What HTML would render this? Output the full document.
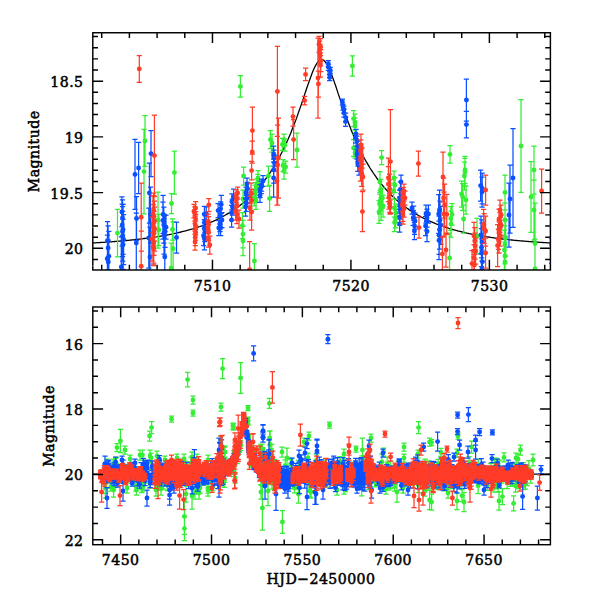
<!DOCTYPE html><html><head><meta charset="utf-8"><title>Light curve</title><style>html,body{margin:0;padding:0;background:#fff}svg{display:block}text{fill:#000}</style></head><body>
<svg width="600" height="600" viewBox="0 0 600 600">
<rect width="600" height="600" fill="#fff"/>
<defs><clipPath id="ct"><rect x="92.8" y="32.75" width="457.59999999999997" height="237.25"/></clipPath><clipPath id="cb"><rect x="92.8" y="307.0" width="457.59999999999997" height="237.70000000000005"/></clipPath></defs>
<path clip-path="url(#ct)" d="M87.6 243.3 L88.8 243.2 L89.9 243.1 L91.1 243.1 L92.3 243.0 L93.5 242.9 L94.7 242.9 L95.8 242.8 L97.0 242.7 L98.2 242.7 L99.4 242.6 L100.6 242.5 L101.8 242.4 L102.9 242.4 L104.1 242.3 L105.3 242.2 L106.5 242.1 L107.7 242.0 L108.8 242.0 L110.0 241.9 L111.2 241.8 L112.4 241.7 L113.6 241.6 L114.8 241.5 L115.9 241.4 L117.1 241.3 L118.3 241.2 L119.5 241.1 L120.7 241.0 L121.8 240.9 L123.0 240.8 L124.2 240.7 L125.4 240.6 L126.6 240.5 L127.8 240.4 L128.9 240.3 L130.1 240.1 L131.3 240.0 L132.5 239.9 L133.7 239.8 L134.8 239.6 L136.0 239.5 L137.2 239.4 L138.4 239.2 L139.6 239.1 L140.8 239.0 L141.9 238.8 L143.1 238.7 L144.3 238.5 L145.5 238.4 L146.7 238.2 L147.8 238.1 L149.0 237.9 L150.2 237.7 L151.4 237.6 L152.6 237.4 L153.8 237.2 L154.9 237.0 L156.1 236.8 L157.3 236.7 L158.5 236.5 L159.7 236.3 L160.8 236.1 L162.0 235.9 L163.2 235.7 L164.4 235.5 L165.6 235.2 L166.8 235.0 L167.9 234.8 L169.1 234.6 L170.3 234.3 L171.5 234.1 L172.7 233.8 L173.8 233.6 L175.0 233.3 L176.2 233.1 L177.4 232.8 L178.6 232.5 L179.8 232.3 L180.9 232.0 L182.1 231.7 L183.3 231.4 L184.5 231.1 L185.7 230.8 L186.9 230.5 L188.0 230.1 L189.2 229.8 L190.4 229.5 L191.6 229.1 L192.8 228.8 L193.9 228.4 L195.1 228.0 L196.3 227.7 L197.5 227.3 L198.7 226.9 L199.9 226.5 L201.0 226.1 L202.2 225.6 L203.4 225.2 L204.6 224.8 L205.8 224.3 L206.9 223.9 L208.1 223.4 L209.3 222.9 L210.5 222.4 L211.7 221.9 L212.9 221.4 L214.0 220.9 L215.2 220.3 L216.4 219.8 L217.6 219.2 L218.8 218.6 L219.9 218.0 L221.1 217.4 L222.3 216.8 L223.5 216.1 L224.7 215.5 L225.9 214.8 L227.0 214.1 L228.2 213.4 L229.4 212.7 L230.6 212.0 L231.8 211.2 L232.9 210.4 L234.1 209.6 L235.3 208.8 L236.5 208.0 L237.7 207.1 L238.9 206.3 L240.0 205.4 L241.2 204.4 L242.4 203.5 L243.6 202.5 L244.8 201.5 L245.9 200.5 L247.1 199.5 L248.3 198.4 L249.5 197.3 L250.7 196.2 L251.9 195.0 L253.0 193.8 L254.2 192.6 L255.4 191.4 L256.6 190.1 L257.8 188.8 L258.9 187.4 L260.1 186.0 L261.3 184.6 L262.5 183.1 L263.7 181.6 L264.9 180.1 L266.0 178.5 L267.2 176.9 L268.4 175.2 L269.6 173.5 L270.8 171.7 L271.9 169.9 L273.1 168.0 L274.3 166.1 L275.5 164.1 L276.7 162.1 L277.9 160.0 L279.0 157.8 L280.2 155.6 L281.4 153.3 L282.6 151.0 L283.8 148.6 L284.9 146.1 L286.1 143.6 L287.3 141.0 L288.5 138.3 L289.7 135.5 L290.9 132.7 L292.0 129.8 L293.2 126.8 L294.4 123.7 L295.6 120.6 L296.8 117.4 L297.9 114.1 L299.1 110.8 L300.3 107.4 L301.5 103.9 L302.7 100.4 L303.9 96.9 L305.0 93.4 L306.2 89.8 L307.4 86.3 L308.6 82.9 L309.8 79.5 L311.0 76.2 L312.1 73.2 L313.3 70.3 L314.5 67.6 L315.7 65.3 L316.9 63.3 L318.0 61.7 L319.2 60.5 L320.4 59.8 L321.6 59.6 L322.8 59.8 L324.0 60.5 L325.1 61.7 L326.3 63.3 L327.5 65.3 L328.7 67.7 L329.9 70.3 L331.0 73.2 L332.2 76.3 L333.4 79.5 L334.6 82.9 L335.8 86.3 L337.0 89.9 L338.1 93.4 L339.3 96.9 L340.5 100.4 L341.7 103.9 L342.9 107.4 L344.0 110.8 L345.2 114.1 L346.4 117.4 L347.6 120.6 L348.8 123.7 L350.0 126.8 L351.1 129.8 L352.3 132.7 L353.5 135.5 L354.7 138.3 L355.9 141.0 L357.0 143.6 L358.2 146.1 L359.4 148.6 L360.6 151.0 L361.8 153.4 L363.0 155.6 L364.1 157.8 L365.3 160.0 L366.5 162.1 L367.7 164.1 L368.9 166.1 L370.0 168.0 L371.2 169.9 L372.4 171.7 L373.6 173.5 L374.8 175.2 L376.0 176.9 L377.1 178.5 L378.3 180.1 L379.5 181.6 L380.7 183.2 L381.9 184.6 L383.0 186.0 L384.2 187.4 L385.4 188.8 L386.6 190.1 L387.8 191.4 L389.0 192.6 L390.1 193.8 L391.3 195.0 L392.5 196.2 L393.7 197.3 L394.9 198.4 L396.0 199.5 L397.2 200.5 L398.4 201.5 L399.6 202.5 L400.8 203.5 L402.0 204.4 L403.1 205.4 L404.3 206.3 L405.5 207.1 L406.7 208.0 L407.9 208.8 L409.0 209.6 L410.2 210.4 L411.4 211.2 L412.6 212.0 L413.8 212.7 L415.0 213.4 L416.1 214.1 L417.3 214.8 L418.5 215.5 L419.7 216.1 L420.9 216.8 L422.0 217.4 L423.2 218.0 L424.4 218.6 L425.6 219.2 L426.8 219.8 L428.0 220.3 L429.1 220.9 L430.3 221.4 L431.5 221.9 L432.7 222.4 L433.9 222.9 L435.1 223.4 L436.2 223.9 L437.4 224.3 L438.6 224.8 L439.8 225.2 L441.0 225.6 L442.1 226.1 L443.3 226.5 L444.5 226.9 L445.7 227.3 L446.9 227.7 L448.1 228.0 L449.2 228.4 L450.4 228.8 L451.6 229.1 L452.8 229.5 L454.0 229.8 L455.1 230.1 L456.3 230.5 L457.5 230.8 L458.7 231.1 L459.9 231.4 L461.1 231.7 L462.2 232.0 L463.4 232.3 L464.6 232.5 L465.8 232.8 L467.0 233.1 L468.1 233.3 L469.3 233.6 L470.5 233.8 L471.7 234.1 L472.9 234.3 L474.1 234.6 L475.2 234.8 L476.4 235.0 L477.6 235.2 L478.8 235.5 L480.0 235.7 L481.1 235.9 L482.3 236.1 L483.5 236.3 L484.7 236.5 L485.9 236.7 L487.1 236.8 L488.2 237.0 L489.4 237.2 L490.6 237.4 L491.8 237.6 L493.0 237.7 L494.1 237.9 L495.3 238.1 L496.5 238.2 L497.7 238.4 L498.9 238.5 L500.1 238.7 L501.2 238.8 L502.4 239.0 L503.6 239.1 L504.8 239.2 L506.0 239.4 L507.1 239.5 L508.3 239.6 L509.5 239.8 L510.7 239.9 L511.9 240.0 L513.1 240.1 L514.2 240.3 L515.4 240.4 L516.6 240.5 L517.8 240.6 L519.0 240.7 L520.1 240.8 L521.3 240.9 L522.5 241.0 L523.7 241.1 L524.9 241.2 L526.1 241.3 L527.2 241.4 L528.4 241.5 L529.6 241.6 L530.8 241.7 L532.0 241.8 L533.1 241.9 L534.3 242.0 L535.5 242.0 L536.7 242.1 L537.9 242.2 L539.1 242.3 L540.2 242.4 L541.4 242.4 L542.6 242.5 L543.8 242.6 L545.0 242.7 L546.1 242.7 L547.3 242.8 L548.5 242.9 L549.7 242.9 L550.9 243.0 L552.1 243.1 L553.2 243.1 L554.4 243.2 L555.6 243.3 L556.8 243.3 L558.0 243.4 L559.1 243.4" fill="none" stroke="#000" stroke-width="1.3"/>
<path clip-path="url(#cb)" d="M91.6 474.1 L92.3 474.1 L92.9 474.1 L93.6 474.1 L94.2 474.1 L94.9 474.1 L95.5 474.1 L96.2 474.1 L96.9 474.1 L97.5 474.1 L98.2 474.1 L98.8 474.1 L99.5 474.1 L100.1 474.1 L100.8 474.1 L101.5 474.1 L102.1 474.1 L102.8 474.1 L103.4 474.1 L104.1 474.1 L104.8 474.1 L105.4 474.1 L106.1 474.1 L106.7 474.1 L107.4 474.1 L108.0 474.1 L108.7 474.1 L109.4 474.1 L110.0 474.1 L110.7 474.1 L111.3 474.1 L112.0 474.1 L112.6 474.1 L113.3 474.1 L114.0 474.1 L114.6 474.1 L115.3 474.1 L115.9 474.1 L116.6 474.1 L117.2 474.1 L117.9 474.1 L118.6 474.1 L119.2 474.1 L119.9 474.1 L120.5 474.1 L121.2 474.1 L121.9 474.1 L122.5 474.1 L123.2 474.1 L123.8 474.1 L124.5 474.1 L125.1 474.1 L125.8 474.1 L126.5 474.1 L127.1 474.1 L127.8 474.1 L128.4 474.1 L129.1 474.1 L129.7 474.1 L130.4 474.1 L131.1 474.1 L131.7 474.1 L132.4 474.1 L133.0 474.1 L133.7 474.1 L134.3 474.1 L135.0 474.1 L135.7 474.1 L136.3 474.1 L137.0 474.1 L137.6 474.1 L138.3 474.1 L138.9 474.1 L139.6 474.1 L140.3 474.1 L140.9 474.1 L141.6 474.1 L142.2 474.1 L142.9 474.1 L143.6 474.1 L144.2 474.1 L144.9 474.1 L145.5 474.1 L146.2 474.1 L146.8 474.1 L147.5 474.1 L148.2 474.1 L148.8 474.1 L149.5 474.1 L150.1 474.1 L150.8 474.1 L151.4 474.1 L152.1 474.0 L152.8 474.0 L153.4 474.0 L154.1 474.0 L154.7 474.0 L155.4 474.0 L156.0 474.0 L156.7 474.0 L157.4 474.0 L158.0 474.0 L158.7 474.0 L159.3 474.0 L160.0 474.0 L160.7 474.0 L161.3 474.0 L162.0 474.0 L162.6 474.0 L163.3 474.0 L163.9 474.0 L164.6 474.0 L165.3 474.0 L165.9 474.0 L166.6 474.0 L167.2 474.0 L167.9 474.0 L168.5 474.0 L169.2 474.0 L169.9 474.0 L170.5 474.0 L171.2 474.0 L171.8 474.0 L172.5 474.0 L173.1 474.0 L173.8 474.0 L174.5 474.0 L175.1 474.0 L175.8 474.0 L176.4 474.0 L177.1 474.0 L177.8 474.0 L178.4 474.0 L179.1 474.0 L179.7 474.0 L180.4 474.0 L181.0 474.0 L181.7 474.0 L182.4 474.0 L183.0 474.0 L183.7 473.9 L184.3 473.9 L185.0 473.9 L185.6 473.9 L186.3 473.9 L187.0 473.9 L187.6 473.9 L188.3 473.9 L188.9 473.9 L189.6 473.9 L190.2 473.9 L190.9 473.9 L191.6 473.9 L192.2 473.9 L192.9 473.8 L193.5 473.8 L194.2 473.8 L194.8 473.8 L195.5 473.8 L196.2 473.8 L196.8 473.8 L197.5 473.8 L198.1 473.7 L198.8 473.7 L199.5 473.7 L200.1 473.7 L200.8 473.7 L201.4 473.6 L202.1 473.6 L202.7 473.6 L203.4 473.6 L204.1 473.5 L204.7 473.5 L205.4 473.5 L206.0 473.4 L206.7 473.4 L207.3 473.4 L208.0 473.3 L208.7 473.3 L209.3 473.2 L210.0 473.2 L210.6 473.1 L211.3 473.1 L211.9 473.0 L212.6 472.9 L213.3 472.9 L213.9 472.8 L214.6 472.7 L215.2 472.6 L215.9 472.5 L216.6 472.4 L217.2 472.3 L217.9 472.2 L218.5 472.0 L219.2 471.9 L219.8 471.7 L220.5 471.6 L221.2 471.4 L221.8 471.2 L222.5 470.9 L223.1 470.7 L223.8 470.4 L224.4 470.1 L225.1 469.8 L225.8 469.5 L226.4 469.1 L227.1 468.6 L227.7 468.2 L228.4 467.7 L229.0 467.1 L229.7 466.5 L230.4 465.8 L231.0 465.1 L231.7 464.2 L232.3 463.3 L233.0 462.3 L233.7 461.2 L234.3 459.9 L235.0 458.5 L235.6 456.9 L236.3 455.2 L236.9 453.2 L237.6 451.0 L238.3 448.5 L238.9 445.7 L239.6 442.6 L240.2 439.0 L240.9 435.1 L241.5 430.8 L242.2 426.5 L242.9 422.4 L243.5 419.7 L244.2 419.1 L244.8 421.0 L245.5 424.6 L246.1 428.9 L246.8 433.2 L247.5 437.3 L248.1 441.0 L248.8 444.3 L249.4 447.3 L250.1 449.9 L250.8 452.2 L251.4 454.3 L252.1 456.2 L252.7 457.8 L253.4 459.3 L254.0 460.6 L254.7 461.8 L255.4 462.9 L256.0 463.8 L256.7 464.7 L257.3 465.5 L258.0 466.2 L258.6 466.8 L259.3 467.4 L260.0 468.0 L260.6 468.4 L261.3 468.9 L261.9 469.3 L262.6 469.7 L263.2 470.0 L263.9 470.3 L264.6 470.6 L265.2 470.8 L265.9 471.1 L266.5 471.3 L267.2 471.5 L267.8 471.6 L268.5 471.8 L269.2 472.0 L269.8 472.1 L270.5 472.2 L271.1 472.4 L271.8 472.5 L272.5 472.6 L273.1 472.7 L273.8 472.8 L274.4 472.8 L275.1 472.9 L275.7 473.0 L276.4 473.1 L277.1 473.1 L277.7 473.2 L278.4 473.2 L279.0 473.3 L279.7 473.3 L280.3 473.4 L281.0 473.4 L281.7 473.4 L282.3 473.5 L283.0 473.5 L283.6 473.5 L284.3 473.6 L284.9 473.6 L285.6 473.6 L286.3 473.6 L286.9 473.7 L287.6 473.7 L288.2 473.7 L288.9 473.7 L289.6 473.7 L290.2 473.7 L290.9 473.8 L291.5 473.8 L292.2 473.8 L292.8 473.8 L293.5 473.8 L294.2 473.8 L294.8 473.8 L295.5 473.9 L296.1 473.9 L296.8 473.9 L297.4 473.9 L298.1 473.9 L298.8 473.9 L299.4 473.9 L300.1 473.9 L300.7 473.9 L301.4 473.9 L302.0 473.9 L302.7 473.9 L303.4 473.9 L304.0 473.9 L304.7 474.0 L305.3 474.0 L306.0 474.0 L306.7 474.0 L307.3 474.0 L308.0 474.0 L308.6 474.0 L309.3 474.0 L309.9 474.0 L310.6 474.0 L311.3 474.0 L311.9 474.0 L312.6 474.0 L313.2 474.0 L313.9 474.0 L314.5 474.0 L315.2 474.0 L315.9 474.0 L316.5 474.0 L317.2 474.0 L317.8 474.0 L318.5 474.0 L319.1 474.0 L319.8 474.0 L320.5 474.0 L321.1 474.0 L321.8 474.0 L322.4 474.0 L323.1 474.0 L323.8 474.0 L324.4 474.0 L325.1 474.0 L325.7 474.0 L326.4 474.0 L327.0 474.0 L327.7 474.0 L328.4 474.0 L329.0 474.0 L329.7 474.0 L330.3 474.0 L331.0 474.0 L331.6 474.0 L332.3 474.0 L333.0 474.0 L333.6 474.0 L334.3 474.0 L334.9 474.0 L335.6 474.0 L336.2 474.1 L336.9 474.1 L337.6 474.1 L338.2 474.1 L338.9 474.1 L339.5 474.1 L340.2 474.1 L340.8 474.1 L341.5 474.1 L342.2 474.1 L342.8 474.1 L343.5 474.1 L344.1 474.1 L344.8 474.1 L345.5 474.1 L346.1 474.1 L346.8 474.1 L347.4 474.1 L348.1 474.1 L348.7 474.1 L349.4 474.1 L350.1 474.1 L350.7 474.1 L351.4 474.1 L352.0 474.1 L352.7 474.1 L353.3 474.1 L354.0 474.1 L354.7 474.1 L355.3 474.1 L356.0 474.1 L356.6 474.1 L357.3 474.1 L357.9 474.1 L358.6 474.1 L359.3 474.1 L359.9 474.1 L360.6 474.1 L361.2 474.1 L361.9 474.1 L362.6 474.1 L363.2 474.1 L363.9 474.1 L364.5 474.1 L365.2 474.1 L365.8 474.1 L366.5 474.1 L367.2 474.1 L367.8 474.1 L368.5 474.1 L369.1 474.1 L369.8 474.1 L370.4 474.1 L371.1 474.1 L371.8 474.1 L372.4 474.1 L373.1 474.1 L373.7 474.1 L374.4 474.1 L375.0 474.1 L375.7 474.1 L376.4 474.1 L377.0 474.1 L377.7 474.1 L378.3 474.1 L379.0 474.1 L379.7 474.1 L380.3 474.1 L381.0 474.1 L381.6 474.1 L382.3 474.1 L382.9 474.1 L383.6 474.1 L384.3 474.1 L384.9 474.1 L385.6 474.1 L386.2 474.1 L386.9 474.1 L387.5 474.1 L388.2 474.1 L388.9 474.1 L389.5 474.1 L390.2 474.1 L390.8 474.1 L391.5 474.1 L392.1 474.1 L392.8 474.1 L393.5 474.1 L394.1 474.1 L394.8 474.1 L395.4 474.1 L396.1 474.1 L396.8 474.1 L397.4 474.1 L398.1 474.1 L398.7 474.1 L399.4 474.1 L400.0 474.1 L400.7 474.1 L401.4 474.1 L402.0 474.1 L402.7 474.1 L403.3 474.1 L404.0 474.1 L404.6 474.1 L405.3 474.1 L406.0 474.1 L406.6 474.1 L407.3 474.1 L407.9 474.1 L408.6 474.1 L409.2 474.1 L409.9 474.1 L410.6 474.1 L411.2 474.1 L411.9 474.1 L412.5 474.1 L413.2 474.1 L413.8 474.1 L414.5 474.1 L415.2 474.1 L415.8 474.1 L416.5 474.1 L417.1 474.1 L417.8 474.1 L418.5 474.1 L419.1 474.1 L419.8 474.1 L420.4 474.1 L421.1 474.1 L421.7 474.1 L422.4 474.1 L423.1 474.1 L423.7 474.1 L424.4 474.1 L425.0 474.1 L425.7 474.1 L426.3 474.1 L427.0 474.1 L427.7 474.1 L428.3 474.1 L429.0 474.1 L429.6 474.1 L430.3 474.1 L430.9 474.1 L431.6 474.1 L432.3 474.1 L432.9 474.1 L433.6 474.1 L434.2 474.1 L434.9 474.1 L435.6 474.1 L436.2 474.1 L436.9 474.1 L437.5 474.1 L438.2 474.1 L438.8 474.1 L439.5 474.1 L440.2 474.1 L440.8 474.1 L441.5 474.1 L442.1 474.1 L442.8 474.1 L443.4 474.1 L444.1 474.1 L444.8 474.1 L445.4 474.1 L446.1 474.1 L446.7 474.1 L447.4 474.1 L448.0 474.1 L448.7 474.1 L449.4 474.1 L450.0 474.1 L450.7 474.1 L451.3 474.1 L452.0 474.1 L452.7 474.1 L453.3 474.1 L454.0 474.1 L454.6 474.1 L455.3 474.1 L455.9 474.1 L456.6 474.1 L457.3 474.1 L457.9 474.1 L458.6 474.1 L459.2 474.1 L459.9 474.1 L460.5 474.1 L461.2 474.1 L461.9 474.1 L462.5 474.1 L463.2 474.1 L463.8 474.1 L464.5 474.1 L465.1 474.1 L465.8 474.1 L466.5 474.1 L467.1 474.1 L467.8 474.1 L468.4 474.1 L469.1 474.1 L469.7 474.1 L470.4 474.1 L471.1 474.1 L471.7 474.1 L472.4 474.1 L473.0 474.1 L473.7 474.1 L474.4 474.1 L475.0 474.1 L475.7 474.1 L476.3 474.1 L477.0 474.1 L477.6 474.1 L478.3 474.1 L479.0 474.1 L479.6 474.1 L480.3 474.1 L480.9 474.1 L481.6 474.1 L482.2 474.1 L482.9 474.1 L483.6 474.1 L484.2 474.1 L484.9 474.1 L485.5 474.1 L486.2 474.1 L486.8 474.1 L487.5 474.1 L488.2 474.1 L488.8 474.1 L489.5 474.1 L490.1 474.1 L490.8 474.1 L491.5 474.1 L492.1 474.1 L492.8 474.1 L493.4 474.1 L494.1 474.1 L494.7 474.1 L495.4 474.1 L496.1 474.1 L496.7 474.1 L497.4 474.1 L498.0 474.1 L498.7 474.1 L499.3 474.1 L500.0 474.1 L500.7 474.1 L501.3 474.1 L502.0 474.1 L502.6 474.1 L503.3 474.1 L503.9 474.1 L504.6 474.1 L505.3 474.1 L505.9 474.1 L506.6 474.1 L507.2 474.1 L507.9 474.1 L508.6 474.1 L509.2 474.1 L509.9 474.1 L510.5 474.1 L511.2 474.1 L511.8 474.1 L512.5 474.1 L513.2 474.1 L513.8 474.1 L514.5 474.1 L515.1 474.1 L515.8 474.1 L516.4 474.1 L517.1 474.1 L517.8 474.1 L518.4 474.1 L519.1 474.1 L519.7 474.1 L520.4 474.1 L521.0 474.1 L521.7 474.1 L522.4 474.1 L523.0 474.1 L523.7 474.1 L524.3 474.1 L525.0 474.1 L525.7 474.1 L526.3 474.1 L527.0 474.1 L527.6 474.1 L528.3 474.1 L528.9 474.1 L529.6 474.1 L530.3 474.1 L530.9 474.1 L531.6 474.1 L532.2 474.1 L532.9 474.1 L533.5 474.1 L534.2 474.1 L534.9 474.1 L535.5 474.1 L536.2 474.1 L536.8 474.1 L537.5 474.1 L538.1 474.1 L538.8 474.1 L539.5 474.1 L540.1 474.1 L540.8 474.1 L541.4 474.1 L542.1 474.1 L542.7 474.1 L543.4 474.1 L544.1 474.1 L544.7 474.1 L545.4 474.1 L546.0 474.1 L546.7 474.1 L547.4 474.1 L548.0 474.1 L548.7 474.1 L549.3 474.1 L550.0 474.1 L550.6 474.1 L551.3 474.1" fill="none" stroke="#000" stroke-width="1.3"/>
<g clip-path="url(#cb)" stroke-width="1.25" stroke-linecap="butt"><g stroke="#33ee33" fill="#33ee33"><path fill="none" d="M103.6 471.5V484.2M101.0 471.5h5.2M101.0 484.2h5.2M105.7 474.0V493.2M103.1 474.0h5.2M103.1 493.2h5.2M105.5 471.5V493.5M102.9 471.5h5.2M102.9 493.5h5.2M105.4 478.2V498.2M102.8 478.2h5.2M102.8 498.2h5.2M110.8 482.5V491.2M108.2 482.5h5.2M108.2 491.2h5.2M111.0 472.6V488.3M108.4 472.6h5.2M108.4 488.3h5.2M113.0 459.2V470.9M110.4 459.2h5.2M110.4 470.9h5.2M112.8 466.8V476.1M110.2 466.8h5.2M110.2 476.1h5.2M114.5 478.1V487.5M111.9 478.1h5.2M111.9 487.5h5.2M114.4 470.3V483.0M111.8 470.3h5.2M111.8 483.0h5.2M114.4 471.0V483.6M111.8 471.0h5.2M111.8 483.6h5.2M116.3 457.3V470.0M113.7 457.3h5.2M113.7 470.0h5.2M125.6 464.9V471.8M123.0 464.9h5.2M123.0 471.8h5.2M125.4 470.5V481.5M122.8 470.5h5.2M122.8 481.5h5.2M129.2 470.4V479.8M126.6 470.4h5.2M126.6 479.8h5.2M134.6 473.6V482.3M132.0 473.6h5.2M132.0 482.3h5.2M134.4 473.5V481.4M131.8 473.5h5.2M131.8 481.4h5.2M134.8 466.9V476.6M132.2 466.9h5.2M132.2 476.6h5.2M138.1 466.5V477.0M135.5 466.5h5.2M135.5 477.0h5.2M141.8 482.2V492.7M139.2 482.2h5.2M139.2 492.7h5.2M141.8 472.9V489.4M139.2 472.9h5.2M139.2 489.4h5.2M141.7 476.0V492.7M139.1 476.0h5.2M139.1 492.7h5.2M143.6 475.4V484.9M141.0 475.4h5.2M141.0 484.9h5.2M143.7 471.3V477.9M141.1 471.3h5.2M141.1 477.9h5.2M145.6 468.9V483.1M143.0 468.9h5.2M143.0 483.1h5.2M149.2 469.1V488.0M146.6 469.1h5.2M146.6 488.0h5.2M154.7 465.1V471.8M152.1 465.1h5.2M152.1 471.8h5.2M156.4 477.2V487.2M153.8 477.2h5.2M153.8 487.2h5.2M156.4 468.3V478.3M153.8 468.3h5.2M153.8 478.3h5.2M159.9 464.8V481.0M157.3 464.8h5.2M157.3 481.0h5.2M160.1 472.1V488.9M157.5 472.1h5.2M157.5 488.9h5.2M160.0 471.6V486.7M157.4 471.6h5.2M157.4 486.7h5.2M163.5 477.9V489.1M160.9 477.9h5.2M160.9 489.1h5.2M163.5 470.4V478.4M160.9 470.4h5.2M160.9 478.4h5.2M163.7 472.2V481.8M161.1 472.2h5.2M161.1 481.8h5.2M165.6 477.6V486.1M163.0 477.6h5.2M163.0 486.1h5.2M165.3 474.5V482.6M162.7 474.5h5.2M162.7 482.6h5.2M167.2 462.2V470.1M164.6 462.2h5.2M164.6 470.1h5.2M167.1 475.2V483.2M164.5 475.2h5.2M164.5 483.2h5.2M167.3 479.2V490.7M164.7 479.2h5.2M164.7 490.7h5.2M170.8 462.9V481.0M168.2 462.9h5.2M168.2 481.0h5.2M170.9 463.9V477.1M168.3 463.9h5.2M168.3 477.1h5.2M171.0 471.3V485.6M168.4 471.3h5.2M168.4 485.6h5.2M172.7 459.7V472.3M170.1 459.7h5.2M170.1 472.3h5.2M174.7 466.5V474.4M172.1 466.5h5.2M172.1 474.4h5.2M174.7 460.1V471.4M172.1 460.1h5.2M172.1 471.4h5.2M176.4 476.1V486.9M173.8 476.1h5.2M173.8 486.9h5.2M176.5 474.5V486.9M173.9 474.5h5.2M173.9 486.9h5.2M176.4 470.9V484.7M173.8 470.9h5.2M173.8 484.7h5.2M178.2 466.6V482.8M175.6 466.6h5.2M175.6 482.8h5.2M180.0 461.3V470.8M177.4 461.3h5.2M177.4 470.8h5.2M181.8 463.1V479.1M179.2 463.1h5.2M179.2 479.1h5.2M183.6 465.6V476.7M181.0 465.6h5.2M181.0 476.7h5.2M183.7 458.5V472.6M181.1 458.5h5.2M181.1 472.6h5.2M185.3 461.2V469.4M182.7 461.2h5.2M182.7 469.4h5.2M185.4 477.0V484.7M182.8 477.0h5.2M182.8 484.7h5.2M185.5 462.6V477.4M182.9 462.6h5.2M182.9 477.4h5.2M190.8 461.8V479.4M188.2 461.8h5.2M188.2 479.4h5.2M190.9 457.2V469.9M188.3 457.2h5.2M188.3 469.9h5.2M191.1 471.3V483.8M188.5 471.3h5.2M188.5 483.8h5.2M192.7 473.9V487.5M190.1 473.9h5.2M190.1 487.5h5.2M194.4 460.2V470.9M191.8 460.2h5.2M191.8 470.9h5.2M194.4 458.3V467.2M191.8 458.3h5.2M191.8 467.2h5.2M196.3 476.6V490.9M193.7 476.6h5.2M193.7 490.9h5.2M203.6 470.2V480.4M201.0 470.2h5.2M201.0 480.4h5.2M203.7 478.5V485.3M201.1 478.5h5.2M201.1 485.3h5.2M203.5 464.7V478.8M200.9 464.7h5.2M200.9 478.8h5.2M207.2 460.5V473.6M204.6 460.5h5.2M204.6 473.6h5.2M207.4 472.3V482.8M204.8 472.3h5.2M204.8 482.8h5.2M210.9 477.2V482.7M208.3 477.2h5.2M208.3 482.7h5.2M212.8 468.0V478.7M210.2 468.0h5.2M210.2 478.7h5.2M212.8 460.8V476.9M210.2 460.8h5.2M210.2 476.9h5.2M212.6 483.5V490.7M210.0 483.5h5.2M210.0 490.7h5.2M274.6 459.6V469.1M272.0 459.6h5.2M272.0 469.1h5.2M274.6 477.9V490.1M272.0 477.9h5.2M272.0 490.1h5.2M274.7 469.4V482.6M272.1 469.4h5.2M272.1 482.6h5.2M276.2 477.5V488.5M273.6 477.5h5.2M273.6 488.5h5.2M276.4 461.2V469.9M273.8 461.2h5.2M273.8 469.9h5.2M276.4 469.7V480.6M273.8 469.7h5.2M273.8 480.6h5.2M281.9 476.6V486.2M279.3 476.6h5.2M279.3 486.2h5.2M282.0 479.7V486.6M279.4 479.7h5.2M279.4 486.6h5.2M285.2 459.8V471.4M282.6 459.8h5.2M282.6 471.4h5.2M285.3 469.8V476.1M282.7 469.8h5.2M282.7 476.1h5.2M289.0 473.2V482.1M286.4 473.2h5.2M286.4 482.1h5.2M290.8 469.3V481.4M288.2 469.3h5.2M288.2 481.4h5.2M291.0 458.2V469.2M288.4 458.2h5.2M288.4 469.2h5.2M290.8 459.5V468.6M288.2 459.5h5.2M288.2 468.6h5.2M292.6 468.1V480.5M290.0 468.1h5.2M290.0 480.5h5.2M292.5 480.8V488.5M289.9 480.8h5.2M289.9 488.5h5.2M292.7 467.7V477.9M290.1 467.7h5.2M290.1 477.9h5.2M294.5 482.5V492.9M291.9 482.5h5.2M291.9 492.9h5.2M294.5 473.5V481.3M291.9 473.5h5.2M291.9 481.3h5.2M296.5 479.0V489.0M293.9 479.0h5.2M293.9 489.0h5.2M298.1 469.7V479.0M295.5 469.7h5.2M295.5 479.0h5.2M298.3 460.3V477.3M295.7 460.3h5.2M295.7 477.3h5.2M300.0 465.9V476.9M297.4 465.9h5.2M297.4 476.9h5.2M299.8 463.1V475.2M297.2 463.1h5.2M297.2 475.2h5.2M301.6 464.9V475.4M299.0 464.9h5.2M299.0 475.4h5.2M301.8 472.3V482.0M299.2 472.3h5.2M299.2 482.0h5.2M303.6 469.5V481.4M301.0 469.5h5.2M301.0 481.4h5.2M307.1 471.0V480.9M304.5 471.0h5.2M304.5 480.9h5.2M309.2 473.2V482.1M306.6 473.2h5.2M306.6 482.1h5.2M309.0 474.4V491.3M306.4 474.4h5.2M306.4 491.3h5.2M309.2 467.7V483.5M306.6 467.7h5.2M306.6 483.5h5.2M310.9 475.0V483.6M308.3 475.0h5.2M308.3 483.6h5.2M316.2 454.2V466.7M313.6 454.2h5.2M313.6 466.7h5.2M316.3 468.1V480.6M313.7 468.1h5.2M313.7 480.6h5.2M318.3 472.9V485.1M315.7 472.9h5.2M315.7 485.1h5.2M320.0 470.1V481.4M317.4 470.1h5.2M317.4 481.4h5.2M319.8 470.7V484.0M317.2 470.7h5.2M317.2 484.0h5.2M321.6 466.5V476.4M319.0 466.5h5.2M319.0 476.4h5.2M321.8 473.8V481.6M319.2 473.8h5.2M319.2 481.6h5.2M321.9 466.3V474.1M319.3 466.3h5.2M319.3 474.1h5.2M323.7 468.7V476.1M321.1 468.7h5.2M321.1 476.1h5.2M323.6 463.7V477.3M321.0 463.7h5.2M321.0 477.3h5.2M325.3 460.2V468.3M322.7 460.2h5.2M322.7 468.3h5.2M325.3 466.0V479.8M322.7 466.0h5.2M322.7 479.8h5.2M325.3 468.7V480.6M322.7 468.7h5.2M322.7 480.6h5.2M327.2 475.7V484.1M324.6 475.7h5.2M324.6 484.1h5.2M327.2 474.1V481.1M324.6 474.1h5.2M324.6 481.1h5.2M327.0 476.3V487.1M324.4 476.3h5.2M324.4 487.1h5.2M328.8 471.3V480.4M326.2 471.3h5.2M326.2 480.4h5.2M328.9 464.4V473.5M326.3 464.4h5.2M326.3 473.5h5.2M330.7 464.2V473.7M328.1 464.2h5.2M328.1 473.7h5.2M332.7 469.6V481.5M330.1 469.6h5.2M330.1 481.5h5.2M332.5 463.2V478.2M329.9 463.2h5.2M329.9 478.2h5.2M334.5 473.2V481.7M331.9 473.2h5.2M331.9 481.7h5.2M334.6 467.4V478.3M332.0 467.4h5.2M332.0 478.3h5.2M336.1 474.3V483.1M333.5 474.3h5.2M333.5 483.1h5.2M336.2 472.1V483.7M333.6 472.1h5.2M333.6 483.7h5.2M336.2 473.8V483.3M333.6 473.8h5.2M333.6 483.3h5.2M340.0 474.5V483.6M337.4 474.5h5.2M337.4 483.6h5.2M339.9 456.6V466.7M337.3 456.6h5.2M337.3 466.7h5.2M339.8 466.7V478.3M337.2 466.7h5.2M337.2 478.3h5.2M341.8 476.9V483.4M339.2 476.9h5.2M339.2 483.4h5.2M343.4 468.1V482.3M340.8 468.1h5.2M340.8 482.3h5.2M343.4 460.5V475.3M340.8 460.5h5.2M340.8 475.3h5.2M345.3 472.3V479.9M342.7 472.3h5.2M342.7 479.9h5.2M345.4 479.1V491.6M342.8 479.1h5.2M342.8 491.6h5.2M345.2 472.4V480.9M342.6 472.4h5.2M342.6 480.9h5.2M347.0 469.3V483.7M344.4 469.3h5.2M344.4 483.7h5.2M351.0 474.6V480.8M348.4 474.6h5.2M348.4 480.8h5.2M352.5 462.0V476.1M349.9 462.0h5.2M349.9 476.1h5.2M354.3 471.2V478.3M351.7 471.2h5.2M351.7 478.3h5.2M356.1 464.4V473.7M353.5 464.4h5.2M353.5 473.7h5.2M356.1 471.4V481.2M353.5 471.4h5.2M353.5 481.2h5.2M356.2 465.5V481.2M353.6 465.5h5.2M353.6 481.2h5.2M358.1 473.2V489.6M355.5 473.2h5.2M355.5 489.6h5.2M358.1 467.1V480.9M355.5 467.1h5.2M355.5 480.9h5.2M361.9 455.9V471.5M359.3 455.9h5.2M359.3 471.5h5.2M361.7 476.2V495.9M359.1 476.2h5.2M359.1 495.9h5.2M363.5 459.0V473.4M360.9 459.0h5.2M360.9 473.4h5.2M363.6 467.4V478.1M361.0 467.4h5.2M361.0 478.1h5.2M367.3 471.5V479.9M364.7 471.5h5.2M364.7 479.9h5.2M367.3 469.7V478.3M364.7 469.7h5.2M364.7 478.3h5.2M368.9 479.2V489.7M366.3 479.2h5.2M366.3 489.7h5.2M372.5 473.3V481.5M369.9 473.3h5.2M369.9 481.5h5.2M374.6 472.5V486.9M372.0 472.5h5.2M372.0 486.9h5.2M374.2 469.9V483.2M371.6 469.9h5.2M371.6 483.2h5.2M376.1 471.1V480.8M373.5 471.1h5.2M373.5 480.8h5.2M378.0 466.6V480.4M375.4 466.6h5.2M375.4 480.4h5.2M378.1 476.6V485.6M375.5 476.6h5.2M375.5 485.6h5.2M378.0 474.6V483.9M375.4 474.6h5.2M375.4 483.9h5.2M381.8 454.1V469.7M379.2 454.1h5.2M379.2 469.7h5.2M381.7 467.1V478.4M379.1 467.1h5.2M379.1 478.4h5.2M383.4 473.5V490.0M380.8 473.5h5.2M380.8 490.0h5.2M387.2 457.2V472.1M384.6 457.2h5.2M384.6 472.1h5.2M387.1 462.2V476.2M384.5 462.2h5.2M384.5 476.2h5.2M388.9 475.5V486.9M386.3 475.5h5.2M386.3 486.9h5.2M388.9 478.7V490.2M386.3 478.7h5.2M386.3 490.2h5.2M390.7 478.7V488.6M388.1 478.7h5.2M388.1 488.6h5.2M390.6 461.3V476.0M388.0 461.3h5.2M388.0 476.0h5.2M392.5 473.6V484.2M389.9 473.6h5.2M389.9 484.2h5.2M392.5 465.5V476.7M389.9 465.5h5.2M389.9 476.7h5.2M392.6 467.2V477.0M390.0 467.2h5.2M390.0 477.0h5.2M394.4 478.1V487.5M391.8 478.1h5.2M391.8 487.5h5.2M394.6 478.4V491.1M392.0 478.4h5.2M392.0 491.1h5.2M398.1 472.0V481.0M395.5 472.0h5.2M395.5 481.0h5.2M398.2 468.8V481.4M395.6 468.8h5.2M395.6 481.4h5.2M398.2 461.1V473.8M395.6 461.1h5.2M395.6 473.8h5.2M403.4 479.6V493.0M400.8 479.6h5.2M400.8 493.0h5.2M403.4 468.6V485.3M400.8 468.6h5.2M400.8 485.3h5.2M405.4 468.0V480.4M402.8 468.0h5.2M402.8 480.4h5.2M407.2 477.3V483.1M404.6 477.3h5.2M404.6 483.1h5.2M409.1 474.0V487.6M406.5 474.0h5.2M406.5 487.6h5.2M408.9 467.5V483.4M406.3 467.5h5.2M406.3 483.4h5.2M410.6 463.0V472.6M408.0 463.0h5.2M408.0 472.6h5.2M412.5 469.5V478.6M409.9 469.5h5.2M409.9 478.6h5.2M412.6 466.0V478.1M410.0 466.0h5.2M410.0 478.1h5.2M412.6 469.5V485.2M410.0 469.5h5.2M410.0 485.2h5.2M414.6 474.0V482.1M412.0 474.0h5.2M412.0 482.1h5.2M414.2 472.7V481.4M411.6 472.7h5.2M411.6 481.4h5.2M416.4 469.2V480.2M413.8 469.2h5.2M413.8 480.2h5.2M416.3 468.4V475.4M413.7 468.4h5.2M413.7 475.4h5.2M416.4 462.5V471.2M413.8 462.5h5.2M413.8 471.2h5.2M418.0 472.0V480.7M415.4 472.0h5.2M415.4 480.7h5.2M418.1 476.7V492.7M415.5 476.7h5.2M415.5 492.7h5.2M418.2 461.4V469.4M415.6 461.4h5.2M415.6 469.4h5.2M419.8 470.0V478.2M417.2 470.0h5.2M417.2 478.2h5.2M419.7 475.8V484.6M417.1 475.8h5.2M417.1 484.6h5.2M419.9 466.6V481.0M417.3 466.6h5.2M417.3 481.0h5.2M423.6 474.2V481.6M421.0 474.2h5.2M421.0 481.6h5.2M423.6 470.6V476.8M421.0 470.6h5.2M421.0 476.8h5.2M425.1 459.2V468.4M422.5 459.2h5.2M422.5 468.4h5.2M425.5 469.8V486.8M422.9 469.8h5.2M422.9 486.8h5.2M425.3 471.2V490.7M422.7 471.2h5.2M422.7 490.7h5.2M427.0 473.3V486.5M424.4 473.3h5.2M424.4 486.5h5.2M427.2 467.1V475.9M424.6 467.1h5.2M424.6 475.9h5.2M427.0 465.7V478.3M424.4 465.7h5.2M424.4 478.3h5.2M428.8 460.8V472.6M426.2 460.8h5.2M426.2 472.6h5.2M429.1 479.1V486.4M426.5 479.1h5.2M426.5 486.4h5.2M429.0 474.1V488.8M426.4 474.1h5.2M426.4 488.8h5.2M432.5 476.6V486.2M429.9 476.6h5.2M429.9 486.2h5.2M432.5 463.6V475.0M429.9 463.6h5.2M429.9 475.0h5.2M432.6 473.1V483.9M430.0 473.1h5.2M430.0 483.9h5.2M436.0 464.7V472.8M433.4 464.7h5.2M433.4 472.8h5.2M436.2 478.0V487.7M433.6 478.0h5.2M433.6 487.7h5.2M437.9 467.9V477.3M435.3 467.9h5.2M435.3 477.3h5.2M438.2 459.4V468.1M435.6 459.4h5.2M435.6 468.1h5.2M437.9 481.0V489.6M435.3 481.0h5.2M435.3 489.6h5.2M439.7 464.5V478.0M437.1 464.5h5.2M437.1 478.0h5.2M441.6 467.3V479.4M439.0 467.3h5.2M439.0 479.4h5.2M441.5 474.5V480.7M438.9 474.5h5.2M438.9 480.7h5.2M441.5 478.5V488.1M438.9 478.5h5.2M438.9 488.1h5.2M443.6 476.1V490.9M441.0 476.1h5.2M441.0 490.9h5.2M445.2 459.7V475.1M442.6 459.7h5.2M442.6 475.1h5.2M446.9 465.8V475.7M444.3 465.8h5.2M444.3 475.7h5.2M447.0 482.5V489.5M444.4 482.5h5.2M444.4 489.5h5.2M447.1 469.5V480.8M444.5 469.5h5.2M444.5 480.8h5.2M450.6 465.7V474.3M448.0 465.7h5.2M448.0 474.3h5.2M450.6 467.8V477.2M448.0 467.8h5.2M448.0 477.2h5.2M450.9 473.4V485.1M448.3 473.4h5.2M448.3 485.1h5.2M452.4 469.9V482.3M449.8 469.9h5.2M449.8 482.3h5.2M452.4 478.1V488.5M449.8 478.1h5.2M449.8 488.5h5.2M452.5 466.8V474.7M449.9 466.8h5.2M449.9 474.7h5.2M456.3 469.1V476.4M453.7 469.1h5.2M453.7 476.4h5.2M458.1 472.0V481.7M455.5 472.0h5.2M455.5 481.7h5.2M458.0 467.2V477.3M455.4 467.2h5.2M455.4 477.3h5.2M457.8 475.7V481.5M455.2 475.7h5.2M455.2 481.5h5.2M459.8 472.0V488.2M457.2 472.0h5.2M457.2 488.2h5.2M463.4 463.8V472.2M460.8 463.8h5.2M460.8 472.2h5.2M463.6 472.7V484.3M461.0 472.7h5.2M461.0 484.3h5.2M465.2 477.2V483.7M462.6 477.2h5.2M462.6 483.7h5.2M465.3 470.5V478.9M462.7 470.5h5.2M462.7 478.9h5.2M467.3 471.0V481.3M464.7 471.0h5.2M464.7 481.3h5.2M467.0 467.6V481.5M464.4 467.6h5.2M464.4 481.5h5.2M468.8 470.5V482.9M466.2 470.5h5.2M466.2 482.9h5.2M469.0 461.0V474.7M466.4 461.0h5.2M466.4 474.7h5.2M469.1 456.7V471.8M466.5 456.7h5.2M466.5 471.8h5.2M478.2 459.4V472.1M475.6 459.4h5.2M475.6 472.1h5.2M478.1 478.1V493.5M475.5 478.1h5.2M475.5 493.5h5.2M487.2 480.7V490.3M484.6 480.7h5.2M484.6 490.3h5.2M487.1 476.4V485.5M484.5 476.4h5.2M484.5 485.5h5.2M487.3 473.5V483.6M484.7 473.5h5.2M484.7 483.6h5.2M490.8 463.3V483.3M488.2 463.3h5.2M488.2 483.3h5.2M494.3 459.6V475.1M491.7 459.6h5.2M491.7 475.1h5.2M494.4 466.8V482.0M491.8 466.8h5.2M491.8 482.0h5.2M496.2 458.2V472.6M493.6 458.2h5.2M493.6 472.6h5.2M496.3 478.5V488.9M493.7 478.5h5.2M493.7 488.9h5.2M496.1 465.7V479.6M493.5 465.7h5.2M493.5 479.6h5.2M498.1 480.7V491.6M495.5 480.7h5.2M495.5 491.6h5.2M499.8 460.1V475.3M497.2 460.1h5.2M497.2 475.3h5.2M501.7 467.0V483.0M499.1 467.0h5.2M499.1 483.0h5.2M503.4 469.6V477.1M500.8 469.6h5.2M500.8 477.1h5.2M507.2 476.2V488.7M504.6 476.2h5.2M504.6 488.7h5.2M508.8 472.7V479.7M506.2 472.7h5.2M506.2 479.7h5.2M510.6 474.3V486.3M508.0 474.3h5.2M508.0 486.3h5.2M510.8 470.5V478.0M508.2 470.5h5.2M508.2 478.0h5.2M512.4 470.3V485.9M509.8 470.3h5.2M509.8 485.9h5.2M512.6 476.2V483.2M510.0 476.2h5.2M510.0 483.2h5.2M512.5 464.0V473.3M509.9 464.0h5.2M509.9 473.3h5.2M517.9 476.3V488.6M515.3 476.3h5.2M515.3 488.6h5.2M519.8 469.8V478.8M517.2 469.8h5.2M517.2 478.8h5.2M523.4 462.7V473.8M520.8 462.7h5.2M520.8 473.8h5.2M523.5 482.0V489.5M520.9 482.0h5.2M520.9 489.5h5.2M523.5 465.6V479.8M520.9 465.6h5.2M520.9 479.8h5.2M525.4 477.8V489.0M522.8 477.8h5.2M522.8 489.0h5.2M527.2 471.2V485.5M524.6 471.2h5.2M524.6 485.5h5.2M527.1 465.7V474.8M524.5 465.7h5.2M524.5 474.8h5.2M526.9 465.3V474.7M524.3 465.3h5.2M524.3 474.7h5.2M528.9 460.6V477.3M526.3 460.6h5.2M526.3 477.3h5.2M530.7 469.9V483.1M528.1 469.9h5.2M528.1 483.1h5.2M220.9 435.5V450.3M218.3 435.5h5.2M218.3 450.3h5.2M220.7 439.5V464.2M218.1 439.5h5.2M218.1 464.2h5.2M217.3 462.9V476.8M214.7 462.9h5.2M214.7 476.8h5.2M222.6 457.8V474.3M220.0 457.8h5.2M220.0 474.3h5.2M222.7 464.4V473.6M220.1 464.4h5.2M220.1 473.6h5.2M224.3 458.3V464.1M221.7 458.3h5.2M221.7 464.1h5.2M224.5 465.7V471.9M221.9 465.7h5.2M221.9 471.9h5.2M224.5 466.6V482.4M221.9 466.6h5.2M221.9 482.4h5.2M224.3 472.8V487.4M221.7 472.8h5.2M221.7 487.4h5.2M224.7 445.8V458.5M222.1 445.8h5.2M222.1 458.5h5.2M233.8 450.5V455.8M231.2 450.5h5.2M231.2 455.8h5.2M233.7 457.3V462.5M231.1 457.3h5.2M231.1 462.5h5.2M233.6 463.9V471.5M231.0 463.9h5.2M231.0 471.5h5.2M233.7 467.9V476.5M231.1 467.9h5.2M231.1 476.5h5.2M233.4 423.8V430.0M230.8 423.8h5.2M230.8 430.0h5.2M235.2 473.0V483.2M232.6 473.0h5.2M232.6 483.2h5.2M235.7 451.6V455.9M233.1 451.6h5.2M233.1 455.9h5.2M235.5 454.0V458.7M232.9 454.0h5.2M232.9 458.7h5.2M235.3 455.8V460.5M232.7 455.8h5.2M232.7 460.5h5.2M235.4 458.0V462.9M232.8 458.0h5.2M232.8 462.9h5.2M237.0 450.2V456.1M234.4 450.2h5.2M234.4 456.1h5.2M237.2 455.9V463.5M234.6 455.9h5.2M234.6 463.5h5.2M237.3 439.9V445.1M234.7 439.9h5.2M234.7 445.1h5.2M237.5 440.9V446.1M234.9 440.9h5.2M234.9 446.1h5.2M238.9 448.4V451.9M236.3 448.4h5.2M236.3 451.9h5.2M239.3 448.8V452.3M236.7 448.8h5.2M236.7 452.3h5.2M239.1 449.3V454.0M236.5 449.3h5.2M236.5 454.0h5.2M239.1 440.9V444.1M236.5 440.9h5.2M236.5 444.1h5.2M238.9 442.1V445.7M236.3 442.1h5.2M236.3 445.7h5.2M239.2 442.3V445.8M236.6 442.3h5.2M236.6 445.8h5.2M240.8 440.6V450.5M238.2 440.6h5.2M238.2 450.5h5.2M248.0 417.9V423.9M245.4 417.9h5.2M245.4 423.9h5.2M248.2 434.0V438.7M245.6 434.0h5.2M245.6 438.7h5.2M248.4 436.2V440.9M245.8 436.2h5.2M245.8 440.9h5.2M248.2 442.5V447.4M245.6 442.5h5.2M245.6 447.4h5.2M248.4 445.0V447.9M245.8 445.0h5.2M245.8 447.9h5.2M251.9 445.7V449.8M249.3 445.7h5.2M249.3 449.8h5.2M251.6 451.9V458.0M249.0 451.9h5.2M249.0 458.0h5.2M252.0 456.7V462.5M249.4 456.7h5.2M249.4 462.5h5.2M251.6 458.4V464.3M249.0 458.4h5.2M249.0 464.3h5.2M252.0 458.7V465.2M249.4 458.7h5.2M249.4 465.2h5.2M251.5 460.4V467.0M248.9 460.4h5.2M248.9 467.0h5.2M253.5 451.7V455.8M250.9 451.7h5.2M250.9 455.8h5.2M253.4 455.2V459.9M250.8 455.2h5.2M250.8 459.9h5.2M253.5 459.9V465.2M250.9 459.9h5.2M250.9 465.2h5.2M253.7 461.4V466.6M251.1 461.4h5.2M251.1 466.6h5.2M253.6 464.1V469.4M251.0 464.1h5.2M251.0 469.4h5.2M260.8 444.2V449.4M258.2 444.2h5.2M258.2 449.4h5.2M261.1 461.2V467.6M258.5 461.2h5.2M258.5 467.6h5.2M260.9 463.4V471.0M258.3 463.4h5.2M258.3 471.0h5.2M260.8 469.9V484.5M258.2 469.9h5.2M258.2 484.5h5.2M262.8 447.4V455.4M260.2 447.4h5.2M260.2 455.4h5.2M262.7 449.1V457.3M260.1 449.1h5.2M260.1 457.3h5.2M262.3 454.6V462.2M259.7 454.6h5.2M259.7 462.2h5.2M262.9 456.1V464.3M260.3 456.1h5.2M260.3 464.3h5.2M262.6 461.7V469.9M260.0 461.7h5.2M260.0 469.9h5.2M264.4 465.6V475.9M261.8 465.6h5.2M261.8 475.9h5.2M268.0 452.9V463.1M265.4 452.9h5.2M265.4 463.1h5.2M268.0 461.1V471.0M265.4 461.1h5.2M265.4 471.0h5.2M268.1 466.0V476.6M265.5 466.0h5.2M265.5 476.6h5.2M267.9 469.0V480.7M265.3 469.0h5.2M265.3 480.7h5.2M268.0 472.5V484.2M265.4 472.5h5.2M265.4 484.2h5.2M270.1 430.8V458.0M267.5 430.8h5.2M267.5 458.0h5.2M271.8 444.4V458.4M269.2 444.4h5.2M269.2 458.4h5.2M271.4 448.9V469.7M268.8 448.9h5.2M268.8 469.7h5.2M271.8 454.3V471.9M269.2 454.3h5.2M269.2 471.9h5.2M272.0 461.1V484.9M269.4 461.1h5.2M269.4 484.9h5.2M272.0 471.6V489.2M269.4 471.6h5.2M269.4 489.2h5.2M233.7 466.1V474.2M231.1 466.1h5.2M231.1 474.2h5.2M235.6 452.6V457.2M233.0 452.6h5.2M233.0 457.2h5.2M235.3 455.1V459.8M232.7 455.1h5.2M232.7 459.8h5.2M235.2 457.1V461.9M232.6 457.1h5.2M232.6 461.9h5.2M248.4 435.1V439.7M245.8 435.1h5.2M245.8 439.7h5.2M251.7 454.1V460.1M249.1 454.1h5.2M249.1 460.1h5.2M251.7 457.5V463.4M249.1 457.5h5.2M249.1 463.4h5.2M251.8 459.6V466.1M249.2 459.6h5.2M249.2 466.1h5.2M253.6 453.6V458.0M251.0 453.6h5.2M251.0 458.0h5.2M253.7 463.0V468.3M251.1 463.0h5.2M251.1 468.3h5.2M260.9 462.1V469.1M258.3 462.1h5.2M258.3 469.1h5.2M262.8 448.0V456.1M260.2 448.0h5.2M260.2 456.1h5.2M262.5 455.4V463.3M259.9 455.4h5.2M259.9 463.3h5.2M268.0 467.8V478.9M265.4 467.8h5.2M265.4 478.9h5.2M268.0 470.7V482.5M265.4 470.7h5.2M265.4 482.5h5.2M187.6 372.3V386.9M185.0 372.3h5.2M185.0 386.9h5.2M193.0 396.0V404.0M190.4 396.0h5.2M190.4 404.0h5.2M193.0 410.0V416.0M190.4 410.0h5.2M190.4 416.0h5.2M171.6 416.0V422.0M169.0 416.0h5.2M169.0 422.0h5.2M151.6 421.6V433.6M149.0 421.6h5.2M149.0 433.6h5.2M149.6 431.0V441.0M147.0 431.0h5.2M147.0 441.0h5.2M120.4 429.4V452.6M117.8 429.4h5.2M117.8 452.6h5.2M117.0 443.6V451.6M114.4 443.6h5.2M114.4 451.6h5.2M125.0 446.0V454.0M122.4 446.0h5.2M122.4 454.0h5.2M140.0 450.0V460.0M137.4 450.0h5.2M137.4 460.0h5.2M142.4 450.0V460.0M139.8 450.0h5.2M139.8 460.0h5.2M150.0 450.0V462.0M147.4 450.0h5.2M147.4 462.0h5.2M151.0 453.0V463.0M148.4 453.0h5.2M148.4 463.0h5.2M157.0 451.0V461.0M154.4 451.0h5.2M154.4 461.0h5.2M184.0 454.0V464.0M181.4 454.0h5.2M181.4 464.0h5.2M192.0 452.0V462.0M189.4 452.0h5.2M189.4 462.0h5.2M197.0 454.0V464.0M194.4 454.0h5.2M194.4 464.0h5.2M107.0 459.0V469.0M104.4 459.0h5.2M104.4 469.0h5.2M116.0 458.0V468.0M113.4 458.0h5.2M113.4 468.0h5.2M208.0 455.0V465.0M205.4 455.0h5.2M205.4 465.0h5.2M130.0 455.0V463.0M127.4 455.0h5.2M127.4 463.0h5.2M165.0 456.0V464.0M162.4 456.0h5.2M162.4 464.0h5.2M177.0 454.0V462.0M174.4 454.0h5.2M174.4 462.0h5.2M113.6 483.0V497.0M111.0 483.0h5.2M111.0 497.0h5.2M136.4 485.0V495.0M133.8 485.0h5.2M133.8 495.0h5.2M156.0 484.0V496.0M153.4 484.0h5.2M153.4 496.0h5.2M161.0 483.0V495.0M158.4 483.0h5.2M158.4 495.0h5.2M184.4 498.4V534.4M181.8 498.4h5.2M181.8 534.4h5.2M184.4 516.6V540.6M181.8 516.6h5.2M181.8 540.6h5.2M186.0 486.0V502.0M183.4 486.0h5.2M183.4 502.0h5.2M192.0 483.0V509.0M189.4 483.0h5.2M189.4 509.0h5.2M195.0 487.0V499.0M192.4 487.0h5.2M192.4 499.0h5.2M199.0 487.0V499.0M196.4 487.0h5.2M196.4 499.0h5.2M208.0 484.0V496.0M205.4 484.0h5.2M205.4 496.0h5.2M158.0 480.0V490.0M155.4 480.0h5.2M155.4 490.0h5.2M136.0 481.0V491.0M133.4 481.0h5.2M133.4 491.0h5.2M208.0 483.0V493.0M205.4 483.0h5.2M205.4 493.0h5.2M200.0 483.0V493.0M197.4 483.0h5.2M197.4 493.0h5.2M127.0 483.0V493.0M124.4 483.0h5.2M124.4 493.0h5.2M143.0 483.0V491.0M140.4 483.0h5.2M140.4 491.0h5.2M222.6 358.6V378.6M220.0 358.6h5.2M220.0 378.6h5.2M240.6 362.6V393.4M238.0 362.6h5.2M238.0 393.4h5.2M269.4 398.4V408.4M266.8 398.4h5.2M266.8 408.4h5.2M221.0 403.0V411.0M218.4 403.0h5.2M218.4 411.0h5.2M248.0 405.5V410.5M245.4 405.5h5.2M245.4 410.5h5.2M233.0 423.0V429.0M230.4 423.0h5.2M230.4 429.0h5.2M248.0 417.0V425.0M245.4 417.0h5.2M245.4 425.0h5.2M225.0 447.0V457.0M222.4 447.0h5.2M222.4 457.0h5.2M269.6 431.0V445.0M267.0 431.0h5.2M267.0 445.0h5.2M262.0 444.0V454.0M259.4 444.0h5.2M259.4 454.0h5.2M282.0 447.0V457.0M279.4 447.0h5.2M279.4 457.0h5.2M287.0 448.0V468.0M284.4 448.0h5.2M284.4 468.0h5.2M309.0 432.0V440.0M306.4 432.0h5.2M306.4 440.0h5.2M304.0 438.0V446.0M301.4 438.0h5.2M301.4 446.0h5.2M308.0 453.0V463.0M305.4 453.0h5.2M305.4 463.0h5.2M262.4 486.0V530.0M259.8 486.0h5.2M259.8 530.0h5.2M268.0 476.4V505.6M265.4 476.4h5.2M265.4 505.6h5.2M261.0 485.0V499.0M258.4 485.0h5.2M258.4 499.0h5.2M282.4 510.6V533.4M279.8 510.6h5.2M279.8 533.4h5.2M298.4 485.0V503.0M295.8 485.0h5.2M295.8 503.0h5.2M311.0 486.0V498.0M308.4 486.0h5.2M308.4 498.0h5.2M310.0 485.0V497.0M307.4 485.0h5.2M307.4 497.0h5.2M329.6 422.0V428.0M327.0 422.0h5.2M327.0 428.0h5.2M418.6 421.6V433.6M416.0 421.6h5.2M416.0 433.6h5.2M356.0 446.0V452.0M353.4 446.0h5.2M353.4 452.0h5.2M371.0 434.0V442.0M368.4 434.0h5.2M368.4 442.0h5.2M362.4 438.0V462.0M359.8 438.0h5.2M359.8 462.0h5.2M344.0 449.0V459.0M341.4 449.0h5.2M341.4 459.0h5.2M383.6 448.0V456.0M381.0 448.0h5.2M381.0 456.0h5.2M404.0 443.0V451.0M401.4 443.0h5.2M401.4 451.0h5.2M404.0 454.0V462.0M401.4 454.0h5.2M401.4 462.0h5.2M418.0 450.0V458.0M415.4 450.0h5.2M415.4 458.0h5.2M429.6 438.0V446.0M427.0 438.0h5.2M427.0 446.0h5.2M337.0 485.0V495.0M334.4 485.0h5.2M334.4 495.0h5.2M344.0 484.0V494.0M341.4 484.0h5.2M341.4 494.0h5.2M386.0 484.0V494.0M383.4 484.0h5.2M383.4 494.0h5.2M397.0 482.0V502.0M394.4 482.0h5.2M394.4 502.0h5.2M403.0 483.0V493.0M400.4 483.0h5.2M400.4 493.0h5.2M429.6 490.4V509.6M427.0 490.4h5.2M427.0 509.6h5.2M425.0 486.0V496.0M422.4 486.0h5.2M422.4 496.0h5.2M458.0 433.0V439.0M455.4 433.0h5.2M455.4 439.0h5.2M431.6 439.6V445.6M429.0 439.6h5.2M429.0 445.6h5.2M471.6 441.0V453.0M469.0 441.0h5.2M469.0 453.0h5.2M441.0 448.4V456.4M438.4 448.4h5.2M438.4 456.4h5.2M457.0 449.0V457.0M454.4 449.0h5.2M454.4 457.0h5.2M504.0 452.9V461.9M501.4 452.9h5.2M501.4 461.9h5.2M520.4 445.0V455.0M517.8 445.0h5.2M517.8 455.0h5.2M516.0 453.0V463.0M513.4 453.0h5.2M513.4 463.0h5.2M518.0 454.0V464.0M515.4 454.0h5.2M515.4 464.0h5.2M533.0 454.2V465.8M530.4 454.2h5.2M530.4 465.8h5.2M499.0 492.0V510.0M496.4 492.0h5.2M496.4 510.0h5.2M502.4 488.6V504.6M499.8 488.6h5.2M499.8 504.6h5.2M513.6 495.9V510.9M511.0 495.9h5.2M511.0 510.9h5.2M515.6 480.0V492.0M513.0 480.0h5.2M513.0 492.0h5.2M431.6 494.0V510.0M429.0 494.0h5.2M429.0 510.0h5.2M457.0 492.4V509.6M454.4 492.4h5.2M454.4 509.6h5.2M462.0 489.6V501.6M459.4 489.6h5.2M459.4 501.6h5.2M464.0 492.4V511.6M461.4 492.4h5.2M461.4 511.6h5.2M494.0 482.0V492.0M491.4 482.0h5.2M491.4 492.0h5.2M448.0 488.0V498.0M445.4 488.0h5.2M445.4 498.0h5.2"/><g stroke="none"><circle cx="103.6" cy="477.9" r="2.45"/><circle cx="105.7" cy="483.6" r="2.45"/><circle cx="105.5" cy="482.5" r="2.45"/><circle cx="105.4" cy="488.2" r="2.45"/><circle cx="110.8" cy="486.9" r="2.45"/><circle cx="111.0" cy="480.4" r="2.45"/><circle cx="113.0" cy="465.1" r="2.45"/><circle cx="112.8" cy="471.5" r="2.45"/><circle cx="114.5" cy="482.8" r="2.45"/><circle cx="114.4" cy="476.6" r="2.45"/><circle cx="114.4" cy="477.3" r="2.45"/><circle cx="116.3" cy="463.6" r="2.45"/><circle cx="125.6" cy="468.3" r="2.45"/><circle cx="125.4" cy="476.0" r="2.45"/><circle cx="129.2" cy="475.1" r="2.45"/><circle cx="134.6" cy="478.0" r="2.45"/><circle cx="134.4" cy="477.4" r="2.45"/><circle cx="134.8" cy="471.8" r="2.45"/><circle cx="138.1" cy="471.7" r="2.45"/><circle cx="141.8" cy="487.5" r="2.45"/><circle cx="141.8" cy="481.1" r="2.45"/><circle cx="141.7" cy="484.3" r="2.45"/><circle cx="143.6" cy="480.1" r="2.45"/><circle cx="143.7" cy="474.6" r="2.45"/><circle cx="145.6" cy="476.0" r="2.45"/><circle cx="149.2" cy="478.6" r="2.45"/><circle cx="154.7" cy="468.5" r="2.45"/><circle cx="156.4" cy="482.2" r="2.45"/><circle cx="156.4" cy="473.3" r="2.45"/><circle cx="159.9" cy="472.9" r="2.45"/><circle cx="160.1" cy="480.5" r="2.45"/><circle cx="160.0" cy="479.1" r="2.45"/><circle cx="163.5" cy="483.5" r="2.45"/><circle cx="163.5" cy="474.4" r="2.45"/><circle cx="163.7" cy="477.0" r="2.45"/><circle cx="165.6" cy="481.9" r="2.45"/><circle cx="165.3" cy="478.6" r="2.45"/><circle cx="167.2" cy="466.1" r="2.45"/><circle cx="167.1" cy="479.2" r="2.45"/><circle cx="167.3" cy="485.0" r="2.45"/><circle cx="170.8" cy="471.9" r="2.45"/><circle cx="170.9" cy="470.5" r="2.45"/><circle cx="171.0" cy="478.4" r="2.45"/><circle cx="172.7" cy="466.0" r="2.45"/><circle cx="174.7" cy="470.5" r="2.45"/><circle cx="174.7" cy="465.8" r="2.45"/><circle cx="176.4" cy="481.5" r="2.45"/><circle cx="176.5" cy="480.7" r="2.45"/><circle cx="176.4" cy="477.8" r="2.45"/><circle cx="178.2" cy="474.7" r="2.45"/><circle cx="180.0" cy="466.1" r="2.45"/><circle cx="181.8" cy="471.1" r="2.45"/><circle cx="183.6" cy="471.2" r="2.45"/><circle cx="183.7" cy="465.6" r="2.45"/><circle cx="185.3" cy="465.3" r="2.45"/><circle cx="185.4" cy="480.9" r="2.45"/><circle cx="185.5" cy="470.0" r="2.45"/><circle cx="190.8" cy="470.6" r="2.45"/><circle cx="190.9" cy="463.5" r="2.45"/><circle cx="191.1" cy="477.5" r="2.45"/><circle cx="192.7" cy="480.7" r="2.45"/><circle cx="194.4" cy="465.6" r="2.45"/><circle cx="194.4" cy="462.7" r="2.45"/><circle cx="196.3" cy="483.7" r="2.45"/><circle cx="203.6" cy="475.3" r="2.45"/><circle cx="203.7" cy="481.9" r="2.45"/><circle cx="203.5" cy="471.8" r="2.45"/><circle cx="207.2" cy="467.0" r="2.45"/><circle cx="207.4" cy="477.5" r="2.45"/><circle cx="210.9" cy="480.0" r="2.45"/><circle cx="212.8" cy="473.4" r="2.45"/><circle cx="212.8" cy="468.8" r="2.45"/><circle cx="212.6" cy="487.1" r="2.45"/><circle cx="274.6" cy="464.3" r="2.45"/><circle cx="274.6" cy="484.0" r="2.45"/><circle cx="274.7" cy="476.0" r="2.45"/><circle cx="276.2" cy="483.0" r="2.45"/><circle cx="276.4" cy="465.5" r="2.45"/><circle cx="276.4" cy="475.1" r="2.45"/><circle cx="281.9" cy="481.4" r="2.45"/><circle cx="282.0" cy="483.2" r="2.45"/><circle cx="285.2" cy="465.6" r="2.45"/><circle cx="285.3" cy="473.0" r="2.45"/><circle cx="289.0" cy="477.6" r="2.45"/><circle cx="290.8" cy="475.3" r="2.45"/><circle cx="291.0" cy="463.7" r="2.45"/><circle cx="290.8" cy="464.1" r="2.45"/><circle cx="292.6" cy="474.3" r="2.45"/><circle cx="292.5" cy="484.7" r="2.45"/><circle cx="292.7" cy="472.8" r="2.45"/><circle cx="294.5" cy="487.7" r="2.45"/><circle cx="294.5" cy="477.4" r="2.45"/><circle cx="296.5" cy="484.0" r="2.45"/><circle cx="298.1" cy="474.3" r="2.45"/><circle cx="298.3" cy="468.8" r="2.45"/><circle cx="300.0" cy="471.4" r="2.45"/><circle cx="299.8" cy="469.1" r="2.45"/><circle cx="301.6" cy="470.2" r="2.45"/><circle cx="301.8" cy="477.2" r="2.45"/><circle cx="303.6" cy="475.4" r="2.45"/><circle cx="307.1" cy="475.9" r="2.45"/><circle cx="309.2" cy="477.6" r="2.45"/><circle cx="309.0" cy="482.8" r="2.45"/><circle cx="309.2" cy="475.6" r="2.45"/><circle cx="310.9" cy="479.3" r="2.45"/><circle cx="316.2" cy="460.4" r="2.45"/><circle cx="316.3" cy="474.4" r="2.45"/><circle cx="318.3" cy="479.0" r="2.45"/><circle cx="320.0" cy="475.8" r="2.45"/><circle cx="319.8" cy="477.4" r="2.45"/><circle cx="321.6" cy="471.5" r="2.45"/><circle cx="321.8" cy="477.7" r="2.45"/><circle cx="321.9" cy="470.2" r="2.45"/><circle cx="323.7" cy="472.4" r="2.45"/><circle cx="323.6" cy="470.5" r="2.45"/><circle cx="325.3" cy="464.3" r="2.45"/><circle cx="325.3" cy="472.9" r="2.45"/><circle cx="325.3" cy="474.7" r="2.45"/><circle cx="327.2" cy="479.9" r="2.45"/><circle cx="327.2" cy="477.6" r="2.45"/><circle cx="327.0" cy="481.7" r="2.45"/><circle cx="328.8" cy="475.8" r="2.45"/><circle cx="328.9" cy="469.0" r="2.45"/><circle cx="330.7" cy="468.9" r="2.45"/><circle cx="332.7" cy="475.6" r="2.45"/><circle cx="332.5" cy="470.7" r="2.45"/><circle cx="334.5" cy="477.4" r="2.45"/><circle cx="334.6" cy="472.9" r="2.45"/><circle cx="336.1" cy="478.7" r="2.45"/><circle cx="336.2" cy="477.9" r="2.45"/><circle cx="336.2" cy="478.5" r="2.45"/><circle cx="340.0" cy="479.1" r="2.45"/><circle cx="339.9" cy="461.7" r="2.45"/><circle cx="339.8" cy="472.5" r="2.45"/><circle cx="341.8" cy="480.1" r="2.45"/><circle cx="343.4" cy="475.2" r="2.45"/><circle cx="343.4" cy="467.9" r="2.45"/><circle cx="345.3" cy="476.1" r="2.45"/><circle cx="345.4" cy="485.3" r="2.45"/><circle cx="345.2" cy="476.7" r="2.45"/><circle cx="347.0" cy="476.5" r="2.45"/><circle cx="351.0" cy="477.7" r="2.45"/><circle cx="352.5" cy="469.1" r="2.45"/><circle cx="354.3" cy="474.7" r="2.45"/><circle cx="356.1" cy="469.0" r="2.45"/><circle cx="356.1" cy="476.3" r="2.45"/><circle cx="356.2" cy="473.4" r="2.45"/><circle cx="358.1" cy="481.4" r="2.45"/><circle cx="358.1" cy="474.0" r="2.45"/><circle cx="361.9" cy="463.7" r="2.45"/><circle cx="361.7" cy="486.0" r="2.45"/><circle cx="363.5" cy="466.2" r="2.45"/><circle cx="363.6" cy="472.7" r="2.45"/><circle cx="367.3" cy="475.7" r="2.45"/><circle cx="367.3" cy="474.0" r="2.45"/><circle cx="368.9" cy="484.5" r="2.45"/><circle cx="372.5" cy="477.4" r="2.45"/><circle cx="374.6" cy="479.7" r="2.45"/><circle cx="374.2" cy="476.5" r="2.45"/><circle cx="376.1" cy="476.0" r="2.45"/><circle cx="378.0" cy="473.5" r="2.45"/><circle cx="378.1" cy="481.1" r="2.45"/><circle cx="378.0" cy="479.2" r="2.45"/><circle cx="381.8" cy="461.9" r="2.45"/><circle cx="381.7" cy="472.7" r="2.45"/><circle cx="383.4" cy="481.8" r="2.45"/><circle cx="387.2" cy="464.6" r="2.45"/><circle cx="387.1" cy="469.2" r="2.45"/><circle cx="388.9" cy="481.2" r="2.45"/><circle cx="388.9" cy="484.4" r="2.45"/><circle cx="390.7" cy="483.6" r="2.45"/><circle cx="390.6" cy="468.6" r="2.45"/><circle cx="392.5" cy="478.9" r="2.45"/><circle cx="392.5" cy="471.1" r="2.45"/><circle cx="392.6" cy="472.1" r="2.45"/><circle cx="394.4" cy="482.8" r="2.45"/><circle cx="394.6" cy="484.8" r="2.45"/><circle cx="398.1" cy="476.5" r="2.45"/><circle cx="398.2" cy="475.1" r="2.45"/><circle cx="398.2" cy="467.5" r="2.45"/><circle cx="403.4" cy="486.3" r="2.45"/><circle cx="403.4" cy="476.9" r="2.45"/><circle cx="405.4" cy="474.2" r="2.45"/><circle cx="407.2" cy="480.2" r="2.45"/><circle cx="409.1" cy="480.8" r="2.45"/><circle cx="408.9" cy="475.5" r="2.45"/><circle cx="410.6" cy="467.8" r="2.45"/><circle cx="412.5" cy="474.0" r="2.45"/><circle cx="412.6" cy="472.0" r="2.45"/><circle cx="412.6" cy="477.4" r="2.45"/><circle cx="414.6" cy="478.1" r="2.45"/><circle cx="414.2" cy="477.0" r="2.45"/><circle cx="416.4" cy="474.7" r="2.45"/><circle cx="416.3" cy="471.9" r="2.45"/><circle cx="416.4" cy="466.8" r="2.45"/><circle cx="418.0" cy="476.3" r="2.45"/><circle cx="418.1" cy="484.7" r="2.45"/><circle cx="418.2" cy="465.4" r="2.45"/><circle cx="419.8" cy="474.1" r="2.45"/><circle cx="419.7" cy="480.2" r="2.45"/><circle cx="419.9" cy="473.8" r="2.45"/><circle cx="423.6" cy="477.9" r="2.45"/><circle cx="423.6" cy="473.7" r="2.45"/><circle cx="425.1" cy="463.8" r="2.45"/><circle cx="425.5" cy="478.3" r="2.45"/><circle cx="425.3" cy="480.9" r="2.45"/><circle cx="427.0" cy="479.9" r="2.45"/><circle cx="427.2" cy="471.5" r="2.45"/><circle cx="427.0" cy="472.0" r="2.45"/><circle cx="428.8" cy="466.7" r="2.45"/><circle cx="429.1" cy="482.8" r="2.45"/><circle cx="429.0" cy="481.4" r="2.45"/><circle cx="432.5" cy="481.4" r="2.45"/><circle cx="432.5" cy="469.3" r="2.45"/><circle cx="432.6" cy="478.5" r="2.45"/><circle cx="436.0" cy="468.8" r="2.45"/><circle cx="436.2" cy="482.9" r="2.45"/><circle cx="437.9" cy="472.6" r="2.45"/><circle cx="438.2" cy="463.7" r="2.45"/><circle cx="437.9" cy="485.3" r="2.45"/><circle cx="439.7" cy="471.2" r="2.45"/><circle cx="441.6" cy="473.4" r="2.45"/><circle cx="441.5" cy="477.6" r="2.45"/><circle cx="441.5" cy="483.3" r="2.45"/><circle cx="443.6" cy="483.5" r="2.45"/><circle cx="445.2" cy="467.4" r="2.45"/><circle cx="446.9" cy="470.7" r="2.45"/><circle cx="447.0" cy="486.0" r="2.45"/><circle cx="447.1" cy="475.2" r="2.45"/><circle cx="450.6" cy="470.0" r="2.45"/><circle cx="450.6" cy="472.5" r="2.45"/><circle cx="450.9" cy="479.3" r="2.45"/><circle cx="452.4" cy="476.1" r="2.45"/><circle cx="452.4" cy="483.3" r="2.45"/><circle cx="452.5" cy="470.7" r="2.45"/><circle cx="456.3" cy="472.8" r="2.45"/><circle cx="458.1" cy="476.9" r="2.45"/><circle cx="458.0" cy="472.2" r="2.45"/><circle cx="457.8" cy="478.6" r="2.45"/><circle cx="459.8" cy="480.1" r="2.45"/><circle cx="463.4" cy="468.0" r="2.45"/><circle cx="463.6" cy="478.5" r="2.45"/><circle cx="465.2" cy="480.5" r="2.45"/><circle cx="465.3" cy="474.7" r="2.45"/><circle cx="467.3" cy="476.1" r="2.45"/><circle cx="467.0" cy="474.6" r="2.45"/><circle cx="468.8" cy="476.7" r="2.45"/><circle cx="469.0" cy="467.9" r="2.45"/><circle cx="469.1" cy="464.3" r="2.45"/><circle cx="478.2" cy="465.8" r="2.45"/><circle cx="478.1" cy="485.8" r="2.45"/><circle cx="487.2" cy="485.5" r="2.45"/><circle cx="487.1" cy="481.0" r="2.45"/><circle cx="487.3" cy="478.6" r="2.45"/><circle cx="490.8" cy="473.3" r="2.45"/><circle cx="494.3" cy="467.3" r="2.45"/><circle cx="494.4" cy="474.4" r="2.45"/><circle cx="496.2" cy="465.4" r="2.45"/><circle cx="496.3" cy="483.7" r="2.45"/><circle cx="496.1" cy="472.6" r="2.45"/><circle cx="498.1" cy="486.2" r="2.45"/><circle cx="499.8" cy="467.7" r="2.45"/><circle cx="501.7" cy="475.0" r="2.45"/><circle cx="503.4" cy="473.3" r="2.45"/><circle cx="507.2" cy="482.4" r="2.45"/><circle cx="508.8" cy="476.2" r="2.45"/><circle cx="510.6" cy="480.3" r="2.45"/><circle cx="510.8" cy="474.2" r="2.45"/><circle cx="512.4" cy="478.1" r="2.45"/><circle cx="512.6" cy="479.7" r="2.45"/><circle cx="512.5" cy="468.7" r="2.45"/><circle cx="517.9" cy="482.4" r="2.45"/><circle cx="519.8" cy="474.3" r="2.45"/><circle cx="523.4" cy="468.2" r="2.45"/><circle cx="523.5" cy="485.8" r="2.45"/><circle cx="523.5" cy="472.7" r="2.45"/><circle cx="525.4" cy="483.4" r="2.45"/><circle cx="527.2" cy="478.4" r="2.45"/><circle cx="527.1" cy="470.2" r="2.45"/><circle cx="526.9" cy="470.0" r="2.45"/><circle cx="528.9" cy="468.9" r="2.45"/><circle cx="530.7" cy="476.5" r="2.45"/><circle cx="220.9" cy="442.9" r="2.45"/><circle cx="220.7" cy="451.9" r="2.45"/><circle cx="217.3" cy="469.9" r="2.45"/><circle cx="222.6" cy="466.0" r="2.45"/><circle cx="222.7" cy="469.0" r="2.45"/><circle cx="224.3" cy="461.2" r="2.45"/><circle cx="224.5" cy="468.8" r="2.45"/><circle cx="224.5" cy="474.5" r="2.45"/><circle cx="224.3" cy="480.1" r="2.45"/><circle cx="224.7" cy="452.2" r="2.45"/><circle cx="233.8" cy="453.2" r="2.45"/><circle cx="233.7" cy="459.9" r="2.45"/><circle cx="233.6" cy="467.7" r="2.45"/><circle cx="233.7" cy="472.2" r="2.45"/><circle cx="233.4" cy="426.9" r="2.45"/><circle cx="235.2" cy="478.1" r="2.45"/><circle cx="235.7" cy="453.7" r="2.45"/><circle cx="235.5" cy="456.4" r="2.45"/><circle cx="235.3" cy="458.1" r="2.45"/><circle cx="235.4" cy="460.5" r="2.45"/><circle cx="237.0" cy="453.2" r="2.45"/><circle cx="237.2" cy="459.7" r="2.45"/><circle cx="237.3" cy="442.5" r="2.45"/><circle cx="237.5" cy="443.5" r="2.45"/><circle cx="238.9" cy="450.1" r="2.45"/><circle cx="239.3" cy="450.5" r="2.45"/><circle cx="239.1" cy="451.7" r="2.45"/><circle cx="239.1" cy="442.5" r="2.45"/><circle cx="238.9" cy="443.9" r="2.45"/><circle cx="239.2" cy="444.1" r="2.45"/><circle cx="240.8" cy="445.5" r="2.45"/><circle cx="248.0" cy="420.9" r="2.45"/><circle cx="248.2" cy="436.3" r="2.45"/><circle cx="248.4" cy="438.5" r="2.45"/><circle cx="248.2" cy="445.0" r="2.45"/><circle cx="248.4" cy="446.4" r="2.45"/><circle cx="251.9" cy="447.8" r="2.45"/><circle cx="251.6" cy="454.9" r="2.45"/><circle cx="252.0" cy="459.6" r="2.45"/><circle cx="251.6" cy="461.4" r="2.45"/><circle cx="252.0" cy="461.9" r="2.45"/><circle cx="251.5" cy="463.7" r="2.45"/><circle cx="253.5" cy="453.7" r="2.45"/><circle cx="253.4" cy="457.6" r="2.45"/><circle cx="253.5" cy="462.5" r="2.45"/><circle cx="253.7" cy="464.0" r="2.45"/><circle cx="253.6" cy="466.8" r="2.45"/><circle cx="260.8" cy="446.8" r="2.45"/><circle cx="261.1" cy="464.4" r="2.45"/><circle cx="260.9" cy="467.2" r="2.45"/><circle cx="260.8" cy="477.2" r="2.45"/><circle cx="262.8" cy="451.4" r="2.45"/><circle cx="262.7" cy="453.2" r="2.45"/><circle cx="262.3" cy="458.4" r="2.45"/><circle cx="262.9" cy="460.2" r="2.45"/><circle cx="262.6" cy="465.8" r="2.45"/><circle cx="264.4" cy="470.7" r="2.45"/><circle cx="268.0" cy="458.0" r="2.45"/><circle cx="268.0" cy="466.0" r="2.45"/><circle cx="268.1" cy="471.3" r="2.45"/><circle cx="267.9" cy="474.8" r="2.45"/><circle cx="268.0" cy="478.4" r="2.45"/><circle cx="270.1" cy="444.4" r="2.45"/><circle cx="271.8" cy="451.4" r="2.45"/><circle cx="271.4" cy="459.3" r="2.45"/><circle cx="271.8" cy="463.1" r="2.45"/><circle cx="272.0" cy="473.0" r="2.45"/><circle cx="272.0" cy="480.4" r="2.45"/><circle cx="233.7" cy="470.2" r="2.45"/><circle cx="235.6" cy="454.9" r="2.45"/><circle cx="235.3" cy="457.5" r="2.45"/><circle cx="235.2" cy="459.5" r="2.45"/><circle cx="248.4" cy="437.4" r="2.45"/><circle cx="251.7" cy="457.1" r="2.45"/><circle cx="251.7" cy="460.4" r="2.45"/><circle cx="251.8" cy="462.9" r="2.45"/><circle cx="253.6" cy="455.8" r="2.45"/><circle cx="253.7" cy="465.7" r="2.45"/><circle cx="260.9" cy="465.6" r="2.45"/><circle cx="262.8" cy="452.0" r="2.45"/><circle cx="262.5" cy="459.3" r="2.45"/><circle cx="268.0" cy="473.3" r="2.45"/><circle cx="268.0" cy="476.6" r="2.45"/><circle cx="187.6" cy="379.6" r="2.45"/><circle cx="193.0" cy="400.0" r="2.45"/><circle cx="193.0" cy="413.0" r="2.45"/><circle cx="171.6" cy="419.0" r="2.45"/><circle cx="151.6" cy="427.6" r="2.45"/><circle cx="149.6" cy="436.0" r="2.45"/><circle cx="120.4" cy="441.0" r="2.45"/><circle cx="117.0" cy="447.6" r="2.45"/><circle cx="125.0" cy="450.0" r="2.45"/><circle cx="140.0" cy="455.0" r="2.45"/><circle cx="142.4" cy="455.0" r="2.45"/><circle cx="150.0" cy="456.0" r="2.45"/><circle cx="151.0" cy="458.0" r="2.45"/><circle cx="157.0" cy="456.0" r="2.45"/><circle cx="184.0" cy="459.0" r="2.45"/><circle cx="192.0" cy="457.0" r="2.45"/><circle cx="197.0" cy="459.0" r="2.45"/><circle cx="107.0" cy="464.0" r="2.45"/><circle cx="116.0" cy="463.0" r="2.45"/><circle cx="208.0" cy="460.0" r="2.45"/><circle cx="130.0" cy="459.0" r="2.45"/><circle cx="165.0" cy="460.0" r="2.45"/><circle cx="177.0" cy="458.0" r="2.45"/><circle cx="113.6" cy="490.0" r="2.45"/><circle cx="136.4" cy="490.0" r="2.45"/><circle cx="156.0" cy="490.0" r="2.45"/><circle cx="161.0" cy="489.0" r="2.45"/><circle cx="184.4" cy="516.4" r="2.45"/><circle cx="184.4" cy="528.6" r="2.45"/><circle cx="186.0" cy="494.0" r="2.45"/><circle cx="192.0" cy="496.0" r="2.45"/><circle cx="195.0" cy="493.0" r="2.45"/><circle cx="199.0" cy="493.0" r="2.45"/><circle cx="208.0" cy="490.0" r="2.45"/><circle cx="158.0" cy="485.0" r="2.45"/><circle cx="136.0" cy="486.0" r="2.45"/><circle cx="208.0" cy="488.0" r="2.45"/><circle cx="200.0" cy="488.0" r="2.45"/><circle cx="127.0" cy="488.0" r="2.45"/><circle cx="143.0" cy="487.0" r="2.45"/><circle cx="222.6" cy="368.6" r="2.45"/><circle cx="240.6" cy="378.0" r="2.45"/><circle cx="269.4" cy="403.4" r="2.45"/><circle cx="221.0" cy="407.0" r="2.45"/><circle cx="248.0" cy="408.0" r="2.45"/><circle cx="233.0" cy="426.0" r="2.45"/><circle cx="248.0" cy="421.0" r="2.45"/><circle cx="225.0" cy="452.0" r="2.45"/><circle cx="269.6" cy="438.0" r="2.45"/><circle cx="262.0" cy="449.0" r="2.45"/><circle cx="282.0" cy="452.0" r="2.45"/><circle cx="287.0" cy="458.0" r="2.45"/><circle cx="309.0" cy="436.0" r="2.45"/><circle cx="304.0" cy="442.0" r="2.45"/><circle cx="308.0" cy="458.0" r="2.45"/><circle cx="262.4" cy="508.0" r="2.45"/><circle cx="268.0" cy="491.0" r="2.45"/><circle cx="261.0" cy="492.0" r="2.45"/><circle cx="282.4" cy="522.0" r="2.45"/><circle cx="298.4" cy="494.0" r="2.45"/><circle cx="311.0" cy="492.0" r="2.45"/><circle cx="310.0" cy="491.0" r="2.45"/><circle cx="329.6" cy="425.0" r="2.45"/><circle cx="418.6" cy="427.6" r="2.45"/><circle cx="356.0" cy="449.0" r="2.45"/><circle cx="371.0" cy="438.0" r="2.45"/><circle cx="362.4" cy="450.0" r="2.45"/><circle cx="344.0" cy="454.0" r="2.45"/><circle cx="383.6" cy="452.0" r="2.45"/><circle cx="404.0" cy="447.0" r="2.45"/><circle cx="404.0" cy="458.0" r="2.45"/><circle cx="418.0" cy="454.0" r="2.45"/><circle cx="429.6" cy="442.0" r="2.45"/><circle cx="337.0" cy="490.0" r="2.45"/><circle cx="344.0" cy="489.0" r="2.45"/><circle cx="386.0" cy="489.0" r="2.45"/><circle cx="397.0" cy="492.0" r="2.45"/><circle cx="403.0" cy="488.0" r="2.45"/><circle cx="429.6" cy="500.0" r="2.45"/><circle cx="425.0" cy="491.0" r="2.45"/><circle cx="458.0" cy="436.0" r="2.45"/><circle cx="431.6" cy="442.6" r="2.45"/><circle cx="471.6" cy="447.0" r="2.45"/><circle cx="441.0" cy="452.4" r="2.45"/><circle cx="457.0" cy="453.0" r="2.45"/><circle cx="504.0" cy="457.4" r="2.45"/><circle cx="520.4" cy="450.0" r="2.45"/><circle cx="516.0" cy="458.0" r="2.45"/><circle cx="518.0" cy="459.0" r="2.45"/><circle cx="533.0" cy="460.0" r="2.45"/><circle cx="499.0" cy="501.0" r="2.45"/><circle cx="502.4" cy="496.6" r="2.45"/><circle cx="513.6" cy="503.4" r="2.45"/><circle cx="515.6" cy="486.0" r="2.45"/><circle cx="431.6" cy="502.0" r="2.45"/><circle cx="457.0" cy="501.0" r="2.45"/><circle cx="462.0" cy="495.6" r="2.45"/><circle cx="464.0" cy="502.0" r="2.45"/><circle cx="494.0" cy="487.0" r="2.45"/><circle cx="448.0" cy="493.0" r="2.45"/></g></g><g stroke="#0a50ff" fill="#0a50ff"><path fill="none" d="M104.8 470.0V476.9M102.2 470.0h5.2M102.2 476.9h5.2M105.0 464.2V474.1M102.4 464.2h5.2M102.4 474.1h5.2M105.2 468.0V477.4M102.6 468.0h5.2M102.6 477.4h5.2M105.0 467.7V472.8M102.4 467.7h5.2M102.4 472.8h5.2M104.8 466.9V477.1M102.2 466.9h5.2M102.2 477.1h5.2M106.6 469.0V475.7M104.0 469.0h5.2M104.0 475.7h5.2M106.8 465.0V472.4M104.2 465.0h5.2M104.2 472.4h5.2M106.8 468.0V474.8M104.2 468.0h5.2M104.2 474.8h5.2M106.9 477.1V482.8M104.3 477.1h5.2M104.3 482.8h5.2M106.9 470.2V478.1M104.3 470.2h5.2M104.3 478.1h5.2M108.6 467.9V472.8M106.0 467.9h5.2M106.0 472.8h5.2M108.8 461.2V470.4M106.2 461.2h5.2M106.2 470.4h5.2M108.6 463.4V469.5M106.0 463.4h5.2M106.0 469.5h5.2M108.7 468.4V477.0M106.1 468.4h5.2M106.1 477.0h5.2M110.4 472.2V480.1M107.8 472.2h5.2M107.8 480.1h5.2M110.6 466.1V472.3M108.0 466.1h5.2M108.0 472.3h5.2M110.4 466.1V475.2M107.8 466.1h5.2M107.8 475.2h5.2M110.3 475.6V480.8M107.7 475.6h5.2M107.7 480.8h5.2M110.3 467.3V476.4M107.7 467.3h5.2M107.7 476.4h5.2M112.2 476.8V483.8M109.6 476.8h5.2M109.6 483.8h5.2M112.2 466.8V473.4M109.6 466.8h5.2M109.6 473.4h5.2M112.4 468.8V478.0M109.8 468.8h5.2M109.8 478.0h5.2M112.1 471.3V480.7M109.5 471.3h5.2M109.5 480.7h5.2M112.4 468.2V473.0M109.8 468.2h5.2M109.8 473.0h5.2M114.1 471.7V481.8M111.5 471.7h5.2M111.5 481.8h5.2M114.2 472.7V482.1M111.6 472.7h5.2M111.6 482.1h5.2M114.2 474.3V485.5M111.6 474.3h5.2M111.6 485.5h5.2M114.2 465.0V475.9M111.6 465.0h5.2M111.6 475.9h5.2M114.1 462.5V470.6M111.5 462.5h5.2M111.5 470.6h5.2M116.1 476.1V483.0M113.5 476.1h5.2M113.5 483.0h5.2M115.7 469.7V480.0M113.1 469.7h5.2M113.1 480.0h5.2M115.8 474.2V482.8M113.2 474.2h5.2M113.2 482.8h5.2M115.9 465.2V472.7M113.3 465.2h5.2M113.3 472.7h5.2M117.8 466.4V475.0M115.2 466.4h5.2M115.2 475.0h5.2M117.8 476.6V487.0M115.2 476.6h5.2M115.2 487.0h5.2M117.5 479.3V487.0M114.9 479.3h5.2M114.9 487.0h5.2M117.8 466.8V477.6M115.2 466.8h5.2M115.2 477.6h5.2M119.5 469.6V475.7M116.9 469.6h5.2M116.9 475.7h5.2M119.4 466.2V475.8M116.8 466.2h5.2M116.8 475.8h5.2M119.5 464.7V475.9M116.9 464.7h5.2M116.9 475.9h5.2M121.3 472.0V478.5M118.7 472.0h5.2M118.7 478.5h5.2M121.3 471.3V477.4M118.7 471.3h5.2M118.7 477.4h5.2M121.5 471.8V476.6M118.9 471.8h5.2M118.9 476.6h5.2M121.4 471.6V481.0M118.8 471.6h5.2M118.8 481.0h5.2M123.0 474.9V482.7M120.4 474.9h5.2M120.4 482.7h5.2M123.1 460.2V469.3M120.5 460.2h5.2M120.5 469.3h5.2M123.1 473.3V483.4M120.5 473.3h5.2M120.5 483.4h5.2M124.8 468.6V475.2M122.2 468.6h5.2M122.2 475.2h5.2M125.0 470.6V480.0M122.4 470.6h5.2M122.4 480.0h5.2M125.0 469.6V478.1M122.4 469.6h5.2M122.4 478.1h5.2M127.0 470.5V480.8M124.4 470.5h5.2M124.4 480.8h5.2M126.7 465.2V472.4M124.1 465.2h5.2M124.1 472.4h5.2M126.7 468.2V476.9M124.1 468.2h5.2M124.1 476.9h5.2M126.9 467.5V477.6M124.3 467.5h5.2M124.3 477.6h5.2M128.7 467.1V471.7M126.1 467.1h5.2M126.1 471.7h5.2M128.7 470.2V478.5M126.1 470.2h5.2M126.1 478.5h5.2M128.6 475.6V480.7M126.0 475.6h5.2M126.0 480.7h5.2M128.5 467.8V473.3M125.9 467.8h5.2M125.9 473.3h5.2M130.4 463.0V474.4M127.8 463.0h5.2M127.8 474.4h5.2M130.3 470.1V477.1M127.7 470.1h5.2M127.7 477.1h5.2M130.3 467.0V473.5M127.7 467.0h5.2M127.7 473.5h5.2M130.3 465.4V477.0M127.7 465.4h5.2M127.7 477.0h5.2M132.1 471.2V480.6M129.5 471.2h5.2M129.5 480.6h5.2M132.2 480.3V486.2M129.6 480.3h5.2M129.6 486.2h5.2M132.4 462.4V469.7M129.8 462.4h5.2M129.8 469.7h5.2M132.2 477.8V486.2M129.6 477.8h5.2M129.6 486.2h5.2M134.0 467.8V474.5M131.4 467.8h5.2M131.4 474.5h5.2M134.1 473.9V479.3M131.5 473.9h5.2M131.5 479.3h5.2M133.9 466.7V474.9M131.3 466.7h5.2M131.3 474.9h5.2M134.0 463.5V469.6M131.4 463.5h5.2M131.4 469.6h5.2M136.0 471.8V479.5M133.4 471.8h5.2M133.4 479.5h5.2M136.0 470.7V476.2M133.4 470.7h5.2M133.4 476.2h5.2M135.8 469.7V474.4M133.2 469.7h5.2M133.2 474.4h5.2M137.7 469.0V477.1M135.1 469.0h5.2M135.1 477.1h5.2M137.9 476.3V485.8M135.3 476.3h5.2M135.3 485.8h5.2M137.9 474.8V479.5M135.3 474.8h5.2M135.3 479.5h5.2M137.8 474.0V481.7M135.2 474.0h5.2M135.2 481.7h5.2M139.6 475.4V484.3M137.0 475.4h5.2M137.0 484.3h5.2M139.5 480.8V488.1M136.9 480.8h5.2M136.9 488.1h5.2M139.5 474.5V481.2M136.9 474.5h5.2M136.9 481.2h5.2M139.7 473.6V481.7M137.1 473.6h5.2M137.1 481.7h5.2M141.2 469.3V478.2M138.6 469.3h5.2M138.6 478.2h5.2M141.2 469.8V476.9M138.6 469.8h5.2M138.6 476.9h5.2M141.2 473.0V480.8M138.6 473.0h5.2M138.6 480.8h5.2M141.1 462.6V473.8M138.5 462.6h5.2M138.5 473.8h5.2M143.3 465.7V477.9M140.7 465.7h5.2M140.7 477.9h5.2M143.3 458.4V469.9M140.7 458.4h5.2M140.7 469.9h5.2M143.2 465.2V479.1M140.6 465.2h5.2M140.6 479.1h5.2M144.8 460.9V473.0M142.2 460.9h5.2M142.2 473.0h5.2M145.1 476.1V485.5M142.5 476.1h5.2M142.5 485.5h5.2M145.1 468.4V475.1M142.5 468.4h5.2M142.5 475.1h5.2M144.8 469.3V476.0M142.2 469.3h5.2M142.2 476.0h5.2M144.8 467.9V476.0M142.2 467.9h5.2M142.2 476.0h5.2M146.6 462.6V473.9M144.0 462.6h5.2M144.0 473.9h5.2M146.8 461.2V469.6M144.2 461.2h5.2M144.2 469.6h5.2M146.7 461.2V471.5M144.1 461.2h5.2M144.1 471.5h5.2M146.9 468.1V478.7M144.3 468.1h5.2M144.3 478.7h5.2M150.2 473.8V481.0M147.6 473.8h5.2M147.6 481.0h5.2M150.5 473.5V484.6M147.9 473.5h5.2M147.9 484.6h5.2M150.4 475.1V482.3M147.8 475.1h5.2M147.8 482.3h5.2M150.3 477.9V487.5M147.7 477.9h5.2M147.7 487.5h5.2M152.0 460.8V473.4M149.4 460.8h5.2M149.4 473.4h5.2M152.2 470.3V479.5M149.6 470.3h5.2M149.6 479.5h5.2M152.4 461.0V470.5M149.8 461.0h5.2M149.8 470.5h5.2M156.0 470.7V482.3M153.4 470.7h5.2M153.4 482.3h5.2M156.0 471.3V479.5M153.4 471.3h5.2M153.4 479.5h5.2M155.9 472.1V478.5M153.3 472.1h5.2M153.3 478.5h5.2M157.6 461.8V471.4M155.0 461.8h5.2M155.0 471.4h5.2M157.6 471.7V477.6M155.0 471.7h5.2M155.0 477.6h5.2M157.5 470.9V477.7M154.9 470.9h5.2M154.9 477.7h5.2M157.8 475.0V481.8M155.2 475.0h5.2M155.2 481.8h5.2M157.6 473.3V479.5M155.0 473.3h5.2M155.0 479.5h5.2M159.5 470.7V478.6M156.9 470.7h5.2M156.9 478.6h5.2M159.6 465.2V474.2M157.0 465.2h5.2M157.0 474.2h5.2M159.4 455.5V463.1M156.8 455.5h5.2M156.8 463.1h5.2M159.4 461.1V468.6M156.8 461.1h5.2M156.8 468.6h5.2M159.5 460.6V467.3M156.9 460.6h5.2M156.9 467.3h5.2M161.5 465.9V477.2M158.9 465.9h5.2M158.9 477.2h5.2M161.5 472.6V482.0M158.9 472.6h5.2M158.9 482.0h5.2M161.5 475.4V485.9M158.9 475.4h5.2M158.9 485.9h5.2M161.5 465.9V475.7M158.9 465.9h5.2M158.9 475.7h5.2M163.2 467.0V477.5M160.6 467.0h5.2M160.6 477.5h5.2M163.2 463.1V469.6M160.6 463.1h5.2M160.6 469.6h5.2M163.2 464.6V471.1M160.6 464.6h5.2M160.6 471.1h5.2M163.3 469.1V479.9M160.7 469.1h5.2M160.7 479.9h5.2M165.0 475.1V481.5M162.4 475.1h5.2M162.4 481.5h5.2M164.7 476.2V483.1M162.1 476.2h5.2M162.1 483.1h5.2M165.1 467.1V479.7M162.5 467.1h5.2M162.5 479.7h5.2M165.0 474.0V485.8M162.4 474.0h5.2M162.4 485.8h5.2M166.6 468.0V480.0M164.0 468.0h5.2M164.0 480.0h5.2M166.8 465.5V474.4M164.2 465.5h5.2M164.2 474.4h5.2M166.9 468.1V478.6M164.3 468.1h5.2M164.3 478.6h5.2M166.7 476.7V483.9M164.1 476.7h5.2M164.1 483.9h5.2M168.7 476.1V486.5M166.1 476.1h5.2M166.1 486.5h5.2M168.5 472.7V481.7M165.9 472.7h5.2M165.9 481.7h5.2M168.7 468.0V477.3M166.1 468.0h5.2M166.1 477.3h5.2M168.6 461.1V475.2M166.0 461.1h5.2M166.0 475.2h5.2M170.6 472.8V483.3M168.0 472.8h5.2M168.0 483.3h5.2M170.4 462.0V472.8M167.8 462.0h5.2M167.8 472.8h5.2M170.4 463.1V474.5M167.8 463.1h5.2M167.8 474.5h5.2M172.2 472.2V480.1M169.6 472.2h5.2M169.6 480.1h5.2M172.0 481.9V490.1M169.4 481.9h5.2M169.4 490.1h5.2M172.3 480.9V490.1M169.7 480.9h5.2M169.7 490.1h5.2M173.8 472.2V481.5M171.2 472.2h5.2M171.2 481.5h5.2M173.9 472.7V480.6M171.3 472.7h5.2M171.3 480.6h5.2M174.1 472.1V481.3M171.5 472.1h5.2M171.5 481.3h5.2M174.2 474.5V480.6M171.6 474.5h5.2M171.6 480.6h5.2M175.7 466.6V471.8M173.1 466.6h5.2M173.1 471.8h5.2M175.9 471.7V477.0M173.3 471.7h5.2M173.3 477.0h5.2M175.9 473.0V481.7M173.3 473.0h5.2M173.3 481.7h5.2M177.5 470.7V481.7M174.9 470.7h5.2M174.9 481.7h5.2M177.6 470.1V480.8M175.0 470.1h5.2M175.0 480.8h5.2M177.6 470.9V480.8M175.0 470.9h5.2M175.0 480.8h5.2M179.5 469.2V478.8M176.9 469.2h5.2M176.9 478.8h5.2M179.6 480.0V486.4M177.0 480.0h5.2M177.0 486.4h5.2M179.4 464.9V473.3M176.8 464.9h5.2M176.8 473.3h5.2M179.6 471.2V481.0M177.0 471.2h5.2M177.0 481.0h5.2M181.2 464.3V477.1M178.6 464.3h5.2M178.6 477.1h5.2M181.5 461.7V468.1M178.9 461.7h5.2M178.9 468.1h5.2M181.4 462.0V474.6M178.8 462.0h5.2M178.8 474.6h5.2M183.2 470.1V475.7M180.6 470.1h5.2M180.6 475.7h5.2M183.2 471.1V480.0M180.6 471.1h5.2M180.6 480.0h5.2M182.9 475.4V485.4M180.3 475.4h5.2M180.3 485.4h5.2M183.1 473.5V485.2M180.5 473.5h5.2M180.5 485.2h5.2M184.8 475.5V481.3M182.2 475.5h5.2M182.2 481.3h5.2M184.8 469.9V476.0M182.2 469.9h5.2M182.2 476.0h5.2M184.9 470.3V479.0M182.3 470.3h5.2M182.3 479.0h5.2M184.8 475.8V483.9M182.2 475.8h5.2M182.2 483.9h5.2M186.8 471.3V479.9M184.2 471.3h5.2M184.2 479.9h5.2M186.9 462.4V471.1M184.3 462.4h5.2M184.3 471.1h5.2M186.7 467.3V474.4M184.1 467.3h5.2M184.1 474.4h5.2M186.7 465.9V474.1M184.1 465.9h5.2M184.1 474.1h5.2M188.5 474.7V483.0M185.9 474.7h5.2M185.9 483.0h5.2M188.4 470.9V477.7M185.8 470.9h5.2M185.8 477.7h5.2M188.7 473.3V480.7M186.1 473.3h5.2M186.1 480.7h5.2M188.6 479.5V488.6M186.0 479.5h5.2M186.0 488.6h5.2M192.4 466.9V477.5M189.8 466.9h5.2M189.8 477.5h5.2M192.2 478.3V486.8M189.6 478.3h5.2M189.6 486.8h5.2M192.1 482.6V493.9M189.5 482.6h5.2M189.5 493.9h5.2M193.9 461.5V471.6M191.3 461.5h5.2M191.3 471.6h5.2M194.0 463.6V470.3M191.4 463.6h5.2M191.4 470.3h5.2M193.9 457.7V467.6M191.3 457.7h5.2M191.3 467.6h5.2M194.0 465.9V471.2M191.4 465.9h5.2M191.4 471.2h5.2M195.7 473.7V484.1M193.1 473.7h5.2M193.1 484.1h5.2M195.9 467.5V477.7M193.3 467.5h5.2M193.3 477.7h5.2M195.9 480.4V486.4M193.3 480.4h5.2M193.3 486.4h5.2M195.7 478.4V486.8M193.1 478.4h5.2M193.1 486.8h5.2M197.8 477.6V486.1M195.2 477.6h5.2M195.2 486.1h5.2M197.7 476.0V491.1M195.1 476.0h5.2M195.1 491.1h5.2M197.8 480.9V491.1M195.2 480.9h5.2M195.2 491.1h5.2M197.6 482.5V491.1M195.0 482.5h5.2M195.0 491.1h5.2M201.2 467.9V474.3M198.6 467.9h5.2M198.6 474.3h5.2M201.4 475.3V480.6M198.8 475.3h5.2M198.8 480.6h5.2M201.5 475.3V480.0M198.9 475.3h5.2M198.9 480.0h5.2M203.1 472.6V482.5M200.5 472.6h5.2M200.5 482.5h5.2M203.0 479.1V484.8M200.4 479.1h5.2M200.4 484.8h5.2M203.0 473.4V478.6M200.4 473.4h5.2M200.4 478.6h5.2M204.7 464.8V477.2M202.1 464.8h5.2M202.1 477.2h5.2M205.1 470.7V483.4M202.5 470.7h5.2M202.5 483.4h5.2M205.1 465.7V475.0M202.5 465.7h5.2M202.5 475.0h5.2M206.6 468.0V481.1M204.0 468.0h5.2M204.0 481.1h5.2M206.9 473.1V479.5M204.3 473.1h5.2M204.3 479.5h5.2M206.6 473.8V484.1M204.0 473.8h5.2M204.0 484.1h5.2M208.6 470.6V475.6M206.0 470.6h5.2M206.0 475.6h5.2M208.6 467.9V477.0M206.0 467.9h5.2M206.0 477.0h5.2M208.5 471.9V483.0M205.9 471.9h5.2M205.9 483.0h5.2M208.4 474.8V483.0M205.8 474.8h5.2M205.8 483.0h5.2M208.5 473.7V479.1M205.9 473.7h5.2M205.9 479.1h5.2M210.3 470.8V477.5M207.7 470.8h5.2M207.7 477.5h5.2M210.4 471.7V479.0M207.8 471.7h5.2M207.8 479.0h5.2M210.3 469.0V477.4M207.7 469.0h5.2M207.7 477.4h5.2M212.2 458.5V466.9M209.6 458.5h5.2M209.6 466.9h5.2M212.0 465.6V476.0M209.4 465.6h5.2M209.4 476.0h5.2M212.3 472.7V486.3M209.7 472.7h5.2M209.7 486.3h5.2M214.1 474.2V485.0M211.5 474.2h5.2M211.5 485.0h5.2M214.2 472.7V480.1M211.6 472.7h5.2M211.6 480.1h5.2M213.8 474.9V481.1M211.2 474.9h5.2M211.2 481.1h5.2M275.9 474.0V484.6M273.3 474.0h5.2M273.3 484.6h5.2M276.0 469.1V478.9M273.4 469.1h5.2M273.4 478.9h5.2M275.8 474.3V483.7M273.2 474.3h5.2M273.2 483.7h5.2M277.4 468.2V478.2M274.8 468.2h5.2M274.8 478.2h5.2M277.6 477.7V484.0M275.0 477.7h5.2M275.0 484.0h5.2M277.5 470.9V475.4M274.9 470.9h5.2M274.9 475.4h5.2M277.5 466.9V476.2M274.9 466.9h5.2M274.9 476.2h5.2M277.6 471.4V477.6M275.0 471.4h5.2M275.0 477.6h5.2M279.5 481.8V487.4M276.9 481.8h5.2M276.9 487.4h5.2M279.6 479.6V488.0M277.0 479.6h5.2M277.0 488.0h5.2M279.4 477.4V488.4M276.8 477.4h5.2M276.8 488.4h5.2M279.4 476.2V482.9M276.8 476.2h5.2M276.8 482.9h5.2M281.2 469.8V476.3M278.6 469.8h5.2M278.6 476.3h5.2M281.4 474.2V481.9M278.8 474.2h5.2M278.8 481.9h5.2M281.3 475.6V484.9M278.7 475.6h5.2M278.7 484.9h5.2M281.1 477.5V486.3M278.5 477.5h5.2M278.5 486.3h5.2M283.0 480.5V485.9M280.4 480.5h5.2M280.4 485.9h5.2M283.2 478.4V485.6M280.6 478.4h5.2M280.6 485.6h5.2M283.0 480.2V487.0M280.4 480.2h5.2M280.4 487.0h5.2M285.1 481.5V487.8M282.5 481.5h5.2M282.5 487.8h5.2M284.9 476.1V485.8M282.3 476.1h5.2M282.3 485.8h5.2M284.7 476.6V482.4M282.1 476.6h5.2M282.1 482.4h5.2M284.9 484.4V493.0M282.3 484.4h5.2M282.3 493.0h5.2M284.9 482.6V488.5M282.3 482.6h5.2M282.3 488.5h5.2M286.5 475.1V482.5M283.9 475.1h5.2M283.9 482.5h5.2M286.9 478.0V483.1M284.3 478.0h5.2M284.3 483.1h5.2M286.9 472.7V479.2M284.3 472.7h5.2M284.3 479.2h5.2M288.5 479.0V484.8M285.9 479.0h5.2M285.9 484.8h5.2M288.5 479.1V491.0M285.9 479.1h5.2M285.9 491.0h5.2M288.6 471.3V480.5M286.0 471.3h5.2M286.0 480.5h5.2M288.6 476.7V486.1M286.0 476.7h5.2M286.0 486.1h5.2M290.3 472.3V475.5M287.7 472.3h5.2M287.7 475.5h5.2M290.4 472.4V475.2M287.8 472.4h5.2M287.8 475.2h5.2M290.1 472.0V477.1M287.5 472.0h5.2M287.5 477.1h5.2M290.3 472.1V477.2M287.7 472.1h5.2M287.7 477.2h5.2M290.4 474.5V477.8M287.8 474.5h5.2M287.8 477.8h5.2M292.2 473.8V476.8M289.6 473.8h5.2M289.6 476.8h5.2M292.1 470.8V475.1M289.5 470.8h5.2M289.5 475.1h5.2M292.1 469.8V471.9M289.5 469.8h5.2M289.5 471.9h5.2M292.2 472.7V475.3M289.6 472.7h5.2M289.6 475.3h5.2M295.6 472.2V484.6M293.0 472.2h5.2M293.0 484.6h5.2M295.9 463.3V474.5M293.3 463.3h5.2M293.3 474.5h5.2M295.7 465.5V476.2M293.1 465.5h5.2M293.1 476.2h5.2M297.7 468.5V474.2M295.1 468.5h5.2M295.1 474.2h5.2M297.5 472.7V480.5M294.9 472.7h5.2M294.9 480.5h5.2M297.4 471.4V476.9M294.8 471.4h5.2M294.8 476.9h5.2M297.6 475.9V485.0M295.0 475.9h5.2M295.0 485.0h5.2M299.6 471.2V482.3M297.0 471.2h5.2M297.0 482.3h5.2M299.4 475.9V488.2M296.8 475.9h5.2M296.8 488.2h5.2M299.5 469.7V480.9M296.9 469.7h5.2M296.9 480.9h5.2M299.5 482.1V493.5M296.9 482.1h5.2M296.9 493.5h5.2M301.1 471.8V479.4M298.5 471.8h5.2M298.5 479.4h5.2M301.1 454.9V466.5M298.5 454.9h5.2M298.5 466.5h5.2M301.1 465.2V476.3M298.5 465.2h5.2M298.5 476.3h5.2M301.3 454.9V463.9M298.7 454.9h5.2M298.7 463.9h5.2M301.1 467.5V474.3M298.5 467.5h5.2M298.5 474.3h5.2M303.2 466.3V480.2M300.6 466.3h5.2M300.6 480.2h5.2M303.1 467.9V477.1M300.5 467.9h5.2M300.5 477.1h5.2M302.9 467.6V475.4M300.3 467.6h5.2M300.3 475.4h5.2M303.1 468.2V483.0M300.5 468.2h5.2M300.5 483.0h5.2M304.7 475.5V488.1M302.1 475.5h5.2M302.1 488.1h5.2M304.8 469.3V476.1M302.2 469.3h5.2M302.2 476.1h5.2M304.7 467.4V480.4M302.1 467.4h5.2M302.1 480.4h5.2M306.5 470.0V477.7M303.9 470.0h5.2M303.9 477.7h5.2M306.7 460.6V474.8M304.1 460.6h5.2M304.1 474.8h5.2M306.7 466.8V475.2M304.1 466.8h5.2M304.1 475.2h5.2M308.6 473.5V481.6M306.0 473.5h5.2M306.0 481.6h5.2M308.6 461.7V474.8M306.0 461.7h5.2M306.0 474.8h5.2M308.5 459.7V472.3M305.9 459.7h5.2M305.9 472.3h5.2M312.1 468.0V481.5M309.5 468.0h5.2M309.5 481.5h5.2M312.0 476.4V486.9M309.4 476.4h5.2M309.4 486.9h5.2M312.3 474.0V485.7M309.7 474.0h5.2M309.7 485.7h5.2M313.8 463.4V477.2M311.2 463.4h5.2M311.2 477.2h5.2M314.1 466.8V479.1M311.5 466.8h5.2M311.5 479.1h5.2M314.1 477.9V487.7M311.5 477.9h5.2M311.5 487.7h5.2M313.8 471.4V479.4M311.2 471.4h5.2M311.2 479.4h5.2M315.7 460.8V468.5M313.1 460.8h5.2M313.1 468.5h5.2M315.7 462.6V474.1M313.1 462.6h5.2M313.1 474.1h5.2M315.8 469.7V478.5M313.2 469.7h5.2M313.2 478.5h5.2M315.7 477.9V487.8M313.1 477.9h5.2M313.1 487.8h5.2M317.7 466.2V479.6M315.1 466.2h5.2M315.1 479.6h5.2M317.6 465.3V473.6M315.0 465.3h5.2M315.0 473.6h5.2M317.7 468.2V479.6M315.1 468.2h5.2M315.1 479.6h5.2M317.7 466.4V477.4M315.1 466.4h5.2M315.1 477.4h5.2M319.3 457.1V468.7M316.7 457.1h5.2M316.7 468.7h5.2M319.3 474.5V485.5M316.7 474.5h5.2M316.7 485.5h5.2M319.3 469.4V480.8M316.7 469.4h5.2M316.7 480.8h5.2M321.1 459.5V469.6M318.5 459.5h5.2M318.5 469.6h5.2M321.3 476.4V486.6M318.7 476.4h5.2M318.7 486.6h5.2M321.1 461.4V470.1M318.5 461.4h5.2M318.5 470.1h5.2M321.2 464.2V474.0M318.6 464.2h5.2M318.6 474.0h5.2M323.0 466.3V476.1M320.4 466.3h5.2M320.4 476.1h5.2M323.0 467.3V476.7M320.4 467.3h5.2M320.4 476.7h5.2M323.1 465.2V475.5M320.5 465.2h5.2M320.5 475.5h5.2M324.8 467.6V474.9M322.2 467.6h5.2M322.2 474.9h5.2M324.7 470.0V481.1M322.1 470.0h5.2M322.1 481.1h5.2M324.8 477.1V486.0M322.2 477.1h5.2M322.2 486.0h5.2M325.0 467.2V475.1M322.4 467.2h5.2M322.4 475.1h5.2M324.8 478.4V485.6M322.2 478.4h5.2M322.2 485.6h5.2M328.7 466.4V477.2M326.1 466.4h5.2M326.1 477.2h5.2M328.3 464.4V471.0M325.7 464.4h5.2M325.7 471.0h5.2M328.6 459.0V470.3M326.0 459.0h5.2M326.0 470.3h5.2M328.6 465.4V477.3M326.0 465.4h5.2M326.0 477.3h5.2M328.4 475.2V484.7M325.8 475.2h5.2M325.8 484.7h5.2M330.2 470.5V477.2M327.6 470.5h5.2M327.6 477.2h5.2M330.3 471.2V478.5M327.7 471.2h5.2M327.7 478.5h5.2M330.1 476.3V488.4M327.5 476.3h5.2M327.5 488.4h5.2M332.0 461.6V471.3M329.4 461.6h5.2M329.4 471.3h5.2M332.0 459.5V467.4M329.4 459.5h5.2M329.4 467.4h5.2M332.2 465.8V478.3M329.6 465.8h5.2M329.6 478.3h5.2M334.0 465.1V472.3M331.4 465.1h5.2M331.4 472.3h5.2M333.7 456.1V471.4M331.1 456.1h5.2M331.1 471.4h5.2M333.7 473.9V487.6M331.1 473.9h5.2M331.1 487.6h5.2M334.0 458.1V470.8M331.4 458.1h5.2M331.4 470.8h5.2M333.9 465.6V480.9M331.3 465.6h5.2M331.3 480.9h5.2M335.6 466.3V479.3M333.0 466.3h5.2M333.0 479.3h5.2M335.8 464.8V479.5M333.2 464.8h5.2M333.2 479.5h5.2M335.5 483.9V491.6M332.9 483.9h5.2M332.9 491.6h5.2M337.6 464.9V478.7M335.0 464.9h5.2M335.0 478.7h5.2M337.7 465.4V476.8M335.1 465.4h5.2M335.1 476.8h5.2M337.7 461.4V470.4M335.1 461.4h5.2M335.1 470.4h5.2M337.5 457.5V467.4M334.9 457.5h5.2M334.9 467.4h5.2M337.4 464.6V474.9M334.8 464.6h5.2M334.8 474.9h5.2M339.6 470.6V479.3M337.0 470.6h5.2M337.0 479.3h5.2M339.4 468.9V478.8M336.8 468.9h5.2M336.8 478.8h5.2M339.5 473.6V485.3M336.9 473.6h5.2M336.9 485.3h5.2M339.3 471.4V484.7M336.7 471.4h5.2M336.7 484.7h5.2M343.0 468.6V477.2M340.4 468.6h5.2M340.4 477.2h5.2M343.2 472.0V480.2M340.6 472.0h5.2M340.6 480.2h5.2M342.9 463.2V473.2M340.3 463.2h5.2M340.3 473.2h5.2M342.9 466.2V475.9M340.3 466.2h5.2M340.3 475.9h5.2M344.9 460.4V475.0M342.3 460.4h5.2M342.3 475.0h5.2M344.6 470.9V480.9M342.0 470.9h5.2M342.0 480.9h5.2M344.8 460.4V474.8M342.2 460.4h5.2M342.2 474.8h5.2M344.8 472.9V486.5M342.2 472.9h5.2M342.2 486.5h5.2M344.8 477.0V490.3M342.2 477.0h5.2M342.2 490.3h5.2M346.7 471.9V477.9M344.1 471.9h5.2M344.1 477.9h5.2M346.6 481.6V489.2M344.0 481.6h5.2M344.0 489.2h5.2M346.7 469.1V480.1M344.1 469.1h5.2M344.1 480.1h5.2M348.6 466.9V474.0M346.0 466.9h5.2M346.0 474.0h5.2M348.5 458.7V467.5M345.9 458.7h5.2M345.9 467.5h5.2M348.3 471.5V486.5M345.7 471.5h5.2M345.7 486.5h5.2M348.3 469.7V480.7M345.7 469.7h5.2M345.7 480.7h5.2M348.6 462.7V475.7M346.0 462.7h5.2M346.0 475.7h5.2M350.3 463.1V470.5M347.7 463.1h5.2M347.7 470.5h5.2M350.3 476.9V484.2M347.7 476.9h5.2M347.7 484.2h5.2M350.4 469.3V482.7M347.8 469.3h5.2M347.8 482.7h5.2M350.3 463.1V476.5M347.7 463.1h5.2M347.7 476.5h5.2M352.0 470.6V481.6M349.4 470.6h5.2M349.4 481.6h5.2M352.3 467.7V476.4M349.7 467.7h5.2M349.7 476.4h5.2M351.9 474.4V482.9M349.3 474.4h5.2M349.3 482.9h5.2M352.1 473.2V479.5M349.5 473.2h5.2M349.5 479.5h5.2M354.1 476.9V487.1M351.5 476.9h5.2M351.5 487.1h5.2M353.9 467.9V477.7M351.3 467.9h5.2M351.3 477.7h5.2M354.1 480.9V487.1M351.5 480.9h5.2M351.5 487.1h5.2M355.8 465.1V473.7M353.2 465.1h5.2M353.2 473.7h5.2M355.7 470.6V481.9M353.1 470.6h5.2M353.1 481.9h5.2M355.9 465.3V476.9M353.3 465.3h5.2M353.3 476.9h5.2M355.7 472.7V483.4M353.1 472.7h5.2M353.1 483.4h5.2M357.6 473.4V489.6M355.0 473.4h5.2M355.0 489.6h5.2M357.7 473.6V486.8M355.1 473.6h5.2M355.1 486.8h5.2M357.5 469.3V482.9M354.9 469.3h5.2M354.9 482.9h5.2M359.3 476.7V483.1M356.7 476.7h5.2M356.7 483.1h5.2M359.4 463.2V472.4M356.8 463.2h5.2M356.8 472.4h5.2M359.5 477.3V483.6M356.9 477.3h5.2M356.9 483.6h5.2M359.2 476.7V488.0M356.6 476.7h5.2M356.6 488.0h5.2M361.2 470.0V479.7M358.6 470.0h5.2M358.6 479.7h5.2M361.2 467.4V475.3M358.6 467.4h5.2M358.6 475.3h5.2M361.0 464.7V471.3M358.4 464.7h5.2M358.4 471.3h5.2M361.3 467.3V472.2M358.7 467.3h5.2M358.7 472.2h5.2M361.1 467.5V475.1M358.5 467.5h5.2M358.5 475.1h5.2M363.1 470.1V476.3M360.5 470.1h5.2M360.5 476.3h5.2M362.8 473.1V480.8M360.2 473.1h5.2M360.2 480.8h5.2M362.8 472.2V484.1M360.2 472.2h5.2M360.2 484.1h5.2M363.1 470.3V481.4M360.5 470.3h5.2M360.5 481.4h5.2M364.7 474.3V491.0M362.1 474.3h5.2M362.1 491.0h5.2M364.8 461.7V475.6M362.2 461.7h5.2M362.2 475.6h5.2M364.8 462.7V475.8M362.2 462.7h5.2M362.2 475.8h5.2M364.8 463.5V474.4M362.2 463.5h5.2M362.2 474.4h5.2M366.7 472.3V482.9M364.1 472.3h5.2M364.1 482.9h5.2M366.5 472.4V484.6M363.9 472.4h5.2M363.9 484.6h5.2M366.7 463.1V474.1M364.1 463.1h5.2M364.1 474.1h5.2M368.4 469.6V477.7M365.8 469.6h5.2M365.8 477.7h5.2M368.3 466.1V474.1M365.7 466.1h5.2M365.7 474.1h5.2M368.4 470.4V482.4M365.8 470.4h5.2M365.8 482.4h5.2M368.4 465.9V479.0M365.8 465.9h5.2M365.8 479.0h5.2M368.5 475.7V487.4M365.9 475.7h5.2M365.9 487.4h5.2M370.4 456.2V468.7M367.8 456.2h5.2M367.8 468.7h5.2M370.1 456.5V467.7M367.5 456.5h5.2M367.5 467.7h5.2M370.2 478.1V488.0M367.6 478.1h5.2M367.6 488.0h5.2M375.8 470.1V473.4M373.2 470.1h5.2M373.2 473.4h5.2M375.7 472.5V477.1M373.1 472.5h5.2M373.1 477.1h5.2M375.7 468.3V474.6M373.1 468.3h5.2M373.1 474.6h5.2M375.8 468.2V473.2M373.2 468.2h5.2M373.2 473.2h5.2M375.8 465.1V471.8M373.2 465.1h5.2M373.2 471.8h5.2M377.4 469.8V474.6M374.8 469.8h5.2M374.8 474.6h5.2M377.5 476.5V485.1M374.9 476.5h5.2M374.9 485.1h5.2M377.6 474.9V479.8M375.0 474.9h5.2M375.0 479.8h5.2M377.7 470.6V478.6M375.1 470.6h5.2M375.1 478.6h5.2M379.3 462.2V473.7M376.7 462.2h5.2M376.7 473.7h5.2M379.4 468.3V478.4M376.8 468.3h5.2M376.8 478.4h5.2M379.4 465.2V472.8M376.8 465.2h5.2M376.8 472.8h5.2M381.2 473.3V480.0M378.6 473.3h5.2M378.6 480.0h5.2M381.3 473.5V478.5M378.7 473.5h5.2M378.7 478.5h5.2M381.2 472.9V478.4M378.6 472.9h5.2M378.6 478.4h5.2M381.2 471.5V480.0M378.6 471.5h5.2M378.6 480.0h5.2M381.0 476.8V483.4M378.4 476.8h5.2M378.4 483.4h5.2M383.1 480.6V487.6M380.5 480.6h5.2M380.5 487.6h5.2M382.8 472.6V485.6M380.2 472.6h5.2M380.2 485.6h5.2M382.9 483.1V491.4M380.3 483.1h5.2M380.3 491.4h5.2M384.8 470.2V478.9M382.2 470.2h5.2M382.2 478.9h5.2M384.8 466.6V476.2M382.2 466.6h5.2M382.2 476.2h5.2M385.0 472.6V482.9M382.4 472.6h5.2M382.4 482.9h5.2M384.6 477.2V486.3M382.0 477.2h5.2M382.0 486.3h5.2M386.5 470.8V476.1M383.9 470.8h5.2M383.9 476.1h5.2M386.4 469.0V477.9M383.8 469.0h5.2M383.8 477.9h5.2M386.8 464.5V475.4M384.2 464.5h5.2M384.2 475.4h5.2M386.4 476.3V485.5M383.8 476.3h5.2M383.8 485.5h5.2M388.6 471.8V479.6M386.0 471.8h5.2M386.0 479.6h5.2M388.3 471.0V479.8M385.7 471.0h5.2M385.7 479.8h5.2M388.6 477.5V486.6M386.0 477.5h5.2M386.0 486.6h5.2M388.5 467.1V476.6M385.9 467.1h5.2M385.9 476.6h5.2M388.4 466.5V476.8M385.8 466.5h5.2M385.8 476.8h5.2M390.1 478.0V484.0M387.5 478.0h5.2M387.5 484.0h5.2M390.1 466.0V472.2M387.5 466.0h5.2M387.5 472.2h5.2M390.4 476.4V485.7M387.8 476.4h5.2M387.8 485.7h5.2M390.3 472.8V480.4M387.7 472.8h5.2M387.7 480.4h5.2M391.9 471.4V480.1M389.3 471.4h5.2M389.3 480.1h5.2M392.2 474.0V481.9M389.6 474.0h5.2M389.6 481.9h5.2M392.2 467.1V475.6M389.6 467.1h5.2M389.6 475.6h5.2M394.1 469.3V476.8M391.5 469.3h5.2M391.5 476.8h5.2M393.8 468.1V478.8M391.2 468.1h5.2M391.2 478.8h5.2M393.9 469.4V475.5M391.3 469.4h5.2M391.3 475.5h5.2M394.0 475.3V480.1M391.4 475.3h5.2M391.4 480.1h5.2M394.1 475.4V483.4M391.5 475.4h5.2M391.5 483.4h5.2M395.7 464.3V470.2M393.1 464.3h5.2M393.1 470.2h5.2M395.5 465.5V471.1M392.9 465.5h5.2M392.9 471.1h5.2M395.8 469.5V478.7M393.2 469.5h5.2M393.2 478.7h5.2M397.3 475.0V480.6M394.7 475.0h5.2M394.7 480.6h5.2M397.5 472.0V477.3M394.9 472.0h5.2M394.9 477.3h5.2M397.4 469.5V475.1M394.8 469.5h5.2M394.8 475.1h5.2M397.7 468.5V475.2M395.1 468.5h5.2M395.1 475.2h5.2M399.3 475.6V482.2M396.7 475.6h5.2M396.7 482.2h5.2M399.3 460.1V471.3M396.7 460.1h5.2M396.7 471.3h5.2M399.2 466.4V477.4M396.6 466.4h5.2M396.6 477.4h5.2M399.3 461.8V471.9M396.7 461.8h5.2M396.7 471.9h5.2M399.2 458.8V464.8M396.6 458.8h5.2M396.6 464.8h5.2M401.3 471.0V481.2M398.7 471.0h5.2M398.7 481.2h5.2M401.3 466.4V476.8M398.7 466.4h5.2M398.7 476.8h5.2M401.3 481.2V489.8M398.7 481.2h5.2M398.7 489.8h5.2M403.1 468.4V473.2M400.5 468.4h5.2M400.5 473.2h5.2M402.9 476.3V483.0M400.3 476.3h5.2M400.3 483.0h5.2M403.0 471.9V478.4M400.4 471.9h5.2M400.4 478.4h5.2M402.9 468.9V474.0M400.3 468.9h5.2M400.3 474.0h5.2M404.6 470.1V477.9M402.0 470.1h5.2M402.0 477.9h5.2M404.9 474.2V480.1M402.3 474.2h5.2M402.3 480.1h5.2M404.9 474.7V480.1M402.3 474.7h5.2M402.3 480.1h5.2M404.8 465.0V475.3M402.2 465.0h5.2M402.2 475.3h5.2M406.6 465.0V476.3M404.0 465.0h5.2M404.0 476.3h5.2M406.7 466.9V481.4M404.1 466.9h5.2M404.1 481.4h5.2M406.4 472.8V485.9M403.8 472.8h5.2M403.8 485.9h5.2M406.7 464.7V475.6M404.1 464.7h5.2M404.1 475.6h5.2M406.7 464.0V473.9M404.1 464.0h5.2M404.1 473.9h5.2M408.2 472.7V485.4M405.6 472.7h5.2M405.6 485.4h5.2M408.3 467.6V479.8M405.7 467.6h5.2M405.7 479.8h5.2M408.4 463.0V475.5M405.8 463.0h5.2M405.8 475.5h5.2M410.2 468.2V476.3M407.6 468.2h5.2M407.6 476.3h5.2M410.3 473.3V483.3M407.7 473.3h5.2M407.7 483.3h5.2M410.4 477.3V488.1M407.8 477.3h5.2M407.8 488.1h5.2M412.2 465.5V471.4M409.6 465.5h5.2M409.6 471.4h5.2M412.0 471.8V481.4M409.4 471.8h5.2M409.4 481.4h5.2M412.1 464.4V474.4M409.5 464.4h5.2M409.5 474.4h5.2M413.9 472.3V484.1M411.3 472.3h5.2M411.3 484.1h5.2M413.8 466.9V478.8M411.2 466.9h5.2M411.2 478.8h5.2M413.8 467.6V478.0M411.2 467.6h5.2M411.2 478.0h5.2M414.0 463.6V475.6M411.4 463.6h5.2M411.4 475.6h5.2M415.6 458.6V467.6M413.0 458.6h5.2M413.0 467.6h5.2M415.8 472.5V481.1M413.2 472.5h5.2M413.2 481.1h5.2M415.6 457.0V467.0M413.0 457.0h5.2M413.0 467.0h5.2M417.6 467.6V475.8M415.0 467.6h5.2M415.0 475.8h5.2M417.6 454.8V468.5M415.0 454.8h5.2M415.0 468.5h5.2M417.6 473.5V488.7M415.0 473.5h5.2M415.0 488.7h5.2M417.7 468.9V480.8M415.1 468.9h5.2M415.1 480.8h5.2M419.3 472.2V482.4M416.7 472.2h5.2M416.7 482.4h5.2M419.2 472.1V481.5M416.6 472.1h5.2M416.6 481.5h5.2M419.4 475.5V483.7M416.8 475.5h5.2M416.8 483.7h5.2M419.1 472.0V483.0M416.5 472.0h5.2M416.5 483.0h5.2M419.1 468.7V476.4M416.5 468.7h5.2M416.5 476.4h5.2M421.1 461.3V471.0M418.5 461.3h5.2M418.5 471.0h5.2M421.0 465.2V474.0M418.4 465.2h5.2M418.4 474.0h5.2M420.9 465.7V477.6M418.3 465.7h5.2M418.3 477.6h5.2M422.9 471.1V475.7M420.3 471.1h5.2M420.3 475.7h5.2M422.9 472.5V481.6M420.3 472.5h5.2M420.3 481.6h5.2M422.9 468.3V474.1M420.3 468.3h5.2M420.3 474.1h5.2M422.7 468.0V475.5M420.1 468.0h5.2M420.1 475.5h5.2M424.6 472.9V485.0M422.0 472.9h5.2M422.0 485.0h5.2M424.7 467.6V474.7M422.1 467.6h5.2M422.1 474.7h5.2M424.7 467.6V478.6M422.1 467.6h5.2M422.1 478.6h5.2M424.7 474.2V481.1M422.1 474.2h5.2M422.1 481.1h5.2M426.4 477.7V487.6M423.8 477.7h5.2M423.8 487.6h5.2M426.4 480.8V487.6M423.8 480.8h5.2M423.8 487.6h5.2M426.4 465.4V478.4M423.8 465.4h5.2M423.8 478.4h5.2M426.7 476.4V487.8M424.1 476.4h5.2M424.1 487.8h5.2M426.6 473.7V482.1M424.0 473.7h5.2M424.0 482.1h5.2M428.5 470.6V478.7M425.9 470.6h5.2M425.9 478.7h5.2M428.6 464.4V475.0M426.0 464.4h5.2M426.0 475.0h5.2M428.3 472.1V483.2M425.7 472.1h5.2M425.7 483.2h5.2M428.5 464.5V477.0M425.9 464.5h5.2M425.9 477.0h5.2M428.5 472.2V479.1M425.9 472.2h5.2M425.9 479.1h5.2M430.3 467.0V482.3M427.7 467.0h5.2M427.7 482.3h5.2M430.4 467.9V480.4M427.8 467.9h5.2M427.8 480.4h5.2M430.3 474.2V483.3M427.7 474.2h5.2M427.7 483.3h5.2M430.4 474.2V482.6M427.8 474.2h5.2M427.8 482.6h5.2M430.1 467.8V477.8M427.5 467.8h5.2M427.5 477.8h5.2M432.0 479.1V485.8M429.4 479.1h5.2M429.4 485.8h5.2M432.1 461.4V474.5M429.5 461.4h5.2M429.5 474.5h5.2M432.1 474.5V481.3M429.5 474.5h5.2M429.5 481.3h5.2M432.1 461.4V472.7M429.5 461.4h5.2M429.5 472.7h5.2M432.1 468.9V477.3M429.5 468.9h5.2M429.5 477.3h5.2M433.7 470.8V477.9M431.1 470.8h5.2M431.1 477.9h5.2M433.8 461.4V472.5M431.2 461.4h5.2M431.2 472.5h5.2M433.9 462.4V470.9M431.3 462.4h5.2M431.3 470.9h5.2M435.8 475.0V482.7M433.2 475.0h5.2M433.2 482.7h5.2M435.8 469.1V481.4M433.2 469.1h5.2M433.2 481.4h5.2M435.6 475.1V487.9M433.0 475.1h5.2M433.0 487.9h5.2M435.6 479.1V488.0M433.0 479.1h5.2M433.0 488.0h5.2M437.3 464.7V471.8M434.7 464.7h5.2M434.7 471.8h5.2M437.5 464.6V471.2M434.9 464.6h5.2M434.9 471.2h5.2M437.5 466.8V472.8M434.9 466.8h5.2M434.9 472.8h5.2M439.2 467.3V477.8M436.6 467.3h5.2M436.6 477.8h5.2M439.1 477.4V487.8M436.5 477.4h5.2M436.5 487.8h5.2M439.4 468.0V480.0M436.8 468.0h5.2M436.8 480.0h5.2M439.1 478.4V487.8M436.5 478.4h5.2M436.5 487.8h5.2M441.1 457.9V471.2M438.5 457.9h5.2M438.5 471.2h5.2M441.0 468.2V476.6M438.4 468.2h5.2M438.4 476.6h5.2M441.2 465.9V480.3M438.6 465.9h5.2M438.6 480.3h5.2M442.9 477.7V490.0M440.3 477.7h5.2M440.3 490.0h5.2M443.0 477.4V483.6M440.4 477.4h5.2M440.4 483.6h5.2M443.1 466.0V479.9M440.5 466.0h5.2M440.5 479.9h5.2M443.1 470.5V481.1M440.5 470.5h5.2M440.5 481.1h5.2M443.1 467.8V479.8M440.5 467.8h5.2M440.5 479.8h5.2M444.7 463.8V470.9M442.1 463.8h5.2M442.1 470.9h5.2M444.8 469.2V476.2M442.2 469.2h5.2M442.2 476.2h5.2M444.8 481.6V490.4M442.2 481.6h5.2M442.2 490.4h5.2M444.6 464.1V478.6M442.0 464.1h5.2M442.0 478.6h5.2M446.7 466.2V474.6M444.1 466.2h5.2M444.1 474.6h5.2M446.5 466.7V478.3M443.9 466.7h5.2M443.9 478.3h5.2M446.7 468.7V482.7M444.1 468.7h5.2M444.1 482.7h5.2M446.6 462.6V471.1M444.0 462.6h5.2M444.0 471.1h5.2M446.6 466.7V478.9M444.0 466.7h5.2M444.0 478.9h5.2M448.3 474.0V481.5M445.7 474.0h5.2M445.7 481.5h5.2M448.5 466.4V479.8M445.9 466.4h5.2M445.9 479.8h5.2M448.4 463.6V470.8M445.8 463.6h5.2M445.8 470.8h5.2M448.3 454.7V464.1M445.7 454.7h5.2M445.7 464.1h5.2M450.3 466.6V475.7M447.7 466.6h5.2M447.7 475.7h5.2M450.0 467.8V474.7M447.4 467.8h5.2M447.4 474.7h5.2M450.1 460.6V471.3M447.5 460.6h5.2M447.5 471.3h5.2M450.2 478.1V487.4M447.6 478.1h5.2M447.6 487.4h5.2M452.1 473.0V482.6M449.5 473.0h5.2M449.5 482.6h5.2M452.2 478.1V486.7M449.6 478.1h5.2M449.6 486.7h5.2M452.0 472.2V481.3M449.4 472.2h5.2M449.4 481.3h5.2M452.0 464.6V475.6M449.4 464.6h5.2M449.4 475.6h5.2M453.9 469.9V485.7M451.3 469.9h5.2M451.3 485.7h5.2M453.8 476.0V487.6M451.2 476.0h5.2M451.2 487.6h5.2M453.6 471.6V480.1M451.0 471.6h5.2M451.0 480.1h5.2M453.8 474.9V484.9M451.2 474.9h5.2M451.2 484.9h5.2M453.8 481.2V491.6M451.2 481.2h5.2M451.2 491.6h5.2M455.6 466.6V478.7M453.0 466.6h5.2M453.0 478.7h5.2M455.6 473.5V479.4M453.0 473.5h5.2M453.0 479.4h5.2M455.5 467.8V480.4M452.9 467.8h5.2M452.9 480.4h5.2M459.3 474.3V485.9M456.7 474.3h5.2M456.7 485.9h5.2M459.1 466.9V476.9M456.5 466.9h5.2M456.5 476.9h5.2M459.4 478.2V488.8M456.8 478.2h5.2M456.8 488.8h5.2M459.4 478.3V488.8M456.8 478.3h5.2M456.8 488.8h5.2M461.2 474.8V485.5M458.6 474.8h5.2M458.6 485.5h5.2M461.1 466.5V478.7M458.5 466.5h5.2M458.5 478.7h5.2M460.9 467.5V476.9M458.3 467.5h5.2M458.3 476.9h5.2M461.1 466.2V479.5M458.5 466.2h5.2M458.5 479.5h5.2M462.8 465.3V479.1M460.2 465.3h5.2M460.2 479.1h5.2M462.7 461.9V472.6M460.1 461.9h5.2M460.1 472.6h5.2M462.9 464.8V473.0M460.3 464.8h5.2M460.3 473.0h5.2M464.9 468.1V478.2M462.3 468.1h5.2M462.3 478.2h5.2M464.8 479.5V485.8M462.2 479.5h5.2M462.2 485.8h5.2M464.8 468.8V476.1M462.2 468.8h5.2M462.2 476.1h5.2M464.9 473.0V480.6M462.3 473.0h5.2M462.3 480.6h5.2M464.8 478.6V488.3M462.2 478.6h5.2M462.2 488.3h5.2M466.6 469.3V473.8M464.0 469.3h5.2M464.0 473.8h5.2M466.5 474.8V480.0M463.9 474.8h5.2M463.9 480.0h5.2M466.5 472.6V478.5M463.9 472.6h5.2M463.9 478.5h5.2M466.5 469.6V474.6M463.9 469.6h5.2M463.9 474.6h5.2M468.3 473.3V479.3M465.7 473.3h5.2M465.7 479.3h5.2M468.3 472.9V479.3M465.7 472.9h5.2M465.7 479.3h5.2M468.2 463.6V468.4M465.6 463.6h5.2M465.6 468.4h5.2M468.2 463.6V471.7M465.6 463.6h5.2M465.6 471.7h5.2M470.2 471.4V481.8M467.6 471.4h5.2M467.6 481.8h5.2M470.1 470.6V476.1M467.5 470.6h5.2M467.5 476.1h5.2M470.2 473.8V482.6M467.6 473.8h5.2M467.6 482.6h5.2M470.2 469.1V478.8M467.6 469.1h5.2M467.6 478.8h5.2M471.8 464.8V474.8M469.2 464.8h5.2M469.2 474.8h5.2M472.0 468.7V478.0M469.4 468.7h5.2M469.4 478.0h5.2M472.0 472.1V479.0M469.4 472.1h5.2M469.4 479.0h5.2M471.9 463.1V475.5M469.3 463.1h5.2M469.3 475.5h5.2M473.9 462.2V473.6M471.3 462.2h5.2M471.3 473.6h5.2M473.7 470.7V479.6M471.1 470.7h5.2M471.1 479.6h5.2M473.8 471.6V482.6M471.2 471.6h5.2M471.2 482.6h5.2M473.8 469.7V478.6M471.2 469.7h5.2M471.2 478.6h5.2M475.5 478.3V481.9M472.9 478.3h5.2M472.9 481.9h5.2M475.8 474.4V480.1M473.2 474.4h5.2M473.2 480.1h5.2M475.6 476.9V482.9M473.0 476.9h5.2M473.0 482.9h5.2M477.6 471.1V478.0M475.0 471.1h5.2M475.0 478.0h5.2M477.3 464.6V472.2M474.7 464.6h5.2M474.7 472.2h5.2M477.6 464.3V470.6M475.0 464.3h5.2M475.0 470.6h5.2M477.3 466.3V475.9M474.7 466.3h5.2M474.7 475.9h5.2M479.4 471.0V481.5M476.8 471.0h5.2M476.8 481.5h5.2M479.2 475.3V482.5M476.6 475.3h5.2M476.6 482.5h5.2M479.3 469.8V478.1M476.7 469.8h5.2M476.7 478.1h5.2M479.2 477.4V483.6M476.6 477.4h5.2M476.6 483.6h5.2M481.2 469.2V481.4M478.6 469.2h5.2M478.6 481.4h5.2M480.9 467.6V478.2M478.3 467.6h5.2M478.3 478.2h5.2M481.1 464.9V471.7M478.5 464.9h5.2M478.5 471.7h5.2M480.9 472.6V483.9M478.3 472.6h5.2M478.3 483.9h5.2M481.3 458.6V471.0M478.7 458.6h5.2M478.7 471.0h5.2M482.9 466.8V474.1M480.3 466.8h5.2M480.3 474.1h5.2M483.0 462.1V472.1M480.4 462.1h5.2M480.4 472.1h5.2M483.1 473.3V483.5M480.5 473.3h5.2M480.5 483.5h5.2M482.9 462.1V473.1M480.3 462.1h5.2M480.3 473.1h5.2M484.5 470.2V480.3M481.9 470.2h5.2M481.9 480.3h5.2M484.6 476.5V483.5M482.0 476.5h5.2M482.0 483.5h5.2M484.7 466.2V475.8M482.1 466.2h5.2M482.1 475.8h5.2M484.9 472.2V478.3M482.3 472.2h5.2M482.3 478.3h5.2M484.8 477.2V484.1M482.2 477.2h5.2M482.2 484.1h5.2M486.5 479.5V487.7M483.9 479.5h5.2M483.9 487.7h5.2M486.4 470.1V476.2M483.8 470.1h5.2M483.8 476.2h5.2M486.7 468.5V479.7M484.1 468.5h5.2M484.1 479.7h5.2M486.4 474.1V481.0M483.8 474.1h5.2M483.8 481.0h5.2M488.4 476.8V483.3M485.8 476.8h5.2M485.8 483.3h5.2M488.5 473.8V478.9M485.9 473.8h5.2M485.9 478.9h5.2M488.5 468.1V475.0M485.9 468.1h5.2M485.9 475.0h5.2M490.0 467.3V470.8M487.4 467.3h5.2M487.4 470.8h5.2M490.2 468.6V475.4M487.6 468.6h5.2M487.6 475.4h5.2M490.1 470.2V476.0M487.5 470.2h5.2M487.5 476.0h5.2M494.0 471.5V480.2M491.4 471.5h5.2M491.4 480.2h5.2M493.7 471.3V475.2M491.1 471.3h5.2M491.1 475.2h5.2M494.0 466.3V472.4M491.4 466.3h5.2M491.4 472.4h5.2M497.5 471.6V478.7M494.9 471.6h5.2M494.9 478.7h5.2M497.3 465.3V470.0M494.7 465.3h5.2M494.7 470.0h5.2M497.3 473.3V479.7M494.7 473.3h5.2M494.7 479.7h5.2M497.6 465.3V472.7M495.0 465.3h5.2M495.0 472.7h5.2M499.3 469.0V478.8M496.7 469.0h5.2M496.7 478.8h5.2M499.4 466.4V471.9M496.8 466.4h5.2M496.8 471.9h5.2M499.3 482.8V487.8M496.7 482.8h5.2M496.7 487.8h5.2M501.3 470.0V479.0M498.7 470.0h5.2M498.7 479.0h5.2M501.1 468.5V477.6M498.5 468.5h5.2M498.5 477.6h5.2M501.1 470.7V475.6M498.5 470.7h5.2M498.5 475.6h5.2M500.9 472.3V477.8M498.3 472.3h5.2M498.3 477.8h5.2M501.1 474.7V480.7M498.5 474.7h5.2M498.5 480.7h5.2M504.8 468.9V477.4M502.2 468.9h5.2M502.2 477.4h5.2M504.6 465.9V475.0M502.0 465.9h5.2M502.0 475.0h5.2M504.6 466.6V478.2M502.0 466.6h5.2M502.0 478.2h5.2M506.6 468.3V476.3M504.0 468.3h5.2M504.0 476.3h5.2M506.5 475.7V481.2M503.9 475.7h5.2M503.9 481.2h5.2M506.5 473.9V480.2M503.9 473.9h5.2M503.9 480.2h5.2M508.2 460.0V470.0M505.6 460.0h5.2M505.6 470.0h5.2M508.2 464.0V473.2M505.6 464.0h5.2M505.6 473.2h5.2M508.4 465.7V475.9M505.8 465.7h5.2M505.8 475.9h5.2M508.2 465.5V471.0M505.6 465.5h5.2M505.6 471.0h5.2M510.3 465.5V472.9M507.7 465.5h5.2M507.7 472.9h5.2M510.0 469.3V480.6M507.4 469.3h5.2M507.4 480.6h5.2M510.2 471.0V483.9M507.6 471.0h5.2M507.6 483.9h5.2M510.1 471.8V479.1M507.5 471.8h5.2M507.5 479.1h5.2M511.8 472.8V483.6M509.2 472.8h5.2M509.2 483.6h5.2M512.0 462.3V473.5M509.4 462.3h5.2M509.4 473.5h5.2M511.9 463.2V471.6M509.3 463.2h5.2M509.3 471.6h5.2M513.6 470.3V477.9M511.0 470.3h5.2M511.0 477.9h5.2M513.9 466.4V476.2M511.3 466.4h5.2M511.3 476.2h5.2M513.9 469.7V477.2M511.3 469.7h5.2M511.3 477.2h5.2M513.7 472.6V481.2M511.1 472.6h5.2M511.1 481.2h5.2M515.8 468.9V473.9M513.2 468.9h5.2M513.2 473.9h5.2M515.5 471.4V475.4M512.9 471.4h5.2M512.9 475.4h5.2M515.5 468.7V473.5M512.9 468.7h5.2M512.9 473.5h5.2M515.4 471.0V473.6M512.8 471.0h5.2M512.8 473.6h5.2M517.3 470.8V477.0M514.7 470.8h5.2M514.7 477.0h5.2M517.5 464.6V473.3M514.9 464.6h5.2M514.9 473.3h5.2M517.5 471.4V475.8M514.9 471.4h5.2M514.9 475.8h5.2M517.3 470.5V476.4M514.7 470.5h5.2M514.7 476.4h5.2M519.2 477.2V482.0M516.6 477.2h5.2M516.6 482.0h5.2M519.3 470.8V479.8M516.7 470.8h5.2M516.7 479.8h5.2M519.4 478.4V483.3M516.8 478.4h5.2M516.8 483.3h5.2M521.0 463.4V469.9M518.4 463.4h5.2M518.4 469.9h5.2M521.0 462.9V471.7M518.4 462.9h5.2M518.4 471.7h5.2M521.1 468.5V478.1M518.5 468.5h5.2M518.5 478.1h5.2M520.9 468.7V476.5M518.3 468.7h5.2M518.3 476.5h5.2M522.8 473.0V477.2M520.2 473.0h5.2M520.2 477.2h5.2M522.9 473.1V478.2M520.3 473.1h5.2M520.3 478.2h5.2M522.7 473.4V479.3M520.1 473.4h5.2M520.1 479.3h5.2M522.8 470.3V474.8M520.2 470.3h5.2M520.2 474.8h5.2M522.8 469.9V474.7M520.2 469.9h5.2M520.2 474.7h5.2M524.8 465.6V471.0M522.2 465.6h5.2M522.2 471.0h5.2M524.8 470.5V481.3M522.2 470.5h5.2M522.2 481.3h5.2M524.7 464.5V475.0M522.1 464.5h5.2M522.1 475.0h5.2M524.7 473.8V482.0M522.1 473.8h5.2M522.1 482.0h5.2M526.4 469.5V473.5M523.8 469.5h5.2M523.8 473.5h5.2M526.5 470.0V474.5M523.9 470.0h5.2M523.9 474.5h5.2M526.6 470.9V476.5M524.0 470.9h5.2M524.0 476.5h5.2M281.0 473.8V480.7M278.4 473.8h5.2M278.4 480.7h5.2M281.3 468.5V478.3M278.7 468.5h5.2M278.7 478.3h5.2M281.3 480.1V485.3M278.7 480.1h5.2M278.7 485.3h5.2M281.2 470.5V479.1M278.6 470.5h5.2M278.6 479.1h5.2M281.3 466.3V473.6M278.7 466.3h5.2M278.7 473.6h5.2M281.1 476.3V481.2M278.5 476.3h5.2M278.5 481.2h5.2M282.8 470.2V480.1M280.2 470.2h5.2M280.2 480.1h5.2M283.0 469.5V474.2M280.4 469.5h5.2M280.4 474.2h5.2M283.0 466.3V474.3M280.4 466.3h5.2M280.4 474.3h5.2M283.1 477.2V487.3M280.5 477.2h5.2M280.5 487.3h5.2M283.2 475.8V481.0M280.6 475.8h5.2M280.6 481.0h5.2M283.1 472.8V480.5M280.5 472.8h5.2M280.5 480.5h5.2M284.8 473.6V482.2M282.2 473.6h5.2M282.2 482.2h5.2M285.0 472.6V480.5M282.4 472.6h5.2M282.4 480.5h5.2M284.8 473.0V481.5M282.2 473.0h5.2M282.2 481.5h5.2M284.8 470.4V476.4M282.2 470.4h5.2M282.2 476.4h5.2M284.7 474.7V483.5M282.1 474.7h5.2M282.1 483.5h5.2M284.7 475.0V482.9M282.1 475.0h5.2M282.1 482.9h5.2M284.9 471.6V479.7M282.3 471.6h5.2M282.3 479.7h5.2M286.5 475.5V484.4M283.9 475.5h5.2M283.9 484.4h5.2M286.7 467.0V476.2M284.1 467.0h5.2M284.1 476.2h5.2M286.8 466.1V476.3M284.2 466.1h5.2M284.2 476.3h5.2M286.6 472.6V478.7M284.0 472.6h5.2M284.0 478.7h5.2M286.5 466.1V476.7M283.9 466.1h5.2M283.9 476.7h5.2M286.7 473.2V479.4M284.1 473.2h5.2M284.1 479.4h5.2M288.3 479.6V485.4M285.7 479.6h5.2M285.7 485.4h5.2M288.4 479.0V487.6M285.8 479.0h5.2M285.8 487.6h5.2M288.5 478.4V486.1M285.9 478.4h5.2M285.9 486.1h5.2M288.4 475.3V485.2M285.8 475.3h5.2M285.8 485.2h5.2M288.4 473.0V482.4M285.8 473.0h5.2M285.8 482.4h5.2M288.6 483.5V488.7M286.0 483.5h5.2M286.0 488.7h5.2M290.1 473.5V483.1M287.5 473.5h5.2M287.5 483.1h5.2M290.1 475.0V480.4M287.5 475.0h5.2M287.5 480.4h5.2M290.3 468.7V477.4M287.7 468.7h5.2M287.7 477.4h5.2M290.3 471.1V480.1M287.7 471.1h5.2M287.7 480.1h5.2M290.3 475.2V482.2M287.7 475.2h5.2M287.7 482.2h5.2M290.2 479.1V484.7M287.6 479.1h5.2M287.6 484.7h5.2M292.1 476.4V484.8M289.5 476.4h5.2M289.5 484.8h5.2M292.0 474.1V484.5M289.4 474.1h5.2M289.4 484.5h5.2M292.3 472.9V478.3M289.7 472.9h5.2M289.7 478.3h5.2M292.2 480.0V486.1M289.6 480.0h5.2M289.6 486.1h5.2M292.2 471.1V481.2M289.6 471.1h5.2M289.6 481.2h5.2M355.6 460.8V474.4M353.0 460.8h5.2M353.0 474.4h5.2M355.6 465.2V477.1M353.0 465.2h5.2M353.0 477.1h5.2M355.7 474.1V484.3M353.1 474.1h5.2M353.1 484.3h5.2M355.6 464.0V475.3M353.0 464.0h5.2M353.0 475.3h5.2M355.7 458.4V468.0M353.1 458.4h5.2M353.1 468.0h5.2M357.4 472.3V483.5M354.8 472.3h5.2M354.8 483.5h5.2M357.4 469.6V480.8M354.8 469.6h5.2M354.8 480.8h5.2M357.5 472.0V483.0M354.9 472.0h5.2M354.9 483.0h5.2M357.3 463.8V476.3M354.7 463.8h5.2M354.7 476.3h5.2M357.5 473.3V490.0M354.9 473.3h5.2M354.9 490.0h5.2M359.4 471.4V486.2M356.8 471.4h5.2M356.8 486.2h5.2M359.4 465.8V481.1M356.8 465.8h5.2M356.8 481.1h5.2M359.2 473.0V484.0M356.6 473.0h5.2M356.6 484.0h5.2M359.3 463.7V471.7M356.7 463.7h5.2M356.7 471.7h5.2M359.2 458.7V472.8M356.6 458.7h5.2M356.6 472.8h5.2M361.3 464.2V479.3M358.7 464.2h5.2M358.7 479.3h5.2M361.0 474.1V488.8M358.4 474.1h5.2M358.4 488.8h5.2M361.2 472.1V480.0M358.6 472.1h5.2M358.6 480.0h5.2M361.1 470.9V483.3M358.5 470.9h5.2M358.5 483.3h5.2M361.2 457.7V471.5M358.6 457.7h5.2M358.6 471.5h5.2M361.1 469.7V478.0M358.5 469.7h5.2M358.5 478.0h5.2M361.0 462.9V478.1M358.4 462.9h5.2M358.4 478.1h5.2M362.9 469.1V485.0M360.3 469.1h5.2M360.3 485.0h5.2M362.9 457.6V472.9M360.3 457.6h5.2M360.3 472.9h5.2M362.9 470.5V484.4M360.3 470.5h5.2M360.3 484.4h5.2M362.8 468.3V482.7M360.2 468.3h5.2M360.2 482.7h5.2M363.0 476.3V489.8M360.4 476.3h5.2M360.4 489.8h5.2M362.8 461.7V472.5M360.2 461.7h5.2M360.2 472.5h5.2M363.1 476.5V487.3M360.5 476.5h5.2M360.5 487.3h5.2M343.0 468.8V477.1M340.4 468.8h5.2M340.4 477.1h5.2M342.9 474.8V486.6M340.3 474.8h5.2M340.3 486.6h5.2M343.1 467.9V477.0M340.5 467.9h5.2M340.5 477.0h5.2M343.0 457.7V469.8M340.4 457.7h5.2M340.4 469.8h5.2M342.9 476.4V489.8M340.3 476.4h5.2M340.3 489.8h5.2M342.8 478.9V486.0M340.2 478.9h5.2M340.2 486.0h5.2M342.9 473.2V483.1M340.3 473.2h5.2M340.3 483.1h5.2M345.0 465.7V478.4M342.4 465.7h5.2M342.4 478.4h5.2M344.7 469.2V484.1M342.1 469.2h5.2M342.1 484.1h5.2M344.7 470.0V477.1M342.1 470.0h5.2M342.1 477.1h5.2M344.9 470.9V479.8M342.3 470.9h5.2M342.3 479.8h5.2M344.6 475.1V482.5M342.0 475.1h5.2M342.0 482.5h5.2M215.9 466.5V477.7M213.3 466.5h5.2M213.3 477.7h5.2M216.1 469.4V484.0M213.5 469.4h5.2M213.5 484.0h5.2M216.1 471.9V484.8M213.5 471.9h5.2M213.5 484.8h5.2M217.8 459.3V468.1M215.2 459.3h5.2M215.2 468.1h5.2M217.9 461.4V473.7M215.3 461.4h5.2M215.3 473.7h5.2M218.0 461.5V476.1M215.4 461.5h5.2M215.4 476.1h5.2M217.9 463.4V478.1M215.3 463.4h5.2M215.3 478.1h5.2M218.0 465.9V480.5M215.4 465.9h5.2M215.4 480.5h5.2M217.8 471.0V488.6M215.2 471.0h5.2M215.2 488.6h5.2M219.6 442.4V462.9M217.0 442.4h5.2M217.0 462.9h5.2M220.0 443.3V458.3M217.4 443.3h5.2M217.4 458.3h5.2M219.7 459.2V472.1M217.1 459.2h5.2M217.1 472.1h5.2M219.7 464.0V481.6M217.1 464.0h5.2M217.1 481.6h5.2M221.6 439.9V453.3M219.0 439.9h5.2M219.0 453.3h5.2M221.4 449.3V466.9M218.8 449.3h5.2M218.8 466.9h5.2M221.6 456.4V472.8M219.0 456.4h5.2M219.0 472.8h5.2M221.4 462.5V480.1M218.8 462.5h5.2M218.8 480.1h5.2M221.5 468.1V485.7M218.9 468.1h5.2M218.9 485.7h5.2M223.2 458.8V470.0M220.6 458.8h5.2M220.6 470.0h5.2M223.3 462.2V472.8M220.7 462.2h5.2M220.7 472.8h5.2M223.6 464.7V471.7M221.0 464.7h5.2M221.0 471.7h5.2M223.3 464.3V476.0M220.7 464.3h5.2M220.7 476.0h5.2M223.4 469.6V484.2M220.8 469.6h5.2M220.8 484.2h5.2M225.0 466.6V475.7M222.4 466.6h5.2M222.4 475.7h5.2M228.6 462.1V466.8M226.0 462.1h5.2M226.0 466.8h5.2M228.9 462.2V466.3M226.3 462.2h5.2M226.3 466.3h5.2M228.6 465.9V470.9M226.0 465.9h5.2M226.0 470.9h5.2M228.7 467.1V472.3M226.1 467.1h5.2M226.1 472.3h5.2M228.6 468.3V474.8M226.0 468.3h5.2M226.0 474.8h5.2M230.8 458.8V464.1M228.2 458.8h5.2M228.2 464.1h5.2M230.4 461.2V465.3M227.8 461.2h5.2M227.8 465.3h5.2M230.8 460.7V464.8M228.2 460.7h5.2M228.2 464.8h5.2M230.9 463.9V468.2M228.3 463.9h5.2M228.3 468.2h5.2M230.5 466.2V470.6M227.9 466.2h5.2M227.9 470.6h5.2M230.8 466.2V470.6M228.2 466.2h5.2M228.2 470.6h5.2M232.5 457.0V461.7M229.9 457.0h5.2M229.9 461.7h5.2M232.3 459.9V464.6M229.7 459.9h5.2M229.7 464.6h5.2M232.2 464.0V468.1M229.6 464.0h5.2M229.6 468.1h5.2M234.2 453.7V457.3M231.6 453.7h5.2M231.6 457.3h5.2M234.1 456.4V459.9M231.5 456.4h5.2M231.5 459.9h5.2M234.1 457.8V461.9M231.5 457.8h5.2M231.5 461.9h5.2M234.0 459.6V464.9M231.4 459.6h5.2M231.4 464.9h5.2M236.3 453.0V456.2M233.7 453.0h5.2M233.7 456.2h5.2M236.1 454.0V457.6M233.5 454.0h5.2M233.5 457.6h5.2M235.9 455.6V459.5M233.3 455.6h5.2M233.3 459.5h5.2M235.9 456.9V460.9M233.3 456.9h5.2M233.3 460.9h5.2M237.7 444.4V449.1M235.1 444.4h5.2M235.1 449.1h5.2M237.8 447.0V451.7M235.2 447.0h5.2M235.2 451.7h5.2M237.7 448.2V459.3M235.1 448.2h5.2M235.1 459.3h5.2M244.9 419.4V421.1M242.3 419.4h5.2M242.3 421.1h5.2M244.9 420.4V422.2M242.3 420.4h5.2M242.3 422.2h5.2M245.1 422.5V424.3M242.5 422.5h5.2M242.5 424.3h5.2M245.1 423.4V425.2M242.5 423.4h5.2M242.5 425.2h5.2M246.7 430.6V432.4M244.1 430.6h5.2M244.1 432.4h5.2M246.8 432.1V433.8M244.2 432.1h5.2M244.2 433.8h5.2M246.9 433.5V435.9M244.3 433.5h5.2M244.3 435.9h5.2M247.1 435.8V438.6M244.5 435.8h5.2M244.5 438.6h5.2M248.5 439.5V442.2M245.9 439.5h5.2M245.9 442.2h5.2M248.6 441.4V444.4M246.0 441.4h5.2M246.0 444.4h5.2M248.7 442.9V445.8M246.1 442.9h5.2M246.1 445.8h5.2M248.6 445.2V448.2M246.0 445.2h5.2M246.0 448.2h5.2M248.8 446.7V450.2M246.2 446.7h5.2M246.2 450.2h5.2M248.9 447.6V452.9M246.3 447.6h5.2M246.3 452.9h5.2M254.4 452.9V457.0M251.8 452.9h5.2M251.8 457.0h5.2M254.2 457.3V461.9M251.6 457.3h5.2M251.6 461.9h5.2M254.3 459.3V464.0M251.7 459.3h5.2M251.7 464.0h5.2M254.3 461.1V465.8M251.7 461.1h5.2M251.7 465.8h5.2M254.2 464.9V469.6M251.6 464.9h5.2M251.6 469.6h5.2M255.8 460.8V464.3M253.2 460.8h5.2M253.2 464.3h5.2M256.0 461.9V466.0M253.4 461.9h5.2M253.4 466.0h5.2M256.2 464.0V468.7M253.6 464.0h5.2M253.6 468.7h5.2M256.2 466.8V471.8M253.6 466.8h5.2M253.6 471.8h5.2M257.7 461.7V466.9M255.1 461.7h5.2M255.1 466.9h5.2M258.0 461.7V466.9M255.4 461.7h5.2M255.4 466.9h5.2M257.7 463.7V469.0M255.1 463.7h5.2M255.1 469.0h5.2M257.8 466.5V472.4M255.2 466.5h5.2M255.2 472.4h5.2M259.5 457.3V468.7M256.9 457.3h5.2M256.9 468.7h5.2M259.5 460.5V471.6M256.9 460.5h5.2M256.9 471.6h5.2M259.5 463.4V474.5M256.9 463.4h5.2M256.9 474.5h5.2M259.4 466.4V477.7M256.8 466.4h5.2M256.8 477.7h5.2M263.0 424.7V437.0M260.4 424.7h5.2M260.4 437.0h5.2M263.0 434.2V442.0M260.4 434.2h5.2M260.4 442.0h5.2M264.8 451.4V460.5M262.2 451.4h5.2M262.2 460.5h5.2M265.0 453.4V462.2M262.4 453.4h5.2M262.4 462.2h5.2M264.9 464.9V476.0M262.3 464.9h5.2M262.3 476.0h5.2M265.0 466.9V478.1M262.4 466.9h5.2M262.4 478.1h5.2M265.0 470.2V481.3M262.4 470.2h5.2M262.4 481.3h5.2M265.0 474.8V486.0M262.4 474.8h5.2M262.4 486.0h5.2M269.1 439.3V468.2M266.5 439.3h5.2M266.5 468.2h5.2M268.7 449.9V469.9M266.1 449.9h5.2M266.1 469.9h5.2M268.5 455.2V474.0M265.9 455.2h5.2M265.9 474.0h5.2M216.0 467.8V480.7M213.4 467.8h5.2M213.4 480.7h5.2M215.9 470.5V484.2M213.3 470.5h5.2M213.3 484.2h5.2M217.9 460.1V470.7M215.3 460.1h5.2M215.3 470.7h5.2M217.9 462.2V476.8M215.3 462.2h5.2M215.3 476.8h5.2M218.1 464.4V479.1M215.5 464.4h5.2M215.5 479.1h5.2M223.2 460.8V471.6M220.6 460.8h5.2M220.6 471.6h5.2M223.5 464.7V474.1M220.9 464.7h5.2M220.9 474.1h5.2M228.7 464.1V469.0M226.1 464.1h5.2M226.1 469.0h5.2M228.5 467.7V473.6M225.9 467.7h5.2M225.9 473.6h5.2M230.7 462.8V467.0M228.1 462.8h5.2M228.1 467.0h5.2M230.7 465.1V469.5M228.1 465.1h5.2M228.1 469.5h5.2M232.3 458.4V463.1M229.7 458.4h5.2M229.7 463.1h5.2M232.2 461.7V466.1M229.6 461.7h5.2M229.6 466.1h5.2M234.3 455.0V458.5M231.7 455.0h5.2M231.7 458.5h5.2M234.3 457.2V461.0M231.7 457.2h5.2M231.7 461.0h5.2M234.1 458.8V463.5M231.5 458.8h5.2M231.5 463.5h5.2M236.1 454.6V458.3M233.5 454.6h5.2M233.5 458.3h5.2M237.7 445.5V450.2M235.1 445.5h5.2M235.1 450.2h5.2M237.7 447.4V455.3M235.1 447.4h5.2M235.1 455.3h5.2M245.1 421.3V423.1M242.5 421.3h5.2M242.5 423.1h5.2M246.9 432.7V434.7M244.3 432.7h5.2M244.3 434.7h5.2M247.2 434.8V437.3M244.6 434.8h5.2M244.6 437.3h5.2M248.5 440.7V443.5M245.9 440.7h5.2M245.9 443.5h5.2M248.8 444.3V447.2M246.2 444.3h5.2M246.2 447.2h5.2M248.7 445.8V449.0M246.1 445.8h5.2M246.1 449.0h5.2M248.7 447.4V451.8M246.1 447.4h5.2M246.1 451.8h5.2M254.3 454.9V459.3M251.7 454.9h5.2M251.7 459.3h5.2M254.4 458.4V463.1M251.8 458.4h5.2M251.8 463.1h5.2M254.3 460.1V464.8M251.7 460.1h5.2M251.7 464.8h5.2M254.2 462.8V467.5M251.6 462.8h5.2M251.6 467.5h5.2M256.0 463.2V467.6M253.4 463.2h5.2M253.4 467.6h5.2M256.2 465.4V470.3M253.6 465.4h5.2M253.6 470.3h5.2M257.8 462.8V468.1M255.2 462.8h5.2M255.2 468.1h5.2M257.6 465.0V470.6M255.0 465.0h5.2M255.0 470.6h5.2M259.3 458.6V470.0M256.7 458.6h5.2M256.7 470.0h5.2M259.6 462.0V473.2M257.0 462.0h5.2M257.0 473.2h5.2M259.4 464.9V476.1M256.8 464.9h5.2M256.8 476.1h5.2M265.0 452.3V461.3M262.4 452.3h5.2M262.4 461.3h5.2M265.0 466.0V477.1M262.4 466.0h5.2M262.4 477.1h5.2M264.9 468.6V479.7M262.3 468.6h5.2M262.3 479.7h5.2M265.1 472.7V483.9M262.5 472.7h5.2M262.5 483.9h5.2M105.0 456.1V471.1M102.4 456.1h5.2M102.4 471.1h5.2M115.6 457.0V467.0M113.0 457.0h5.2M113.0 467.0h5.2M122.0 456.0V464.0M119.4 456.0h5.2M119.4 464.0h5.2M194.4 449.6V474.4M191.8 449.6h5.2M191.8 474.4h5.2M108.0 460.0V472.0M105.4 460.0h5.2M105.4 472.0h5.2M135.0 459.0V467.0M132.4 459.0h5.2M132.4 467.0h5.2M147.0 460.0V468.0M144.4 460.0h5.2M144.4 468.0h5.2M107.0 487.6V508.4M104.4 487.6h5.2M104.4 508.4h5.2M123.0 481.0V501.0M120.4 481.0h5.2M120.4 501.0h5.2M147.0 490.0V506.0M144.4 490.0h5.2M144.4 506.0h5.2M169.6 481.0V499.0M167.0 481.0h5.2M167.0 499.0h5.2M169.6 485.0V505.0M167.0 485.0h5.2M167.0 505.0h5.2M174.0 481.0V493.0M171.4 481.0h5.2M171.4 493.0h5.2M253.6 345.9V360.9M251.0 345.9h5.2M251.0 360.9h5.2M245.6 418.4V426.4M243.0 418.4h5.2M243.0 426.4h5.2M263.0 425.0V437.0M260.4 425.0h5.2M260.4 437.0h5.2M263.0 432.0V442.0M260.4 432.0h5.2M260.4 442.0h5.2M269.0 440.0V468.0M266.4 440.0h5.2M266.4 468.0h5.2M219.0 438.0V462.0M216.4 438.0h5.2M216.4 462.0h5.2M219.5 456.0V484.0M216.9 456.0h5.2M216.9 484.0h5.2M219.0 473.0V497.0M216.4 473.0h5.2M216.4 497.0h5.2M221.0 448.0V472.0M218.4 448.0h5.2M218.4 472.0h5.2M307.0 438.6V448.6M304.4 438.6h5.2M304.4 448.6h5.2M305.0 447.0V459.0M302.4 447.0h5.2M302.4 459.0h5.2M299.0 450.0V462.0M296.4 450.0h5.2M296.4 462.0h5.2M317.0 440.0V462.0M314.4 440.0h5.2M314.4 462.0h5.2M292.0 458.0V468.0M289.4 458.0h5.2M289.4 468.0h5.2M317.0 439.0V453.0M314.4 439.0h5.2M314.4 453.0h5.2M265.0 473.0V499.0M262.4 473.0h5.2M262.4 499.0h5.2M276.0 477.6V510.4M273.4 477.6h5.2M273.4 510.4h5.2M288.0 478.0V498.0M285.4 478.0h5.2M285.4 498.0h5.2M307.0 484.4V509.6M304.4 484.4h5.2M304.4 509.6h5.2M315.0 479.6V504.4M312.4 479.6h5.2M312.4 504.4h5.2M316.0 483.6V504.4M313.4 483.6h5.2M313.4 504.4h5.2M323.0 481.0V499.0M320.4 481.0h5.2M320.4 499.0h5.2M369.0 440.0V452.0M366.4 440.0h5.2M366.4 452.0h5.2M383.0 449.0V457.0M380.4 449.0h5.2M380.4 457.0h5.2M423.6 443.0V451.0M421.0 443.0h5.2M421.0 451.0h5.2M357.0 483.0V493.0M354.4 483.0h5.2M354.4 493.0h5.2M371.6 482.0V498.0M369.0 482.0h5.2M369.0 498.0h5.2M380.0 483.0V493.0M377.4 483.0h5.2M377.4 493.0h5.2M408.0 485.0V495.0M405.4 485.0h5.2M405.4 495.0h5.2M327.9 334.7V343.7M325.3 334.7h5.2M325.3 343.7h5.2M457.6 412.0V418.0M455.0 412.0h5.2M455.0 418.0h5.2M468.4 407.6V421.6M465.8 407.6h5.2M465.8 421.6h5.2M457.6 428.6V434.6M455.0 428.6h5.2M455.0 434.6h5.2M479.6 428.5V435.5M477.0 428.5h5.2M477.0 435.5h5.2M492.4 429.9V434.9M489.8 429.9h5.2M489.8 434.9h5.2M437.6 432.1V451.1M435.0 432.1h5.2M435.0 451.1h5.2M475.6 435.0V445.0M473.0 435.0h5.2M473.0 445.0h5.2M475.6 441.0V459.0M473.0 441.0h5.2M473.0 459.0h5.2M459.6 440.0V450.0M457.0 440.0h5.2M457.0 450.0h5.2M454.0 453.0V461.0M451.4 453.0h5.2M451.4 461.0h5.2M468.0 446.0V458.0M465.4 446.0h5.2M465.4 458.0h5.2M463.0 458.0V466.0M460.4 458.0h5.2M460.4 466.0h5.2M492.0 454.6V462.6M489.4 454.6h5.2M489.4 462.6h5.2M497.4 459.0V467.0M494.8 459.0h5.2M494.8 467.0h5.2M541.0 465.6V473.6M538.4 465.6h5.2M538.4 473.6h5.2M522.6 483.4V509.4M520.0 483.4h5.2M520.0 509.4h5.2M537.4 486.0V510.0M534.8 486.0h5.2M534.8 510.0h5.2M457.0 479.0V493.0M454.4 479.0h5.2M454.4 493.0h5.2M484.0 485.0V495.0M481.4 485.0h5.2M481.4 495.0h5.2"/><g stroke="none"><circle cx="104.8" cy="473.5" r="2.45"/><circle cx="105.0" cy="469.1" r="2.45"/><circle cx="105.2" cy="472.7" r="2.45"/><circle cx="105.0" cy="470.2" r="2.45"/><circle cx="104.8" cy="472.0" r="2.45"/><circle cx="106.6" cy="472.4" r="2.45"/><circle cx="106.8" cy="468.7" r="2.45"/><circle cx="106.8" cy="471.4" r="2.45"/><circle cx="106.9" cy="479.9" r="2.45"/><circle cx="106.9" cy="474.2" r="2.45"/><circle cx="108.6" cy="470.3" r="2.45"/><circle cx="108.8" cy="465.8" r="2.45"/><circle cx="108.6" cy="466.5" r="2.45"/><circle cx="108.7" cy="472.7" r="2.45"/><circle cx="110.4" cy="476.2" r="2.45"/><circle cx="110.6" cy="469.2" r="2.45"/><circle cx="110.4" cy="470.6" r="2.45"/><circle cx="110.3" cy="478.2" r="2.45"/><circle cx="110.3" cy="471.8" r="2.45"/><circle cx="112.2" cy="480.3" r="2.45"/><circle cx="112.2" cy="470.1" r="2.45"/><circle cx="112.4" cy="473.4" r="2.45"/><circle cx="112.1" cy="476.0" r="2.45"/><circle cx="112.4" cy="470.6" r="2.45"/><circle cx="114.1" cy="476.8" r="2.45"/><circle cx="114.2" cy="477.4" r="2.45"/><circle cx="114.2" cy="479.9" r="2.45"/><circle cx="114.2" cy="470.5" r="2.45"/><circle cx="114.1" cy="466.5" r="2.45"/><circle cx="116.1" cy="479.6" r="2.45"/><circle cx="115.7" cy="474.8" r="2.45"/><circle cx="115.8" cy="478.5" r="2.45"/><circle cx="115.9" cy="468.9" r="2.45"/><circle cx="117.8" cy="470.7" r="2.45"/><circle cx="117.8" cy="481.8" r="2.45"/><circle cx="117.5" cy="483.1" r="2.45"/><circle cx="117.8" cy="472.2" r="2.45"/><circle cx="119.5" cy="472.6" r="2.45"/><circle cx="119.4" cy="471.0" r="2.45"/><circle cx="119.5" cy="470.3" r="2.45"/><circle cx="121.3" cy="475.3" r="2.45"/><circle cx="121.3" cy="474.4" r="2.45"/><circle cx="121.5" cy="474.2" r="2.45"/><circle cx="121.4" cy="476.3" r="2.45"/><circle cx="123.0" cy="478.8" r="2.45"/><circle cx="123.1" cy="464.7" r="2.45"/><circle cx="123.1" cy="478.3" r="2.45"/><circle cx="124.8" cy="471.9" r="2.45"/><circle cx="125.0" cy="475.3" r="2.45"/><circle cx="125.0" cy="473.8" r="2.45"/><circle cx="127.0" cy="475.6" r="2.45"/><circle cx="126.7" cy="468.8" r="2.45"/><circle cx="126.7" cy="472.5" r="2.45"/><circle cx="126.9" cy="472.6" r="2.45"/><circle cx="128.7" cy="469.4" r="2.45"/><circle cx="128.7" cy="474.3" r="2.45"/><circle cx="128.6" cy="478.1" r="2.45"/><circle cx="128.5" cy="470.6" r="2.45"/><circle cx="130.4" cy="468.7" r="2.45"/><circle cx="130.3" cy="473.6" r="2.45"/><circle cx="130.3" cy="470.2" r="2.45"/><circle cx="130.3" cy="471.2" r="2.45"/><circle cx="132.1" cy="475.9" r="2.45"/><circle cx="132.2" cy="483.3" r="2.45"/><circle cx="132.4" cy="466.0" r="2.45"/><circle cx="132.2" cy="482.0" r="2.45"/><circle cx="134.0" cy="471.2" r="2.45"/><circle cx="134.1" cy="476.6" r="2.45"/><circle cx="133.9" cy="470.8" r="2.45"/><circle cx="134.0" cy="466.6" r="2.45"/><circle cx="136.0" cy="475.7" r="2.45"/><circle cx="136.0" cy="473.5" r="2.45"/><circle cx="135.8" cy="472.0" r="2.45"/><circle cx="137.7" cy="473.0" r="2.45"/><circle cx="137.9" cy="481.1" r="2.45"/><circle cx="137.9" cy="477.1" r="2.45"/><circle cx="137.8" cy="477.9" r="2.45"/><circle cx="139.6" cy="479.8" r="2.45"/><circle cx="139.5" cy="484.5" r="2.45"/><circle cx="139.5" cy="477.9" r="2.45"/><circle cx="139.7" cy="477.7" r="2.45"/><circle cx="141.2" cy="473.7" r="2.45"/><circle cx="141.2" cy="473.3" r="2.45"/><circle cx="141.2" cy="476.9" r="2.45"/><circle cx="141.1" cy="468.2" r="2.45"/><circle cx="143.3" cy="471.8" r="2.45"/><circle cx="143.3" cy="464.1" r="2.45"/><circle cx="143.2" cy="472.2" r="2.45"/><circle cx="144.8" cy="467.0" r="2.45"/><circle cx="145.1" cy="480.8" r="2.45"/><circle cx="145.1" cy="471.8" r="2.45"/><circle cx="144.8" cy="472.7" r="2.45"/><circle cx="144.8" cy="471.9" r="2.45"/><circle cx="146.6" cy="468.2" r="2.45"/><circle cx="146.8" cy="465.4" r="2.45"/><circle cx="146.7" cy="466.4" r="2.45"/><circle cx="146.9" cy="473.4" r="2.45"/><circle cx="150.2" cy="477.4" r="2.45"/><circle cx="150.5" cy="479.1" r="2.45"/><circle cx="150.4" cy="478.7" r="2.45"/><circle cx="150.3" cy="482.7" r="2.45"/><circle cx="152.0" cy="467.1" r="2.45"/><circle cx="152.2" cy="474.9" r="2.45"/><circle cx="152.4" cy="465.8" r="2.45"/><circle cx="156.0" cy="476.5" r="2.45"/><circle cx="156.0" cy="475.4" r="2.45"/><circle cx="155.9" cy="475.3" r="2.45"/><circle cx="157.6" cy="466.6" r="2.45"/><circle cx="157.6" cy="474.6" r="2.45"/><circle cx="157.5" cy="474.3" r="2.45"/><circle cx="157.8" cy="478.4" r="2.45"/><circle cx="157.6" cy="476.4" r="2.45"/><circle cx="159.5" cy="474.6" r="2.45"/><circle cx="159.6" cy="469.7" r="2.45"/><circle cx="159.4" cy="459.3" r="2.45"/><circle cx="159.4" cy="464.8" r="2.45"/><circle cx="159.5" cy="463.9" r="2.45"/><circle cx="161.5" cy="471.5" r="2.45"/><circle cx="161.5" cy="477.3" r="2.45"/><circle cx="161.5" cy="480.7" r="2.45"/><circle cx="161.5" cy="470.8" r="2.45"/><circle cx="163.2" cy="472.3" r="2.45"/><circle cx="163.2" cy="466.3" r="2.45"/><circle cx="163.2" cy="467.9" r="2.45"/><circle cx="163.3" cy="474.5" r="2.45"/><circle cx="165.0" cy="478.3" r="2.45"/><circle cx="164.7" cy="479.7" r="2.45"/><circle cx="165.1" cy="473.4" r="2.45"/><circle cx="165.0" cy="479.9" r="2.45"/><circle cx="166.6" cy="474.0" r="2.45"/><circle cx="166.8" cy="470.0" r="2.45"/><circle cx="166.9" cy="473.4" r="2.45"/><circle cx="166.7" cy="480.3" r="2.45"/><circle cx="168.7" cy="481.3" r="2.45"/><circle cx="168.5" cy="477.2" r="2.45"/><circle cx="168.7" cy="472.6" r="2.45"/><circle cx="168.6" cy="468.1" r="2.45"/><circle cx="170.6" cy="478.0" r="2.45"/><circle cx="170.4" cy="467.4" r="2.45"/><circle cx="170.4" cy="468.8" r="2.45"/><circle cx="172.2" cy="476.1" r="2.45"/><circle cx="172.0" cy="486.0" r="2.45"/><circle cx="172.3" cy="485.5" r="2.45"/><circle cx="173.8" cy="476.9" r="2.45"/><circle cx="173.9" cy="476.7" r="2.45"/><circle cx="174.1" cy="476.7" r="2.45"/><circle cx="174.2" cy="477.5" r="2.45"/><circle cx="175.7" cy="469.2" r="2.45"/><circle cx="175.9" cy="474.3" r="2.45"/><circle cx="175.9" cy="477.4" r="2.45"/><circle cx="177.5" cy="476.2" r="2.45"/><circle cx="177.6" cy="475.5" r="2.45"/><circle cx="177.6" cy="475.8" r="2.45"/><circle cx="179.5" cy="474.0" r="2.45"/><circle cx="179.6" cy="483.2" r="2.45"/><circle cx="179.4" cy="469.1" r="2.45"/><circle cx="179.6" cy="476.1" r="2.45"/><circle cx="181.2" cy="470.7" r="2.45"/><circle cx="181.5" cy="464.9" r="2.45"/><circle cx="181.4" cy="468.3" r="2.45"/><circle cx="183.2" cy="472.9" r="2.45"/><circle cx="183.2" cy="475.6" r="2.45"/><circle cx="182.9" cy="480.4" r="2.45"/><circle cx="183.1" cy="479.4" r="2.45"/><circle cx="184.8" cy="478.4" r="2.45"/><circle cx="184.8" cy="472.9" r="2.45"/><circle cx="184.9" cy="474.6" r="2.45"/><circle cx="184.8" cy="479.8" r="2.45"/><circle cx="186.8" cy="475.6" r="2.45"/><circle cx="186.9" cy="466.8" r="2.45"/><circle cx="186.7" cy="470.8" r="2.45"/><circle cx="186.7" cy="470.0" r="2.45"/><circle cx="188.5" cy="478.9" r="2.45"/><circle cx="188.4" cy="474.3" r="2.45"/><circle cx="188.7" cy="477.0" r="2.45"/><circle cx="188.6" cy="484.1" r="2.45"/><circle cx="192.4" cy="472.2" r="2.45"/><circle cx="192.2" cy="482.6" r="2.45"/><circle cx="192.1" cy="488.2" r="2.45"/><circle cx="193.9" cy="466.6" r="2.45"/><circle cx="194.0" cy="466.9" r="2.45"/><circle cx="193.9" cy="462.6" r="2.45"/><circle cx="194.0" cy="468.5" r="2.45"/><circle cx="195.7" cy="478.9" r="2.45"/><circle cx="195.9" cy="472.6" r="2.45"/><circle cx="195.9" cy="483.4" r="2.45"/><circle cx="195.7" cy="482.6" r="2.45"/><circle cx="197.8" cy="481.9" r="2.45"/><circle cx="197.7" cy="483.6" r="2.45"/><circle cx="197.8" cy="486.0" r="2.45"/><circle cx="197.6" cy="486.8" r="2.45"/><circle cx="201.2" cy="471.1" r="2.45"/><circle cx="201.4" cy="478.0" r="2.45"/><circle cx="201.5" cy="477.7" r="2.45"/><circle cx="203.1" cy="477.5" r="2.45"/><circle cx="203.0" cy="481.9" r="2.45"/><circle cx="203.0" cy="476.0" r="2.45"/><circle cx="204.7" cy="471.0" r="2.45"/><circle cx="205.1" cy="477.0" r="2.45"/><circle cx="205.1" cy="470.4" r="2.45"/><circle cx="206.6" cy="474.6" r="2.45"/><circle cx="206.9" cy="476.3" r="2.45"/><circle cx="206.6" cy="478.9" r="2.45"/><circle cx="208.6" cy="473.1" r="2.45"/><circle cx="208.6" cy="472.4" r="2.45"/><circle cx="208.5" cy="477.5" r="2.45"/><circle cx="208.4" cy="478.9" r="2.45"/><circle cx="208.5" cy="476.4" r="2.45"/><circle cx="210.3" cy="474.1" r="2.45"/><circle cx="210.4" cy="475.3" r="2.45"/><circle cx="210.3" cy="473.2" r="2.45"/><circle cx="212.2" cy="462.7" r="2.45"/><circle cx="212.0" cy="470.8" r="2.45"/><circle cx="212.3" cy="479.5" r="2.45"/><circle cx="214.1" cy="479.6" r="2.45"/><circle cx="214.2" cy="476.4" r="2.45"/><circle cx="213.8" cy="478.0" r="2.45"/><circle cx="275.9" cy="479.3" r="2.45"/><circle cx="276.0" cy="474.0" r="2.45"/><circle cx="275.8" cy="479.0" r="2.45"/><circle cx="277.4" cy="473.2" r="2.45"/><circle cx="277.6" cy="480.9" r="2.45"/><circle cx="277.5" cy="473.2" r="2.45"/><circle cx="277.5" cy="471.5" r="2.45"/><circle cx="277.6" cy="474.5" r="2.45"/><circle cx="279.5" cy="484.6" r="2.45"/><circle cx="279.6" cy="483.8" r="2.45"/><circle cx="279.4" cy="482.9" r="2.45"/><circle cx="279.4" cy="479.5" r="2.45"/><circle cx="281.2" cy="473.0" r="2.45"/><circle cx="281.4" cy="478.0" r="2.45"/><circle cx="281.3" cy="480.3" r="2.45"/><circle cx="281.1" cy="481.9" r="2.45"/><circle cx="283.0" cy="483.2" r="2.45"/><circle cx="283.2" cy="482.0" r="2.45"/><circle cx="283.0" cy="483.6" r="2.45"/><circle cx="285.1" cy="484.7" r="2.45"/><circle cx="284.9" cy="481.0" r="2.45"/><circle cx="284.7" cy="479.5" r="2.45"/><circle cx="284.9" cy="488.7" r="2.45"/><circle cx="284.9" cy="485.6" r="2.45"/><circle cx="286.5" cy="478.8" r="2.45"/><circle cx="286.9" cy="480.5" r="2.45"/><circle cx="286.9" cy="475.9" r="2.45"/><circle cx="288.5" cy="481.9" r="2.45"/><circle cx="288.5" cy="485.1" r="2.45"/><circle cx="288.6" cy="475.9" r="2.45"/><circle cx="288.6" cy="481.4" r="2.45"/><circle cx="290.3" cy="473.9" r="2.45"/><circle cx="290.4" cy="473.8" r="2.45"/><circle cx="290.1" cy="474.5" r="2.45"/><circle cx="290.3" cy="474.7" r="2.45"/><circle cx="290.4" cy="476.2" r="2.45"/><circle cx="292.2" cy="475.3" r="2.45"/><circle cx="292.1" cy="473.0" r="2.45"/><circle cx="292.1" cy="470.9" r="2.45"/><circle cx="292.2" cy="474.0" r="2.45"/><circle cx="295.6" cy="478.4" r="2.45"/><circle cx="295.9" cy="468.9" r="2.45"/><circle cx="295.7" cy="470.9" r="2.45"/><circle cx="297.7" cy="471.4" r="2.45"/><circle cx="297.5" cy="476.6" r="2.45"/><circle cx="297.4" cy="474.2" r="2.45"/><circle cx="297.6" cy="480.5" r="2.45"/><circle cx="299.6" cy="476.7" r="2.45"/><circle cx="299.4" cy="482.0" r="2.45"/><circle cx="299.5" cy="475.3" r="2.45"/><circle cx="299.5" cy="487.8" r="2.45"/><circle cx="301.1" cy="475.6" r="2.45"/><circle cx="301.1" cy="460.7" r="2.45"/><circle cx="301.1" cy="470.7" r="2.45"/><circle cx="301.3" cy="459.4" r="2.45"/><circle cx="301.1" cy="470.9" r="2.45"/><circle cx="303.2" cy="473.2" r="2.45"/><circle cx="303.1" cy="472.5" r="2.45"/><circle cx="302.9" cy="471.5" r="2.45"/><circle cx="303.1" cy="475.6" r="2.45"/><circle cx="304.7" cy="481.8" r="2.45"/><circle cx="304.8" cy="472.7" r="2.45"/><circle cx="304.7" cy="473.9" r="2.45"/><circle cx="306.5" cy="473.9" r="2.45"/><circle cx="306.7" cy="467.7" r="2.45"/><circle cx="306.7" cy="471.0" r="2.45"/><circle cx="308.6" cy="477.5" r="2.45"/><circle cx="308.6" cy="468.3" r="2.45"/><circle cx="308.5" cy="466.0" r="2.45"/><circle cx="312.1" cy="474.8" r="2.45"/><circle cx="312.0" cy="481.7" r="2.45"/><circle cx="312.3" cy="479.9" r="2.45"/><circle cx="313.8" cy="470.3" r="2.45"/><circle cx="314.1" cy="472.9" r="2.45"/><circle cx="314.1" cy="482.8" r="2.45"/><circle cx="313.8" cy="475.4" r="2.45"/><circle cx="315.7" cy="464.6" r="2.45"/><circle cx="315.7" cy="468.4" r="2.45"/><circle cx="315.8" cy="474.1" r="2.45"/><circle cx="315.7" cy="482.8" r="2.45"/><circle cx="317.7" cy="472.9" r="2.45"/><circle cx="317.6" cy="469.5" r="2.45"/><circle cx="317.7" cy="473.9" r="2.45"/><circle cx="317.7" cy="471.9" r="2.45"/><circle cx="319.3" cy="462.9" r="2.45"/><circle cx="319.3" cy="480.0" r="2.45"/><circle cx="319.3" cy="475.1" r="2.45"/><circle cx="321.1" cy="464.6" r="2.45"/><circle cx="321.3" cy="481.5" r="2.45"/><circle cx="321.1" cy="465.8" r="2.45"/><circle cx="321.2" cy="469.1" r="2.45"/><circle cx="323.0" cy="471.2" r="2.45"/><circle cx="323.0" cy="472.0" r="2.45"/><circle cx="323.1" cy="470.4" r="2.45"/><circle cx="324.8" cy="471.2" r="2.45"/><circle cx="324.7" cy="475.6" r="2.45"/><circle cx="324.8" cy="481.6" r="2.45"/><circle cx="325.0" cy="471.2" r="2.45"/><circle cx="324.8" cy="482.0" r="2.45"/><circle cx="328.7" cy="471.8" r="2.45"/><circle cx="328.3" cy="467.7" r="2.45"/><circle cx="328.6" cy="464.7" r="2.45"/><circle cx="328.6" cy="471.4" r="2.45"/><circle cx="328.4" cy="479.9" r="2.45"/><circle cx="330.2" cy="473.8" r="2.45"/><circle cx="330.3" cy="474.8" r="2.45"/><circle cx="330.1" cy="482.4" r="2.45"/><circle cx="332.0" cy="466.4" r="2.45"/><circle cx="332.0" cy="463.4" r="2.45"/><circle cx="332.2" cy="472.1" r="2.45"/><circle cx="334.0" cy="468.7" r="2.45"/><circle cx="333.7" cy="463.8" r="2.45"/><circle cx="333.7" cy="480.7" r="2.45"/><circle cx="334.0" cy="464.4" r="2.45"/><circle cx="333.9" cy="473.2" r="2.45"/><circle cx="335.6" cy="472.8" r="2.45"/><circle cx="335.8" cy="472.2" r="2.45"/><circle cx="335.5" cy="487.7" r="2.45"/><circle cx="337.6" cy="471.8" r="2.45"/><circle cx="337.7" cy="471.1" r="2.45"/><circle cx="337.7" cy="465.9" r="2.45"/><circle cx="337.5" cy="462.5" r="2.45"/><circle cx="337.4" cy="469.7" r="2.45"/><circle cx="339.6" cy="474.9" r="2.45"/><circle cx="339.4" cy="473.9" r="2.45"/><circle cx="339.5" cy="479.5" r="2.45"/><circle cx="339.3" cy="478.1" r="2.45"/><circle cx="343.0" cy="472.9" r="2.45"/><circle cx="343.2" cy="476.1" r="2.45"/><circle cx="342.9" cy="468.2" r="2.45"/><circle cx="342.9" cy="471.1" r="2.45"/><circle cx="344.9" cy="467.7" r="2.45"/><circle cx="344.6" cy="475.9" r="2.45"/><circle cx="344.8" cy="467.6" r="2.45"/><circle cx="344.8" cy="479.7" r="2.45"/><circle cx="344.8" cy="483.6" r="2.45"/><circle cx="346.7" cy="474.9" r="2.45"/><circle cx="346.6" cy="485.4" r="2.45"/><circle cx="346.7" cy="474.6" r="2.45"/><circle cx="348.6" cy="470.4" r="2.45"/><circle cx="348.5" cy="463.1" r="2.45"/><circle cx="348.3" cy="479.0" r="2.45"/><circle cx="348.3" cy="475.2" r="2.45"/><circle cx="348.6" cy="469.2" r="2.45"/><circle cx="350.3" cy="466.8" r="2.45"/><circle cx="350.3" cy="480.6" r="2.45"/><circle cx="350.4" cy="476.0" r="2.45"/><circle cx="350.3" cy="469.8" r="2.45"/><circle cx="352.0" cy="476.1" r="2.45"/><circle cx="352.3" cy="472.0" r="2.45"/><circle cx="351.9" cy="478.6" r="2.45"/><circle cx="352.1" cy="476.3" r="2.45"/><circle cx="354.1" cy="482.0" r="2.45"/><circle cx="353.9" cy="472.8" r="2.45"/><circle cx="354.1" cy="484.0" r="2.45"/><circle cx="355.8" cy="469.4" r="2.45"/><circle cx="355.7" cy="476.3" r="2.45"/><circle cx="355.9" cy="471.1" r="2.45"/><circle cx="355.7" cy="478.1" r="2.45"/><circle cx="357.6" cy="481.5" r="2.45"/><circle cx="357.7" cy="480.2" r="2.45"/><circle cx="357.5" cy="476.1" r="2.45"/><circle cx="359.3" cy="479.9" r="2.45"/><circle cx="359.4" cy="467.8" r="2.45"/><circle cx="359.5" cy="480.5" r="2.45"/><circle cx="359.2" cy="482.3" r="2.45"/><circle cx="361.2" cy="474.9" r="2.45"/><circle cx="361.2" cy="471.4" r="2.45"/><circle cx="361.0" cy="468.0" r="2.45"/><circle cx="361.3" cy="469.8" r="2.45"/><circle cx="361.1" cy="471.3" r="2.45"/><circle cx="363.1" cy="473.2" r="2.45"/><circle cx="362.8" cy="476.9" r="2.45"/><circle cx="362.8" cy="478.2" r="2.45"/><circle cx="363.1" cy="475.8" r="2.45"/><circle cx="364.7" cy="482.6" r="2.45"/><circle cx="364.8" cy="468.7" r="2.45"/><circle cx="364.8" cy="469.3" r="2.45"/><circle cx="364.8" cy="469.0" r="2.45"/><circle cx="366.7" cy="477.6" r="2.45"/><circle cx="366.5" cy="478.5" r="2.45"/><circle cx="366.7" cy="468.6" r="2.45"/><circle cx="368.4" cy="473.7" r="2.45"/><circle cx="368.3" cy="470.1" r="2.45"/><circle cx="368.4" cy="476.4" r="2.45"/><circle cx="368.4" cy="472.4" r="2.45"/><circle cx="368.5" cy="481.5" r="2.45"/><circle cx="370.4" cy="462.5" r="2.45"/><circle cx="370.1" cy="462.1" r="2.45"/><circle cx="370.2" cy="483.1" r="2.45"/><circle cx="375.8" cy="471.8" r="2.45"/><circle cx="375.7" cy="474.8" r="2.45"/><circle cx="375.7" cy="471.4" r="2.45"/><circle cx="375.8" cy="470.7" r="2.45"/><circle cx="375.8" cy="468.5" r="2.45"/><circle cx="377.4" cy="472.2" r="2.45"/><circle cx="377.5" cy="480.8" r="2.45"/><circle cx="377.6" cy="477.4" r="2.45"/><circle cx="377.7" cy="474.6" r="2.45"/><circle cx="379.3" cy="467.9" r="2.45"/><circle cx="379.4" cy="473.4" r="2.45"/><circle cx="379.4" cy="469.0" r="2.45"/><circle cx="381.2" cy="476.6" r="2.45"/><circle cx="381.3" cy="476.0" r="2.45"/><circle cx="381.2" cy="475.7" r="2.45"/><circle cx="381.2" cy="475.8" r="2.45"/><circle cx="381.0" cy="480.1" r="2.45"/><circle cx="383.1" cy="484.1" r="2.45"/><circle cx="382.8" cy="479.1" r="2.45"/><circle cx="382.9" cy="487.3" r="2.45"/><circle cx="384.8" cy="474.5" r="2.45"/><circle cx="384.8" cy="471.4" r="2.45"/><circle cx="385.0" cy="477.7" r="2.45"/><circle cx="384.6" cy="481.8" r="2.45"/><circle cx="386.5" cy="473.5" r="2.45"/><circle cx="386.4" cy="473.5" r="2.45"/><circle cx="386.8" cy="470.0" r="2.45"/><circle cx="386.4" cy="480.9" r="2.45"/><circle cx="388.6" cy="475.7" r="2.45"/><circle cx="388.3" cy="475.4" r="2.45"/><circle cx="388.6" cy="482.0" r="2.45"/><circle cx="388.5" cy="471.9" r="2.45"/><circle cx="388.4" cy="471.6" r="2.45"/><circle cx="390.1" cy="481.0" r="2.45"/><circle cx="390.1" cy="469.1" r="2.45"/><circle cx="390.4" cy="481.1" r="2.45"/><circle cx="390.3" cy="476.6" r="2.45"/><circle cx="391.9" cy="475.7" r="2.45"/><circle cx="392.2" cy="478.0" r="2.45"/><circle cx="392.2" cy="471.3" r="2.45"/><circle cx="394.1" cy="473.1" r="2.45"/><circle cx="393.8" cy="473.5" r="2.45"/><circle cx="393.9" cy="472.4" r="2.45"/><circle cx="394.0" cy="477.7" r="2.45"/><circle cx="394.1" cy="479.4" r="2.45"/><circle cx="395.7" cy="467.2" r="2.45"/><circle cx="395.5" cy="468.3" r="2.45"/><circle cx="395.8" cy="474.1" r="2.45"/><circle cx="397.3" cy="477.8" r="2.45"/><circle cx="397.5" cy="474.7" r="2.45"/><circle cx="397.4" cy="472.3" r="2.45"/><circle cx="397.7" cy="471.8" r="2.45"/><circle cx="399.3" cy="478.9" r="2.45"/><circle cx="399.3" cy="465.7" r="2.45"/><circle cx="399.2" cy="471.9" r="2.45"/><circle cx="399.3" cy="466.9" r="2.45"/><circle cx="399.2" cy="461.8" r="2.45"/><circle cx="401.3" cy="476.1" r="2.45"/><circle cx="401.3" cy="471.6" r="2.45"/><circle cx="401.3" cy="485.5" r="2.45"/><circle cx="403.1" cy="470.8" r="2.45"/><circle cx="402.9" cy="479.7" r="2.45"/><circle cx="403.0" cy="475.2" r="2.45"/><circle cx="402.9" cy="471.5" r="2.45"/><circle cx="404.6" cy="474.0" r="2.45"/><circle cx="404.9" cy="477.2" r="2.45"/><circle cx="404.9" cy="477.4" r="2.45"/><circle cx="404.8" cy="470.2" r="2.45"/><circle cx="406.6" cy="470.6" r="2.45"/><circle cx="406.7" cy="474.1" r="2.45"/><circle cx="406.4" cy="479.3" r="2.45"/><circle cx="406.7" cy="470.1" r="2.45"/><circle cx="406.7" cy="468.9" r="2.45"/><circle cx="408.2" cy="479.1" r="2.45"/><circle cx="408.3" cy="473.7" r="2.45"/><circle cx="408.4" cy="469.2" r="2.45"/><circle cx="410.2" cy="472.2" r="2.45"/><circle cx="410.3" cy="478.3" r="2.45"/><circle cx="410.4" cy="482.7" r="2.45"/><circle cx="412.2" cy="468.4" r="2.45"/><circle cx="412.0" cy="476.6" r="2.45"/><circle cx="412.1" cy="469.4" r="2.45"/><circle cx="413.9" cy="478.2" r="2.45"/><circle cx="413.8" cy="472.8" r="2.45"/><circle cx="413.8" cy="472.8" r="2.45"/><circle cx="414.0" cy="469.6" r="2.45"/><circle cx="415.6" cy="463.1" r="2.45"/><circle cx="415.8" cy="476.8" r="2.45"/><circle cx="415.6" cy="462.0" r="2.45"/><circle cx="417.6" cy="471.7" r="2.45"/><circle cx="417.6" cy="461.7" r="2.45"/><circle cx="417.6" cy="481.1" r="2.45"/><circle cx="417.7" cy="474.8" r="2.45"/><circle cx="419.3" cy="477.3" r="2.45"/><circle cx="419.2" cy="476.8" r="2.45"/><circle cx="419.4" cy="479.6" r="2.45"/><circle cx="419.1" cy="477.5" r="2.45"/><circle cx="419.1" cy="472.6" r="2.45"/><circle cx="421.1" cy="466.1" r="2.45"/><circle cx="421.0" cy="469.6" r="2.45"/><circle cx="420.9" cy="471.6" r="2.45"/><circle cx="422.9" cy="473.4" r="2.45"/><circle cx="422.9" cy="477.1" r="2.45"/><circle cx="422.9" cy="471.2" r="2.45"/><circle cx="422.7" cy="471.7" r="2.45"/><circle cx="424.6" cy="479.0" r="2.45"/><circle cx="424.7" cy="471.1" r="2.45"/><circle cx="424.7" cy="473.1" r="2.45"/><circle cx="424.7" cy="477.6" r="2.45"/><circle cx="426.4" cy="482.7" r="2.45"/><circle cx="426.4" cy="484.2" r="2.45"/><circle cx="426.4" cy="471.9" r="2.45"/><circle cx="426.7" cy="482.1" r="2.45"/><circle cx="426.6" cy="477.9" r="2.45"/><circle cx="428.5" cy="474.7" r="2.45"/><circle cx="428.6" cy="469.7" r="2.45"/><circle cx="428.3" cy="477.6" r="2.45"/><circle cx="428.5" cy="470.8" r="2.45"/><circle cx="428.5" cy="475.6" r="2.45"/><circle cx="430.3" cy="474.7" r="2.45"/><circle cx="430.4" cy="474.1" r="2.45"/><circle cx="430.3" cy="478.7" r="2.45"/><circle cx="430.4" cy="478.4" r="2.45"/><circle cx="430.1" cy="472.8" r="2.45"/><circle cx="432.0" cy="482.4" r="2.45"/><circle cx="432.1" cy="467.9" r="2.45"/><circle cx="432.1" cy="477.9" r="2.45"/><circle cx="432.1" cy="467.0" r="2.45"/><circle cx="432.1" cy="473.1" r="2.45"/><circle cx="433.7" cy="474.3" r="2.45"/><circle cx="433.8" cy="467.0" r="2.45"/><circle cx="433.9" cy="466.6" r="2.45"/><circle cx="435.8" cy="478.9" r="2.45"/><circle cx="435.8" cy="475.2" r="2.45"/><circle cx="435.6" cy="481.5" r="2.45"/><circle cx="435.6" cy="483.6" r="2.45"/><circle cx="437.3" cy="468.3" r="2.45"/><circle cx="437.5" cy="467.9" r="2.45"/><circle cx="437.5" cy="469.8" r="2.45"/><circle cx="439.2" cy="472.5" r="2.45"/><circle cx="439.1" cy="482.6" r="2.45"/><circle cx="439.4" cy="474.0" r="2.45"/><circle cx="439.1" cy="483.1" r="2.45"/><circle cx="441.1" cy="464.6" r="2.45"/><circle cx="441.0" cy="472.4" r="2.45"/><circle cx="441.2" cy="473.1" r="2.45"/><circle cx="442.9" cy="483.9" r="2.45"/><circle cx="443.0" cy="480.5" r="2.45"/><circle cx="443.1" cy="472.9" r="2.45"/><circle cx="443.1" cy="475.8" r="2.45"/><circle cx="443.1" cy="473.8" r="2.45"/><circle cx="444.7" cy="467.4" r="2.45"/><circle cx="444.8" cy="472.7" r="2.45"/><circle cx="444.8" cy="486.0" r="2.45"/><circle cx="444.6" cy="471.4" r="2.45"/><circle cx="446.7" cy="470.4" r="2.45"/><circle cx="446.5" cy="472.5" r="2.45"/><circle cx="446.7" cy="475.7" r="2.45"/><circle cx="446.6" cy="466.8" r="2.45"/><circle cx="446.6" cy="472.8" r="2.45"/><circle cx="448.3" cy="477.8" r="2.45"/><circle cx="448.5" cy="473.1" r="2.45"/><circle cx="448.4" cy="467.2" r="2.45"/><circle cx="448.3" cy="459.4" r="2.45"/><circle cx="450.3" cy="471.1" r="2.45"/><circle cx="450.0" cy="471.2" r="2.45"/><circle cx="450.1" cy="465.9" r="2.45"/><circle cx="450.2" cy="482.8" r="2.45"/><circle cx="452.1" cy="477.8" r="2.45"/><circle cx="452.2" cy="482.4" r="2.45"/><circle cx="452.0" cy="476.8" r="2.45"/><circle cx="452.0" cy="470.1" r="2.45"/><circle cx="453.9" cy="477.8" r="2.45"/><circle cx="453.8" cy="481.8" r="2.45"/><circle cx="453.6" cy="475.9" r="2.45"/><circle cx="453.8" cy="479.9" r="2.45"/><circle cx="453.8" cy="486.4" r="2.45"/><circle cx="455.6" cy="472.6" r="2.45"/><circle cx="455.6" cy="476.5" r="2.45"/><circle cx="455.5" cy="474.1" r="2.45"/><circle cx="459.3" cy="480.1" r="2.45"/><circle cx="459.1" cy="471.9" r="2.45"/><circle cx="459.4" cy="483.5" r="2.45"/><circle cx="459.4" cy="483.6" r="2.45"/><circle cx="461.2" cy="480.1" r="2.45"/><circle cx="461.1" cy="472.6" r="2.45"/><circle cx="460.9" cy="472.2" r="2.45"/><circle cx="461.1" cy="472.8" r="2.45"/><circle cx="462.8" cy="472.2" r="2.45"/><circle cx="462.7" cy="467.2" r="2.45"/><circle cx="462.9" cy="468.9" r="2.45"/><circle cx="464.9" cy="473.1" r="2.45"/><circle cx="464.8" cy="482.7" r="2.45"/><circle cx="464.8" cy="472.4" r="2.45"/><circle cx="464.9" cy="476.8" r="2.45"/><circle cx="464.8" cy="483.4" r="2.45"/><circle cx="466.6" cy="471.5" r="2.45"/><circle cx="466.5" cy="477.4" r="2.45"/><circle cx="466.5" cy="475.5" r="2.45"/><circle cx="466.5" cy="472.1" r="2.45"/><circle cx="468.3" cy="476.3" r="2.45"/><circle cx="468.3" cy="476.1" r="2.45"/><circle cx="468.2" cy="466.0" r="2.45"/><circle cx="468.2" cy="467.7" r="2.45"/><circle cx="470.2" cy="476.6" r="2.45"/><circle cx="470.1" cy="473.3" r="2.45"/><circle cx="470.2" cy="478.2" r="2.45"/><circle cx="470.2" cy="474.0" r="2.45"/><circle cx="471.8" cy="469.8" r="2.45"/><circle cx="472.0" cy="473.4" r="2.45"/><circle cx="472.0" cy="475.5" r="2.45"/><circle cx="471.9" cy="469.3" r="2.45"/><circle cx="473.9" cy="467.9" r="2.45"/><circle cx="473.7" cy="475.1" r="2.45"/><circle cx="473.8" cy="477.1" r="2.45"/><circle cx="473.8" cy="474.2" r="2.45"/><circle cx="475.5" cy="480.1" r="2.45"/><circle cx="475.8" cy="477.3" r="2.45"/><circle cx="475.6" cy="479.9" r="2.45"/><circle cx="477.6" cy="474.5" r="2.45"/><circle cx="477.3" cy="468.4" r="2.45"/><circle cx="477.6" cy="467.5" r="2.45"/><circle cx="477.3" cy="471.1" r="2.45"/><circle cx="479.4" cy="476.2" r="2.45"/><circle cx="479.2" cy="478.9" r="2.45"/><circle cx="479.3" cy="474.0" r="2.45"/><circle cx="479.2" cy="480.5" r="2.45"/><circle cx="481.2" cy="475.3" r="2.45"/><circle cx="480.9" cy="472.9" r="2.45"/><circle cx="481.1" cy="468.3" r="2.45"/><circle cx="480.9" cy="478.2" r="2.45"/><circle cx="481.3" cy="464.8" r="2.45"/><circle cx="482.9" cy="470.5" r="2.45"/><circle cx="483.0" cy="467.1" r="2.45"/><circle cx="483.1" cy="478.4" r="2.45"/><circle cx="482.9" cy="467.6" r="2.45"/><circle cx="484.5" cy="475.2" r="2.45"/><circle cx="484.6" cy="480.0" r="2.45"/><circle cx="484.7" cy="471.0" r="2.45"/><circle cx="484.9" cy="475.3" r="2.45"/><circle cx="484.8" cy="480.7" r="2.45"/><circle cx="486.5" cy="483.6" r="2.45"/><circle cx="486.4" cy="473.2" r="2.45"/><circle cx="486.7" cy="474.1" r="2.45"/><circle cx="486.4" cy="477.6" r="2.45"/><circle cx="488.4" cy="480.0" r="2.45"/><circle cx="488.5" cy="476.4" r="2.45"/><circle cx="488.5" cy="471.6" r="2.45"/><circle cx="490.0" cy="469.1" r="2.45"/><circle cx="490.2" cy="472.0" r="2.45"/><circle cx="490.1" cy="473.1" r="2.45"/><circle cx="494.0" cy="475.8" r="2.45"/><circle cx="493.7" cy="473.3" r="2.45"/><circle cx="494.0" cy="469.4" r="2.45"/><circle cx="497.5" cy="475.1" r="2.45"/><circle cx="497.3" cy="467.7" r="2.45"/><circle cx="497.3" cy="476.5" r="2.45"/><circle cx="497.6" cy="469.0" r="2.45"/><circle cx="499.3" cy="473.9" r="2.45"/><circle cx="499.4" cy="469.2" r="2.45"/><circle cx="499.3" cy="485.3" r="2.45"/><circle cx="501.3" cy="474.5" r="2.45"/><circle cx="501.1" cy="473.0" r="2.45"/><circle cx="501.1" cy="473.1" r="2.45"/><circle cx="500.9" cy="475.1" r="2.45"/><circle cx="501.1" cy="477.7" r="2.45"/><circle cx="504.8" cy="473.1" r="2.45"/><circle cx="504.6" cy="470.5" r="2.45"/><circle cx="504.6" cy="472.4" r="2.45"/><circle cx="506.6" cy="472.3" r="2.45"/><circle cx="506.5" cy="478.4" r="2.45"/><circle cx="506.5" cy="477.1" r="2.45"/><circle cx="508.2" cy="465.0" r="2.45"/><circle cx="508.2" cy="468.6" r="2.45"/><circle cx="508.4" cy="470.8" r="2.45"/><circle cx="508.2" cy="468.3" r="2.45"/><circle cx="510.3" cy="469.2" r="2.45"/><circle cx="510.0" cy="475.0" r="2.45"/><circle cx="510.2" cy="477.5" r="2.45"/><circle cx="510.1" cy="475.4" r="2.45"/><circle cx="511.8" cy="478.2" r="2.45"/><circle cx="512.0" cy="467.9" r="2.45"/><circle cx="511.9" cy="467.4" r="2.45"/><circle cx="513.6" cy="474.1" r="2.45"/><circle cx="513.9" cy="471.3" r="2.45"/><circle cx="513.9" cy="473.5" r="2.45"/><circle cx="513.7" cy="476.9" r="2.45"/><circle cx="515.8" cy="471.4" r="2.45"/><circle cx="515.5" cy="473.4" r="2.45"/><circle cx="515.5" cy="471.1" r="2.45"/><circle cx="515.4" cy="472.3" r="2.45"/><circle cx="517.3" cy="473.9" r="2.45"/><circle cx="517.5" cy="468.9" r="2.45"/><circle cx="517.5" cy="473.6" r="2.45"/><circle cx="517.3" cy="473.4" r="2.45"/><circle cx="519.2" cy="479.6" r="2.45"/><circle cx="519.3" cy="475.3" r="2.45"/><circle cx="519.4" cy="480.9" r="2.45"/><circle cx="521.0" cy="466.6" r="2.45"/><circle cx="521.0" cy="467.3" r="2.45"/><circle cx="521.1" cy="473.3" r="2.45"/><circle cx="520.9" cy="472.6" r="2.45"/><circle cx="522.8" cy="475.1" r="2.45"/><circle cx="522.9" cy="475.6" r="2.45"/><circle cx="522.7" cy="476.4" r="2.45"/><circle cx="522.8" cy="472.5" r="2.45"/><circle cx="522.8" cy="472.3" r="2.45"/><circle cx="524.8" cy="468.3" r="2.45"/><circle cx="524.8" cy="475.9" r="2.45"/><circle cx="524.7" cy="469.7" r="2.45"/><circle cx="524.7" cy="477.9" r="2.45"/><circle cx="526.4" cy="471.5" r="2.45"/><circle cx="526.5" cy="472.2" r="2.45"/><circle cx="526.6" cy="473.7" r="2.45"/><circle cx="281.0" cy="477.3" r="2.45"/><circle cx="281.3" cy="473.4" r="2.45"/><circle cx="281.3" cy="482.7" r="2.45"/><circle cx="281.2" cy="474.8" r="2.45"/><circle cx="281.3" cy="470.0" r="2.45"/><circle cx="281.1" cy="478.8" r="2.45"/><circle cx="282.8" cy="475.2" r="2.45"/><circle cx="283.0" cy="471.8" r="2.45"/><circle cx="283.0" cy="470.3" r="2.45"/><circle cx="283.1" cy="482.3" r="2.45"/><circle cx="283.2" cy="478.4" r="2.45"/><circle cx="283.1" cy="476.7" r="2.45"/><circle cx="284.8" cy="477.9" r="2.45"/><circle cx="285.0" cy="476.6" r="2.45"/><circle cx="284.8" cy="477.3" r="2.45"/><circle cx="284.8" cy="473.4" r="2.45"/><circle cx="284.7" cy="479.1" r="2.45"/><circle cx="284.7" cy="479.0" r="2.45"/><circle cx="284.9" cy="475.6" r="2.45"/><circle cx="286.5" cy="479.9" r="2.45"/><circle cx="286.7" cy="471.6" r="2.45"/><circle cx="286.8" cy="471.2" r="2.45"/><circle cx="286.6" cy="475.7" r="2.45"/><circle cx="286.5" cy="471.4" r="2.45"/><circle cx="286.7" cy="476.3" r="2.45"/><circle cx="288.3" cy="482.5" r="2.45"/><circle cx="288.4" cy="483.3" r="2.45"/><circle cx="288.5" cy="482.2" r="2.45"/><circle cx="288.4" cy="480.2" r="2.45"/><circle cx="288.4" cy="477.7" r="2.45"/><circle cx="288.6" cy="486.1" r="2.45"/><circle cx="290.1" cy="478.3" r="2.45"/><circle cx="290.1" cy="477.7" r="2.45"/><circle cx="290.3" cy="473.1" r="2.45"/><circle cx="290.3" cy="475.6" r="2.45"/><circle cx="290.3" cy="478.7" r="2.45"/><circle cx="290.2" cy="481.9" r="2.45"/><circle cx="292.1" cy="480.6" r="2.45"/><circle cx="292.0" cy="479.3" r="2.45"/><circle cx="292.3" cy="475.6" r="2.45"/><circle cx="292.2" cy="483.1" r="2.45"/><circle cx="292.2" cy="476.1" r="2.45"/><circle cx="355.6" cy="467.6" r="2.45"/><circle cx="355.6" cy="471.2" r="2.45"/><circle cx="355.7" cy="479.2" r="2.45"/><circle cx="355.6" cy="469.6" r="2.45"/><circle cx="355.7" cy="463.2" r="2.45"/><circle cx="357.4" cy="477.9" r="2.45"/><circle cx="357.4" cy="475.2" r="2.45"/><circle cx="357.5" cy="477.5" r="2.45"/><circle cx="357.3" cy="470.1" r="2.45"/><circle cx="357.5" cy="481.6" r="2.45"/><circle cx="359.4" cy="478.8" r="2.45"/><circle cx="359.4" cy="473.5" r="2.45"/><circle cx="359.2" cy="478.5" r="2.45"/><circle cx="359.3" cy="467.7" r="2.45"/><circle cx="359.2" cy="465.7" r="2.45"/><circle cx="361.3" cy="471.7" r="2.45"/><circle cx="361.0" cy="481.4" r="2.45"/><circle cx="361.2" cy="476.1" r="2.45"/><circle cx="361.1" cy="477.1" r="2.45"/><circle cx="361.2" cy="464.6" r="2.45"/><circle cx="361.1" cy="473.8" r="2.45"/><circle cx="361.0" cy="470.5" r="2.45"/><circle cx="362.9" cy="477.0" r="2.45"/><circle cx="362.9" cy="465.3" r="2.45"/><circle cx="362.9" cy="477.5" r="2.45"/><circle cx="362.8" cy="475.5" r="2.45"/><circle cx="363.0" cy="483.0" r="2.45"/><circle cx="362.8" cy="467.1" r="2.45"/><circle cx="363.1" cy="481.9" r="2.45"/><circle cx="343.0" cy="473.0" r="2.45"/><circle cx="342.9" cy="480.7" r="2.45"/><circle cx="343.1" cy="472.4" r="2.45"/><circle cx="343.0" cy="463.8" r="2.45"/><circle cx="342.9" cy="483.1" r="2.45"/><circle cx="342.8" cy="482.4" r="2.45"/><circle cx="342.9" cy="478.2" r="2.45"/><circle cx="345.0" cy="472.0" r="2.45"/><circle cx="344.7" cy="476.6" r="2.45"/><circle cx="344.7" cy="473.5" r="2.45"/><circle cx="344.9" cy="475.3" r="2.45"/><circle cx="344.6" cy="478.8" r="2.45"/><circle cx="215.9" cy="472.1" r="2.45"/><circle cx="216.1" cy="476.7" r="2.45"/><circle cx="216.1" cy="478.4" r="2.45"/><circle cx="217.8" cy="463.7" r="2.45"/><circle cx="217.9" cy="467.5" r="2.45"/><circle cx="218.0" cy="468.8" r="2.45"/><circle cx="217.9" cy="470.7" r="2.45"/><circle cx="218.0" cy="473.2" r="2.45"/><circle cx="217.8" cy="479.8" r="2.45"/><circle cx="219.6" cy="452.7" r="2.45"/><circle cx="220.0" cy="450.8" r="2.45"/><circle cx="219.7" cy="465.6" r="2.45"/><circle cx="219.7" cy="472.8" r="2.45"/><circle cx="221.6" cy="446.6" r="2.45"/><circle cx="221.4" cy="458.1" r="2.45"/><circle cx="221.6" cy="464.6" r="2.45"/><circle cx="221.4" cy="471.3" r="2.45"/><circle cx="221.5" cy="476.9" r="2.45"/><circle cx="223.2" cy="464.4" r="2.45"/><circle cx="223.3" cy="467.5" r="2.45"/><circle cx="223.6" cy="468.2" r="2.45"/><circle cx="223.3" cy="470.2" r="2.45"/><circle cx="223.4" cy="476.9" r="2.45"/><circle cx="225.0" cy="471.2" r="2.45"/><circle cx="228.6" cy="464.4" r="2.45"/><circle cx="228.9" cy="464.2" r="2.45"/><circle cx="228.6" cy="468.4" r="2.45"/><circle cx="228.7" cy="469.7" r="2.45"/><circle cx="228.6" cy="471.5" r="2.45"/><circle cx="230.8" cy="461.5" r="2.45"/><circle cx="230.4" cy="463.3" r="2.45"/><circle cx="230.8" cy="462.8" r="2.45"/><circle cx="230.9" cy="466.0" r="2.45"/><circle cx="230.5" cy="468.4" r="2.45"/><circle cx="230.8" cy="468.4" r="2.45"/><circle cx="232.5" cy="459.3" r="2.45"/><circle cx="232.3" cy="462.2" r="2.45"/><circle cx="232.2" cy="466.0" r="2.45"/><circle cx="234.2" cy="455.5" r="2.45"/><circle cx="234.1" cy="458.1" r="2.45"/><circle cx="234.1" cy="459.9" r="2.45"/><circle cx="234.0" cy="462.2" r="2.45"/><circle cx="236.3" cy="454.6" r="2.45"/><circle cx="236.1" cy="455.8" r="2.45"/><circle cx="235.9" cy="457.6" r="2.45"/><circle cx="235.9" cy="458.9" r="2.45"/><circle cx="237.7" cy="446.7" r="2.45"/><circle cx="237.8" cy="449.3" r="2.45"/><circle cx="237.7" cy="453.7" r="2.45"/><circle cx="244.9" cy="420.3" r="2.45"/><circle cx="244.9" cy="421.3" r="2.45"/><circle cx="245.1" cy="423.4" r="2.45"/><circle cx="245.1" cy="424.3" r="2.45"/><circle cx="246.7" cy="431.5" r="2.45"/><circle cx="246.8" cy="432.9" r="2.45"/><circle cx="246.9" cy="434.7" r="2.45"/><circle cx="247.1" cy="437.2" r="2.45"/><circle cx="248.5" cy="440.9" r="2.45"/><circle cx="248.6" cy="442.9" r="2.45"/><circle cx="248.7" cy="444.4" r="2.45"/><circle cx="248.6" cy="446.7" r="2.45"/><circle cx="248.8" cy="448.5" r="2.45"/><circle cx="248.9" cy="450.2" r="2.45"/><circle cx="254.4" cy="454.9" r="2.45"/><circle cx="254.2" cy="459.6" r="2.45"/><circle cx="254.3" cy="461.7" r="2.45"/><circle cx="254.3" cy="463.4" r="2.45"/><circle cx="254.2" cy="467.2" r="2.45"/><circle cx="255.8" cy="462.5" r="2.45"/><circle cx="256.0" cy="464.0" r="2.45"/><circle cx="256.2" cy="466.3" r="2.45"/><circle cx="256.2" cy="469.3" r="2.45"/><circle cx="257.7" cy="464.3" r="2.45"/><circle cx="258.0" cy="464.3" r="2.45"/><circle cx="257.7" cy="466.3" r="2.45"/><circle cx="257.8" cy="469.4" r="2.45"/><circle cx="259.5" cy="463.0" r="2.45"/><circle cx="259.5" cy="466.0" r="2.45"/><circle cx="259.5" cy="469.0" r="2.45"/><circle cx="259.4" cy="472.0" r="2.45"/><circle cx="263.0" cy="430.9" r="2.45"/><circle cx="263.0" cy="438.1" r="2.45"/><circle cx="264.8" cy="456.0" r="2.45"/><circle cx="265.0" cy="457.8" r="2.45"/><circle cx="264.9" cy="470.4" r="2.45"/><circle cx="265.0" cy="472.5" r="2.45"/><circle cx="265.0" cy="475.7" r="2.45"/><circle cx="265.0" cy="480.4" r="2.45"/><circle cx="269.1" cy="453.7" r="2.45"/><circle cx="268.7" cy="459.9" r="2.45"/><circle cx="268.5" cy="464.6" r="2.45"/><circle cx="216.0" cy="474.2" r="2.45"/><circle cx="215.9" cy="477.3" r="2.45"/><circle cx="217.9" cy="465.4" r="2.45"/><circle cx="217.9" cy="469.5" r="2.45"/><circle cx="218.1" cy="471.8" r="2.45"/><circle cx="223.2" cy="466.2" r="2.45"/><circle cx="223.5" cy="469.4" r="2.45"/><circle cx="228.7" cy="466.5" r="2.45"/><circle cx="228.5" cy="470.7" r="2.45"/><circle cx="230.7" cy="464.9" r="2.45"/><circle cx="230.7" cy="467.3" r="2.45"/><circle cx="232.3" cy="460.7" r="2.45"/><circle cx="232.2" cy="463.9" r="2.45"/><circle cx="234.3" cy="456.7" r="2.45"/><circle cx="234.3" cy="459.1" r="2.45"/><circle cx="234.1" cy="461.1" r="2.45"/><circle cx="236.1" cy="456.5" r="2.45"/><circle cx="237.7" cy="447.9" r="2.45"/><circle cx="237.7" cy="451.3" r="2.45"/><circle cx="245.1" cy="422.2" r="2.45"/><circle cx="246.9" cy="433.7" r="2.45"/><circle cx="247.2" cy="436.1" r="2.45"/><circle cx="248.5" cy="442.1" r="2.45"/><circle cx="248.8" cy="445.8" r="2.45"/><circle cx="248.7" cy="447.4" r="2.45"/><circle cx="248.7" cy="449.6" r="2.45"/><circle cx="254.3" cy="457.1" r="2.45"/><circle cx="254.4" cy="460.7" r="2.45"/><circle cx="254.3" cy="462.5" r="2.45"/><circle cx="254.2" cy="465.2" r="2.45"/><circle cx="256.0" cy="465.4" r="2.45"/><circle cx="256.2" cy="467.8" r="2.45"/><circle cx="257.8" cy="465.5" r="2.45"/><circle cx="257.6" cy="467.8" r="2.45"/><circle cx="259.3" cy="464.3" r="2.45"/><circle cx="259.6" cy="467.6" r="2.45"/><circle cx="259.4" cy="470.5" r="2.45"/><circle cx="265.0" cy="456.8" r="2.45"/><circle cx="265.0" cy="471.6" r="2.45"/><circle cx="264.9" cy="474.1" r="2.45"/><circle cx="265.1" cy="478.3" r="2.45"/><circle cx="105.0" cy="463.6" r="2.45"/><circle cx="115.6" cy="462.0" r="2.45"/><circle cx="122.0" cy="460.0" r="2.45"/><circle cx="194.4" cy="462.0" r="2.45"/><circle cx="108.0" cy="466.0" r="2.45"/><circle cx="135.0" cy="463.0" r="2.45"/><circle cx="147.0" cy="464.0" r="2.45"/><circle cx="107.0" cy="498.0" r="2.45"/><circle cx="123.0" cy="491.0" r="2.45"/><circle cx="147.0" cy="498.0" r="2.45"/><circle cx="169.6" cy="490.0" r="2.45"/><circle cx="169.6" cy="495.0" r="2.45"/><circle cx="174.0" cy="487.0" r="2.45"/><circle cx="253.6" cy="353.4" r="2.45"/><circle cx="245.6" cy="422.4" r="2.45"/><circle cx="263.0" cy="431.0" r="2.45"/><circle cx="263.0" cy="437.0" r="2.45"/><circle cx="269.0" cy="454.0" r="2.45"/><circle cx="219.0" cy="450.0" r="2.45"/><circle cx="219.5" cy="470.0" r="2.45"/><circle cx="219.0" cy="485.0" r="2.45"/><circle cx="221.0" cy="460.0" r="2.45"/><circle cx="307.0" cy="443.6" r="2.45"/><circle cx="305.0" cy="453.0" r="2.45"/><circle cx="299.0" cy="456.0" r="2.45"/><circle cx="317.0" cy="451.0" r="2.45"/><circle cx="292.0" cy="463.0" r="2.45"/><circle cx="317.0" cy="446.0" r="2.45"/><circle cx="265.0" cy="486.0" r="2.45"/><circle cx="276.0" cy="494.0" r="2.45"/><circle cx="288.0" cy="488.0" r="2.45"/><circle cx="307.0" cy="497.0" r="2.45"/><circle cx="315.0" cy="492.0" r="2.45"/><circle cx="316.0" cy="494.0" r="2.45"/><circle cx="323.0" cy="490.0" r="2.45"/><circle cx="369.0" cy="446.0" r="2.45"/><circle cx="383.0" cy="453.0" r="2.45"/><circle cx="423.6" cy="447.0" r="2.45"/><circle cx="357.0" cy="488.0" r="2.45"/><circle cx="371.6" cy="490.0" r="2.45"/><circle cx="380.0" cy="488.0" r="2.45"/><circle cx="408.0" cy="490.0" r="2.45"/><circle cx="327.9" cy="339.2" r="2.45"/><circle cx="457.6" cy="415.0" r="2.45"/><circle cx="468.4" cy="414.6" r="2.45"/><circle cx="457.6" cy="431.6" r="2.45"/><circle cx="479.6" cy="432.0" r="2.45"/><circle cx="492.4" cy="432.4" r="2.45"/><circle cx="437.6" cy="441.6" r="2.45"/><circle cx="475.6" cy="440.0" r="2.45"/><circle cx="475.6" cy="450.0" r="2.45"/><circle cx="459.6" cy="445.0" r="2.45"/><circle cx="454.0" cy="457.0" r="2.45"/><circle cx="468.0" cy="452.0" r="2.45"/><circle cx="463.0" cy="462.0" r="2.45"/><circle cx="492.0" cy="458.6" r="2.45"/><circle cx="497.4" cy="463.0" r="2.45"/><circle cx="541.0" cy="469.6" r="2.45"/><circle cx="522.6" cy="496.4" r="2.45"/><circle cx="537.4" cy="498.0" r="2.45"/><circle cx="457.0" cy="486.0" r="2.45"/><circle cx="484.0" cy="490.0" r="2.45"/></g></g><g stroke="#ff3c28" fill="#ff3c28"><path fill="none" d="M100.6 473.4V476.7M98.0 473.4h5.2M98.0 476.7h5.2M100.6 474.0V477.7M98.0 474.0h5.2M98.0 477.7h5.2M100.8 473.5V476.3M98.2 473.5h5.2M98.2 476.3h5.2M100.5 470.3V473.6M97.9 470.3h5.2M97.9 473.6h5.2M100.6 474.4V478.6M98.0 474.4h5.2M98.0 478.6h5.2M100.8 472.7V475.6M98.2 472.7h5.2M98.2 475.6h5.2M100.7 474.5V478.8M98.1 474.5h5.2M98.1 478.8h5.2M100.6 470.3V472.5M98.0 470.3h5.2M98.0 472.5h5.2M102.5 478.2V481.9M99.9 478.2h5.2M99.9 481.9h5.2M102.5 474.9V479.8M99.9 474.9h5.2M99.9 479.8h5.2M102.5 474.7V478.2M99.9 474.7h5.2M99.9 478.2h5.2M102.4 477.6V481.0M99.8 477.6h5.2M99.8 481.0h5.2M102.3 477.2V482.5M99.7 477.2h5.2M99.7 482.5h5.2M104.4 472.4V483.9M101.8 472.4h5.2M101.8 483.9h5.2M104.4 473.3V479.4M101.8 473.3h5.2M101.8 479.4h5.2M104.4 465.5V473.4M101.8 465.5h5.2M101.8 473.4h5.2M104.2 467.9V478.5M101.6 467.9h5.2M101.6 478.5h5.2M104.1 475.3V486.2M101.5 475.3h5.2M101.5 486.2h5.2M107.8 467.6V471.8M105.2 467.6h5.2M105.2 471.8h5.2M107.9 466.0V470.2M105.3 466.0h5.2M105.3 470.2h5.2M108.0 468.0V470.8M105.4 468.0h5.2M105.4 470.8h5.2M107.8 472.0V475.2M105.2 472.0h5.2M105.2 475.2h5.2M107.9 466.0V469.4M105.3 466.0h5.2M105.3 469.4h5.2M107.8 470.1V472.7M105.2 470.1h5.2M105.2 472.7h5.2M107.7 468.0V472.6M105.1 468.0h5.2M105.1 472.6h5.2M108.0 470.3V473.4M105.4 470.3h5.2M105.4 473.4h5.2M109.8 474.5V479.0M107.2 474.5h5.2M107.2 479.0h5.2M109.5 476.4V480.9M106.9 476.4h5.2M106.9 480.9h5.2M109.8 474.6V479.8M107.2 474.6h5.2M107.2 479.8h5.2M109.6 471.2V474.5M107.0 471.2h5.2M107.0 474.5h5.2M109.5 473.9V476.7M106.9 473.9h5.2M106.9 476.7h5.2M109.6 474.3V478.1M107.0 474.3h5.2M107.0 478.1h5.2M109.7 477.5V481.5M107.1 477.5h5.2M107.1 481.5h5.2M111.7 472.9V475.8M109.1 472.9h5.2M109.1 475.8h5.2M111.5 472.9V477.1M108.9 472.9h5.2M108.9 477.1h5.2M111.5 474.4V477.3M108.9 474.4h5.2M108.9 477.3h5.2M111.4 473.5V477.1M108.8 473.5h5.2M108.8 477.1h5.2M111.7 475.2V477.5M109.1 475.2h5.2M109.1 477.5h5.2M111.5 474.8V478.8M108.9 474.8h5.2M108.9 478.8h5.2M111.5 471.7V475.7M108.9 471.7h5.2M108.9 475.7h5.2M111.5 474.5V478.4M108.9 474.5h5.2M108.9 478.4h5.2M113.4 474.4V477.0M110.8 474.4h5.2M110.8 477.0h5.2M113.2 473.7V478.6M110.6 473.7h5.2M110.6 478.6h5.2M113.3 468.8V473.1M110.7 468.8h5.2M110.7 473.1h5.2M113.2 473.7V478.1M110.6 473.7h5.2M110.6 478.1h5.2M113.2 475.5V479.0M110.6 475.5h5.2M110.6 479.0h5.2M113.2 469.5V474.6M110.6 469.5h5.2M110.6 474.6h5.2M115.1 472.8V476.3M112.5 472.8h5.2M112.5 476.3h5.2M115.2 472.2V474.1M112.6 472.2h5.2M112.6 474.1h5.2M115.0 470.3V474.0M112.4 470.3h5.2M112.4 474.0h5.2M115.3 474.8V477.2M112.7 474.8h5.2M112.7 477.2h5.2M115.0 470.3V474.2M112.4 470.3h5.2M112.4 474.2h5.2M115.3 474.4V476.8M112.7 474.4h5.2M112.7 476.8h5.2M117.0 469.0V473.2M114.4 469.0h5.2M114.4 473.2h5.2M116.9 475.0V479.0M114.3 475.0h5.2M114.3 479.0h5.2M116.8 471.2V473.6M114.2 471.2h5.2M114.2 473.6h5.2M117.0 471.7V474.1M114.4 471.7h5.2M114.4 474.1h5.2M116.9 472.5V475.5M114.3 472.5h5.2M114.3 475.5h5.2M117.1 471.9V475.7M114.5 471.9h5.2M114.5 475.7h5.2M116.9 473.8V476.7M114.3 473.8h5.2M114.3 476.7h5.2M116.9 473.5V477.9M114.3 473.5h5.2M114.3 477.9h5.2M118.9 479.0V482.1M116.3 479.0h5.2M116.3 482.1h5.2M118.8 473.2V477.2M116.2 473.2h5.2M116.2 477.2h5.2M118.7 476.1V478.5M116.1 476.1h5.2M116.1 478.5h5.2M118.8 475.4V477.5M116.2 475.4h5.2M116.2 477.5h5.2M118.9 474.7V477.2M116.3 474.7h5.2M116.3 477.2h5.2M120.5 476.6V479.5M117.9 476.6h5.2M117.9 479.5h5.2M120.6 473.1V476.4M118.0 473.1h5.2M118.0 476.4h5.2M120.6 474.5V476.9M118.0 474.5h5.2M118.0 476.9h5.2M120.4 474.5V477.1M117.8 474.5h5.2M117.8 477.1h5.2M120.4 471.9V474.7M117.8 471.9h5.2M117.8 474.7h5.2M120.6 477.0V479.5M118.0 477.0h5.2M118.0 479.5h5.2M120.4 474.4V478.0M117.8 474.4h5.2M117.8 478.0h5.2M120.5 475.1V477.2M117.9 475.1h5.2M117.9 477.2h5.2M122.3 465.0V470.1M119.7 465.0h5.2M119.7 470.1h5.2M122.4 466.3V471.8M119.8 466.3h5.2M119.8 471.8h5.2M122.3 467.7V471.3M119.7 467.7h5.2M119.7 471.3h5.2M122.6 464.7V471.1M120.0 464.7h5.2M120.0 471.1h5.2M122.5 467.9V473.8M119.9 467.9h5.2M119.9 473.8h5.2M122.6 463.5V466.6M120.0 463.5h5.2M120.0 466.6h5.2M122.5 466.3V470.0M119.9 466.3h5.2M119.9 470.0h5.2M124.3 471.2V474.9M121.7 471.2h5.2M121.7 474.9h5.2M124.1 467.9V472.7M121.5 467.9h5.2M121.5 472.7h5.2M124.3 471.4V474.9M121.7 471.4h5.2M121.7 474.9h5.2M124.2 472.5V476.3M121.6 472.5h5.2M121.6 476.3h5.2M124.1 469.2V472.1M121.5 469.2h5.2M121.5 472.1h5.2M126.2 470.4V478.7M123.6 470.4h5.2M123.6 478.7h5.2M126.2 473.5V478.7M123.6 473.5h5.2M123.6 478.7h5.2M126.0 465.6V472.2M123.4 465.6h5.2M123.4 472.2h5.2M126.0 475.2V479.7M123.4 475.2h5.2M123.4 479.7h5.2M126.0 474.5V482.2M123.4 474.5h5.2M123.4 482.2h5.2M125.9 473.9V480.4M123.3 473.9h5.2M123.3 480.4h5.2M126.0 469.5V478.1M123.4 469.5h5.2M123.4 478.1h5.2M125.8 480.1V484.9M123.2 480.1h5.2M123.2 484.9h5.2M127.9 468.3V475.2M125.3 468.3h5.2M125.3 475.2h5.2M127.7 472.7V477.6M125.1 472.7h5.2M125.1 477.6h5.2M128.0 474.2V479.0M125.4 474.2h5.2M125.4 479.0h5.2M127.9 470.1V473.5M125.3 470.1h5.2M125.3 473.5h5.2M128.0 472.6V477.1M125.4 472.6h5.2M125.4 477.1h5.2M128.0 476.6V481.5M125.4 476.6h5.2M125.4 481.5h5.2M128.1 473.1V476.5M125.5 473.1h5.2M125.5 476.5h5.2M127.7 472.9V479.6M125.1 472.9h5.2M125.1 479.6h5.2M129.7 462.8V467.0M127.1 462.8h5.2M127.1 467.0h5.2M129.7 466.7V472.7M127.1 466.7h5.2M127.1 472.7h5.2M129.8 469.8V476.7M127.2 469.8h5.2M127.2 476.7h5.2M129.5 471.1V476.5M126.9 471.1h5.2M126.9 476.5h5.2M129.9 469.0V472.9M127.3 469.0h5.2M127.3 472.9h5.2M131.4 469.9V474.0M128.8 469.9h5.2M128.8 474.0h5.2M131.5 467.9V473.2M128.9 467.9h5.2M128.9 473.2h5.2M131.6 470.0V474.4M129.0 470.0h5.2M129.0 474.4h5.2M131.5 470.3V474.3M128.9 470.3h5.2M128.9 474.3h5.2M131.4 466.3V469.4M128.8 466.3h5.2M128.8 469.4h5.2M131.5 471.1V477.5M128.9 471.1h5.2M128.9 477.5h5.2M131.6 468.6V474.4M129.0 468.6h5.2M129.0 474.4h5.2M131.6 464.9V470.9M129.0 464.9h5.2M129.0 470.9h5.2M133.1 476.3V479.8M130.5 476.3h5.2M130.5 479.8h5.2M133.4 472.8V477.9M130.8 472.8h5.2M130.8 477.9h5.2M133.3 474.3V479.8M130.7 474.3h5.2M130.7 479.8h5.2M133.3 469.5V472.3M130.7 469.5h5.2M130.7 472.3h5.2M133.4 468.7V473.9M130.8 468.7h5.2M130.8 473.9h5.2M133.1 472.0V476.8M130.5 472.0h5.2M130.5 476.8h5.2M133.4 469.3V471.9M130.8 469.3h5.2M130.8 471.9h5.2M133.4 472.2V477.7M130.8 472.2h5.2M130.8 477.7h5.2M135.3 472.7V477.3M132.7 472.7h5.2M132.7 477.3h5.2M135.1 470.3V472.9M132.5 470.3h5.2M132.5 472.9h5.2M135.3 470.8V474.3M132.7 470.8h5.2M132.7 474.3h5.2M135.3 472.6V477.9M132.7 472.6h5.2M132.7 477.9h5.2M135.3 468.7V473.1M132.7 468.7h5.2M132.7 473.1h5.2M137.0 472.3V475.3M134.4 472.3h5.2M134.4 475.3h5.2M137.1 472.7V476.4M134.5 472.7h5.2M134.5 476.4h5.2M136.9 474.0V476.9M134.3 474.0h5.2M134.3 476.9h5.2M136.9 471.2V473.2M134.3 471.2h5.2M134.3 473.2h5.2M136.9 471.9V474.9M134.3 471.9h5.2M134.3 474.9h5.2M137.1 469.4V471.8M134.5 469.4h5.2M134.5 471.8h5.2M137.1 470.9V473.2M134.5 470.9h5.2M134.5 473.2h5.2M136.9 471.2V474.5M134.3 471.2h5.2M134.3 474.5h5.2M138.7 469.4V475.0M136.1 469.4h5.2M136.1 475.0h5.2M138.8 476.9V480.5M136.2 476.9h5.2M136.2 480.5h5.2M138.8 472.6V478.0M136.2 472.6h5.2M136.2 478.0h5.2M138.7 477.1V480.6M136.1 477.1h5.2M136.1 480.6h5.2M138.9 473.8V478.5M136.3 473.8h5.2M136.3 478.5h5.2M138.9 469.4V475.3M136.3 469.4h5.2M136.3 475.3h5.2M138.8 470.2V476.4M136.2 470.2h5.2M136.2 476.4h5.2M138.9 473.4V477.4M136.3 473.4h5.2M136.3 477.4h5.2M140.6 466.5V473.0M138.0 466.5h5.2M138.0 473.0h5.2M140.7 469.8V475.5M138.1 469.8h5.2M138.1 475.5h5.2M140.6 466.9V472.8M138.0 466.9h5.2M138.0 472.8h5.2M140.7 469.5V472.6M138.1 469.5h5.2M138.1 472.6h5.2M140.5 470.1V475.0M137.9 470.1h5.2M137.9 475.0h5.2M140.6 471.1V474.7M138.0 471.1h5.2M138.0 474.7h5.2M140.6 472.3V478.0M138.0 472.3h5.2M138.0 478.0h5.2M140.5 467.6V474.5M137.9 467.6h5.2M137.9 474.5h5.2M142.6 471.1V474.0M140.0 471.1h5.2M140.0 474.0h5.2M142.5 474.0V477.1M139.9 474.0h5.2M139.9 477.1h5.2M142.3 475.3V477.5M139.7 475.3h5.2M139.7 477.5h5.2M142.4 471.3V475.8M139.8 471.3h5.2M139.8 475.8h5.2M142.3 477.4V481.0M139.7 477.4h5.2M139.7 481.0h5.2M142.4 476.2V479.5M139.8 476.2h5.2M139.8 479.5h5.2M144.3 477.7V479.9M141.7 477.7h5.2M141.7 479.9h5.2M144.0 473.4V476.2M141.4 473.4h5.2M141.4 476.2h5.2M144.4 474.3V478.4M141.8 474.3h5.2M141.8 478.4h5.2M144.0 476.1V478.4M141.4 476.1h5.2M141.4 478.4h5.2M144.3 473.4V476.9M141.7 473.4h5.2M141.7 476.9h5.2M144.3 475.6V478.8M141.7 475.6h5.2M141.7 478.8h5.2M155.1 471.2V480.3M152.5 471.2h5.2M152.5 480.3h5.2M155.2 475.2V484.0M152.6 475.2h5.2M152.6 484.0h5.2M155.1 474.3V482.9M152.5 474.3h5.2M152.5 482.9h5.2M155.0 478.7V488.4M152.4 478.7h5.2M152.4 488.4h5.2M155.2 464.1V471.1M152.6 464.1h5.2M152.6 471.1h5.2M157.0 462.7V471.1M154.4 462.7h5.2M154.4 471.1h5.2M157.0 464.4V477.1M154.4 464.4h5.2M154.4 477.1h5.2M156.9 468.7V481.3M154.3 468.7h5.2M154.3 481.3h5.2M156.8 459.8V471.6M154.2 459.8h5.2M154.2 471.6h5.2M156.8 461.4V473.1M154.2 461.4h5.2M154.2 473.1h5.2M156.8 465.8V472.2M154.2 465.8h5.2M154.2 472.2h5.2M157.0 463.7V473.1M154.4 463.7h5.2M154.4 473.1h5.2M158.9 471.8V478.9M156.3 471.8h5.2M156.3 478.9h5.2M158.8 466.2V475.2M156.2 466.2h5.2M156.2 475.2h5.2M158.7 474.1V484.6M156.1 474.1h5.2M156.1 484.6h5.2M158.6 470.8V476.4M156.0 470.8h5.2M156.0 476.4h5.2M158.8 463.0V470.4M156.2 463.0h5.2M156.2 470.4h5.2M158.8 466.2V475.2M156.2 466.2h5.2M156.2 475.2h5.2M158.8 476.5V484.0M156.2 476.5h5.2M156.2 484.0h5.2M160.7 469.4V479.0M158.1 469.4h5.2M158.1 479.0h5.2M160.7 473.6V481.8M158.1 473.6h5.2M158.1 481.8h5.2M160.5 469.3V475.9M157.9 469.3h5.2M157.9 475.9h5.2M160.4 467.4V478.9M157.8 467.4h5.2M157.8 478.9h5.2M160.7 467.7V477.3M158.1 467.7h5.2M158.1 477.3h5.2M160.5 470.9V477.2M157.9 470.9h5.2M157.9 477.2h5.2M162.5 470.9V479.0M159.9 470.9h5.2M159.9 479.0h5.2M162.6 468.4V477.2M160.0 468.4h5.2M160.0 477.2h5.2M162.2 469.2V478.5M159.6 469.2h5.2M159.6 478.5h5.2M162.4 467.8V472.8M159.8 467.8h5.2M159.8 472.8h5.2M162.5 471.2V480.1M159.9 471.2h5.2M159.9 480.1h5.2M164.1 470.5V475.1M161.5 470.5h5.2M161.5 475.1h5.2M164.2 471.6V475.4M161.6 471.6h5.2M161.6 475.4h5.2M164.3 466.5V471.7M161.7 466.5h5.2M161.7 471.7h5.2M164.4 466.5V471.7M161.8 466.5h5.2M161.8 471.7h5.2M164.3 471.0V474.6M161.7 471.0h5.2M161.7 474.6h5.2M164.1 472.1V475.9M161.5 472.1h5.2M161.5 475.9h5.2M164.2 466.7V471.5M161.6 466.7h5.2M161.6 471.5h5.2M166.1 471.2V479.8M163.5 471.2h5.2M163.5 479.8h5.2M165.9 475.9V483.1M163.3 475.9h5.2M163.3 483.1h5.2M166.0 464.4V470.6M163.4 464.4h5.2M163.4 470.6h5.2M166.1 465.5V472.8M163.5 465.5h5.2M163.5 472.8h5.2M165.8 474.6V483.1M163.2 474.6h5.2M163.2 483.1h5.2M166.1 461.0V470.0M163.5 461.0h5.2M163.5 470.0h5.2M166.0 471.2V481.6M163.4 471.2h5.2M163.4 481.6h5.2M166.0 467.8V476.1M163.4 467.8h5.2M163.4 476.1h5.2M167.9 462.1V470.4M165.3 462.1h5.2M165.3 470.4h5.2M167.9 470.1V480.4M165.3 470.1h5.2M165.3 480.4h5.2M167.8 462.6V468.7M165.2 462.6h5.2M165.2 468.7h5.2M167.7 471.8V477.3M165.1 471.8h5.2M165.1 477.3h5.2M167.9 468.2V480.1M165.3 468.2h5.2M165.3 480.1h5.2M167.9 476.7V484.2M165.3 476.7h5.2M165.3 484.2h5.2M167.7 460.2V467.7M165.1 460.2h5.2M165.1 467.7h5.2M167.9 462.7V472.1M165.3 462.7h5.2M165.3 472.1h5.2M169.5 465.8V477.4M166.9 465.8h5.2M166.9 477.4h5.2M169.5 467.1V475.5M166.9 467.1h5.2M166.9 475.5h5.2M169.5 468.8V479.6M166.9 468.8h5.2M166.9 479.6h5.2M169.7 466.1V474.8M167.1 466.1h5.2M167.1 474.8h5.2M169.7 471.1V479.1M167.1 471.1h5.2M167.1 479.1h5.2M169.5 460.4V466.5M166.9 460.4h5.2M166.9 466.5h5.2M169.8 465.1V470.9M167.2 465.1h5.2M167.2 470.9h5.2M169.6 465.5V474.3M167.0 465.5h5.2M167.0 474.3h5.2M171.5 455.2V464.6M168.9 455.2h5.2M168.9 464.6h5.2M171.5 467.6V476.3M168.9 467.6h5.2M168.9 476.3h5.2M171.5 470.9V479.0M168.9 470.9h5.2M168.9 479.0h5.2M171.6 466.9V478.5M169.0 466.9h5.2M169.0 478.5h5.2M171.5 465.9V473.2M168.9 465.9h5.2M168.9 473.2h5.2M171.5 467.6V480.0M168.9 467.6h5.2M168.9 480.0h5.2M171.7 463.7V471.2M169.1 463.7h5.2M169.1 471.2h5.2M173.3 472.3V482.5M170.7 472.3h5.2M170.7 482.5h5.2M173.4 470.4V479.0M170.8 470.4h5.2M170.8 479.0h5.2M173.3 469.0V479.1M170.7 469.0h5.2M170.7 479.1h5.2M173.5 460.0V471.9M170.9 460.0h5.2M170.9 471.9h5.2M173.3 461.7V469.0M170.7 461.7h5.2M170.7 469.0h5.2M173.2 463.0V469.7M170.6 463.0h5.2M170.6 469.7h5.2M173.4 466.0V478.2M170.8 466.0h5.2M170.8 478.2h5.2M173.5 469.9V479.7M170.9 469.9h5.2M170.9 479.7h5.2M175.2 461.4V474.0M172.6 461.4h5.2M172.6 474.0h5.2M175.0 464.7V471.2M172.4 464.7h5.2M172.4 471.2h5.2M175.0 465.1V471.1M172.4 465.1h5.2M172.4 471.1h5.2M175.1 461.5V469.9M172.5 461.5h5.2M172.5 469.9h5.2M175.0 468.7V479.8M172.4 468.7h5.2M172.4 479.8h5.2M175.1 466.1V475.5M172.5 466.1h5.2M172.5 475.5h5.2M175.0 462.3V472.0M172.4 462.3h5.2M172.4 472.0h5.2M175.2 459.8V468.5M172.6 459.8h5.2M172.6 468.5h5.2M176.8 473.4V480.6M174.2 473.4h5.2M174.2 480.6h5.2M176.9 473.8V483.9M174.3 473.8h5.2M174.3 483.9h5.2M177.0 471.7V477.0M174.4 471.7h5.2M174.4 477.0h5.2M177.0 468.9V479.9M174.4 468.9h5.2M174.4 479.9h5.2M177.1 466.6V476.2M174.5 466.6h5.2M174.5 476.2h5.2M176.7 473.9V484.9M174.1 473.9h5.2M174.1 484.9h5.2M176.8 483.0V490.1M174.2 483.0h5.2M174.2 490.1h5.2M178.6 473.7V481.0M176.0 473.7h5.2M176.0 481.0h5.2M178.9 474.3V486.0M176.3 474.3h5.2M176.3 486.0h5.2M178.6 459.2V470.6M176.0 459.2h5.2M176.0 470.6h5.2M178.9 465.4V478.4M176.3 465.4h5.2M176.3 478.4h5.2M178.6 465.1V473.9M176.0 465.1h5.2M176.0 473.9h5.2M178.8 465.4V476.9M176.2 465.4h5.2M176.2 476.9h5.2M180.5 463.2V473.4M177.9 463.2h5.2M177.9 473.4h5.2M180.6 466.7V476.6M178.0 466.7h5.2M178.0 476.6h5.2M180.7 467.7V477.0M178.1 467.7h5.2M178.1 477.0h5.2M180.7 460.0V470.6M178.1 460.0h5.2M178.1 470.6h5.2M180.4 462.7V469.9M177.8 462.7h5.2M177.8 469.9h5.2M180.6 468.7V479.0M178.0 468.7h5.2M178.0 479.0h5.2M180.5 480.3V487.6M177.9 480.3h5.2M177.9 487.6h5.2M180.6 467.5V475.7M178.0 467.5h5.2M178.0 475.7h5.2M182.2 474.6V480.9M179.6 474.6h5.2M179.6 480.9h5.2M182.3 462.4V474.2M179.7 462.4h5.2M179.7 474.2h5.2M182.5 477.5V484.0M179.9 477.5h5.2M179.9 484.0h5.2M182.5 468.6V474.9M179.9 468.6h5.2M179.9 474.9h5.2M182.5 469.0V480.3M179.9 469.0h5.2M179.9 480.3h5.2M184.3 472.6V477.0M181.7 472.6h5.2M181.7 477.0h5.2M184.2 475.4V480.4M181.6 475.4h5.2M181.6 480.4h5.2M184.1 465.0V469.3M181.5 465.0h5.2M181.5 469.3h5.2M184.4 467.4V473.7M181.8 467.4h5.2M181.8 473.7h5.2M184.3 471.6V476.3M181.7 471.6h5.2M181.7 476.3h5.2M184.2 472.8V477.3M181.6 472.8h5.2M181.6 477.3h5.2M184.1 474.3V481.8M181.5 474.3h5.2M181.5 481.8h5.2M186.1 465.0V474.3M183.5 465.0h5.2M183.5 474.3h5.2M185.9 470.4V476.1M183.3 470.4h5.2M183.3 476.1h5.2M186.2 474.4V481.3M183.6 474.4h5.2M183.6 481.3h5.2M185.9 464.6V475.3M183.3 464.6h5.2M183.3 475.3h5.2M186.1 470.2V480.0M183.5 470.2h5.2M183.5 480.0h5.2M185.8 468.0V472.9M183.2 468.0h5.2M183.2 472.9h5.2M186.0 473.5V478.6M183.4 473.5h5.2M183.4 478.6h5.2M187.7 477.0V485.2M185.1 477.0h5.2M185.1 485.2h5.2M188.0 468.7V477.5M185.4 468.7h5.2M185.4 477.5h5.2M187.8 471.4V480.5M185.2 471.4h5.2M185.2 480.5h5.2M188.0 473.5V480.7M185.4 473.5h5.2M185.4 480.7h5.2M187.7 470.1V475.2M185.1 470.1h5.2M185.1 475.2h5.2M187.7 465.7V471.2M185.1 465.7h5.2M185.1 471.2h5.2M187.9 470.9V480.2M185.3 470.9h5.2M185.3 480.2h5.2M187.9 478.4V485.4M185.3 478.4h5.2M185.3 485.4h5.2M189.8 465.8V473.4M187.2 465.8h5.2M187.2 473.4h5.2M189.7 468.3V474.2M187.1 468.3h5.2M187.1 474.2h5.2M189.5 476.0V483.0M186.9 476.0h5.2M186.9 483.0h5.2M189.8 474.7V484.0M187.2 474.7h5.2M187.2 484.0h5.2M189.5 479.4V484.6M186.9 479.4h5.2M186.9 484.6h5.2M189.8 469.7V478.2M187.2 469.7h5.2M187.2 478.2h5.2M189.5 473.3V483.3M186.9 473.3h5.2M186.9 483.3h5.2M191.6 470.3V474.7M189.0 470.3h5.2M189.0 474.7h5.2M191.4 467.0V475.7M188.8 467.0h5.2M188.8 475.7h5.2M191.5 462.6V470.4M188.9 462.6h5.2M188.9 470.4h5.2M191.4 466.1V473.9M188.8 466.1h5.2M188.8 473.9h5.2M191.3 468.3V475.1M188.7 468.3h5.2M188.7 475.1h5.2M191.6 471.2V478.9M189.0 471.2h5.2M189.0 478.9h5.2M193.5 460.1V469.6M190.9 460.1h5.2M190.9 469.6h5.2M193.4 464.4V477.0M190.8 464.4h5.2M190.8 477.0h5.2M193.1 462.5V471.7M190.5 462.5h5.2M190.5 471.7h5.2M193.4 460.9V472.4M190.8 460.9h5.2M190.8 472.4h5.2M193.2 459.2V471.6M190.6 459.2h5.2M190.6 471.6h5.2M193.3 474.6V483.4M190.7 474.6h5.2M190.7 483.4h5.2M193.4 467.5V477.1M190.8 467.5h5.2M190.8 477.1h5.2M195.3 473.6V481.8M192.7 473.6h5.2M192.7 481.8h5.2M194.9 459.4V470.4M192.3 459.4h5.2M192.3 470.4h5.2M195.2 462.0V473.5M192.6 462.0h5.2M192.6 473.5h5.2M194.9 467.4V476.3M192.3 467.4h5.2M192.3 476.3h5.2M195.1 466.7V475.8M192.5 466.7h5.2M192.5 475.8h5.2M196.7 464.7V477.9M194.1 464.7h5.2M194.1 477.9h5.2M197.0 473.0V481.4M194.4 473.0h5.2M194.4 481.4h5.2M196.7 462.6V472.2M194.1 462.6h5.2M194.1 472.2h5.2M197.0 470.9V477.5M194.4 470.9h5.2M194.4 477.5h5.2M197.0 470.3V478.9M194.4 470.3h5.2M194.4 478.9h5.2M197.0 466.3V478.2M194.4 466.3h5.2M194.4 478.2h5.2M196.7 464.2V470.9M194.1 464.2h5.2M194.1 470.9h5.2M198.7 459.7V470.6M196.1 459.7h5.2M196.1 470.6h5.2M198.9 468.9V479.8M196.3 468.9h5.2M196.3 479.8h5.2M198.8 469.7V480.6M196.2 469.7h5.2M196.2 480.6h5.2M198.6 460.5V467.2M196.0 460.5h5.2M196.0 467.2h5.2M198.7 456.6V468.5M196.1 456.6h5.2M196.1 468.5h5.2M200.7 469.4V472.6M198.1 469.4h5.2M198.1 472.6h5.2M200.4 469.9V472.4M197.8 469.9h5.2M197.8 472.4h5.2M200.7 469.6V472.0M198.1 469.6h5.2M198.1 472.0h5.2M200.6 466.4V469.7M198.0 466.4h5.2M198.0 469.7h5.2M200.4 468.9V472.8M197.8 468.9h5.2M197.8 472.8h5.2M200.5 468.2V472.6M197.9 468.2h5.2M197.9 472.6h5.2M200.6 470.9V474.2M198.0 470.9h5.2M198.0 474.2h5.2M202.5 467.8V470.7M199.9 467.8h5.2M199.9 470.7h5.2M202.4 465.7V469.9M199.8 465.7h5.2M199.8 469.9h5.2M202.5 466.6V468.9M199.9 466.6h5.2M199.9 468.9h5.2M202.3 464.8V467.2M199.7 464.8h5.2M199.7 467.2h5.2M202.4 467.8V471.2M199.8 467.8h5.2M199.8 471.2h5.2M202.2 467.8V470.8M199.6 467.8h5.2M199.6 470.8h5.2M204.1 462.2V467.3M201.5 462.2h5.2M201.5 467.3h5.2M204.3 464.5V468.6M201.7 464.5h5.2M201.7 468.6h5.2M204.2 467.8V472.5M201.6 467.8h5.2M201.6 472.5h5.2M204.2 465.0V470.2M201.6 465.0h5.2M201.6 470.2h5.2M204.1 464.2V472.6M201.5 464.2h5.2M201.5 472.6h5.2M204.3 465.1V472.0M201.7 465.1h5.2M201.7 472.0h5.2M204.3 466.1V473.6M201.7 466.1h5.2M201.7 473.6h5.2M204.2 470.2V476.2M201.6 470.2h5.2M201.6 476.2h5.2M206.1 463.8V471.9M203.5 463.8h5.2M203.5 471.9h5.2M205.8 466.0V473.3M203.2 466.0h5.2M203.2 473.3h5.2M206.0 467.9V475.6M203.4 467.9h5.2M203.4 475.6h5.2M206.2 468.2V476.8M203.6 468.2h5.2M203.6 476.8h5.2M205.9 464.2V468.8M203.3 464.2h5.2M203.3 468.8h5.2M206.1 460.6V467.8M203.5 460.6h5.2M203.5 467.8h5.2M208.0 464.0V470.6M205.4 464.0h5.2M205.4 470.6h5.2M207.7 465.8V473.1M205.1 465.8h5.2M205.1 473.1h5.2M208.0 461.2V469.4M205.4 461.2h5.2M205.4 469.4h5.2M208.0 470.0V478.9M205.4 470.0h5.2M205.4 478.9h5.2M207.8 466.0V471.4M205.2 466.0h5.2M205.2 471.4h5.2M209.5 469.9V474.3M206.9 469.9h5.2M206.9 474.3h5.2M209.7 471.3V474.3M207.1 471.3h5.2M207.1 474.3h5.2M209.6 468.8V473.0M207.0 468.8h5.2M207.0 473.0h5.2M209.7 470.1V474.3M207.1 470.1h5.2M207.1 474.3h5.2M209.8 469.5V473.9M207.2 469.5h5.2M207.2 473.9h5.2M211.4 471.9V479.4M208.8 471.9h5.2M208.8 479.4h5.2M211.3 471.1V477.7M208.7 471.1h5.2M208.7 477.7h5.2M211.3 467.6V471.8M208.7 467.6h5.2M208.7 471.8h5.2M211.4 472.8V478.1M208.8 472.8h5.2M208.8 478.1h5.2M211.4 467.4V473.9M208.8 467.4h5.2M208.8 473.9h5.2M211.6 463.7V472.3M209.0 463.7h5.2M209.0 472.3h5.2M213.2 468.2V477.3M210.6 468.2h5.2M210.6 477.3h5.2M213.2 469.9V474.7M210.6 469.9h5.2M210.6 474.7h5.2M213.4 468.4V475.1M210.8 468.4h5.2M210.8 475.1h5.2M213.2 461.3V471.2M210.6 461.3h5.2M210.6 471.2h5.2M213.1 460.7V466.3M210.5 460.7h5.2M210.5 466.3h5.2M216.9 453.6V463.3M214.3 453.6h5.2M214.3 463.3h5.2M217.0 465.2V477.9M214.4 465.2h5.2M214.4 477.9h5.2M217.1 460.9V470.0M214.5 460.9h5.2M214.5 470.0h5.2M216.8 464.0V476.7M214.2 464.0h5.2M214.2 476.7h5.2M220.4 452.1V464.2M217.8 452.1h5.2M217.8 464.2h5.2M220.5 466.1V475.1M217.9 466.1h5.2M217.9 475.1h5.2M220.4 453.7V465.2M217.8 453.7h5.2M217.8 465.2h5.2M220.5 476.1V483.9M217.9 476.1h5.2M217.9 483.9h5.2M220.7 457.6V464.8M218.1 457.6h5.2M218.1 464.8h5.2M220.4 466.9V482.0M217.8 466.9h5.2M217.8 482.0h5.2M222.2 465.3V471.7M219.6 465.3h5.2M219.6 471.7h5.2M222.3 463.6V468.4M219.7 463.6h5.2M219.7 468.4h5.2M222.3 469.5V475.1M219.7 469.5h5.2M219.7 475.1h5.2M222.2 467.1V475.3M219.6 467.1h5.2M219.6 475.3h5.2M222.5 464.8V468.6M219.9 464.8h5.2M219.9 468.6h5.2M224.2 468.4V478.7M221.6 468.4h5.2M221.6 478.7h5.2M224.3 463.7V472.8M221.7 463.7h5.2M221.7 472.8h5.2M226.2 466.9V472.2M223.6 466.9h5.2M223.6 472.2h5.2M226.1 468.6V474.6M223.5 468.6h5.2M223.5 474.6h5.2M225.9 467.0V470.5M223.3 467.0h5.2M223.3 470.5h5.2M228.0 466.7V471.1M225.4 466.7h5.2M225.4 471.1h5.2M227.9 468.1V471.1M225.3 468.1h5.2M225.3 471.1h5.2M227.6 471.6V474.4M225.0 471.6h5.2M225.0 474.4h5.2M229.7 467.5V470.0M227.1 467.5h5.2M227.1 470.0h5.2M229.8 469.7V471.2M227.2 469.7h5.2M227.2 471.2h5.2M229.5 469.2V472.0M226.9 469.2h5.2M226.9 472.0h5.2M229.7 467.0V469.8M227.1 467.0h5.2M227.1 469.8h5.2M231.6 467.0V469.4M229.0 467.0h5.2M229.0 469.4h5.2M231.5 466.5V469.4M228.9 466.5h5.2M228.9 469.4h5.2M231.5 466.7V469.2M228.9 466.7h5.2M228.9 469.2h5.2M234.9 455.4V458.0M232.3 455.4h5.2M232.3 458.0h5.2M234.9 455.2V457.4M232.3 455.2h5.2M232.3 457.4h5.2M234.9 457.2V460.2M232.3 457.2h5.2M232.3 460.2h5.2M237.0 451.1V453.3M234.4 451.1h5.2M234.4 453.3h5.2M236.9 451.9V454.2M234.3 451.9h5.2M234.3 454.2h5.2M236.7 453.5V455.2M234.1 453.5h5.2M234.1 455.2h5.2M236.9 452.7V455.0M234.3 452.7h5.2M234.3 455.0h5.2M236.9 451.8V453.2M234.3 451.8h5.2M234.3 453.2h5.2M238.9 444.4V445.7M236.3 444.4h5.2M236.3 445.7h5.2M238.7 446.7V448.4M236.1 446.7h5.2M236.1 448.4h5.2M240.4 434.8V436.6M237.8 434.8h5.2M237.8 436.6h5.2M240.5 434.2V437.1M237.9 434.2h5.2M237.9 437.1h5.2M242.2 428.1V429.2M239.6 428.1h5.2M239.6 429.2h5.2M242.4 428.0V428.8M239.8 428.0h5.2M239.8 428.8h5.2M242.3 427.2V427.9M239.7 427.2h5.2M239.7 427.9h5.2M242.3 428.6V429.5M239.7 428.6h5.2M239.7 429.5h5.2M242.3 428.8V429.6M239.7 428.8h5.2M239.7 429.6h5.2M242.3 427.7V428.6M239.7 427.7h5.2M239.7 428.6h5.2M244.3 419.7V420.6M241.7 419.7h5.2M241.7 420.6h5.2M244.0 419.2V420.4M241.4 419.2h5.2M241.4 420.4h5.2M246.1 426.1V427.3M243.5 426.1h5.2M243.5 427.3h5.2M245.8 424.9V425.7M243.2 424.9h5.2M243.2 425.7h5.2M246.1 426.0V426.8M243.5 426.0h5.2M243.5 426.8h5.2M249.7 451.9V454.0M247.1 451.9h5.2M247.1 454.0h5.2M249.6 449.5V451.4M247.0 449.5h5.2M247.0 451.4h5.2M251.6 453.3V456.9M249.0 453.3h5.2M249.0 456.9h5.2M251.4 455.6V457.6M248.8 455.6h5.2M248.8 457.6h5.2M251.3 454.6V457.1M248.7 454.6h5.2M248.7 457.1h5.2M251.5 456.5V459.6M248.9 456.5h5.2M248.9 459.6h5.2M253.1 459.3V462.2M250.5 459.3h5.2M250.5 462.2h5.2M253.2 458.1V461.2M250.6 458.1h5.2M250.6 461.2h5.2M253.3 459.9V461.5M250.7 459.9h5.2M250.7 461.5h5.2M253.3 461.6V464.1M250.7 461.6h5.2M250.7 464.1h5.2M255.0 458.1V460.4M252.4 458.1h5.2M252.4 460.4h5.2M255.0 461.1V463.8M252.4 461.1h5.2M252.4 463.8h5.2M255.1 460.9V462.7M252.5 460.9h5.2M252.5 462.7h5.2M255.2 458.7V461.3M252.6 458.7h5.2M252.6 461.3h5.2M257.0 467.0V468.6M254.4 467.0h5.2M254.4 468.6h5.2M257.0 466.8V469.0M254.4 466.8h5.2M254.4 469.0h5.2M256.9 465.0V467.3M254.3 465.0h5.2M254.3 467.3h5.2M256.8 466.0V467.4M254.2 466.0h5.2M254.2 467.4h5.2M256.7 468.0V469.9M254.1 468.0h5.2M254.1 469.9h5.2M256.7 465.0V467.6M254.1 465.0h5.2M254.1 467.6h5.2M258.9 469.9V473.3M256.3 469.9h5.2M256.3 473.3h5.2M258.5 469.8V473.3M255.9 469.8h5.2M255.9 473.3h5.2M258.8 468.7V472.7M256.2 468.7h5.2M256.2 472.7h5.2M258.7 466.2V469.5M256.1 466.2h5.2M256.1 469.5h5.2M262.3 467.3V470.2M259.7 467.3h5.2M259.7 470.2h5.2M262.3 468.8V472.5M259.7 468.8h5.2M259.7 472.5h5.2M262.5 468.6V471.4M259.9 468.6h5.2M259.9 471.4h5.2M264.1 475.4V478.7M261.5 475.4h5.2M261.5 478.7h5.2M264.2 473.7V477.2M261.6 473.7h5.2M261.6 477.2h5.2M264.1 475.1V476.8M261.5 475.1h5.2M261.5 476.8h5.2M264.0 472.4V475.7M261.4 472.4h5.2M261.4 475.7h5.2M265.9 470.6V476.8M263.3 470.6h5.2M263.3 476.8h5.2M265.8 468.7V473.3M263.2 468.7h5.2M263.2 473.3h5.2M266.1 469.7V475.9M263.5 469.7h5.2M263.5 475.9h5.2M267.6 471.6V477.4M265.0 471.6h5.2M265.0 477.4h5.2M267.9 465.8V473.1M265.3 465.8h5.2M265.3 473.1h5.2M269.7 478.4V483.9M267.1 478.4h5.2M267.1 483.9h5.2M269.8 473.3V479.7M267.2 473.3h5.2M267.2 479.7h5.2M269.7 468.5V477.0M267.1 468.5h5.2M267.1 477.0h5.2M269.6 473.5V478.1M267.0 473.5h5.2M267.0 478.1h5.2M271.3 459.9V473.5M268.7 459.9h5.2M268.7 473.5h5.2M271.5 460.1V472.0M268.9 460.1h5.2M268.9 472.0h5.2M271.3 459.8V470.4M268.7 459.8h5.2M268.7 470.4h5.2M271.4 460.6V474.1M268.8 460.6h5.2M268.8 474.1h5.2M271.4 471.0V480.7M268.8 471.0h5.2M268.8 480.7h5.2M273.3 469.8V479.0M270.7 469.8h5.2M270.7 479.0h5.2M273.2 466.6V473.3M270.6 466.6h5.2M270.6 473.3h5.2M273.4 467.2V474.4M270.8 467.2h5.2M270.8 474.4h5.2M273.3 469.2V479.8M270.7 469.2h5.2M270.7 479.8h5.2M275.0 469.7V479.1M272.4 469.7h5.2M272.4 479.1h5.2M274.9 473.6V484.6M272.3 473.6h5.2M272.3 484.6h5.2M275.0 462.8V474.7M272.4 462.8h5.2M272.4 474.7h5.2M275.0 474.7V482.9M272.4 474.7h5.2M272.4 482.9h5.2M275.0 464.5V473.4M272.4 464.5h5.2M272.4 473.4h5.2M275.2 469.9V485.1M272.6 469.9h5.2M272.6 485.1h5.2M275.0 469.2V481.3M272.4 469.2h5.2M272.4 481.3h5.2M274.9 477.2V490.6M272.3 477.2h5.2M272.3 490.6h5.2M277.0 473.1V481.7M274.4 473.1h5.2M274.4 481.7h5.2M276.8 470.0V477.2M274.2 470.0h5.2M274.2 477.2h5.2M277.0 460.6V474.2M274.4 460.6h5.2M274.4 474.2h5.2M276.7 462.2V475.3M274.1 462.2h5.2M274.1 475.3h5.2M276.7 475.5V487.9M274.1 475.5h5.2M274.1 487.9h5.2M278.7 475.0V488.5M276.1 475.0h5.2M276.1 488.5h5.2M278.9 462.6V469.8M276.3 462.6h5.2M276.3 469.8h5.2M278.7 464.1V476.3M276.1 464.1h5.2M276.1 476.3h5.2M278.8 474.1V481.5M276.2 474.1h5.2M276.2 481.5h5.2M278.7 464.5V473.5M276.1 464.5h5.2M276.1 473.5h5.2M293.1 476.9V481.6M290.5 476.9h5.2M290.5 481.6h5.2M293.2 478.7V483.5M290.6 478.7h5.2M290.6 483.5h5.2M293.1 473.2V477.4M290.5 473.2h5.2M290.5 477.4h5.2M293.0 478.2V482.8M290.4 478.2h5.2M290.4 482.8h5.2M293.3 474.8V478.3M290.7 474.8h5.2M290.7 478.3h5.2M295.2 469.4V472.5M292.6 469.4h5.2M292.6 472.5h5.2M295.1 468.0V473.1M292.5 468.0h5.2M292.5 473.1h5.2M295.0 472.9V478.5M292.4 472.9h5.2M292.4 478.5h5.2M294.8 472.8V475.4M292.2 472.8h5.2M292.2 475.4h5.2M295.1 469.5V472.1M292.5 469.5h5.2M292.5 472.1h5.2M295.1 467.0V470.4M292.5 467.0h5.2M292.5 470.4h5.2M294.8 470.7V474.2M292.2 470.7h5.2M292.2 474.2h5.2M296.9 474.8V476.8M294.3 474.8h5.2M294.3 476.8h5.2M296.9 472.6V475.8M294.3 472.6h5.2M294.3 475.8h5.2M296.9 474.9V478.1M294.3 474.9h5.2M294.3 478.1h5.2M296.9 472.5V475.8M294.3 472.5h5.2M294.3 475.8h5.2M296.8 473.8V476.1M294.2 473.8h5.2M294.2 476.1h5.2M298.8 474.0V479.2M296.2 474.0h5.2M296.2 479.2h5.2M298.8 474.2V482.5M296.2 474.2h5.2M296.2 482.5h5.2M298.7 477.6V482.3M296.1 477.6h5.2M296.1 482.3h5.2M298.7 466.5V474.3M296.1 466.5h5.2M296.1 474.3h5.2M298.7 480.1V485.1M296.1 480.1h5.2M296.1 485.1h5.2M298.8 470.3V480.8M296.2 470.3h5.2M296.2 480.8h5.2M298.7 469.6V476.1M296.1 469.6h5.2M296.1 476.1h5.2M300.6 475.5V478.4M298.0 475.5h5.2M298.0 478.4h5.2M300.6 480.0V482.2M298.0 480.0h5.2M298.0 482.2h5.2M300.6 477.2V479.1M298.0 477.2h5.2M298.0 479.1h5.2M300.4 478.4V482.2M297.8 478.4h5.2M297.8 482.2h5.2M300.6 478.7V482.2M298.0 478.7h5.2M298.0 482.2h5.2M302.3 469.7V476.1M299.7 469.7h5.2M299.7 476.1h5.2M302.3 472.4V478.2M299.7 472.4h5.2M299.7 478.2h5.2M302.4 477.0V480.2M299.8 477.0h5.2M299.8 480.2h5.2M302.3 473.1V476.5M299.7 473.1h5.2M299.7 476.5h5.2M302.3 475.6V481.4M299.7 475.6h5.2M299.7 481.4h5.2M302.2 473.6V479.2M299.6 473.6h5.2M299.6 479.2h5.2M302.4 467.1V474.3M299.8 467.1h5.2M299.8 474.3h5.2M302.2 471.4V475.2M299.6 471.4h5.2M299.6 475.2h5.2M304.2 472.9V481.5M301.6 472.9h5.2M301.6 481.5h5.2M304.2 469.3V474.9M301.6 469.3h5.2M301.6 474.9h5.2M304.1 464.8V469.9M301.5 464.8h5.2M301.5 469.9h5.2M304.1 463.2V468.2M301.5 463.2h5.2M301.5 468.2h5.2M304.2 465.9V472.6M301.6 465.9h5.2M301.6 472.6h5.2M304.2 463.6V471.3M301.6 463.6h5.2M301.6 471.3h5.2M306.0 473.7V478.8M303.4 473.7h5.2M303.4 478.8h5.2M305.8 475.8V480.2M303.2 475.8h5.2M303.2 480.2h5.2M306.1 474.4V477.2M303.5 474.4h5.2M303.5 477.2h5.2M306.0 472.3V477.2M303.4 472.3h5.2M303.4 477.2h5.2M305.8 471.3V475.8M303.2 471.3h5.2M303.2 475.8h5.2M305.9 476.9V482.4M303.3 476.9h5.2M303.3 482.4h5.2M305.7 470.3V475.8M303.1 470.3h5.2M303.1 475.8h5.2M309.7 467.3V475.9M307.1 467.3h5.2M307.1 475.9h5.2M309.6 468.2V477.9M307.0 468.2h5.2M307.0 477.9h5.2M309.4 471.6V478.1M306.8 471.6h5.2M306.8 478.1h5.2M309.7 468.1V473.8M307.1 468.1h5.2M307.1 473.8h5.2M309.4 469.8V481.5M306.8 469.8h5.2M306.8 481.5h5.2M309.4 470.4V479.2M306.8 470.4h5.2M306.8 479.2h5.2M309.6 467.3V476.0M307.0 467.3h5.2M307.0 476.0h5.2M309.6 470.1V478.8M307.0 470.1h5.2M307.0 478.8h5.2M311.2 462.3V470.9M308.6 462.3h5.2M308.6 470.9h5.2M311.5 465.4V473.3M308.9 465.4h5.2M308.9 473.3h5.2M311.5 469.0V481.6M308.9 469.0h5.2M308.9 481.6h5.2M311.4 477.1V486.7M308.8 477.1h5.2M308.8 486.7h5.2M311.5 472.7V479.6M308.9 472.7h5.2M308.9 479.6h5.2M311.2 473.4V482.7M308.6 473.4h5.2M308.6 482.7h5.2M311.2 466.9V475.8M308.6 466.9h5.2M308.6 475.8h5.2M311.4 473.5V484.5M308.8 473.5h5.2M308.8 484.5h5.2M313.2 468.2V481.9M310.6 468.2h5.2M310.6 481.9h5.2M313.0 471.5V483.8M310.4 471.5h5.2M310.4 483.8h5.2M313.2 469.4V482.5M310.6 469.4h5.2M310.6 482.5h5.2M313.0 463.2V473.3M310.4 463.2h5.2M310.4 473.3h5.2M313.2 471.8V482.9M310.6 471.8h5.2M310.6 482.9h5.2M313.0 465.7V475.9M310.4 465.7h5.2M310.4 475.9h5.2M313.3 479.0V487.7M310.7 479.0h5.2M310.7 487.7h5.2M314.9 465.9V474.3M312.3 465.9h5.2M312.3 474.3h5.2M315.0 465.0V477.9M312.4 465.0h5.2M312.4 477.9h5.2M315.0 463.9V476.2M312.4 463.9h5.2M312.4 476.2h5.2M315.0 467.4V474.7M312.4 467.4h5.2M312.4 474.7h5.2M314.9 466.4V477.1M312.3 466.4h5.2M312.3 477.1h5.2M314.8 466.3V472.0M312.2 466.3h5.2M312.2 472.0h5.2M316.7 471.9V483.2M314.1 471.9h5.2M314.1 483.2h5.2M316.8 471.0V479.0M314.2 471.0h5.2M314.2 479.0h5.2M317.0 470.7V480.8M314.4 470.7h5.2M314.4 480.8h5.2M316.7 456.0V472.2M314.1 456.0h5.2M314.1 472.2h5.2M316.9 475.5V490.4M314.3 475.5h5.2M314.3 490.4h5.2M317.0 465.6V478.0M314.4 465.6h5.2M314.4 478.0h5.2M317.0 462.8V479.4M314.4 462.8h5.2M314.4 479.4h5.2M316.8 463.5V476.9M314.2 463.5h5.2M314.2 476.9h5.2M318.7 464.6V480.9M316.1 464.6h5.2M316.1 480.9h5.2M318.5 466.3V482.8M315.9 466.3h5.2M315.9 482.8h5.2M318.6 472.0V480.2M316.0 472.0h5.2M316.0 480.2h5.2M318.8 465.4V477.7M316.2 465.4h5.2M316.2 477.7h5.2M318.7 465.3V474.4M316.1 465.3h5.2M316.1 474.4h5.2M318.5 465.0V481.4M315.9 465.0h5.2M315.9 481.4h5.2M320.3 478.8V488.9M317.7 478.8h5.2M317.7 488.9h5.2M320.6 477.8V486.3M318.0 477.8h5.2M318.0 486.3h5.2M320.3 461.7V472.6M317.7 461.7h5.2M317.7 472.6h5.2M320.6 470.7V481.5M318.0 470.7h5.2M318.0 481.5h5.2M320.4 475.8V482.9M317.8 475.8h5.2M317.8 482.9h5.2M320.5 470.2V477.6M317.9 470.2h5.2M317.9 477.6h5.2M320.4 472.0V481.7M317.8 472.0h5.2M317.8 481.7h5.2M320.3 472.2V485.2M317.7 472.2h5.2M317.7 485.2h5.2M322.3 463.6V475.9M319.7 463.6h5.2M319.7 475.9h5.2M322.4 471.8V484.8M319.8 471.8h5.2M319.8 484.8h5.2M322.3 474.5V480.8M319.7 474.5h5.2M319.7 480.8h5.2M322.2 471.6V483.5M319.6 471.6h5.2M319.6 483.5h5.2M322.1 465.2V471.4M319.5 465.2h5.2M319.5 471.4h5.2M322.2 467.8V477.0M319.6 467.8h5.2M319.6 477.0h5.2M322.5 471.3V481.2M319.9 471.3h5.2M319.9 481.2h5.2M322.4 461.8V468.8M319.8 461.8h5.2M319.8 468.8h5.2M324.0 472.0V479.3M321.4 472.0h5.2M321.4 479.3h5.2M324.1 464.6V476.2M321.5 464.6h5.2M321.5 476.2h5.2M324.1 472.7V487.2M321.5 472.7h5.2M321.5 487.2h5.2M324.0 464.6V475.0M321.4 464.6h5.2M321.4 475.0h5.2M323.9 470.0V481.1M321.3 470.0h5.2M321.3 481.1h5.2M326.1 470.0V478.5M323.5 470.0h5.2M323.5 478.5h5.2M325.9 471.5V482.9M323.3 471.5h5.2M323.3 482.9h5.2M325.7 458.4V473.6M323.1 458.4h5.2M323.1 473.6h5.2M326.0 458.4V469.9M323.4 458.4h5.2M323.4 469.9h5.2M325.8 463.0V477.7M323.2 463.0h5.2M323.2 477.7h5.2M326.1 458.4V469.7M323.5 458.4h5.2M323.5 469.7h5.2M333.3 471.3V475.3M330.7 471.3h5.2M330.7 475.3h5.2M333.1 477.9V485.3M330.5 477.9h5.2M330.5 485.3h5.2M333.1 470.4V476.5M330.5 470.4h5.2M330.5 476.5h5.2M333.1 473.2V479.1M330.5 473.2h5.2M330.5 479.1h5.2M333.2 479.4V485.3M330.6 479.4h5.2M330.6 485.3h5.2M335.1 472.9V483.4M332.5 472.9h5.2M332.5 483.4h5.2M335.1 470.9V477.0M332.5 470.9h5.2M332.5 477.0h5.2M334.8 461.9V470.5M332.2 461.9h5.2M332.2 470.5h5.2M334.9 464.7V471.5M332.3 464.7h5.2M332.3 471.5h5.2M334.8 473.6V481.5M332.2 473.6h5.2M332.2 481.5h5.2M334.9 469.6V479.3M332.3 469.6h5.2M332.3 479.3h5.2M335.1 473.0V482.4M332.5 473.0h5.2M332.5 482.4h5.2M338.6 473.8V483.7M336.0 473.8h5.2M336.0 483.7h5.2M338.5 475.7V481.4M335.9 475.7h5.2M335.9 481.4h5.2M338.5 468.7V474.0M335.9 468.7h5.2M335.9 474.0h5.2M338.6 471.6V480.0M336.0 471.6h5.2M336.0 480.0h5.2M338.8 466.2V474.6M336.2 466.2h5.2M336.2 474.6h5.2M338.8 471.7V476.4M336.2 471.7h5.2M336.2 476.4h5.2M338.5 468.8V479.0M335.9 468.8h5.2M335.9 479.0h5.2M340.6 467.0V473.0M338.0 467.0h5.2M338.0 473.0h5.2M340.3 471.2V477.8M337.7 471.2h5.2M337.7 477.8h5.2M340.5 466.4V472.5M337.9 466.4h5.2M337.9 472.5h5.2M340.4 465.3V470.6M337.8 465.3h5.2M337.8 470.6h5.2M340.5 473.7V480.7M337.9 473.7h5.2M337.9 480.7h5.2M340.6 475.7V483.4M338.0 475.7h5.2M338.0 483.4h5.2M347.9 475.9V480.2M345.3 475.9h5.2M345.3 480.2h5.2M347.8 474.1V478.1M345.2 474.1h5.2M345.2 478.1h5.2M347.6 469.3V474.9M345.0 469.3h5.2M345.0 474.9h5.2M347.6 475.7V481.0M345.0 475.7h5.2M345.0 481.0h5.2M347.9 468.5V474.3M345.3 468.5h5.2M345.3 474.3h5.2M347.6 470.9V474.6M345.0 470.9h5.2M345.0 474.6h5.2M349.5 471.4V478.2M346.9 471.4h5.2M346.9 478.2h5.2M349.4 473.5V480.2M346.8 473.5h5.2M346.8 480.2h5.2M349.6 475.4V481.5M347.0 475.4h5.2M347.0 481.5h5.2M349.6 469.0V474.2M347.0 469.0h5.2M347.0 474.2h5.2M349.7 468.9V475.4M347.1 468.9h5.2M347.1 475.4h5.2M351.4 475.8V486.8M348.8 475.8h5.2M348.8 486.8h5.2M351.3 462.9V468.8M348.7 462.9h5.2M348.7 468.8h5.2M351.3 469.8V479.1M348.7 469.8h5.2M348.7 479.1h5.2M351.2 476.0V486.8M348.6 476.0h5.2M348.6 486.8h5.2M351.2 462.9V471.7M348.6 462.9h5.2M348.6 471.7h5.2M351.2 468.5V473.9M348.6 468.5h5.2M348.6 473.9h5.2M351.4 471.1V481.8M348.8 471.1h5.2M348.8 481.8h5.2M351.4 477.5V486.3M348.8 477.5h5.2M348.8 486.3h5.2M353.4 473.1V480.6M350.8 473.1h5.2M350.8 480.6h5.2M353.2 468.3V474.0M350.6 468.3h5.2M350.6 474.0h5.2M353.3 469.8V473.5M350.7 469.8h5.2M350.7 473.5h5.2M353.1 471.9V475.9M350.5 471.9h5.2M350.5 475.9h5.2M353.1 469.9V476.3M350.5 469.9h5.2M350.5 476.3h5.2M365.8 461.1V470.6M363.2 461.1h5.2M363.2 470.6h5.2M365.9 457.2V468.3M363.3 457.2h5.2M363.3 468.3h5.2M365.7 455.9V469.6M363.1 455.9h5.2M363.1 469.6h5.2M365.9 460.4V471.4M363.3 460.4h5.2M363.3 471.4h5.2M365.8 456.9V470.3M363.2 456.9h5.2M363.2 470.3h5.2M367.8 466.9V482.1M365.2 466.9h5.2M365.2 482.1h5.2M367.7 454.5V466.7M365.1 454.5h5.2M365.1 466.7h5.2M367.7 453.5V464.6M365.1 453.5h5.2M365.1 464.6h5.2M367.8 469.6V483.9M365.2 469.6h5.2M365.2 483.9h5.2M367.5 454.4V471.5M364.9 454.4h5.2M364.9 471.5h5.2M367.8 455.6V466.6M365.2 455.6h5.2M365.2 466.6h5.2M367.8 448.9V458.4M365.2 448.9h5.2M365.2 458.4h5.2M367.8 474.1V487.6M365.2 474.1h5.2M365.2 487.6h5.2M369.5 456.2V471.5M366.9 456.2h5.2M366.9 471.5h5.2M369.7 458.0V467.8M367.1 458.0h5.2M367.1 467.8h5.2M369.7 465.9V476.4M367.1 465.9h5.2M367.1 476.4h5.2M369.3 458.4V468.4M366.7 458.4h5.2M366.7 468.4h5.2M369.6 458.3V475.6M367.0 458.3h5.2M367.0 475.6h5.2M371.4 460.9V467.9M368.8 460.9h5.2M368.8 467.9h5.2M371.5 470.1V479.7M368.9 470.1h5.2M368.9 479.7h5.2M371.2 471.5V479.9M368.6 471.5h5.2M368.6 479.9h5.2M371.2 467.1V479.4M368.6 467.1h5.2M368.6 479.4h5.2M371.5 459.3V466.3M368.9 459.3h5.2M368.9 466.3h5.2M371.3 466.1V473.9M368.7 466.1h5.2M368.7 473.9h5.2M371.2 468.7V475.7M368.6 468.7h5.2M368.6 475.7h5.2M373.0 473.6V479.7M370.4 473.6h5.2M370.4 479.7h5.2M373.3 472.3V479.7M370.7 472.3h5.2M370.7 479.7h5.2M373.2 464.2V471.1M370.6 464.2h5.2M370.6 471.1h5.2M373.0 463.6V474.0M370.4 463.6h5.2M370.4 474.0h5.2M373.1 466.3V475.5M370.5 466.3h5.2M370.5 475.5h5.2M373.2 472.8V477.7M370.6 472.8h5.2M370.6 477.7h5.2M373.1 463.9V473.4M370.5 463.9h5.2M370.5 473.4h5.2M373.3 464.8V475.6M370.7 464.8h5.2M370.7 475.6h5.2M375.1 469.0V474.3M372.5 469.0h5.2M372.5 474.3h5.2M375.1 476.4V480.3M372.5 476.4h5.2M372.5 480.3h5.2M374.9 468.1V474.8M372.3 468.1h5.2M372.3 474.8h5.2M374.9 473.2V480.9M372.3 473.2h5.2M372.3 480.9h5.2M374.8 468.4V473.3M372.2 468.4h5.2M372.2 473.3h5.2M375.0 469.5V473.7M372.4 469.5h5.2M372.4 473.7h5.2M375.0 474.0V478.2M372.4 474.0h5.2M372.4 478.2h5.2M377.0 475.8V480.1M374.4 475.8h5.2M374.4 480.1h5.2M376.9 476.5V480.5M374.3 476.5h5.2M374.3 480.5h5.2M376.7 473.9V476.9M374.1 473.9h5.2M374.1 476.9h5.2M376.8 471.4V475.8M374.2 471.4h5.2M374.2 475.8h5.2M376.6 471.5V475.8M374.0 471.5h5.2M374.0 475.8h5.2M376.7 472.5V478.1M374.1 472.5h5.2M374.1 478.1h5.2M376.9 471.6V476.3M374.3 471.6h5.2M374.3 476.3h5.2M378.6 469.7V475.9M376.0 469.7h5.2M376.0 475.9h5.2M378.6 473.5V478.2M376.0 473.5h5.2M376.0 478.2h5.2M378.5 471.6V478.0M375.9 471.6h5.2M375.9 478.0h5.2M378.5 475.1V479.2M375.9 475.1h5.2M375.9 479.2h5.2M378.8 471.8V476.0M376.2 471.8h5.2M376.2 476.0h5.2M378.6 470.6V477.5M376.0 470.6h5.2M376.0 477.5h5.2M380.5 470.4V475.0M377.9 470.4h5.2M377.9 475.0h5.2M380.3 473.0V476.9M377.7 473.0h5.2M377.7 476.9h5.2M380.2 468.8V476.9M377.6 468.8h5.2M377.6 476.9h5.2M380.3 473.1V480.9M377.7 473.1h5.2M377.7 480.9h5.2M380.4 465.4V471.3M377.8 465.4h5.2M377.8 471.3h5.2M382.4 478.0V486.2M379.8 478.0h5.2M379.8 486.2h5.2M382.1 469.9V476.7M379.5 469.9h5.2M379.5 476.7h5.2M382.3 467.4V475.5M379.7 467.4h5.2M379.7 475.5h5.2M382.2 465.0V475.1M379.6 465.0h5.2M379.6 475.1h5.2M382.2 468.1V477.3M379.6 468.1h5.2M379.6 477.3h5.2M382.4 475.7V484.4M379.8 475.7h5.2M379.8 484.4h5.2M384.0 467.8V471.0M381.4 467.8h5.2M381.4 471.0h5.2M384.2 470.7V472.9M381.6 470.7h5.2M381.6 472.9h5.2M383.9 471.7V473.6M381.3 471.7h5.2M381.3 473.6h5.2M384.0 466.8V469.7M381.4 466.8h5.2M381.4 469.7h5.2M383.9 469.0V472.3M381.3 469.0h5.2M381.3 472.3h5.2M383.9 471.5V474.4M381.3 471.5h5.2M381.3 474.4h5.2M386.0 470.0V475.7M383.4 470.0h5.2M383.4 475.7h5.2M386.0 469.5V477.1M383.4 469.5h5.2M383.4 477.1h5.2M385.8 470.2V476.8M383.2 470.2h5.2M383.2 476.8h5.2M385.9 470.3V475.4M383.3 470.3h5.2M383.3 475.4h5.2M386.1 472.3V476.2M383.5 472.3h5.2M383.5 476.2h5.2M385.9 471.9V478.5M383.3 471.9h5.2M383.3 478.5h5.2M387.7 476.4V482.0M385.1 476.4h5.2M385.1 482.0h5.2M387.6 467.1V473.0M385.0 467.1h5.2M385.0 473.0h5.2M387.7 474.5V479.4M385.1 474.5h5.2M385.1 479.4h5.2M387.7 470.5V475.7M385.1 470.5h5.2M385.1 475.7h5.2M387.8 470.2V476.1M385.2 470.2h5.2M385.2 476.1h5.2M387.7 473.2V479.5M385.1 473.2h5.2M385.1 479.5h5.2M389.6 468.3V471.1M387.0 468.3h5.2M387.0 471.1h5.2M389.7 468.8V472.7M387.1 468.8h5.2M387.1 472.7h5.2M389.5 472.8V477.9M386.9 472.8h5.2M386.9 477.9h5.2M389.3 473.3V476.4M386.7 473.3h5.2M386.7 476.4h5.2M389.7 473.1V475.9M387.1 473.1h5.2M387.1 475.9h5.2M389.4 471.6V474.7M386.8 471.6h5.2M386.8 474.7h5.2M389.7 470.4V475.3M387.1 470.4h5.2M387.1 475.3h5.2M389.4 468.5V472.8M386.8 468.5h5.2M386.8 472.8h5.2M391.3 471.7V474.8M388.7 471.7h5.2M388.7 474.8h5.2M391.5 474.5V477.3M388.9 474.5h5.2M388.9 477.3h5.2M391.4 467.1V473.3M388.8 467.1h5.2M388.8 473.3h5.2M391.4 472.1V475.3M388.8 472.1h5.2M388.8 475.3h5.2M391.2 470.5V476.7M388.6 470.5h5.2M388.6 476.7h5.2M391.2 467.8V470.9M388.6 467.8h5.2M388.6 470.9h5.2M391.2 470.7V474.2M388.6 470.7h5.2M388.6 474.2h5.2M393.1 470.9V475.8M390.5 470.9h5.2M390.5 475.8h5.2M393.3 474.3V480.7M390.7 474.3h5.2M390.7 480.7h5.2M393.3 471.3V474.4M390.7 471.3h5.2M390.7 474.4h5.2M393.0 473.3V477.7M390.4 473.3h5.2M390.4 477.7h5.2M393.0 469.2V475.3M390.4 469.2h5.2M390.4 475.3h5.2M394.8 471.9V479.8M392.2 471.9h5.2M392.2 479.8h5.2M395.1 469.8V479.7M392.5 469.8h5.2M392.5 479.7h5.2M394.9 466.8V476.7M392.3 466.8h5.2M392.3 476.7h5.2M395.1 474.1V483.0M392.5 474.1h5.2M392.5 483.0h5.2M395.1 467.8V475.8M392.5 467.8h5.2M392.5 475.8h5.2M395.1 463.2V468.2M392.5 463.2h5.2M392.5 468.2h5.2M394.8 468.0V473.5M392.2 468.0h5.2M392.2 473.5h5.2M394.9 472.7V478.7M392.3 472.7h5.2M392.3 478.7h5.2M396.8 469.0V477.2M394.2 469.0h5.2M394.2 477.2h5.2M396.8 472.6V478.6M394.2 472.6h5.2M394.2 478.6h5.2M396.8 467.7V475.7M394.2 467.7h5.2M394.2 475.7h5.2M396.8 477.0V480.9M394.2 477.0h5.2M394.2 480.9h5.2M396.7 473.0V479.1M394.1 473.0h5.2M394.1 479.1h5.2M396.6 467.1V475.2M394.0 467.1h5.2M394.0 475.2h5.2M396.6 469.0V472.9M394.0 469.0h5.2M394.0 472.9h5.2M398.8 472.3V478.9M396.2 472.3h5.2M396.2 478.9h5.2M398.8 473.0V477.1M396.2 473.0h5.2M396.2 477.1h5.2M398.6 474.9V480.7M396.0 474.9h5.2M396.0 480.7h5.2M398.8 470.6V477.1M396.2 470.6h5.2M396.2 477.1h5.2M398.5 476.4V481.4M395.9 476.4h5.2M395.9 481.4h5.2M398.6 471.5V475.7M396.0 471.5h5.2M396.0 475.7h5.2M398.4 470.0V476.1M395.8 470.0h5.2M395.8 476.1h5.2M398.5 474.3V477.7M395.9 474.3h5.2M395.9 477.7h5.2M400.5 467.1V472.9M397.9 467.1h5.2M397.9 472.9h5.2M400.4 471.8V476.0M397.8 471.8h5.2M397.8 476.0h5.2M400.5 471.0V478.9M397.9 471.0h5.2M397.9 478.9h5.2M400.4 475.3V481.0M397.8 475.3h5.2M397.8 481.0h5.2M400.6 472.4V479.0M398.0 472.4h5.2M398.0 479.0h5.2M400.5 473.4V481.1M397.9 473.4h5.2M397.9 481.1h5.2M400.3 470.3V476.9M397.7 470.3h5.2M397.7 476.9h5.2M400.5 473.0V480.4M397.9 473.0h5.2M397.9 480.4h5.2M402.4 471.1V476.4M399.8 471.1h5.2M399.8 476.4h5.2M402.4 463.4V470.0M399.8 463.4h5.2M399.8 470.0h5.2M402.1 467.1V470.9M399.5 467.1h5.2M399.5 470.9h5.2M402.3 470.1V478.3M399.7 470.1h5.2M399.7 478.3h5.2M402.1 471.6V475.3M399.5 471.6h5.2M399.5 475.3h5.2M402.4 467.1V474.5M399.8 467.1h5.2M399.8 474.5h5.2M404.0 467.3V473.1M401.4 467.3h5.2M401.4 473.1h5.2M404.1 469.4V476.3M401.5 469.4h5.2M401.5 476.3h5.2M404.0 473.2V478.3M401.4 473.2h5.2M401.4 478.3h5.2M403.9 475.1V480.7M401.3 475.1h5.2M401.3 480.7h5.2M404.2 474.8V481.9M401.6 474.8h5.2M401.6 481.9h5.2M404.0 474.1V481.4M401.4 474.1h5.2M401.4 481.4h5.2M404.2 473.9V481.8M401.6 473.9h5.2M401.6 481.8h5.2M405.9 477.4V484.5M403.3 477.4h5.2M403.3 484.5h5.2M405.8 478.8V482.9M403.2 478.8h5.2M403.2 482.9h5.2M405.9 476.5V484.5M403.3 476.5h5.2M403.3 484.5h5.2M405.9 472.2V477.4M403.3 472.2h5.2M403.3 477.4h5.2M405.8 477.1V481.6M403.2 477.1h5.2M403.2 481.6h5.2M406.0 473.4V477.6M403.4 473.4h5.2M403.4 477.6h5.2M406.0 476.1V484.5M403.4 476.1h5.2M403.4 484.5h5.2M406.0 469.2V475.6M403.4 469.2h5.2M403.4 475.6h5.2M407.8 474.1V480.7M405.2 474.1h5.2M405.2 480.7h5.2M407.7 469.4V475.4M405.1 469.4h5.2M405.1 475.4h5.2M407.7 473.8V478.3M405.1 473.8h5.2M405.1 478.3h5.2M407.5 473.3V476.7M404.9 473.3h5.2M404.9 476.7h5.2M407.7 471.8V476.5M405.1 471.8h5.2M405.1 476.5h5.2M407.8 471.3V474.8M405.2 471.3h5.2M405.2 474.8h5.2M409.6 474.5V478.4M407.0 474.5h5.2M407.0 478.4h5.2M409.4 473.9V479.9M406.8 473.9h5.2M406.8 479.9h5.2M409.5 477.6V483.4M406.9 477.6h5.2M406.9 483.4h5.2M409.6 479.1V484.3M407.0 479.1h5.2M407.0 484.3h5.2M409.5 476.7V485.4M406.9 476.7h5.2M406.9 485.4h5.2M409.6 467.6V476.4M407.0 467.6h5.2M407.0 476.4h5.2M411.3 469.0V475.1M408.7 469.0h5.2M408.7 475.1h5.2M411.2 471.4V480.4M408.6 471.4h5.2M408.6 480.4h5.2M411.2 473.7V478.3M408.6 473.7h5.2M408.6 478.3h5.2M411.3 464.1V470.8M408.7 464.1h5.2M408.7 470.8h5.2M411.5 469.4V474.3M408.9 469.4h5.2M408.9 474.3h5.2M411.2 467.0V473.8M408.6 467.0h5.2M408.6 473.8h5.2M411.2 474.5V479.5M408.6 474.5h5.2M408.6 479.5h5.2M413.0 473.1V484.3M410.4 473.1h5.2M410.4 484.3h5.2M413.2 467.8V483.7M410.6 467.8h5.2M410.6 483.7h5.2M413.1 473.3V487.9M410.5 473.3h5.2M410.5 487.9h5.2M413.0 462.1V477.4M410.4 462.1h5.2M410.4 477.4h5.2M413.3 458.8V468.8M410.7 458.8h5.2M410.7 468.8h5.2M413.3 470.0V482.7M410.7 470.0h5.2M410.7 482.7h5.2M413.1 467.0V475.7M410.5 467.0h5.2M410.5 475.7h5.2M413.1 472.1V481.1M410.5 472.1h5.2M410.5 481.1h5.2M415.0 467.7V474.1M412.4 467.7h5.2M412.4 474.1h5.2M415.1 473.6V480.1M412.5 473.6h5.2M412.5 480.1h5.2M415.1 466.4V477.1M412.5 466.4h5.2M412.5 477.1h5.2M414.8 469.5V479.5M412.2 469.5h5.2M412.2 479.5h5.2M414.9 466.3V472.7M412.3 466.3h5.2M412.3 472.7h5.2M414.9 474.7V480.0M412.3 474.7h5.2M412.3 480.0h5.2M414.8 474.3V483.3M412.2 474.3h5.2M412.2 483.3h5.2M415.0 461.4V472.5M412.4 461.4h5.2M412.4 472.5h5.2M416.7 470.9V483.6M414.1 470.9h5.2M414.1 483.6h5.2M416.8 462.9V476.0M414.2 462.9h5.2M414.2 476.0h5.2M416.8 470.7V481.6M414.2 470.7h5.2M414.2 481.6h5.2M416.9 469.6V483.2M414.3 469.6h5.2M414.3 483.2h5.2M416.8 466.8V476.1M414.2 466.8h5.2M414.2 476.1h5.2M418.5 465.7V472.4M415.9 465.7h5.2M415.9 472.4h5.2M418.6 468.9V479.3M416.0 468.9h5.2M416.0 479.3h5.2M418.5 466.6V473.6M415.9 466.6h5.2M415.9 473.6h5.2M418.6 463.5V476.2M416.0 463.5h5.2M416.0 476.2h5.2M418.4 467.4V479.2M415.8 467.4h5.2M415.8 479.2h5.2M420.5 468.4V478.3M417.9 468.4h5.2M417.9 478.3h5.2M420.3 467.0V476.0M417.7 467.0h5.2M417.7 476.0h5.2M420.2 473.3V484.8M417.6 473.3h5.2M417.6 484.8h5.2M420.4 475.3V482.9M417.8 475.3h5.2M417.8 482.9h5.2M420.3 464.4V473.4M417.7 464.4h5.2M417.7 473.4h5.2M420.3 476.4V488.1M417.7 476.4h5.2M417.7 488.1h5.2M422.3 472.2V485.0M419.7 472.2h5.2M419.7 485.0h5.2M422.1 465.0V471.7M419.5 465.0h5.2M419.5 471.7h5.2M422.1 461.8V468.6M419.5 461.8h5.2M419.5 468.6h5.2M422.1 464.1V477.2M419.5 464.1h5.2M419.5 477.2h5.2M422.3 475.2V487.2M419.7 475.2h5.2M419.7 487.2h5.2M422.2 470.5V478.2M419.6 470.5h5.2M419.6 478.2h5.2M422.3 461.7V468.3M419.7 461.7h5.2M419.7 468.3h5.2M423.9 461.3V468.9M421.3 461.3h5.2M421.3 468.9h5.2M424.2 480.4V487.9M421.6 480.4h5.2M421.6 487.9h5.2M424.0 478.9V487.8M421.4 478.9h5.2M421.4 487.8h5.2M423.9 474.0V488.8M421.3 474.0h5.2M421.3 488.8h5.2M424.2 477.5V488.8M421.6 477.5h5.2M421.6 488.8h5.2M424.0 470.9V485.1M421.4 470.9h5.2M421.4 485.1h5.2M425.8 461.8V470.7M423.2 461.8h5.2M423.2 470.7h5.2M425.8 467.8V475.2M423.2 467.8h5.2M423.2 475.2h5.2M425.9 461.8V473.3M423.3 461.8h5.2M423.3 473.3h5.2M425.9 474.1V482.7M423.3 474.1h5.2M423.3 482.7h5.2M425.7 477.3V486.4M423.1 477.3h5.2M423.1 486.4h5.2M425.7 470.1V477.2M423.1 470.1h5.2M423.1 477.2h5.2M425.7 468.1V475.3M423.1 468.1h5.2M423.1 475.3h5.2M427.5 478.0V487.2M424.9 478.0h5.2M424.9 487.2h5.2M427.5 474.6V483.7M424.9 474.6h5.2M424.9 483.7h5.2M427.8 464.8V475.6M425.2 464.8h5.2M425.2 475.6h5.2M427.7 472.1V480.1M425.1 472.1h5.2M425.1 480.1h5.2M427.8 472.0V479.2M425.2 472.0h5.2M425.2 479.2h5.2M431.2 463.4V473.9M428.6 463.4h5.2M428.6 473.9h5.2M431.3 462.9V472.6M428.7 462.9h5.2M428.7 472.6h5.2M431.4 472.3V482.3M428.8 472.3h5.2M428.8 482.3h5.2M431.4 463.3V473.3M428.8 463.3h5.2M428.8 473.3h5.2M431.3 463.2V471.8M428.7 463.2h5.2M428.7 471.8h5.2M431.3 466.6V472.3M428.7 466.6h5.2M428.7 472.3h5.2M433.0 482.5V491.3M430.4 482.5h5.2M430.4 491.3h5.2M433.2 467.3V484.8M430.6 467.3h5.2M430.6 484.8h5.2M433.3 469.2V484.4M430.7 469.2h5.2M430.7 484.4h5.2M433.2 483.0V492.5M430.6 483.0h5.2M430.6 492.5h5.2M433.0 467.3V480.1M430.4 467.3h5.2M430.4 480.1h5.2M433.0 468.0V484.6M430.4 468.0h5.2M430.4 484.6h5.2M435.0 465.6V478.8M432.4 465.6h5.2M432.4 478.8h5.2M435.0 465.1V474.6M432.4 465.1h5.2M432.4 474.6h5.2M434.8 468.6V480.5M432.2 468.6h5.2M432.2 480.5h5.2M435.0 469.3V480.4M432.4 469.3h5.2M432.4 480.4h5.2M435.1 464.7V473.6M432.5 464.7h5.2M432.5 473.6h5.2M435.0 467.8V479.6M432.4 467.8h5.2M432.4 479.6h5.2M434.8 468.0V476.9M432.2 468.0h5.2M432.2 476.9h5.2M437.0 470.1V478.2M434.4 470.1h5.2M434.4 478.2h5.2M436.6 470.5V475.9M434.0 470.5h5.2M434.0 475.9h5.2M436.7 470.7V479.2M434.1 470.7h5.2M434.1 479.2h5.2M436.8 469.2V475.7M434.2 469.2h5.2M434.2 475.7h5.2M436.6 470.8V477.4M434.0 470.8h5.2M434.0 477.4h5.2M438.5 466.8V474.4M435.9 466.8h5.2M435.9 474.4h5.2M438.7 474.3V481.2M436.1 474.3h5.2M436.1 481.2h5.2M438.5 474.4V485.0M435.9 474.4h5.2M435.9 485.0h5.2M438.6 470.2V476.4M436.0 470.2h5.2M436.0 476.4h5.2M438.6 479.6V485.0M436.0 479.6h5.2M436.0 485.0h5.2M438.6 473.7V479.0M436.0 473.7h5.2M436.0 479.0h5.2M438.7 472.5V481.8M436.1 472.5h5.2M436.1 481.8h5.2M438.4 475.1V482.0M435.8 475.1h5.2M435.8 482.0h5.2M440.4 475.5V481.2M437.8 475.5h5.2M437.8 481.2h5.2M440.4 472.7V480.8M437.8 472.7h5.2M437.8 480.8h5.2M440.3 473.6V481.4M437.7 473.6h5.2M437.7 481.4h5.2M440.2 478.9V489.5M437.6 478.9h5.2M437.6 489.5h5.2M440.2 471.0V480.1M437.6 471.0h5.2M437.6 480.1h5.2M442.1 457.5V466.1M439.5 457.5h5.2M439.5 466.1h5.2M442.3 471.8V482.6M439.7 471.8h5.2M439.7 482.6h5.2M442.1 458.8V467.6M439.5 458.8h5.2M439.5 467.6h5.2M442.2 464.5V471.1M439.6 464.5h5.2M439.6 471.1h5.2M442.1 462.2V475.2M439.5 462.2h5.2M439.5 475.2h5.2M442.2 459.0V471.3M439.6 459.0h5.2M439.6 471.3h5.2M442.3 458.9V472.9M439.7 458.9h5.2M439.7 472.9h5.2M444.2 457.7V468.3M441.6 457.7h5.2M441.6 468.3h5.2M443.9 458.9V466.0M441.3 458.9h5.2M441.3 466.0h5.2M443.9 465.1V472.3M441.3 465.1h5.2M441.3 472.3h5.2M443.8 457.9V467.2M441.2 457.9h5.2M441.2 467.2h5.2M443.8 464.0V471.1M441.2 464.0h5.2M441.2 471.1h5.2M444.2 453.7V461.9M441.6 453.7h5.2M441.6 461.9h5.2M445.7 465.2V474.6M443.1 465.2h5.2M443.1 474.6h5.2M445.7 474.8V481.0M443.1 474.8h5.2M443.1 481.0h5.2M445.7 477.7V482.6M443.1 477.7h5.2M443.1 482.6h5.2M445.9 471.1V477.1M443.3 471.1h5.2M443.3 477.1h5.2M445.8 469.6V479.2M443.2 469.6h5.2M443.2 479.2h5.2M447.8 473.9V484.2M445.2 473.9h5.2M445.2 484.2h5.2M447.6 468.2V476.0M445.0 468.2h5.2M445.0 476.0h5.2M447.6 464.0V472.5M445.0 464.0h5.2M445.0 472.5h5.2M447.6 468.3V475.0M445.0 468.3h5.2M445.0 475.0h5.2M447.8 467.4V477.9M445.2 467.4h5.2M445.2 477.9h5.2M449.4 469.3V477.1M446.8 469.3h5.2M446.8 477.1h5.2M449.6 460.4V469.6M447.0 460.4h5.2M447.0 469.6h5.2M449.7 462.2V470.6M447.1 462.2h5.2M447.1 470.6h5.2M449.4 461.9V473.3M446.8 461.9h5.2M446.8 473.3h5.2M449.6 469.9V479.5M447.0 469.9h5.2M447.0 479.5h5.2M449.7 470.4V478.0M447.1 470.4h5.2M447.1 478.0h5.2M449.4 464.4V474.2M446.8 464.4h5.2M446.8 474.2h5.2M451.2 473.6V487.0M448.6 473.6h5.2M448.6 487.0h5.2M451.1 475.5V482.7M448.5 475.5h5.2M448.5 482.7h5.2M451.4 476.5V483.3M448.8 476.5h5.2M448.8 483.3h5.2M451.1 473.5V486.8M448.5 473.5h5.2M448.5 486.8h5.2M451.4 471.0V477.7M448.8 471.0h5.2M448.8 477.7h5.2M451.2 466.8V475.1M448.6 466.8h5.2M448.6 475.1h5.2M451.1 466.7V472.8M448.5 466.7h5.2M448.5 472.8h5.2M453.1 466.8V471.8M450.5 466.8h5.2M450.5 471.8h5.2M453.2 472.8V477.3M450.6 472.8h5.2M450.6 477.3h5.2M453.0 471.5V478.1M450.4 471.5h5.2M450.4 478.1h5.2M453.1 471.6V476.5M450.5 471.6h5.2M450.5 476.5h5.2M453.0 468.9V474.0M450.4 468.9h5.2M450.4 474.0h5.2M453.2 470.0V476.8M450.6 470.0h5.2M450.6 476.8h5.2M453.1 468.4V472.6M450.5 468.4h5.2M450.5 472.6h5.2M454.8 471.6V480.0M452.2 471.6h5.2M452.2 480.0h5.2M454.9 468.1V478.0M452.3 468.1h5.2M452.3 478.0h5.2M455.0 468.5V473.0M452.4 468.5h5.2M452.4 473.0h5.2M455.1 470.5V477.4M452.5 470.5h5.2M452.5 477.4h5.2M455.0 471.8V477.6M452.4 471.8h5.2M452.4 477.6h5.2M455.0 465.8V475.7M452.4 465.8h5.2M452.4 475.7h5.2M456.7 470.7V479.5M454.1 470.7h5.2M454.1 479.5h5.2M456.8 474.0V483.1M454.2 474.0h5.2M454.2 483.1h5.2M456.6 473.9V481.8M454.0 473.9h5.2M454.0 481.8h5.2M456.8 467.3V476.4M454.2 467.3h5.2M454.2 476.4h5.2M456.9 470.4V476.4M454.3 470.4h5.2M454.3 476.4h5.2M456.8 465.5V472.1M454.2 465.5h5.2M454.2 472.1h5.2M456.9 470.9V479.0M454.3 470.9h5.2M454.3 479.0h5.2M456.7 475.9V482.9M454.1 475.9h5.2M454.1 482.9h5.2M458.7 464.9V471.1M456.1 464.9h5.2M456.1 471.1h5.2M458.4 471.5V478.4M455.8 471.5h5.2M455.8 478.4h5.2M458.4 460.7V470.2M455.8 460.7h5.2M455.8 470.2h5.2M458.7 470.6V477.5M456.1 470.6h5.2M456.1 477.5h5.2M458.7 472.0V485.7M456.1 472.0h5.2M456.1 485.7h5.2M458.5 466.1V472.6M455.9 466.1h5.2M455.9 472.6h5.2M460.3 470.2V485.1M457.7 470.2h5.2M457.7 485.1h5.2M460.4 466.0V479.8M457.8 466.0h5.2M457.8 479.8h5.2M460.4 473.5V482.8M457.8 473.5h5.2M457.8 482.8h5.2M460.4 454.2V466.0M457.8 454.2h5.2M457.8 466.0h5.2M460.4 457.1V470.3M457.8 457.1h5.2M457.8 470.3h5.2M460.3 462.0V474.4M457.7 462.0h5.2M457.7 474.4h5.2M460.2 470.5V482.1M457.6 470.5h5.2M457.6 482.1h5.2M460.5 465.7V481.3M457.9 465.7h5.2M457.9 481.3h5.2M462.4 468.2V474.3M459.8 468.2h5.2M459.8 474.3h5.2M462.0 459.4V472.5M459.4 459.4h5.2M459.4 472.5h5.2M462.2 469.5V481.1M459.6 469.5h5.2M459.6 481.1h5.2M462.3 469.8V480.2M459.7 469.8h5.2M459.7 480.2h5.2M462.3 457.6V470.8M459.7 457.6h5.2M459.7 470.8h5.2M465.8 472.3V480.3M463.2 472.3h5.2M463.2 480.3h5.2M465.6 461.2V468.8M463.0 461.2h5.2M463.0 468.8h5.2M465.7 472.3V478.0M463.1 472.3h5.2M463.1 478.0h5.2M465.8 465.7V471.7M463.2 465.7h5.2M463.2 471.7h5.2M465.9 472.0V478.5M463.3 472.0h5.2M463.3 478.5h5.2M466.0 468.9V477.7M463.4 468.9h5.2M463.4 477.7h5.2M465.7 474.0V480.3M463.1 474.0h5.2M463.1 480.3h5.2M467.6 473.3V479.9M465.0 473.3h5.2M465.0 479.9h5.2M467.5 474.5V483.6M464.9 474.5h5.2M464.9 483.6h5.2M467.5 468.8V480.6M464.9 468.8h5.2M464.9 480.6h5.2M467.6 473.3V483.1M465.0 473.3h5.2M465.0 483.1h5.2M467.8 465.4V473.3M465.2 465.4h5.2M465.2 473.3h5.2M469.3 469.2V485.1M466.7 469.2h5.2M466.7 485.1h5.2M469.4 475.6V487.3M466.8 475.6h5.2M466.8 487.3h5.2M469.3 470.5V480.6M466.7 470.5h5.2M466.7 480.6h5.2M469.4 470.9V482.4M466.8 470.9h5.2M466.8 482.4h5.2M469.4 475.7V484.8M466.8 475.7h5.2M466.8 484.8h5.2M469.4 479.1V486.9M466.8 479.1h5.2M466.8 486.9h5.2M469.3 474.7V483.0M466.7 474.7h5.2M466.7 483.0h5.2M471.3 474.4V489.4M468.7 474.4h5.2M468.7 489.4h5.2M471.3 471.4V486.0M468.7 471.4h5.2M468.7 486.0h5.2M471.2 466.2V476.3M468.6 466.2h5.2M468.6 476.3h5.2M471.1 464.0V472.4M468.5 464.0h5.2M468.5 472.4h5.2M471.4 466.3V473.6M468.8 466.3h5.2M468.8 473.6h5.2M471.4 469.8V478.9M468.8 469.8h5.2M468.8 478.9h5.2M473.1 460.4V466.8M470.5 460.4h5.2M470.5 466.8h5.2M473.2 470.2V478.8M470.6 470.2h5.2M470.6 478.8h5.2M473.1 460.4V472.2M470.5 460.4h5.2M470.5 472.2h5.2M473.0 465.6V476.4M470.4 465.6h5.2M470.4 476.4h5.2M473.1 470.6V479.1M470.5 470.6h5.2M470.5 479.1h5.2M472.9 463.0V473.2M470.3 463.0h5.2M470.3 473.2h5.2M474.8 470.2V476.7M472.2 470.2h5.2M472.2 476.7h5.2M474.8 472.5V476.9M472.2 472.5h5.2M472.2 476.9h5.2M474.7 463.7V470.4M472.1 463.7h5.2M472.1 470.4h5.2M474.7 470.3V477.9M472.1 470.3h5.2M472.1 477.9h5.2M474.9 462.4V470.9M472.3 462.4h5.2M472.3 470.9h5.2M474.8 470.6V475.5M472.2 470.6h5.2M472.2 475.5h5.2M478.7 468.5V474.0M476.1 468.5h5.2M476.1 474.0h5.2M478.7 473.2V480.1M476.1 473.2h5.2M476.1 480.1h5.2M478.6 471.6V474.9M476.0 471.6h5.2M476.0 474.9h5.2M478.7 468.6V474.6M476.1 468.6h5.2M476.1 474.6h5.2M478.4 470.5V475.2M475.8 470.5h5.2M475.8 475.2h5.2M478.5 467.0V474.5M475.9 467.0h5.2M475.9 474.5h5.2M480.2 466.5V474.5M477.6 466.5h5.2M477.6 474.5h5.2M480.2 470.5V475.2M477.6 470.5h5.2M477.6 475.2h5.2M480.2 467.1V475.1M477.6 467.1h5.2M477.6 475.1h5.2M480.4 470.4V477.0M477.8 470.4h5.2M477.8 477.0h5.2M480.4 469.5V474.2M477.8 469.5h5.2M477.8 474.2h5.2M480.5 470.9V478.4M477.9 470.9h5.2M477.9 478.4h5.2M482.4 470.9V474.5M479.8 470.9h5.2M479.8 474.5h5.2M482.0 468.2V472.7M479.4 468.2h5.2M479.4 472.7h5.2M482.4 470.3V475.8M479.8 470.3h5.2M479.8 475.8h5.2M482.0 467.3V473.0M479.4 467.3h5.2M479.4 473.0h5.2M482.0 465.0V469.3M479.4 465.0h5.2M479.4 469.3h5.2M482.3 468.0V474.2M479.7 468.0h5.2M479.7 474.2h5.2M482.1 465.9V470.5M479.5 465.9h5.2M479.5 470.5h5.2M484.2 469.3V474.5M481.6 469.3h5.2M481.6 474.5h5.2M483.9 475.1V478.9M481.3 475.1h5.2M481.3 478.9h5.2M484.1 466.2V471.8M481.5 466.2h5.2M481.5 471.8h5.2M484.2 469.0V475.5M481.6 469.0h5.2M481.6 475.5h5.2M484.0 469.1V475.1M481.4 469.1h5.2M481.4 475.1h5.2M483.9 468.4V471.9M481.3 468.4h5.2M481.3 471.9h5.2M484.1 467.8V471.0M481.5 467.8h5.2M481.5 471.0h5.2M485.7 472.1V478.0M483.1 472.1h5.2M483.1 478.0h5.2M485.8 472.0V476.9M483.2 472.0h5.2M483.2 476.9h5.2M485.7 468.4V477.5M483.1 468.4h5.2M483.1 477.5h5.2M485.8 474.3V484.0M483.2 474.3h5.2M483.2 484.0h5.2M486.0 470.2V476.2M483.4 470.2h5.2M483.4 476.2h5.2M485.9 471.0V480.9M483.3 471.0h5.2M483.3 480.9h5.2M485.7 476.1V480.9M483.1 476.1h5.2M483.1 480.9h5.2M487.8 465.9V473.4M485.2 465.9h5.2M485.2 473.4h5.2M487.7 476.1V482.1M485.1 476.1h5.2M485.1 482.1h5.2M487.8 478.2V482.1M485.2 478.2h5.2M485.2 482.1h5.2M487.5 471.7V476.9M484.9 471.7h5.2M484.9 476.9h5.2M487.6 474.7V480.8M485.0 474.7h5.2M485.0 480.8h5.2M489.6 476.1V480.4M487.0 476.1h5.2M487.0 480.4h5.2M489.4 469.2V474.3M486.8 469.2h5.2M486.8 474.3h5.2M489.6 467.2V473.2M487.0 467.2h5.2M487.0 473.2h5.2M489.3 471.1V476.2M486.7 471.1h5.2M486.7 476.2h5.2M489.5 472.3V477.0M486.9 472.3h5.2M486.9 477.0h5.2M489.6 473.7V479.5M487.0 473.7h5.2M487.0 479.5h5.2M489.6 472.3V476.0M487.0 472.3h5.2M487.0 476.0h5.2M491.1 469.6V476.8M488.5 469.6h5.2M488.5 476.8h5.2M491.2 474.5V480.9M488.6 474.5h5.2M488.6 480.9h5.2M491.5 470.2V477.9M488.9 470.2h5.2M488.9 477.9h5.2M491.4 473.3V477.4M488.8 473.3h5.2M488.8 477.4h5.2M491.4 469.2V476.5M488.8 469.2h5.2M488.8 476.5h5.2M491.4 465.9V471.8M488.8 465.9h5.2M488.8 471.8h5.2M491.2 473.6V478.7M488.6 473.6h5.2M488.6 478.7h5.2M491.4 467.6V473.8M488.8 467.6h5.2M488.8 473.8h5.2M492.9 482.4V487.8M490.3 482.4h5.2M490.3 487.8h5.2M493.2 474.1V481.6M490.6 474.1h5.2M490.6 481.6h5.2M493.1 476.8V485.3M490.5 476.8h5.2M490.5 485.3h5.2M492.9 473.1V481.2M490.3 473.1h5.2M490.3 481.2h5.2M493.0 470.8V476.6M490.4 470.8h5.2M490.4 476.6h5.2M495.0 468.5V473.7M492.4 468.5h5.2M492.4 473.7h5.2M494.9 466.6V473.2M492.3 466.6h5.2M492.3 473.2h5.2M494.9 470.0V474.8M492.3 470.0h5.2M492.3 474.8h5.2M494.8 476.4V480.8M492.2 476.4h5.2M492.2 480.8h5.2M494.8 472.3V480.1M492.2 472.3h5.2M492.2 480.1h5.2M495.0 471.2V478.4M492.4 471.2h5.2M492.4 478.4h5.2M496.7 471.2V477.5M494.1 471.2h5.2M494.1 477.5h5.2M496.9 474.5V480.8M494.3 474.5h5.2M494.3 480.8h5.2M496.5 473.2V482.1M493.9 473.2h5.2M493.9 482.1h5.2M496.5 464.0V471.7M493.9 464.0h5.2M493.9 471.7h5.2M496.9 470.5V480.6M494.3 470.5h5.2M494.3 480.6h5.2M496.6 471.1V476.3M494.0 471.1h5.2M494.0 476.3h5.2M498.7 477.1V480.9M496.1 477.1h5.2M496.1 480.9h5.2M498.6 476.6V480.3M496.0 476.6h5.2M496.0 480.3h5.2M498.7 475.2V479.1M496.1 475.2h5.2M496.1 479.1h5.2M498.6 475.8V479.5M496.0 475.8h5.2M496.0 479.5h5.2M498.6 472.9V476.5M496.0 472.9h5.2M496.0 476.5h5.2M498.6 478.0V481.7M496.0 478.0h5.2M496.0 481.7h5.2M498.7 475.7V478.3M496.1 475.7h5.2M496.1 478.3h5.2M498.6 477.5V480.8M496.0 477.5h5.2M496.0 480.8h5.2M500.2 472.4V477.3M497.6 472.4h5.2M497.6 477.3h5.2M500.2 475.1V479.1M497.6 475.1h5.2M497.6 479.1h5.2M500.3 472.7V477.4M497.7 472.7h5.2M497.7 477.4h5.2M500.4 470.1V474.6M497.8 470.1h5.2M497.8 474.6h5.2M500.2 469.2V472.0M497.6 469.2h5.2M497.6 472.0h5.2M500.2 473.3V475.8M497.6 473.3h5.2M497.6 475.8h5.2M500.5 475.1V477.3M497.9 475.1h5.2M497.9 477.3h5.2M500.5 469.3V473.0M497.9 469.3h5.2M497.9 473.0h5.2M502.2 472.2V476.8M499.6 472.2h5.2M499.6 476.8h5.2M502.0 474.2V477.6M499.4 474.2h5.2M499.4 477.6h5.2M502.1 468.7V471.8M499.5 468.7h5.2M499.5 471.8h5.2M502.1 471.5V477.5M499.5 471.5h5.2M499.5 477.5h5.2M502.1 469.8V476.1M499.5 469.8h5.2M499.5 476.1h5.2M502.1 467.2V472.7M499.5 467.2h5.2M499.5 472.7h5.2M502.2 469.2V472.5M499.6 469.2h5.2M499.6 472.5h5.2M503.9 475.9V478.9M501.3 475.9h5.2M501.3 478.9h5.2M503.8 474.6V478.4M501.2 474.6h5.2M501.2 478.4h5.2M504.0 474.6V478.0M501.4 474.6h5.2M501.4 478.0h5.2M504.2 475.6V481.3M501.6 475.6h5.2M501.6 481.3h5.2M504.2 472.9V476.7M501.6 472.9h5.2M501.6 476.7h5.2M503.9 475.3V479.8M501.3 475.3h5.2M501.3 479.8h5.2M504.0 475.3V478.7M501.4 475.3h5.2M501.4 478.7h5.2M505.9 474.1V478.6M503.3 474.1h5.2M503.3 478.6h5.2M505.7 475.7V479.1M503.1 475.7h5.2M503.1 479.1h5.2M506.0 477.0V481.1M503.4 477.0h5.2M503.4 481.1h5.2M505.8 472.6V478.1M503.2 472.6h5.2M503.2 478.1h5.2M505.9 471.4V477.1M503.3 471.4h5.2M503.3 477.1h5.2M507.7 475.6V479.7M505.1 475.6h5.2M505.1 479.7h5.2M507.6 478.5V484.1M505.0 478.5h5.2M505.0 484.1h5.2M507.5 476.0V480.2M504.9 476.0h5.2M504.9 480.2h5.2M507.6 475.2V479.9M505.0 475.2h5.2M505.0 479.9h5.2M507.7 471.1V478.3M505.1 471.1h5.2M505.1 478.3h5.2M507.8 475.2V482.5M505.2 475.2h5.2M505.2 482.5h5.2M507.7 473.5V478.2M505.1 473.5h5.2M505.1 478.2h5.2M509.5 471.7V475.2M506.9 471.7h5.2M506.9 475.2h5.2M509.3 474.8V478.9M506.7 474.8h5.2M506.7 478.9h5.2M509.4 476.9V479.2M506.8 476.9h5.2M506.8 479.2h5.2M509.6 474.3V476.8M507.0 474.3h5.2M507.0 476.8h5.2M509.6 475.2V477.8M507.0 475.2h5.2M507.0 477.8h5.2M509.4 471.8V475.9M506.8 471.8h5.2M506.8 475.9h5.2M509.4 474.4V478.8M506.8 474.4h5.2M506.8 478.8h5.2M509.4 473.7V477.5M506.8 473.7h5.2M506.8 477.5h5.2M511.3 470.7V473.7M508.7 470.7h5.2M508.7 473.7h5.2M511.1 475.8V478.9M508.5 475.8h5.2M508.5 478.9h5.2M511.3 471.1V475.6M508.7 471.1h5.2M508.7 475.6h5.2M511.1 470.8V473.0M508.5 470.8h5.2M508.5 473.0h5.2M511.4 472.3V474.7M508.8 472.3h5.2M508.8 474.7h5.2M513.2 474.7V479.3M510.6 474.7h5.2M510.6 479.3h5.2M513.2 472.1V476.3M510.6 472.1h5.2M510.6 476.3h5.2M512.9 467.9V473.0M510.3 467.9h5.2M510.3 473.0h5.2M513.2 469.6V474.9M510.6 469.6h5.2M510.6 474.9h5.2M513.1 469.4V473.6M510.5 469.4h5.2M510.5 473.6h5.2M513.3 472.9V478.7M510.7 472.9h5.2M510.7 478.7h5.2M515.1 475.1V479.7M512.5 475.1h5.2M512.5 479.7h5.2M514.9 474.7V479.7M512.3 474.7h5.2M512.3 479.7h5.2M515.1 471.9V476.4M512.5 471.9h5.2M512.5 476.4h5.2M514.9 472.1V475.2M512.3 472.1h5.2M512.3 475.2h5.2M514.9 472.0V476.5M512.3 472.0h5.2M512.3 476.5h5.2M514.8 473.6V477.3M512.2 473.6h5.2M512.2 477.3h5.2M515.1 473.5V476.8M512.5 473.5h5.2M512.5 476.8h5.2M515.0 475.5V479.7M512.4 475.5h5.2M512.4 479.7h5.2M516.5 469.2V473.7M513.9 469.2h5.2M513.9 473.7h5.2M516.5 465.6V468.9M513.9 465.6h5.2M513.9 468.9h5.2M516.6 473.9V479.0M514.0 473.9h5.2M514.0 479.0h5.2M516.5 468.7V474.8M513.9 468.7h5.2M513.9 474.8h5.2M516.6 472.4V476.8M514.0 472.4h5.2M514.0 476.8h5.2M516.6 472.0V475.0M514.0 472.0h5.2M514.0 475.0h5.2M516.8 468.1V473.4M514.2 468.1h5.2M514.2 473.4h5.2M516.8 469.4V473.3M514.2 469.4h5.2M514.2 473.3h5.2M518.6 471.4V473.8M516.0 471.4h5.2M516.0 473.8h5.2M518.6 469.8V472.8M516.0 469.8h5.2M516.0 472.8h5.2M518.4 472.0V475.7M515.8 472.0h5.2M515.8 475.7h5.2M518.5 471.3V473.1M515.9 471.3h5.2M515.9 473.1h5.2M518.5 468.4V471.5M515.9 468.4h5.2M515.9 471.5h5.2M520.3 468.3V474.6M517.7 468.3h5.2M517.7 474.6h5.2M520.2 470.5V473.9M517.6 470.5h5.2M517.6 473.9h5.2M520.4 468.0V473.6M517.8 468.0h5.2M517.8 473.6h5.2M520.3 468.2V472.3M517.7 468.2h5.2M517.7 472.3h5.2M520.2 474.2V479.2M517.6 474.2h5.2M517.6 479.2h5.2M520.1 477.1V480.6M517.5 477.1h5.2M517.5 480.6h5.2M522.2 471.9V476.5M519.6 471.9h5.2M519.6 476.5h5.2M522.0 465.5V471.2M519.4 465.5h5.2M519.4 471.2h5.2M522.0 469.0V476.5M519.4 469.0h5.2M519.4 476.5h5.2M522.0 472.9V479.0M519.4 472.9h5.2M519.4 479.0h5.2M522.1 465.5V471.5M519.5 465.5h5.2M519.5 471.5h5.2M522.0 469.3V473.6M519.4 469.3h5.2M519.4 473.6h5.2M522.2 469.0V473.6M519.6 469.0h5.2M519.6 473.6h5.2M522.3 468.4V475.5M519.7 468.4h5.2M519.7 475.5h5.2M524.1 476.5V481.8M521.5 476.5h5.2M521.5 481.8h5.2M524.0 475.6V483.1M521.4 475.6h5.2M521.4 483.1h5.2M524.0 475.0V480.5M521.4 475.0h5.2M521.4 480.5h5.2M524.1 473.4V480.4M521.5 473.4h5.2M521.5 480.4h5.2M524.2 475.6V481.6M521.6 475.6h5.2M521.6 481.6h5.2M523.8 471.0V477.2M521.2 471.0h5.2M521.2 477.2h5.2M524.1 469.4V477.1M521.5 469.4h5.2M521.5 477.1h5.2M523.9 466.9V473.6M521.3 466.9h5.2M521.3 473.6h5.2M525.8 475.4V479.1M523.2 475.4h5.2M523.2 479.1h5.2M525.7 467.9V474.2M523.1 467.9h5.2M523.1 474.2h5.2M525.8 467.1V473.7M523.2 467.1h5.2M523.2 473.7h5.2M525.6 471.6V476.6M523.0 471.6h5.2M523.0 476.6h5.2M526.0 465.2V471.3M523.4 465.2h5.2M523.4 471.3h5.2M525.8 470.4V476.2M523.2 470.4h5.2M523.2 476.2h5.2M527.7 469.1V473.0M525.1 469.1h5.2M525.1 473.0h5.2M527.7 473.4V475.7M525.1 473.4h5.2M525.1 475.7h5.2M527.7 474.1V477.3M525.1 474.1h5.2M525.1 477.3h5.2M527.5 470.9V474.5M524.9 470.9h5.2M524.9 474.5h5.2M527.5 472.7V476.5M524.9 472.7h5.2M524.9 476.5h5.2M527.5 471.5V474.0M524.9 471.5h5.2M524.9 474.0h5.2M529.3 471.2V475.0M526.7 471.2h5.2M526.7 475.0h5.2M529.4 471.5V474.3M526.8 471.5h5.2M526.8 474.3h5.2M529.2 473.7V476.6M526.6 473.7h5.2M526.6 476.6h5.2M529.6 472.7V475.9M527.0 472.7h5.2M527.0 475.9h5.2M529.6 474.9V478.6M527.0 474.9h5.2M527.0 478.6h5.2M529.4 476.3V478.8M526.8 476.3h5.2M526.8 478.8h5.2M529.3 471.2V474.3M526.7 471.2h5.2M526.7 474.3h5.2M531.3 473.0V475.4M528.7 473.0h5.2M528.7 475.4h5.2M531.1 469.9V474.6M528.5 469.9h5.2M528.5 474.6h5.2M531.4 473.4V477.0M528.8 473.4h5.2M528.8 477.0h5.2M531.4 475.5V479.1M528.8 475.5h5.2M528.8 479.1h5.2M531.2 473.5V476.0M528.6 473.5h5.2M528.6 476.0h5.2M531.3 474.6V479.1M528.7 474.6h5.2M528.7 479.1h5.2M531.4 472.5V477.0M528.8 472.5h5.2M528.8 477.0h5.2M531.2 471.6V476.2M528.6 471.6h5.2M528.6 476.2h5.2M220.1 417.8V425.7M217.5 417.8h5.2M217.5 425.7h5.2M220.4 455.3V475.2M217.8 455.3h5.2M217.8 475.2h5.2M220.4 469.3V489.9M217.8 469.3h5.2M217.8 489.9h5.2M222.1 435.3V459.1M219.5 435.3h5.2M219.5 459.1h5.2M222.0 458.1V468.1M219.4 458.1h5.2M219.4 468.1h5.2M222.0 459.2V470.9M219.4 459.2h5.2M219.4 470.9h5.2M222.1 460.5V472.2M219.5 460.5h5.2M219.5 472.2h5.2M222.1 462.2V475.1M219.5 462.2h5.2M219.5 475.1h5.2M221.8 465.2V478.1M219.2 465.2h5.2M219.2 478.1h5.2M222.0 466.9V478.6M219.4 466.9h5.2M219.4 478.6h5.2M222.0 469.4V479.4M219.4 469.4h5.2M219.4 479.4h5.2M227.5 460.7V464.5M224.9 460.7h5.2M224.9 464.5h5.2M227.4 462.2V466.3M224.8 462.2h5.2M224.8 466.3h5.2M227.4 465.0V469.3M224.8 465.0h5.2M224.8 469.3h5.2M227.5 466.3V470.4M224.9 466.3h5.2M224.9 470.4h5.2M227.5 467.5V471.9M224.9 467.5h5.2M224.9 471.9h5.2M227.4 468.8V473.5M224.8 468.8h5.2M224.8 473.5h5.2M227.4 470.2V474.8M224.8 470.2h5.2M224.8 474.8h5.2M229.2 459.7V463.6M226.6 459.7h5.2M226.6 463.6h5.2M229.1 464.3V469.0M226.5 464.3h5.2M226.5 469.0h5.2M229.1 466.0V470.7M226.5 466.0h5.2M226.5 470.7h5.2M229.2 467.4V472.1M226.6 467.4h5.2M226.6 472.1h5.2M229.3 470.7V476.0M226.7 470.7h5.2M226.7 476.0h5.2M233.0 456.4V459.9M230.4 456.4h5.2M230.4 459.9h5.2M232.8 458.1V462.2M230.2 458.1h5.2M230.2 462.2h5.2M232.7 460.8V466.0M230.1 460.8h5.2M230.1 466.0h5.2M233.2 463.1V468.4M230.6 463.1h5.2M230.6 468.4h5.2M234.9 432.9V446.8M232.3 432.9h5.2M232.3 446.8h5.2M234.9 442.9V449.3M232.3 442.9h5.2M232.3 449.3h5.2M234.8 448.9V454.3M232.2 448.9h5.2M232.2 454.3h5.2M234.7 455.2V461.1M232.1 455.2h5.2M232.1 461.1h5.2M234.6 459.0V466.0M232.0 459.0h5.2M232.0 466.0h5.2M234.8 458.4V469.0M232.2 458.4h5.2M232.2 469.0h5.2M234.6 472.4V488.8M232.0 472.4h5.2M232.0 488.8h5.2M238.2 415.2V441.6M235.6 415.2h5.2M235.6 441.6h5.2M238.3 436.2V459.6M235.7 436.2h5.2M235.7 459.6h5.2M238.2 438.2V461.7M235.6 438.2h5.2M235.6 461.7h5.2M238.2 447.6V461.7M235.6 447.6h5.2M235.6 461.7h5.2M240.2 432.9V438.6M237.6 432.9h5.2M237.6 438.6h5.2M240.3 436.6V448.4M237.7 436.6h5.2M237.7 448.4h5.2M241.9 421.5V425.2M239.3 421.5h5.2M239.3 425.2h5.2M241.8 429.8V432.3M239.2 429.8h5.2M239.2 432.3h5.2M243.7 412.3V416.9M241.1 412.3h5.2M241.1 416.9h5.2M243.7 413.6V418.9M241.1 413.6h5.2M241.1 418.9h5.2M243.8 415.1V420.9M241.2 415.1h5.2M241.2 420.9h5.2M243.8 417.1V424.1M241.2 417.1h5.2M241.2 424.1h5.2M243.5 412.7V436.2M240.9 412.7h5.2M240.9 436.2h5.2M243.6 422.4V430.0M241.0 422.4h5.2M241.0 430.0h5.2M249.2 440.9V447.3M246.6 440.9h5.2M246.6 447.3h5.2M249.2 443.8V448.5M246.6 443.8h5.2M246.6 448.5h5.2M249.3 445.0V450.8M246.7 445.0h5.2M246.7 450.8h5.2M249.2 446.7V452.6M246.6 446.7h5.2M246.6 452.6h5.2M249.1 447.6V454.6M246.5 447.6h5.2M246.5 454.6h5.2M249.4 449.6V457.3M246.8 449.6h5.2M246.8 457.3h5.2M249.3 457.7V469.4M246.7 457.7h5.2M246.7 469.4h5.2M253.0 433.7V464.2M250.4 433.7h5.2M250.4 464.2h5.2M252.7 447.9V459.6M250.1 447.9h5.2M250.1 459.6h5.2M252.9 452.6V461.4M250.3 452.6h5.2M250.3 461.4h5.2M252.8 455.8V462.8M250.2 455.8h5.2M250.2 462.8h5.2M253.0 460.2V464.3M250.4 460.2h5.2M250.4 464.3h5.2M254.8 455.5V459.6M252.2 455.5h5.2M252.2 459.6h5.2M254.7 457.6V461.7M252.1 457.6h5.2M252.1 461.7h5.2M254.9 457.6V461.7M252.3 457.6h5.2M252.3 461.7h5.2M254.6 459.3V463.4M252.0 459.3h5.2M252.0 463.4h5.2M254.8 460.5V465.2M252.2 460.5h5.2M252.2 465.2h5.2M254.7 461.9V467.2M252.1 461.9h5.2M252.1 467.2h5.2M256.7 445.9V453.2M254.1 445.9h5.2M254.1 453.2h5.2M256.8 465.2V471.4M254.2 465.2h5.2M254.2 471.4h5.2M259.9 446.1V460.8M257.3 446.1h5.2M257.3 460.8h5.2M260.0 453.7V465.5M257.4 453.7h5.2M257.4 465.5h5.2M260.0 457.8V470.7M257.4 457.8h5.2M257.4 470.7h5.2M260.4 458.5V470.3M257.8 458.5h5.2M257.8 470.3h5.2M259.8 471.0V481.0M257.2 471.0h5.2M257.2 481.0h5.2M260.3 469.9V479.8M257.7 469.9h5.2M257.7 479.8h5.2M264.0 466.8V474.7M261.4 466.8h5.2M261.4 474.7h5.2M264.1 469.9V477.5M261.5 469.9h5.2M261.5 477.5h5.2M264.2 471.3V478.9M261.6 471.3h5.2M261.6 478.9h5.2M263.7 475.0V482.6M261.1 475.0h5.2M261.1 482.6h5.2M264.0 475.4V483.0M261.4 475.4h5.2M261.4 483.0h5.2M265.5 452.9V461.7M262.9 452.9h5.2M262.9 461.7h5.2M265.2 462.9V471.7M262.6 462.9h5.2M262.6 471.7h5.2M265.5 464.9V473.7M262.9 464.9h5.2M262.9 473.7h5.2M265.5 471.3V480.1M262.9 471.3h5.2M262.9 480.1h5.2M267.4 460.2V466.0M264.8 460.2h5.2M264.8 466.0h5.2M267.5 461.7V467.5M264.9 461.7h5.2M264.9 467.5h5.2M267.2 462.8V468.7M264.6 462.8h5.2M264.6 468.7h5.2M267.5 464.6V470.4M264.9 464.6h5.2M264.9 470.4h5.2M267.2 466.3V472.2M264.6 466.3h5.2M264.6 472.2h5.2M267.4 467.8V473.7M264.8 467.8h5.2M264.8 473.7h5.2M267.2 469.9V475.7M264.6 469.9h5.2M264.6 475.7h5.2M267.1 467.4V479.7M264.5 467.4h5.2M264.5 479.7h5.2M272.8 451.1V464.0M270.2 451.1h5.2M270.2 464.0h5.2M221.9 458.9V469.7M219.3 458.9h5.2M219.3 469.7h5.2M221.9 461.5V473.8M219.3 461.5h5.2M219.3 473.8h5.2M222.0 463.5V476.4M219.4 463.5h5.2M219.4 476.4h5.2M222.0 468.4V479.2M219.4 468.4h5.2M219.4 479.2h5.2M227.3 461.5V465.4M224.7 461.5h5.2M224.7 465.4h5.2M227.5 463.6V467.8M224.9 463.6h5.2M224.9 467.8h5.2M229.2 465.0V469.7M226.6 465.0h5.2M226.6 469.7h5.2M229.2 469.0V474.0M226.6 469.0h5.2M226.6 474.0h5.2M232.8 457.2V461.0M230.2 457.2h5.2M230.2 461.0h5.2M232.9 459.5V464.2M230.3 459.5h5.2M230.3 464.2h5.2M232.9 461.8V467.1M230.3 461.8h5.2M230.3 467.1h5.2M234.8 457.1V463.5M232.2 457.1h5.2M232.2 463.5h5.2M243.8 412.9V417.9M241.2 412.9h5.2M241.2 417.9h5.2M243.8 414.6V420.1M241.2 414.6h5.2M241.2 420.1h5.2M243.9 416.1V422.6M241.3 416.1h5.2M241.3 422.6h5.2M249.1 442.5V448.1M246.5 442.5h5.2M246.5 448.1h5.2M249.2 444.6V449.9M246.6 444.6h5.2M246.6 449.9h5.2M249.1 445.8V451.7M246.5 445.8h5.2M246.5 451.7h5.2M249.3 448.9V456.2M246.7 448.9h5.2M246.7 456.2h5.2M252.7 450.4V460.7M250.1 450.4h5.2M250.1 460.7h5.2M252.9 454.3V462.2M250.3 454.3h5.2M250.3 462.2h5.2M252.9 458.3V463.8M250.3 458.3h5.2M250.3 463.8h5.2M254.7 456.5V460.6M252.1 456.5h5.2M252.1 460.6h5.2M254.7 458.2V462.3M252.1 458.2h5.2M252.1 462.3h5.2M254.6 461.5V466.4M252.0 461.5h5.2M252.0 466.4h5.2M260.1 455.6V467.9M257.5 455.6h5.2M257.5 467.9h5.2M264.1 468.3V476.1M261.5 468.3h5.2M261.5 476.1h5.2M264.0 473.3V480.9M261.4 473.3h5.2M261.4 480.9h5.2M265.3 464.2V473.0M262.7 464.2h5.2M262.7 473.0h5.2M267.4 463.8V469.6M264.8 463.8h5.2M264.8 469.6h5.2M267.4 465.3V471.1M264.8 465.3h5.2M264.8 471.1h5.2M267.2 468.8V474.6M264.6 468.8h5.2M264.6 474.6h5.2M101.6 482.0V502.0M99.0 482.0h5.2M99.0 502.0h5.2M120.0 485.6V505.6M117.4 485.6h5.2M117.4 505.6h5.2M158.0 467.4V498.6M155.4 467.4h5.2M155.4 498.6h5.2M179.6 482.1V509.1M177.0 482.1h5.2M177.0 509.1h5.2M183.6 489.6V509.6M181.0 489.6h5.2M181.0 509.6h5.2M212.0 483.6V492.4M209.4 483.6h5.2M209.4 492.4h5.2M272.4 371.7V403.1M269.8 371.7h5.2M269.8 403.1h5.2M219.6 418.1V426.7M217.0 418.1h5.2M217.0 426.7h5.2M221.0 436.0V456.0M218.4 436.0h5.2M218.4 456.0h5.2M220.5 452.0V472.0M217.9 452.0h5.2M217.9 472.0h5.2M220.0 467.0V493.0M217.4 467.0h5.2M217.4 493.0h5.2M235.0 474.0V488.0M232.4 474.0h5.2M232.4 488.0h5.2M253.0 434.0V450.0M250.4 434.0h5.2M250.4 450.0h5.2M300.4 424.0V446.0M297.8 424.0h5.2M297.8 446.0h5.2M275.0 483.0V493.0M272.4 483.0h5.2M272.4 493.0h5.2M385.0 431.0V437.0M382.4 431.0h5.2M382.4 437.0h5.2M349.0 437.0V455.0M346.4 437.0h5.2M346.4 455.0h5.2M349.0 444.0V460.0M346.4 444.0h5.2M346.4 460.0h5.2M370.0 444.0V456.0M367.4 444.0h5.2M367.4 456.0h5.2M390.6 453.0V461.0M388.0 453.0h5.2M388.0 461.0h5.2M421.0 445.0V455.0M418.4 445.0h5.2M418.4 455.0h5.2M371.0 479.0V503.0M368.4 479.0h5.2M368.4 503.0h5.2M414.0 484.4V507.6M411.4 484.4h5.2M411.4 507.6h5.2M419.0 489.0V511.0M416.4 489.0h5.2M416.4 511.0h5.2M423.0 483.0V505.0M420.4 483.0h5.2M420.4 505.0h5.2M458.0 317.5V328.5M455.4 317.5h5.2M455.4 328.5h5.2M447.0 446.0V452.0M444.4 446.0h5.2M444.4 452.0h5.2M539.6 474.9V490.3M537.0 474.9h5.2M537.0 490.3h5.2M520.0 481.0V491.0M517.4 481.0h5.2M517.4 491.0h5.2M452.4 491.0V505.0M449.8 491.0h5.2M449.8 505.0h5.2M470.0 474.0V502.0M467.4 474.0h5.2M467.4 502.0h5.2M491.0 481.0V497.0M488.4 481.0h5.2M488.4 497.0h5.2"/><g stroke="none"><circle cx="100.6" cy="475.1" r="2.45"/><circle cx="100.6" cy="475.8" r="2.45"/><circle cx="100.8" cy="474.9" r="2.45"/><circle cx="100.5" cy="471.9" r="2.45"/><circle cx="100.6" cy="476.5" r="2.45"/><circle cx="100.8" cy="474.2" r="2.45"/><circle cx="100.7" cy="476.6" r="2.45"/><circle cx="100.6" cy="471.4" r="2.45"/><circle cx="102.5" cy="480.1" r="2.45"/><circle cx="102.5" cy="477.4" r="2.45"/><circle cx="102.5" cy="476.4" r="2.45"/><circle cx="102.4" cy="479.3" r="2.45"/><circle cx="102.3" cy="479.9" r="2.45"/><circle cx="104.4" cy="478.2" r="2.45"/><circle cx="104.4" cy="476.3" r="2.45"/><circle cx="104.4" cy="469.4" r="2.45"/><circle cx="104.2" cy="473.2" r="2.45"/><circle cx="104.1" cy="480.8" r="2.45"/><circle cx="107.8" cy="469.7" r="2.45"/><circle cx="107.9" cy="468.1" r="2.45"/><circle cx="108.0" cy="469.4" r="2.45"/><circle cx="107.8" cy="473.6" r="2.45"/><circle cx="107.9" cy="467.7" r="2.45"/><circle cx="107.8" cy="471.4" r="2.45"/><circle cx="107.7" cy="470.3" r="2.45"/><circle cx="108.0" cy="471.8" r="2.45"/><circle cx="109.8" cy="476.8" r="2.45"/><circle cx="109.5" cy="478.7" r="2.45"/><circle cx="109.8" cy="477.2" r="2.45"/><circle cx="109.6" cy="472.9" r="2.45"/><circle cx="109.5" cy="475.3" r="2.45"/><circle cx="109.6" cy="476.2" r="2.45"/><circle cx="109.7" cy="479.5" r="2.45"/><circle cx="111.7" cy="474.4" r="2.45"/><circle cx="111.5" cy="475.0" r="2.45"/><circle cx="111.5" cy="475.8" r="2.45"/><circle cx="111.4" cy="475.3" r="2.45"/><circle cx="111.7" cy="476.4" r="2.45"/><circle cx="111.5" cy="476.8" r="2.45"/><circle cx="111.5" cy="473.7" r="2.45"/><circle cx="111.5" cy="476.5" r="2.45"/><circle cx="113.4" cy="475.7" r="2.45"/><circle cx="113.2" cy="476.2" r="2.45"/><circle cx="113.3" cy="471.0" r="2.45"/><circle cx="113.2" cy="475.9" r="2.45"/><circle cx="113.2" cy="477.2" r="2.45"/><circle cx="113.2" cy="472.0" r="2.45"/><circle cx="115.1" cy="474.5" r="2.45"/><circle cx="115.2" cy="473.2" r="2.45"/><circle cx="115.0" cy="472.1" r="2.45"/><circle cx="115.3" cy="476.0" r="2.45"/><circle cx="115.0" cy="472.2" r="2.45"/><circle cx="115.3" cy="475.6" r="2.45"/><circle cx="117.0" cy="471.1" r="2.45"/><circle cx="116.9" cy="477.0" r="2.45"/><circle cx="116.8" cy="472.4" r="2.45"/><circle cx="117.0" cy="472.9" r="2.45"/><circle cx="116.9" cy="474.0" r="2.45"/><circle cx="117.1" cy="473.8" r="2.45"/><circle cx="116.9" cy="475.3" r="2.45"/><circle cx="116.9" cy="475.7" r="2.45"/><circle cx="118.9" cy="480.6" r="2.45"/><circle cx="118.8" cy="475.2" r="2.45"/><circle cx="118.7" cy="477.3" r="2.45"/><circle cx="118.8" cy="476.4" r="2.45"/><circle cx="118.9" cy="476.0" r="2.45"/><circle cx="120.5" cy="478.1" r="2.45"/><circle cx="120.6" cy="474.8" r="2.45"/><circle cx="120.6" cy="475.7" r="2.45"/><circle cx="120.4" cy="475.8" r="2.45"/><circle cx="120.4" cy="473.3" r="2.45"/><circle cx="120.6" cy="478.3" r="2.45"/><circle cx="120.4" cy="476.2" r="2.45"/><circle cx="120.5" cy="476.2" r="2.45"/><circle cx="122.3" cy="467.6" r="2.45"/><circle cx="122.4" cy="469.0" r="2.45"/><circle cx="122.3" cy="469.5" r="2.45"/><circle cx="122.6" cy="467.9" r="2.45"/><circle cx="122.5" cy="470.8" r="2.45"/><circle cx="122.6" cy="465.0" r="2.45"/><circle cx="122.5" cy="468.2" r="2.45"/><circle cx="124.3" cy="473.1" r="2.45"/><circle cx="124.1" cy="470.3" r="2.45"/><circle cx="124.3" cy="473.1" r="2.45"/><circle cx="124.2" cy="474.4" r="2.45"/><circle cx="124.1" cy="470.6" r="2.45"/><circle cx="126.2" cy="474.5" r="2.45"/><circle cx="126.2" cy="476.1" r="2.45"/><circle cx="126.0" cy="468.9" r="2.45"/><circle cx="126.0" cy="477.5" r="2.45"/><circle cx="126.0" cy="478.3" r="2.45"/><circle cx="125.9" cy="477.2" r="2.45"/><circle cx="126.0" cy="473.8" r="2.45"/><circle cx="125.8" cy="482.5" r="2.45"/><circle cx="127.9" cy="471.8" r="2.45"/><circle cx="127.7" cy="475.1" r="2.45"/><circle cx="128.0" cy="476.6" r="2.45"/><circle cx="127.9" cy="471.8" r="2.45"/><circle cx="128.0" cy="474.8" r="2.45"/><circle cx="128.0" cy="479.1" r="2.45"/><circle cx="128.1" cy="474.8" r="2.45"/><circle cx="127.7" cy="476.2" r="2.45"/><circle cx="129.7" cy="464.9" r="2.45"/><circle cx="129.7" cy="469.7" r="2.45"/><circle cx="129.8" cy="473.3" r="2.45"/><circle cx="129.5" cy="473.8" r="2.45"/><circle cx="129.9" cy="470.9" r="2.45"/><circle cx="131.4" cy="471.9" r="2.45"/><circle cx="131.5" cy="470.6" r="2.45"/><circle cx="131.6" cy="472.2" r="2.45"/><circle cx="131.5" cy="472.3" r="2.45"/><circle cx="131.4" cy="467.8" r="2.45"/><circle cx="131.5" cy="474.3" r="2.45"/><circle cx="131.6" cy="471.5" r="2.45"/><circle cx="131.6" cy="467.9" r="2.45"/><circle cx="133.1" cy="478.0" r="2.45"/><circle cx="133.4" cy="475.4" r="2.45"/><circle cx="133.3" cy="477.1" r="2.45"/><circle cx="133.3" cy="470.9" r="2.45"/><circle cx="133.4" cy="471.3" r="2.45"/><circle cx="133.1" cy="474.4" r="2.45"/><circle cx="133.4" cy="470.6" r="2.45"/><circle cx="133.4" cy="475.0" r="2.45"/><circle cx="135.3" cy="475.0" r="2.45"/><circle cx="135.1" cy="471.6" r="2.45"/><circle cx="135.3" cy="472.6" r="2.45"/><circle cx="135.3" cy="475.2" r="2.45"/><circle cx="135.3" cy="470.9" r="2.45"/><circle cx="137.0" cy="473.8" r="2.45"/><circle cx="137.1" cy="474.6" r="2.45"/><circle cx="136.9" cy="475.5" r="2.45"/><circle cx="136.9" cy="472.2" r="2.45"/><circle cx="136.9" cy="473.4" r="2.45"/><circle cx="137.1" cy="470.6" r="2.45"/><circle cx="137.1" cy="472.0" r="2.45"/><circle cx="136.9" cy="472.9" r="2.45"/><circle cx="138.7" cy="472.2" r="2.45"/><circle cx="138.8" cy="478.7" r="2.45"/><circle cx="138.8" cy="475.3" r="2.45"/><circle cx="138.7" cy="478.9" r="2.45"/><circle cx="138.9" cy="476.2" r="2.45"/><circle cx="138.9" cy="472.3" r="2.45"/><circle cx="138.8" cy="473.3" r="2.45"/><circle cx="138.9" cy="475.4" r="2.45"/><circle cx="140.6" cy="469.7" r="2.45"/><circle cx="140.7" cy="472.7" r="2.45"/><circle cx="140.6" cy="469.9" r="2.45"/><circle cx="140.7" cy="471.0" r="2.45"/><circle cx="140.5" cy="472.6" r="2.45"/><circle cx="140.6" cy="472.9" r="2.45"/><circle cx="140.6" cy="475.2" r="2.45"/><circle cx="140.5" cy="471.0" r="2.45"/><circle cx="142.6" cy="472.6" r="2.45"/><circle cx="142.5" cy="475.5" r="2.45"/><circle cx="142.3" cy="476.4" r="2.45"/><circle cx="142.4" cy="473.6" r="2.45"/><circle cx="142.3" cy="479.2" r="2.45"/><circle cx="142.4" cy="477.9" r="2.45"/><circle cx="144.3" cy="478.8" r="2.45"/><circle cx="144.0" cy="474.8" r="2.45"/><circle cx="144.4" cy="476.4" r="2.45"/><circle cx="144.0" cy="477.2" r="2.45"/><circle cx="144.3" cy="475.2" r="2.45"/><circle cx="144.3" cy="477.2" r="2.45"/><circle cx="155.1" cy="475.7" r="2.45"/><circle cx="155.2" cy="479.6" r="2.45"/><circle cx="155.1" cy="478.6" r="2.45"/><circle cx="155.0" cy="483.6" r="2.45"/><circle cx="155.2" cy="467.6" r="2.45"/><circle cx="157.0" cy="466.9" r="2.45"/><circle cx="157.0" cy="470.8" r="2.45"/><circle cx="156.9" cy="475.0" r="2.45"/><circle cx="156.8" cy="465.7" r="2.45"/><circle cx="156.8" cy="467.3" r="2.45"/><circle cx="156.8" cy="469.0" r="2.45"/><circle cx="157.0" cy="468.4" r="2.45"/><circle cx="158.9" cy="475.4" r="2.45"/><circle cx="158.8" cy="470.7" r="2.45"/><circle cx="158.7" cy="479.3" r="2.45"/><circle cx="158.6" cy="473.6" r="2.45"/><circle cx="158.8" cy="466.7" r="2.45"/><circle cx="158.8" cy="470.7" r="2.45"/><circle cx="158.8" cy="480.2" r="2.45"/><circle cx="160.7" cy="474.2" r="2.45"/><circle cx="160.7" cy="477.7" r="2.45"/><circle cx="160.5" cy="472.6" r="2.45"/><circle cx="160.4" cy="473.1" r="2.45"/><circle cx="160.7" cy="472.5" r="2.45"/><circle cx="160.5" cy="474.1" r="2.45"/><circle cx="162.5" cy="475.0" r="2.45"/><circle cx="162.6" cy="472.8" r="2.45"/><circle cx="162.2" cy="473.8" r="2.45"/><circle cx="162.4" cy="470.3" r="2.45"/><circle cx="162.5" cy="475.6" r="2.45"/><circle cx="164.1" cy="472.8" r="2.45"/><circle cx="164.2" cy="473.5" r="2.45"/><circle cx="164.3" cy="469.1" r="2.45"/><circle cx="164.4" cy="469.1" r="2.45"/><circle cx="164.3" cy="472.8" r="2.45"/><circle cx="164.1" cy="474.0" r="2.45"/><circle cx="164.2" cy="469.1" r="2.45"/><circle cx="166.1" cy="475.5" r="2.45"/><circle cx="165.9" cy="479.5" r="2.45"/><circle cx="166.0" cy="467.5" r="2.45"/><circle cx="166.1" cy="469.1" r="2.45"/><circle cx="165.8" cy="478.9" r="2.45"/><circle cx="166.1" cy="465.5" r="2.45"/><circle cx="166.0" cy="476.4" r="2.45"/><circle cx="166.0" cy="472.0" r="2.45"/><circle cx="167.9" cy="466.3" r="2.45"/><circle cx="167.9" cy="475.3" r="2.45"/><circle cx="167.8" cy="465.7" r="2.45"/><circle cx="167.7" cy="474.5" r="2.45"/><circle cx="167.9" cy="474.1" r="2.45"/><circle cx="167.9" cy="480.4" r="2.45"/><circle cx="167.7" cy="463.9" r="2.45"/><circle cx="167.9" cy="467.4" r="2.45"/><circle cx="169.5" cy="471.6" r="2.45"/><circle cx="169.5" cy="471.3" r="2.45"/><circle cx="169.5" cy="474.2" r="2.45"/><circle cx="169.7" cy="470.4" r="2.45"/><circle cx="169.7" cy="475.1" r="2.45"/><circle cx="169.5" cy="463.5" r="2.45"/><circle cx="169.8" cy="468.0" r="2.45"/><circle cx="169.6" cy="469.9" r="2.45"/><circle cx="171.5" cy="459.9" r="2.45"/><circle cx="171.5" cy="471.9" r="2.45"/><circle cx="171.5" cy="475.0" r="2.45"/><circle cx="171.6" cy="472.7" r="2.45"/><circle cx="171.5" cy="469.5" r="2.45"/><circle cx="171.5" cy="473.8" r="2.45"/><circle cx="171.7" cy="467.5" r="2.45"/><circle cx="173.3" cy="477.4" r="2.45"/><circle cx="173.4" cy="474.7" r="2.45"/><circle cx="173.3" cy="474.1" r="2.45"/><circle cx="173.5" cy="465.9" r="2.45"/><circle cx="173.3" cy="465.3" r="2.45"/><circle cx="173.2" cy="466.3" r="2.45"/><circle cx="173.4" cy="472.1" r="2.45"/><circle cx="173.5" cy="474.8" r="2.45"/><circle cx="175.2" cy="467.7" r="2.45"/><circle cx="175.0" cy="468.0" r="2.45"/><circle cx="175.0" cy="468.1" r="2.45"/><circle cx="175.1" cy="465.7" r="2.45"/><circle cx="175.0" cy="474.2" r="2.45"/><circle cx="175.1" cy="470.8" r="2.45"/><circle cx="175.0" cy="467.2" r="2.45"/><circle cx="175.2" cy="464.2" r="2.45"/><circle cx="176.8" cy="477.0" r="2.45"/><circle cx="176.9" cy="478.8" r="2.45"/><circle cx="177.0" cy="474.4" r="2.45"/><circle cx="177.0" cy="474.4" r="2.45"/><circle cx="177.1" cy="471.4" r="2.45"/><circle cx="176.7" cy="479.4" r="2.45"/><circle cx="176.8" cy="486.5" r="2.45"/><circle cx="178.6" cy="477.4" r="2.45"/><circle cx="178.9" cy="480.1" r="2.45"/><circle cx="178.6" cy="464.9" r="2.45"/><circle cx="178.9" cy="471.9" r="2.45"/><circle cx="178.6" cy="469.5" r="2.45"/><circle cx="178.8" cy="471.1" r="2.45"/><circle cx="180.5" cy="468.3" r="2.45"/><circle cx="180.6" cy="471.7" r="2.45"/><circle cx="180.7" cy="472.4" r="2.45"/><circle cx="180.7" cy="465.3" r="2.45"/><circle cx="180.4" cy="466.3" r="2.45"/><circle cx="180.6" cy="473.9" r="2.45"/><circle cx="180.5" cy="483.9" r="2.45"/><circle cx="180.6" cy="471.6" r="2.45"/><circle cx="182.2" cy="477.7" r="2.45"/><circle cx="182.3" cy="468.3" r="2.45"/><circle cx="182.5" cy="480.7" r="2.45"/><circle cx="182.5" cy="471.7" r="2.45"/><circle cx="182.5" cy="474.6" r="2.45"/><circle cx="184.3" cy="474.8" r="2.45"/><circle cx="184.2" cy="477.9" r="2.45"/><circle cx="184.1" cy="467.2" r="2.45"/><circle cx="184.4" cy="470.5" r="2.45"/><circle cx="184.3" cy="474.0" r="2.45"/><circle cx="184.2" cy="475.0" r="2.45"/><circle cx="184.1" cy="478.1" r="2.45"/><circle cx="186.1" cy="469.6" r="2.45"/><circle cx="185.9" cy="473.2" r="2.45"/><circle cx="186.2" cy="477.8" r="2.45"/><circle cx="185.9" cy="469.9" r="2.45"/><circle cx="186.1" cy="475.1" r="2.45"/><circle cx="185.8" cy="470.4" r="2.45"/><circle cx="186.0" cy="476.1" r="2.45"/><circle cx="187.7" cy="481.1" r="2.45"/><circle cx="188.0" cy="473.1" r="2.45"/><circle cx="187.8" cy="476.0" r="2.45"/><circle cx="188.0" cy="477.1" r="2.45"/><circle cx="187.7" cy="472.7" r="2.45"/><circle cx="187.7" cy="468.4" r="2.45"/><circle cx="187.9" cy="475.6" r="2.45"/><circle cx="187.9" cy="481.9" r="2.45"/><circle cx="189.8" cy="469.6" r="2.45"/><circle cx="189.7" cy="471.2" r="2.45"/><circle cx="189.5" cy="479.5" r="2.45"/><circle cx="189.8" cy="479.4" r="2.45"/><circle cx="189.5" cy="482.0" r="2.45"/><circle cx="189.8" cy="474.0" r="2.45"/><circle cx="189.5" cy="478.3" r="2.45"/><circle cx="191.6" cy="472.5" r="2.45"/><circle cx="191.4" cy="471.3" r="2.45"/><circle cx="191.5" cy="466.5" r="2.45"/><circle cx="191.4" cy="470.0" r="2.45"/><circle cx="191.3" cy="471.7" r="2.45"/><circle cx="191.6" cy="475.0" r="2.45"/><circle cx="193.5" cy="464.9" r="2.45"/><circle cx="193.4" cy="470.7" r="2.45"/><circle cx="193.1" cy="467.1" r="2.45"/><circle cx="193.4" cy="466.7" r="2.45"/><circle cx="193.2" cy="465.4" r="2.45"/><circle cx="193.3" cy="479.0" r="2.45"/><circle cx="193.4" cy="472.3" r="2.45"/><circle cx="195.3" cy="477.7" r="2.45"/><circle cx="194.9" cy="464.9" r="2.45"/><circle cx="195.2" cy="467.7" r="2.45"/><circle cx="194.9" cy="471.9" r="2.45"/><circle cx="195.1" cy="471.2" r="2.45"/><circle cx="196.7" cy="471.3" r="2.45"/><circle cx="197.0" cy="477.2" r="2.45"/><circle cx="196.7" cy="467.4" r="2.45"/><circle cx="197.0" cy="474.2" r="2.45"/><circle cx="197.0" cy="474.6" r="2.45"/><circle cx="197.0" cy="472.2" r="2.45"/><circle cx="196.7" cy="467.5" r="2.45"/><circle cx="198.7" cy="465.1" r="2.45"/><circle cx="198.9" cy="474.4" r="2.45"/><circle cx="198.8" cy="475.2" r="2.45"/><circle cx="198.6" cy="463.9" r="2.45"/><circle cx="198.7" cy="462.6" r="2.45"/><circle cx="200.7" cy="471.0" r="2.45"/><circle cx="200.4" cy="471.1" r="2.45"/><circle cx="200.7" cy="470.8" r="2.45"/><circle cx="200.6" cy="468.0" r="2.45"/><circle cx="200.4" cy="470.8" r="2.45"/><circle cx="200.5" cy="470.4" r="2.45"/><circle cx="200.6" cy="472.5" r="2.45"/><circle cx="202.5" cy="469.3" r="2.45"/><circle cx="202.4" cy="467.8" r="2.45"/><circle cx="202.5" cy="467.7" r="2.45"/><circle cx="202.3" cy="466.0" r="2.45"/><circle cx="202.4" cy="469.5" r="2.45"/><circle cx="202.2" cy="469.3" r="2.45"/><circle cx="204.1" cy="464.7" r="2.45"/><circle cx="204.3" cy="466.6" r="2.45"/><circle cx="204.2" cy="470.2" r="2.45"/><circle cx="204.2" cy="467.6" r="2.45"/><circle cx="204.1" cy="468.4" r="2.45"/><circle cx="204.3" cy="468.6" r="2.45"/><circle cx="204.3" cy="469.8" r="2.45"/><circle cx="204.2" cy="473.2" r="2.45"/><circle cx="206.1" cy="467.8" r="2.45"/><circle cx="205.8" cy="469.7" r="2.45"/><circle cx="206.0" cy="471.8" r="2.45"/><circle cx="206.2" cy="472.5" r="2.45"/><circle cx="205.9" cy="466.5" r="2.45"/><circle cx="206.1" cy="464.2" r="2.45"/><circle cx="208.0" cy="467.3" r="2.45"/><circle cx="207.7" cy="469.4" r="2.45"/><circle cx="208.0" cy="465.3" r="2.45"/><circle cx="208.0" cy="474.4" r="2.45"/><circle cx="207.8" cy="468.7" r="2.45"/><circle cx="209.5" cy="472.1" r="2.45"/><circle cx="209.7" cy="472.8" r="2.45"/><circle cx="209.6" cy="470.9" r="2.45"/><circle cx="209.7" cy="472.2" r="2.45"/><circle cx="209.8" cy="471.7" r="2.45"/><circle cx="211.4" cy="475.6" r="2.45"/><circle cx="211.3" cy="474.4" r="2.45"/><circle cx="211.3" cy="469.7" r="2.45"/><circle cx="211.4" cy="475.5" r="2.45"/><circle cx="211.4" cy="470.6" r="2.45"/><circle cx="211.6" cy="468.0" r="2.45"/><circle cx="213.2" cy="472.7" r="2.45"/><circle cx="213.2" cy="472.3" r="2.45"/><circle cx="213.4" cy="471.7" r="2.45"/><circle cx="213.2" cy="466.3" r="2.45"/><circle cx="213.1" cy="463.5" r="2.45"/><circle cx="216.9" cy="458.5" r="2.45"/><circle cx="217.0" cy="471.6" r="2.45"/><circle cx="217.1" cy="465.4" r="2.45"/><circle cx="216.8" cy="470.3" r="2.45"/><circle cx="220.4" cy="458.1" r="2.45"/><circle cx="220.5" cy="470.6" r="2.45"/><circle cx="220.4" cy="459.4" r="2.45"/><circle cx="220.5" cy="480.0" r="2.45"/><circle cx="220.7" cy="461.2" r="2.45"/><circle cx="220.4" cy="474.5" r="2.45"/><circle cx="222.2" cy="468.5" r="2.45"/><circle cx="222.3" cy="466.0" r="2.45"/><circle cx="222.3" cy="472.3" r="2.45"/><circle cx="222.2" cy="471.2" r="2.45"/><circle cx="222.5" cy="466.7" r="2.45"/><circle cx="224.2" cy="473.5" r="2.45"/><circle cx="224.3" cy="468.2" r="2.45"/><circle cx="226.2" cy="469.5" r="2.45"/><circle cx="226.1" cy="471.6" r="2.45"/><circle cx="225.9" cy="468.8" r="2.45"/><circle cx="228.0" cy="468.9" r="2.45"/><circle cx="227.9" cy="469.6" r="2.45"/><circle cx="227.6" cy="473.0" r="2.45"/><circle cx="229.7" cy="468.7" r="2.45"/><circle cx="229.8" cy="470.5" r="2.45"/><circle cx="229.5" cy="470.6" r="2.45"/><circle cx="229.7" cy="468.4" r="2.45"/><circle cx="231.6" cy="468.2" r="2.45"/><circle cx="231.5" cy="467.9" r="2.45"/><circle cx="231.5" cy="467.9" r="2.45"/><circle cx="234.9" cy="456.7" r="2.45"/><circle cx="234.9" cy="456.3" r="2.45"/><circle cx="234.9" cy="458.7" r="2.45"/><circle cx="237.0" cy="452.2" r="2.45"/><circle cx="236.9" cy="453.0" r="2.45"/><circle cx="236.7" cy="454.3" r="2.45"/><circle cx="236.9" cy="453.9" r="2.45"/><circle cx="236.9" cy="452.5" r="2.45"/><circle cx="238.9" cy="445.1" r="2.45"/><circle cx="238.7" cy="447.5" r="2.45"/><circle cx="240.4" cy="435.7" r="2.45"/><circle cx="240.5" cy="435.7" r="2.45"/><circle cx="242.2" cy="428.7" r="2.45"/><circle cx="242.4" cy="428.4" r="2.45"/><circle cx="242.3" cy="427.6" r="2.45"/><circle cx="242.3" cy="429.0" r="2.45"/><circle cx="242.3" cy="429.2" r="2.45"/><circle cx="242.3" cy="428.1" r="2.45"/><circle cx="244.3" cy="420.1" r="2.45"/><circle cx="244.0" cy="419.8" r="2.45"/><circle cx="246.1" cy="426.7" r="2.45"/><circle cx="245.8" cy="425.3" r="2.45"/><circle cx="246.1" cy="426.4" r="2.45"/><circle cx="249.7" cy="453.0" r="2.45"/><circle cx="249.6" cy="450.4" r="2.45"/><circle cx="251.6" cy="455.1" r="2.45"/><circle cx="251.4" cy="456.6" r="2.45"/><circle cx="251.3" cy="455.8" r="2.45"/><circle cx="251.5" cy="458.0" r="2.45"/><circle cx="253.1" cy="460.8" r="2.45"/><circle cx="253.2" cy="459.6" r="2.45"/><circle cx="253.3" cy="460.7" r="2.45"/><circle cx="253.3" cy="462.8" r="2.45"/><circle cx="255.0" cy="459.3" r="2.45"/><circle cx="255.0" cy="462.5" r="2.45"/><circle cx="255.1" cy="461.8" r="2.45"/><circle cx="255.2" cy="460.0" r="2.45"/><circle cx="257.0" cy="467.8" r="2.45"/><circle cx="257.0" cy="467.9" r="2.45"/><circle cx="256.9" cy="466.1" r="2.45"/><circle cx="256.8" cy="466.7" r="2.45"/><circle cx="256.7" cy="469.0" r="2.45"/><circle cx="256.7" cy="466.3" r="2.45"/><circle cx="258.9" cy="471.6" r="2.45"/><circle cx="258.5" cy="471.5" r="2.45"/><circle cx="258.8" cy="470.7" r="2.45"/><circle cx="258.7" cy="467.8" r="2.45"/><circle cx="262.3" cy="468.8" r="2.45"/><circle cx="262.3" cy="470.7" r="2.45"/><circle cx="262.5" cy="470.0" r="2.45"/><circle cx="264.1" cy="477.0" r="2.45"/><circle cx="264.2" cy="475.5" r="2.45"/><circle cx="264.1" cy="476.0" r="2.45"/><circle cx="264.0" cy="474.0" r="2.45"/><circle cx="265.9" cy="473.7" r="2.45"/><circle cx="265.8" cy="471.0" r="2.45"/><circle cx="266.1" cy="472.8" r="2.45"/><circle cx="267.6" cy="474.5" r="2.45"/><circle cx="267.9" cy="469.4" r="2.45"/><circle cx="269.7" cy="481.2" r="2.45"/><circle cx="269.8" cy="476.5" r="2.45"/><circle cx="269.7" cy="472.8" r="2.45"/><circle cx="269.6" cy="475.8" r="2.45"/><circle cx="271.3" cy="466.7" r="2.45"/><circle cx="271.5" cy="466.0" r="2.45"/><circle cx="271.3" cy="465.1" r="2.45"/><circle cx="271.4" cy="467.4" r="2.45"/><circle cx="271.4" cy="475.8" r="2.45"/><circle cx="273.3" cy="474.4" r="2.45"/><circle cx="273.2" cy="470.0" r="2.45"/><circle cx="273.4" cy="470.8" r="2.45"/><circle cx="273.3" cy="474.5" r="2.45"/><circle cx="275.0" cy="474.4" r="2.45"/><circle cx="274.9" cy="479.1" r="2.45"/><circle cx="275.0" cy="468.7" r="2.45"/><circle cx="275.0" cy="478.8" r="2.45"/><circle cx="275.0" cy="468.9" r="2.45"/><circle cx="275.2" cy="477.5" r="2.45"/><circle cx="275.0" cy="475.3" r="2.45"/><circle cx="274.9" cy="483.9" r="2.45"/><circle cx="277.0" cy="477.4" r="2.45"/><circle cx="276.8" cy="473.6" r="2.45"/><circle cx="277.0" cy="467.4" r="2.45"/><circle cx="276.7" cy="468.7" r="2.45"/><circle cx="276.7" cy="481.7" r="2.45"/><circle cx="278.7" cy="481.7" r="2.45"/><circle cx="278.9" cy="466.2" r="2.45"/><circle cx="278.7" cy="470.2" r="2.45"/><circle cx="278.8" cy="477.8" r="2.45"/><circle cx="278.7" cy="469.0" r="2.45"/><circle cx="293.1" cy="479.3" r="2.45"/><circle cx="293.2" cy="481.1" r="2.45"/><circle cx="293.1" cy="475.3" r="2.45"/><circle cx="293.0" cy="480.5" r="2.45"/><circle cx="293.3" cy="476.6" r="2.45"/><circle cx="295.2" cy="470.9" r="2.45"/><circle cx="295.1" cy="470.5" r="2.45"/><circle cx="295.0" cy="475.7" r="2.45"/><circle cx="294.8" cy="474.1" r="2.45"/><circle cx="295.1" cy="470.8" r="2.45"/><circle cx="295.1" cy="468.7" r="2.45"/><circle cx="294.8" cy="472.5" r="2.45"/><circle cx="296.9" cy="475.8" r="2.45"/><circle cx="296.9" cy="474.2" r="2.45"/><circle cx="296.9" cy="476.5" r="2.45"/><circle cx="296.9" cy="474.1" r="2.45"/><circle cx="296.8" cy="474.9" r="2.45"/><circle cx="298.8" cy="476.6" r="2.45"/><circle cx="298.8" cy="478.3" r="2.45"/><circle cx="298.7" cy="479.9" r="2.45"/><circle cx="298.7" cy="470.4" r="2.45"/><circle cx="298.7" cy="482.6" r="2.45"/><circle cx="298.8" cy="475.6" r="2.45"/><circle cx="298.7" cy="472.8" r="2.45"/><circle cx="300.6" cy="476.9" r="2.45"/><circle cx="300.6" cy="481.1" r="2.45"/><circle cx="300.6" cy="478.1" r="2.45"/><circle cx="300.4" cy="480.3" r="2.45"/><circle cx="300.6" cy="480.5" r="2.45"/><circle cx="302.3" cy="472.9" r="2.45"/><circle cx="302.3" cy="475.3" r="2.45"/><circle cx="302.4" cy="478.6" r="2.45"/><circle cx="302.3" cy="474.8" r="2.45"/><circle cx="302.3" cy="478.5" r="2.45"/><circle cx="302.2" cy="476.4" r="2.45"/><circle cx="302.4" cy="470.7" r="2.45"/><circle cx="302.2" cy="473.3" r="2.45"/><circle cx="304.2" cy="477.2" r="2.45"/><circle cx="304.2" cy="472.1" r="2.45"/><circle cx="304.1" cy="467.4" r="2.45"/><circle cx="304.1" cy="465.7" r="2.45"/><circle cx="304.2" cy="469.2" r="2.45"/><circle cx="304.2" cy="467.5" r="2.45"/><circle cx="306.0" cy="476.3" r="2.45"/><circle cx="305.8" cy="478.0" r="2.45"/><circle cx="306.1" cy="475.8" r="2.45"/><circle cx="306.0" cy="474.7" r="2.45"/><circle cx="305.8" cy="473.6" r="2.45"/><circle cx="305.9" cy="479.6" r="2.45"/><circle cx="305.7" cy="473.0" r="2.45"/><circle cx="309.7" cy="471.6" r="2.45"/><circle cx="309.6" cy="473.0" r="2.45"/><circle cx="309.4" cy="474.9" r="2.45"/><circle cx="309.7" cy="471.0" r="2.45"/><circle cx="309.4" cy="475.6" r="2.45"/><circle cx="309.4" cy="474.8" r="2.45"/><circle cx="309.6" cy="471.7" r="2.45"/><circle cx="309.6" cy="474.4" r="2.45"/><circle cx="311.2" cy="466.6" r="2.45"/><circle cx="311.5" cy="469.4" r="2.45"/><circle cx="311.5" cy="475.3" r="2.45"/><circle cx="311.4" cy="481.9" r="2.45"/><circle cx="311.5" cy="476.1" r="2.45"/><circle cx="311.2" cy="478.1" r="2.45"/><circle cx="311.2" cy="471.3" r="2.45"/><circle cx="311.4" cy="479.0" r="2.45"/><circle cx="313.2" cy="475.1" r="2.45"/><circle cx="313.0" cy="477.6" r="2.45"/><circle cx="313.2" cy="476.0" r="2.45"/><circle cx="313.0" cy="468.2" r="2.45"/><circle cx="313.2" cy="477.3" r="2.45"/><circle cx="313.0" cy="470.8" r="2.45"/><circle cx="313.3" cy="483.3" r="2.45"/><circle cx="314.9" cy="470.1" r="2.45"/><circle cx="315.0" cy="471.5" r="2.45"/><circle cx="315.0" cy="470.0" r="2.45"/><circle cx="315.0" cy="471.0" r="2.45"/><circle cx="314.9" cy="471.7" r="2.45"/><circle cx="314.8" cy="469.2" r="2.45"/><circle cx="316.7" cy="477.5" r="2.45"/><circle cx="316.8" cy="475.0" r="2.45"/><circle cx="317.0" cy="475.8" r="2.45"/><circle cx="316.7" cy="464.1" r="2.45"/><circle cx="316.9" cy="483.0" r="2.45"/><circle cx="317.0" cy="471.8" r="2.45"/><circle cx="317.0" cy="471.1" r="2.45"/><circle cx="316.8" cy="470.2" r="2.45"/><circle cx="318.7" cy="472.7" r="2.45"/><circle cx="318.5" cy="474.6" r="2.45"/><circle cx="318.6" cy="476.1" r="2.45"/><circle cx="318.8" cy="471.6" r="2.45"/><circle cx="318.7" cy="469.9" r="2.45"/><circle cx="318.5" cy="473.2" r="2.45"/><circle cx="320.3" cy="483.8" r="2.45"/><circle cx="320.6" cy="482.1" r="2.45"/><circle cx="320.3" cy="467.2" r="2.45"/><circle cx="320.6" cy="476.1" r="2.45"/><circle cx="320.4" cy="479.3" r="2.45"/><circle cx="320.5" cy="473.9" r="2.45"/><circle cx="320.4" cy="476.8" r="2.45"/><circle cx="320.3" cy="478.7" r="2.45"/><circle cx="322.3" cy="469.7" r="2.45"/><circle cx="322.4" cy="478.3" r="2.45"/><circle cx="322.3" cy="477.6" r="2.45"/><circle cx="322.2" cy="477.6" r="2.45"/><circle cx="322.1" cy="468.3" r="2.45"/><circle cx="322.2" cy="472.4" r="2.45"/><circle cx="322.5" cy="476.2" r="2.45"/><circle cx="322.4" cy="465.3" r="2.45"/><circle cx="324.0" cy="475.7" r="2.45"/><circle cx="324.1" cy="470.4" r="2.45"/><circle cx="324.1" cy="479.9" r="2.45"/><circle cx="324.0" cy="469.8" r="2.45"/><circle cx="323.9" cy="475.5" r="2.45"/><circle cx="326.1" cy="474.3" r="2.45"/><circle cx="325.9" cy="477.2" r="2.45"/><circle cx="325.7" cy="466.0" r="2.45"/><circle cx="326.0" cy="464.2" r="2.45"/><circle cx="325.8" cy="470.3" r="2.45"/><circle cx="326.1" cy="464.0" r="2.45"/><circle cx="333.3" cy="473.3" r="2.45"/><circle cx="333.1" cy="481.6" r="2.45"/><circle cx="333.1" cy="473.4" r="2.45"/><circle cx="333.1" cy="476.1" r="2.45"/><circle cx="333.2" cy="482.4" r="2.45"/><circle cx="335.1" cy="478.2" r="2.45"/><circle cx="335.1" cy="473.9" r="2.45"/><circle cx="334.8" cy="466.2" r="2.45"/><circle cx="334.9" cy="468.1" r="2.45"/><circle cx="334.8" cy="477.6" r="2.45"/><circle cx="334.9" cy="474.5" r="2.45"/><circle cx="335.1" cy="477.7" r="2.45"/><circle cx="338.6" cy="478.7" r="2.45"/><circle cx="338.5" cy="478.5" r="2.45"/><circle cx="338.5" cy="471.4" r="2.45"/><circle cx="338.6" cy="475.8" r="2.45"/><circle cx="338.8" cy="470.4" r="2.45"/><circle cx="338.8" cy="474.0" r="2.45"/><circle cx="338.5" cy="473.9" r="2.45"/><circle cx="340.6" cy="470.0" r="2.45"/><circle cx="340.3" cy="474.5" r="2.45"/><circle cx="340.5" cy="469.5" r="2.45"/><circle cx="340.4" cy="467.9" r="2.45"/><circle cx="340.5" cy="477.2" r="2.45"/><circle cx="340.6" cy="479.6" r="2.45"/><circle cx="347.9" cy="478.1" r="2.45"/><circle cx="347.8" cy="476.1" r="2.45"/><circle cx="347.6" cy="472.1" r="2.45"/><circle cx="347.6" cy="478.4" r="2.45"/><circle cx="347.9" cy="471.4" r="2.45"/><circle cx="347.6" cy="472.8" r="2.45"/><circle cx="349.5" cy="474.8" r="2.45"/><circle cx="349.4" cy="476.9" r="2.45"/><circle cx="349.6" cy="478.4" r="2.45"/><circle cx="349.6" cy="471.6" r="2.45"/><circle cx="349.7" cy="472.2" r="2.45"/><circle cx="351.4" cy="481.3" r="2.45"/><circle cx="351.3" cy="465.8" r="2.45"/><circle cx="351.3" cy="474.4" r="2.45"/><circle cx="351.2" cy="481.4" r="2.45"/><circle cx="351.2" cy="467.3" r="2.45"/><circle cx="351.2" cy="471.2" r="2.45"/><circle cx="351.4" cy="476.4" r="2.45"/><circle cx="351.4" cy="481.9" r="2.45"/><circle cx="353.4" cy="476.8" r="2.45"/><circle cx="353.2" cy="471.2" r="2.45"/><circle cx="353.3" cy="471.7" r="2.45"/><circle cx="353.1" cy="473.9" r="2.45"/><circle cx="353.1" cy="473.1" r="2.45"/><circle cx="365.8" cy="465.8" r="2.45"/><circle cx="365.9" cy="462.7" r="2.45"/><circle cx="365.7" cy="462.7" r="2.45"/><circle cx="365.9" cy="465.9" r="2.45"/><circle cx="365.8" cy="463.6" r="2.45"/><circle cx="367.8" cy="474.5" r="2.45"/><circle cx="367.7" cy="460.6" r="2.45"/><circle cx="367.7" cy="459.0" r="2.45"/><circle cx="367.8" cy="476.7" r="2.45"/><circle cx="367.5" cy="462.9" r="2.45"/><circle cx="367.8" cy="461.1" r="2.45"/><circle cx="367.8" cy="453.6" r="2.45"/><circle cx="367.8" cy="480.9" r="2.45"/><circle cx="369.5" cy="463.9" r="2.45"/><circle cx="369.7" cy="462.9" r="2.45"/><circle cx="369.7" cy="471.1" r="2.45"/><circle cx="369.3" cy="463.4" r="2.45"/><circle cx="369.6" cy="466.9" r="2.45"/><circle cx="371.4" cy="464.4" r="2.45"/><circle cx="371.5" cy="474.9" r="2.45"/><circle cx="371.2" cy="475.7" r="2.45"/><circle cx="371.2" cy="473.3" r="2.45"/><circle cx="371.5" cy="462.8" r="2.45"/><circle cx="371.3" cy="470.0" r="2.45"/><circle cx="371.2" cy="472.2" r="2.45"/><circle cx="373.0" cy="476.7" r="2.45"/><circle cx="373.3" cy="476.0" r="2.45"/><circle cx="373.2" cy="467.7" r="2.45"/><circle cx="373.0" cy="468.8" r="2.45"/><circle cx="373.1" cy="470.9" r="2.45"/><circle cx="373.2" cy="475.3" r="2.45"/><circle cx="373.1" cy="468.7" r="2.45"/><circle cx="373.3" cy="470.2" r="2.45"/><circle cx="375.1" cy="471.6" r="2.45"/><circle cx="375.1" cy="478.3" r="2.45"/><circle cx="374.9" cy="471.5" r="2.45"/><circle cx="374.9" cy="477.0" r="2.45"/><circle cx="374.8" cy="470.9" r="2.45"/><circle cx="375.0" cy="471.6" r="2.45"/><circle cx="375.0" cy="476.1" r="2.45"/><circle cx="377.0" cy="477.9" r="2.45"/><circle cx="376.9" cy="478.5" r="2.45"/><circle cx="376.7" cy="475.4" r="2.45"/><circle cx="376.8" cy="473.6" r="2.45"/><circle cx="376.6" cy="473.6" r="2.45"/><circle cx="376.7" cy="475.3" r="2.45"/><circle cx="376.9" cy="474.0" r="2.45"/><circle cx="378.6" cy="472.8" r="2.45"/><circle cx="378.6" cy="475.8" r="2.45"/><circle cx="378.5" cy="474.8" r="2.45"/><circle cx="378.5" cy="477.2" r="2.45"/><circle cx="378.8" cy="473.9" r="2.45"/><circle cx="378.6" cy="474.1" r="2.45"/><circle cx="380.5" cy="472.7" r="2.45"/><circle cx="380.3" cy="475.0" r="2.45"/><circle cx="380.2" cy="472.8" r="2.45"/><circle cx="380.3" cy="477.0" r="2.45"/><circle cx="380.4" cy="468.3" r="2.45"/><circle cx="382.4" cy="482.1" r="2.45"/><circle cx="382.1" cy="473.3" r="2.45"/><circle cx="382.3" cy="471.5" r="2.45"/><circle cx="382.2" cy="470.1" r="2.45"/><circle cx="382.2" cy="472.7" r="2.45"/><circle cx="382.4" cy="480.1" r="2.45"/><circle cx="384.0" cy="469.4" r="2.45"/><circle cx="384.2" cy="471.8" r="2.45"/><circle cx="383.9" cy="472.6" r="2.45"/><circle cx="384.0" cy="468.2" r="2.45"/><circle cx="383.9" cy="470.6" r="2.45"/><circle cx="383.9" cy="473.0" r="2.45"/><circle cx="386.0" cy="472.9" r="2.45"/><circle cx="386.0" cy="473.3" r="2.45"/><circle cx="385.8" cy="473.5" r="2.45"/><circle cx="385.9" cy="472.9" r="2.45"/><circle cx="386.1" cy="474.3" r="2.45"/><circle cx="385.9" cy="475.2" r="2.45"/><circle cx="387.7" cy="479.2" r="2.45"/><circle cx="387.6" cy="470.1" r="2.45"/><circle cx="387.7" cy="477.0" r="2.45"/><circle cx="387.7" cy="473.1" r="2.45"/><circle cx="387.8" cy="473.2" r="2.45"/><circle cx="387.7" cy="476.4" r="2.45"/><circle cx="389.6" cy="469.7" r="2.45"/><circle cx="389.7" cy="470.8" r="2.45"/><circle cx="389.5" cy="475.3" r="2.45"/><circle cx="389.3" cy="474.9" r="2.45"/><circle cx="389.7" cy="474.5" r="2.45"/><circle cx="389.4" cy="473.1" r="2.45"/><circle cx="389.7" cy="472.9" r="2.45"/><circle cx="389.4" cy="470.7" r="2.45"/><circle cx="391.3" cy="473.2" r="2.45"/><circle cx="391.5" cy="475.9" r="2.45"/><circle cx="391.4" cy="470.2" r="2.45"/><circle cx="391.4" cy="473.7" r="2.45"/><circle cx="391.2" cy="473.6" r="2.45"/><circle cx="391.2" cy="469.3" r="2.45"/><circle cx="391.2" cy="472.5" r="2.45"/><circle cx="393.1" cy="473.3" r="2.45"/><circle cx="393.3" cy="477.5" r="2.45"/><circle cx="393.3" cy="472.8" r="2.45"/><circle cx="393.0" cy="475.5" r="2.45"/><circle cx="393.0" cy="472.2" r="2.45"/><circle cx="394.8" cy="475.9" r="2.45"/><circle cx="395.1" cy="474.7" r="2.45"/><circle cx="394.9" cy="471.7" r="2.45"/><circle cx="395.1" cy="478.6" r="2.45"/><circle cx="395.1" cy="471.8" r="2.45"/><circle cx="395.1" cy="465.7" r="2.45"/><circle cx="394.8" cy="470.8" r="2.45"/><circle cx="394.9" cy="475.7" r="2.45"/><circle cx="396.8" cy="473.1" r="2.45"/><circle cx="396.8" cy="475.6" r="2.45"/><circle cx="396.8" cy="471.7" r="2.45"/><circle cx="396.8" cy="478.9" r="2.45"/><circle cx="396.7" cy="476.1" r="2.45"/><circle cx="396.6" cy="471.1" r="2.45"/><circle cx="396.6" cy="471.0" r="2.45"/><circle cx="398.8" cy="475.6" r="2.45"/><circle cx="398.8" cy="475.1" r="2.45"/><circle cx="398.6" cy="477.8" r="2.45"/><circle cx="398.8" cy="473.9" r="2.45"/><circle cx="398.5" cy="478.9" r="2.45"/><circle cx="398.6" cy="473.6" r="2.45"/><circle cx="398.4" cy="473.1" r="2.45"/><circle cx="398.5" cy="476.0" r="2.45"/><circle cx="400.5" cy="470.0" r="2.45"/><circle cx="400.4" cy="473.9" r="2.45"/><circle cx="400.5" cy="474.9" r="2.45"/><circle cx="400.4" cy="478.2" r="2.45"/><circle cx="400.6" cy="475.7" r="2.45"/><circle cx="400.5" cy="477.2" r="2.45"/><circle cx="400.3" cy="473.6" r="2.45"/><circle cx="400.5" cy="476.7" r="2.45"/><circle cx="402.4" cy="473.7" r="2.45"/><circle cx="402.4" cy="466.7" r="2.45"/><circle cx="402.1" cy="469.0" r="2.45"/><circle cx="402.3" cy="474.2" r="2.45"/><circle cx="402.1" cy="473.5" r="2.45"/><circle cx="402.4" cy="470.8" r="2.45"/><circle cx="404.0" cy="470.2" r="2.45"/><circle cx="404.1" cy="472.8" r="2.45"/><circle cx="404.0" cy="475.8" r="2.45"/><circle cx="403.9" cy="477.9" r="2.45"/><circle cx="404.2" cy="478.3" r="2.45"/><circle cx="404.0" cy="477.7" r="2.45"/><circle cx="404.2" cy="477.8" r="2.45"/><circle cx="405.9" cy="481.0" r="2.45"/><circle cx="405.8" cy="480.9" r="2.45"/><circle cx="405.9" cy="480.5" r="2.45"/><circle cx="405.9" cy="474.8" r="2.45"/><circle cx="405.8" cy="479.4" r="2.45"/><circle cx="406.0" cy="475.5" r="2.45"/><circle cx="406.0" cy="480.3" r="2.45"/><circle cx="406.0" cy="472.4" r="2.45"/><circle cx="407.8" cy="477.4" r="2.45"/><circle cx="407.7" cy="472.4" r="2.45"/><circle cx="407.7" cy="476.0" r="2.45"/><circle cx="407.5" cy="475.0" r="2.45"/><circle cx="407.7" cy="474.2" r="2.45"/><circle cx="407.8" cy="473.1" r="2.45"/><circle cx="409.6" cy="476.5" r="2.45"/><circle cx="409.4" cy="476.9" r="2.45"/><circle cx="409.5" cy="480.5" r="2.45"/><circle cx="409.6" cy="481.7" r="2.45"/><circle cx="409.5" cy="481.0" r="2.45"/><circle cx="409.6" cy="472.0" r="2.45"/><circle cx="411.3" cy="472.1" r="2.45"/><circle cx="411.2" cy="475.9" r="2.45"/><circle cx="411.2" cy="476.0" r="2.45"/><circle cx="411.3" cy="467.5" r="2.45"/><circle cx="411.5" cy="471.8" r="2.45"/><circle cx="411.2" cy="470.4" r="2.45"/><circle cx="411.2" cy="477.0" r="2.45"/><circle cx="413.0" cy="478.7" r="2.45"/><circle cx="413.2" cy="475.7" r="2.45"/><circle cx="413.1" cy="480.6" r="2.45"/><circle cx="413.0" cy="469.8" r="2.45"/><circle cx="413.3" cy="463.8" r="2.45"/><circle cx="413.3" cy="476.3" r="2.45"/><circle cx="413.1" cy="471.3" r="2.45"/><circle cx="413.1" cy="476.6" r="2.45"/><circle cx="415.0" cy="470.9" r="2.45"/><circle cx="415.1" cy="476.9" r="2.45"/><circle cx="415.1" cy="471.8" r="2.45"/><circle cx="414.8" cy="474.5" r="2.45"/><circle cx="414.9" cy="469.5" r="2.45"/><circle cx="414.9" cy="477.3" r="2.45"/><circle cx="414.8" cy="478.8" r="2.45"/><circle cx="415.0" cy="467.0" r="2.45"/><circle cx="416.7" cy="477.2" r="2.45"/><circle cx="416.8" cy="469.4" r="2.45"/><circle cx="416.8" cy="476.2" r="2.45"/><circle cx="416.9" cy="476.4" r="2.45"/><circle cx="416.8" cy="471.5" r="2.45"/><circle cx="418.5" cy="469.0" r="2.45"/><circle cx="418.6" cy="474.1" r="2.45"/><circle cx="418.5" cy="470.1" r="2.45"/><circle cx="418.6" cy="469.8" r="2.45"/><circle cx="418.4" cy="473.3" r="2.45"/><circle cx="420.5" cy="473.4" r="2.45"/><circle cx="420.3" cy="471.5" r="2.45"/><circle cx="420.2" cy="479.0" r="2.45"/><circle cx="420.4" cy="479.1" r="2.45"/><circle cx="420.3" cy="468.9" r="2.45"/><circle cx="420.3" cy="482.3" r="2.45"/><circle cx="422.3" cy="478.6" r="2.45"/><circle cx="422.1" cy="468.3" r="2.45"/><circle cx="422.1" cy="465.2" r="2.45"/><circle cx="422.1" cy="470.6" r="2.45"/><circle cx="422.3" cy="481.2" r="2.45"/><circle cx="422.2" cy="474.4" r="2.45"/><circle cx="422.3" cy="465.0" r="2.45"/><circle cx="423.9" cy="465.1" r="2.45"/><circle cx="424.2" cy="484.1" r="2.45"/><circle cx="424.0" cy="483.3" r="2.45"/><circle cx="423.9" cy="481.4" r="2.45"/><circle cx="424.2" cy="483.1" r="2.45"/><circle cx="424.0" cy="478.0" r="2.45"/><circle cx="425.8" cy="466.3" r="2.45"/><circle cx="425.8" cy="471.5" r="2.45"/><circle cx="425.9" cy="467.6" r="2.45"/><circle cx="425.9" cy="478.4" r="2.45"/><circle cx="425.7" cy="481.9" r="2.45"/><circle cx="425.7" cy="473.7" r="2.45"/><circle cx="425.7" cy="471.7" r="2.45"/><circle cx="427.5" cy="482.6" r="2.45"/><circle cx="427.5" cy="479.1" r="2.45"/><circle cx="427.8" cy="470.2" r="2.45"/><circle cx="427.7" cy="476.1" r="2.45"/><circle cx="427.8" cy="475.6" r="2.45"/><circle cx="431.2" cy="468.7" r="2.45"/><circle cx="431.3" cy="467.7" r="2.45"/><circle cx="431.4" cy="477.3" r="2.45"/><circle cx="431.4" cy="468.3" r="2.45"/><circle cx="431.3" cy="467.5" r="2.45"/><circle cx="431.3" cy="469.4" r="2.45"/><circle cx="433.0" cy="486.9" r="2.45"/><circle cx="433.2" cy="476.0" r="2.45"/><circle cx="433.3" cy="476.8" r="2.45"/><circle cx="433.2" cy="487.8" r="2.45"/><circle cx="433.0" cy="473.7" r="2.45"/><circle cx="433.0" cy="476.3" r="2.45"/><circle cx="435.0" cy="472.2" r="2.45"/><circle cx="435.0" cy="469.9" r="2.45"/><circle cx="434.8" cy="474.6" r="2.45"/><circle cx="435.0" cy="474.8" r="2.45"/><circle cx="435.1" cy="469.1" r="2.45"/><circle cx="435.0" cy="473.7" r="2.45"/><circle cx="434.8" cy="472.5" r="2.45"/><circle cx="437.0" cy="474.2" r="2.45"/><circle cx="436.6" cy="473.2" r="2.45"/><circle cx="436.7" cy="474.9" r="2.45"/><circle cx="436.8" cy="472.5" r="2.45"/><circle cx="436.6" cy="474.1" r="2.45"/><circle cx="438.5" cy="470.6" r="2.45"/><circle cx="438.7" cy="477.8" r="2.45"/><circle cx="438.5" cy="479.7" r="2.45"/><circle cx="438.6" cy="473.3" r="2.45"/><circle cx="438.6" cy="482.3" r="2.45"/><circle cx="438.6" cy="476.3" r="2.45"/><circle cx="438.7" cy="477.1" r="2.45"/><circle cx="438.4" cy="478.6" r="2.45"/><circle cx="440.4" cy="478.4" r="2.45"/><circle cx="440.4" cy="476.7" r="2.45"/><circle cx="440.3" cy="477.5" r="2.45"/><circle cx="440.2" cy="484.2" r="2.45"/><circle cx="440.2" cy="475.6" r="2.45"/><circle cx="442.1" cy="461.8" r="2.45"/><circle cx="442.3" cy="477.2" r="2.45"/><circle cx="442.1" cy="463.2" r="2.45"/><circle cx="442.2" cy="467.8" r="2.45"/><circle cx="442.1" cy="468.7" r="2.45"/><circle cx="442.2" cy="465.2" r="2.45"/><circle cx="442.3" cy="465.9" r="2.45"/><circle cx="444.2" cy="463.0" r="2.45"/><circle cx="443.9" cy="462.5" r="2.45"/><circle cx="443.9" cy="468.7" r="2.45"/><circle cx="443.8" cy="462.6" r="2.45"/><circle cx="443.8" cy="467.5" r="2.45"/><circle cx="444.2" cy="457.8" r="2.45"/><circle cx="445.7" cy="469.9" r="2.45"/><circle cx="445.7" cy="477.9" r="2.45"/><circle cx="445.7" cy="480.1" r="2.45"/><circle cx="445.9" cy="474.1" r="2.45"/><circle cx="445.8" cy="474.4" r="2.45"/><circle cx="447.8" cy="479.0" r="2.45"/><circle cx="447.6" cy="472.1" r="2.45"/><circle cx="447.6" cy="468.3" r="2.45"/><circle cx="447.6" cy="471.6" r="2.45"/><circle cx="447.8" cy="472.6" r="2.45"/><circle cx="449.4" cy="473.2" r="2.45"/><circle cx="449.6" cy="465.0" r="2.45"/><circle cx="449.7" cy="466.4" r="2.45"/><circle cx="449.4" cy="467.6" r="2.45"/><circle cx="449.6" cy="474.7" r="2.45"/><circle cx="449.7" cy="474.2" r="2.45"/><circle cx="449.4" cy="469.3" r="2.45"/><circle cx="451.2" cy="480.3" r="2.45"/><circle cx="451.1" cy="479.1" r="2.45"/><circle cx="451.4" cy="479.9" r="2.45"/><circle cx="451.1" cy="480.2" r="2.45"/><circle cx="451.4" cy="474.4" r="2.45"/><circle cx="451.2" cy="471.0" r="2.45"/><circle cx="451.1" cy="469.7" r="2.45"/><circle cx="453.1" cy="469.3" r="2.45"/><circle cx="453.2" cy="475.0" r="2.45"/><circle cx="453.0" cy="474.8" r="2.45"/><circle cx="453.1" cy="474.0" r="2.45"/><circle cx="453.0" cy="471.4" r="2.45"/><circle cx="453.2" cy="473.4" r="2.45"/><circle cx="453.1" cy="470.5" r="2.45"/><circle cx="454.8" cy="475.8" r="2.45"/><circle cx="454.9" cy="473.0" r="2.45"/><circle cx="455.0" cy="470.8" r="2.45"/><circle cx="455.1" cy="474.0" r="2.45"/><circle cx="455.0" cy="474.7" r="2.45"/><circle cx="455.0" cy="470.7" r="2.45"/><circle cx="456.7" cy="475.1" r="2.45"/><circle cx="456.8" cy="478.6" r="2.45"/><circle cx="456.6" cy="477.9" r="2.45"/><circle cx="456.8" cy="471.8" r="2.45"/><circle cx="456.9" cy="473.4" r="2.45"/><circle cx="456.8" cy="468.8" r="2.45"/><circle cx="456.9" cy="475.0" r="2.45"/><circle cx="456.7" cy="479.4" r="2.45"/><circle cx="458.7" cy="468.0" r="2.45"/><circle cx="458.4" cy="475.0" r="2.45"/><circle cx="458.4" cy="465.5" r="2.45"/><circle cx="458.7" cy="474.1" r="2.45"/><circle cx="458.7" cy="478.9" r="2.45"/><circle cx="458.5" cy="469.3" r="2.45"/><circle cx="460.3" cy="477.7" r="2.45"/><circle cx="460.4" cy="472.9" r="2.45"/><circle cx="460.4" cy="478.2" r="2.45"/><circle cx="460.4" cy="460.1" r="2.45"/><circle cx="460.4" cy="463.7" r="2.45"/><circle cx="460.3" cy="468.2" r="2.45"/><circle cx="460.2" cy="476.3" r="2.45"/><circle cx="460.5" cy="473.5" r="2.45"/><circle cx="462.4" cy="471.3" r="2.45"/><circle cx="462.0" cy="466.0" r="2.45"/><circle cx="462.2" cy="475.3" r="2.45"/><circle cx="462.3" cy="475.0" r="2.45"/><circle cx="462.3" cy="464.2" r="2.45"/><circle cx="465.8" cy="476.3" r="2.45"/><circle cx="465.6" cy="465.0" r="2.45"/><circle cx="465.7" cy="475.2" r="2.45"/><circle cx="465.8" cy="468.7" r="2.45"/><circle cx="465.9" cy="475.3" r="2.45"/><circle cx="466.0" cy="473.3" r="2.45"/><circle cx="465.7" cy="477.1" r="2.45"/><circle cx="467.6" cy="476.6" r="2.45"/><circle cx="467.5" cy="479.1" r="2.45"/><circle cx="467.5" cy="474.7" r="2.45"/><circle cx="467.6" cy="478.2" r="2.45"/><circle cx="467.8" cy="469.4" r="2.45"/><circle cx="469.3" cy="477.2" r="2.45"/><circle cx="469.4" cy="481.5" r="2.45"/><circle cx="469.3" cy="475.5" r="2.45"/><circle cx="469.4" cy="476.7" r="2.45"/><circle cx="469.4" cy="480.3" r="2.45"/><circle cx="469.4" cy="483.0" r="2.45"/><circle cx="469.3" cy="478.9" r="2.45"/><circle cx="471.3" cy="481.9" r="2.45"/><circle cx="471.3" cy="478.7" r="2.45"/><circle cx="471.2" cy="471.2" r="2.45"/><circle cx="471.1" cy="468.2" r="2.45"/><circle cx="471.4" cy="470.0" r="2.45"/><circle cx="471.4" cy="474.4" r="2.45"/><circle cx="473.1" cy="463.6" r="2.45"/><circle cx="473.2" cy="474.5" r="2.45"/><circle cx="473.1" cy="466.3" r="2.45"/><circle cx="473.0" cy="471.0" r="2.45"/><circle cx="473.1" cy="474.9" r="2.45"/><circle cx="472.9" cy="468.1" r="2.45"/><circle cx="474.8" cy="473.5" r="2.45"/><circle cx="474.8" cy="474.7" r="2.45"/><circle cx="474.7" cy="467.1" r="2.45"/><circle cx="474.7" cy="474.1" r="2.45"/><circle cx="474.9" cy="466.6" r="2.45"/><circle cx="474.8" cy="473.0" r="2.45"/><circle cx="478.7" cy="471.2" r="2.45"/><circle cx="478.7" cy="476.6" r="2.45"/><circle cx="478.6" cy="473.2" r="2.45"/><circle cx="478.7" cy="471.6" r="2.45"/><circle cx="478.4" cy="472.9" r="2.45"/><circle cx="478.5" cy="470.7" r="2.45"/><circle cx="480.2" cy="470.5" r="2.45"/><circle cx="480.2" cy="472.8" r="2.45"/><circle cx="480.2" cy="471.1" r="2.45"/><circle cx="480.4" cy="473.7" r="2.45"/><circle cx="480.4" cy="471.8" r="2.45"/><circle cx="480.5" cy="474.7" r="2.45"/><circle cx="482.4" cy="472.7" r="2.45"/><circle cx="482.0" cy="470.4" r="2.45"/><circle cx="482.4" cy="473.0" r="2.45"/><circle cx="482.0" cy="470.1" r="2.45"/><circle cx="482.0" cy="467.2" r="2.45"/><circle cx="482.3" cy="471.1" r="2.45"/><circle cx="482.1" cy="468.2" r="2.45"/><circle cx="484.2" cy="471.9" r="2.45"/><circle cx="483.9" cy="477.0" r="2.45"/><circle cx="484.1" cy="469.0" r="2.45"/><circle cx="484.2" cy="472.2" r="2.45"/><circle cx="484.0" cy="472.1" r="2.45"/><circle cx="483.9" cy="470.2" r="2.45"/><circle cx="484.1" cy="469.4" r="2.45"/><circle cx="485.7" cy="475.0" r="2.45"/><circle cx="485.8" cy="474.5" r="2.45"/><circle cx="485.7" cy="472.9" r="2.45"/><circle cx="485.8" cy="479.1" r="2.45"/><circle cx="486.0" cy="473.2" r="2.45"/><circle cx="485.9" cy="476.0" r="2.45"/><circle cx="485.7" cy="478.5" r="2.45"/><circle cx="487.8" cy="469.6" r="2.45"/><circle cx="487.7" cy="479.1" r="2.45"/><circle cx="487.8" cy="480.2" r="2.45"/><circle cx="487.5" cy="474.3" r="2.45"/><circle cx="487.6" cy="477.7" r="2.45"/><circle cx="489.6" cy="478.3" r="2.45"/><circle cx="489.4" cy="471.7" r="2.45"/><circle cx="489.6" cy="470.2" r="2.45"/><circle cx="489.3" cy="473.6" r="2.45"/><circle cx="489.5" cy="474.7" r="2.45"/><circle cx="489.6" cy="476.6" r="2.45"/><circle cx="489.6" cy="474.2" r="2.45"/><circle cx="491.1" cy="473.2" r="2.45"/><circle cx="491.2" cy="477.7" r="2.45"/><circle cx="491.5" cy="474.1" r="2.45"/><circle cx="491.4" cy="475.4" r="2.45"/><circle cx="491.4" cy="472.9" r="2.45"/><circle cx="491.4" cy="468.8" r="2.45"/><circle cx="491.2" cy="476.1" r="2.45"/><circle cx="491.4" cy="470.7" r="2.45"/><circle cx="492.9" cy="485.1" r="2.45"/><circle cx="493.2" cy="477.8" r="2.45"/><circle cx="493.1" cy="481.0" r="2.45"/><circle cx="492.9" cy="477.2" r="2.45"/><circle cx="493.0" cy="473.7" r="2.45"/><circle cx="495.0" cy="471.1" r="2.45"/><circle cx="494.9" cy="469.9" r="2.45"/><circle cx="494.9" cy="472.4" r="2.45"/><circle cx="494.8" cy="478.6" r="2.45"/><circle cx="494.8" cy="476.2" r="2.45"/><circle cx="495.0" cy="474.8" r="2.45"/><circle cx="496.7" cy="474.4" r="2.45"/><circle cx="496.9" cy="477.7" r="2.45"/><circle cx="496.5" cy="477.6" r="2.45"/><circle cx="496.5" cy="467.9" r="2.45"/><circle cx="496.9" cy="475.6" r="2.45"/><circle cx="496.6" cy="473.7" r="2.45"/><circle cx="498.7" cy="479.0" r="2.45"/><circle cx="498.6" cy="478.4" r="2.45"/><circle cx="498.7" cy="477.1" r="2.45"/><circle cx="498.6" cy="477.6" r="2.45"/><circle cx="498.6" cy="474.7" r="2.45"/><circle cx="498.6" cy="479.9" r="2.45"/><circle cx="498.7" cy="477.0" r="2.45"/><circle cx="498.6" cy="479.2" r="2.45"/><circle cx="500.2" cy="474.8" r="2.45"/><circle cx="500.2" cy="477.1" r="2.45"/><circle cx="500.3" cy="475.0" r="2.45"/><circle cx="500.4" cy="472.4" r="2.45"/><circle cx="500.2" cy="470.6" r="2.45"/><circle cx="500.2" cy="474.5" r="2.45"/><circle cx="500.5" cy="476.2" r="2.45"/><circle cx="500.5" cy="471.1" r="2.45"/><circle cx="502.2" cy="474.5" r="2.45"/><circle cx="502.0" cy="475.9" r="2.45"/><circle cx="502.1" cy="470.3" r="2.45"/><circle cx="502.1" cy="474.5" r="2.45"/><circle cx="502.1" cy="473.0" r="2.45"/><circle cx="502.1" cy="470.0" r="2.45"/><circle cx="502.2" cy="470.8" r="2.45"/><circle cx="503.9" cy="477.4" r="2.45"/><circle cx="503.8" cy="476.5" r="2.45"/><circle cx="504.0" cy="476.3" r="2.45"/><circle cx="504.2" cy="478.4" r="2.45"/><circle cx="504.2" cy="474.8" r="2.45"/><circle cx="503.9" cy="477.5" r="2.45"/><circle cx="504.0" cy="477.0" r="2.45"/><circle cx="505.9" cy="476.4" r="2.45"/><circle cx="505.7" cy="477.4" r="2.45"/><circle cx="506.0" cy="479.1" r="2.45"/><circle cx="505.8" cy="475.3" r="2.45"/><circle cx="505.9" cy="474.2" r="2.45"/><circle cx="507.7" cy="477.6" r="2.45"/><circle cx="507.6" cy="481.3" r="2.45"/><circle cx="507.5" cy="478.1" r="2.45"/><circle cx="507.6" cy="477.6" r="2.45"/><circle cx="507.7" cy="474.7" r="2.45"/><circle cx="507.8" cy="478.8" r="2.45"/><circle cx="507.7" cy="475.8" r="2.45"/><circle cx="509.5" cy="473.4" r="2.45"/><circle cx="509.3" cy="476.8" r="2.45"/><circle cx="509.4" cy="478.1" r="2.45"/><circle cx="509.6" cy="475.5" r="2.45"/><circle cx="509.6" cy="476.5" r="2.45"/><circle cx="509.4" cy="473.8" r="2.45"/><circle cx="509.4" cy="476.6" r="2.45"/><circle cx="509.4" cy="475.6" r="2.45"/><circle cx="511.3" cy="472.2" r="2.45"/><circle cx="511.1" cy="477.4" r="2.45"/><circle cx="511.3" cy="473.4" r="2.45"/><circle cx="511.1" cy="471.9" r="2.45"/><circle cx="511.4" cy="473.5" r="2.45"/><circle cx="513.2" cy="477.0" r="2.45"/><circle cx="513.2" cy="474.2" r="2.45"/><circle cx="512.9" cy="470.4" r="2.45"/><circle cx="513.2" cy="472.2" r="2.45"/><circle cx="513.1" cy="471.5" r="2.45"/><circle cx="513.3" cy="475.8" r="2.45"/><circle cx="515.1" cy="477.4" r="2.45"/><circle cx="514.9" cy="477.2" r="2.45"/><circle cx="515.1" cy="474.2" r="2.45"/><circle cx="514.9" cy="473.7" r="2.45"/><circle cx="514.9" cy="474.3" r="2.45"/><circle cx="514.8" cy="475.4" r="2.45"/><circle cx="515.1" cy="475.2" r="2.45"/><circle cx="515.0" cy="477.6" r="2.45"/><circle cx="516.5" cy="471.4" r="2.45"/><circle cx="516.5" cy="467.3" r="2.45"/><circle cx="516.6" cy="476.5" r="2.45"/><circle cx="516.5" cy="471.8" r="2.45"/><circle cx="516.6" cy="474.6" r="2.45"/><circle cx="516.6" cy="473.5" r="2.45"/><circle cx="516.8" cy="470.8" r="2.45"/><circle cx="516.8" cy="471.4" r="2.45"/><circle cx="518.6" cy="472.6" r="2.45"/><circle cx="518.6" cy="471.3" r="2.45"/><circle cx="518.4" cy="473.9" r="2.45"/><circle cx="518.5" cy="472.2" r="2.45"/><circle cx="518.5" cy="470.0" r="2.45"/><circle cx="520.3" cy="471.5" r="2.45"/><circle cx="520.2" cy="472.2" r="2.45"/><circle cx="520.4" cy="470.8" r="2.45"/><circle cx="520.3" cy="470.3" r="2.45"/><circle cx="520.2" cy="476.7" r="2.45"/><circle cx="520.1" cy="478.8" r="2.45"/><circle cx="522.2" cy="474.2" r="2.45"/><circle cx="522.0" cy="468.4" r="2.45"/><circle cx="522.0" cy="472.8" r="2.45"/><circle cx="522.0" cy="475.9" r="2.45"/><circle cx="522.1" cy="468.5" r="2.45"/><circle cx="522.0" cy="471.5" r="2.45"/><circle cx="522.2" cy="471.3" r="2.45"/><circle cx="522.3" cy="471.9" r="2.45"/><circle cx="524.1" cy="479.1" r="2.45"/><circle cx="524.0" cy="479.4" r="2.45"/><circle cx="524.0" cy="477.8" r="2.45"/><circle cx="524.1" cy="476.9" r="2.45"/><circle cx="524.2" cy="478.6" r="2.45"/><circle cx="523.8" cy="474.1" r="2.45"/><circle cx="524.1" cy="473.3" r="2.45"/><circle cx="523.9" cy="470.2" r="2.45"/><circle cx="525.8" cy="477.2" r="2.45"/><circle cx="525.7" cy="471.0" r="2.45"/><circle cx="525.8" cy="470.4" r="2.45"/><circle cx="525.6" cy="474.1" r="2.45"/><circle cx="526.0" cy="468.2" r="2.45"/><circle cx="525.8" cy="473.3" r="2.45"/><circle cx="527.7" cy="471.1" r="2.45"/><circle cx="527.7" cy="474.5" r="2.45"/><circle cx="527.7" cy="475.7" r="2.45"/><circle cx="527.5" cy="472.7" r="2.45"/><circle cx="527.5" cy="474.6" r="2.45"/><circle cx="527.5" cy="472.8" r="2.45"/><circle cx="529.3" cy="473.1" r="2.45"/><circle cx="529.4" cy="472.9" r="2.45"/><circle cx="529.2" cy="475.1" r="2.45"/><circle cx="529.6" cy="474.3" r="2.45"/><circle cx="529.6" cy="476.7" r="2.45"/><circle cx="529.4" cy="477.5" r="2.45"/><circle cx="529.3" cy="472.7" r="2.45"/><circle cx="531.3" cy="474.2" r="2.45"/><circle cx="531.1" cy="472.3" r="2.45"/><circle cx="531.4" cy="475.2" r="2.45"/><circle cx="531.4" cy="477.3" r="2.45"/><circle cx="531.2" cy="474.7" r="2.45"/><circle cx="531.3" cy="476.8" r="2.45"/><circle cx="531.4" cy="474.8" r="2.45"/><circle cx="531.2" cy="473.9" r="2.45"/><circle cx="220.1" cy="421.8" r="2.45"/><circle cx="220.4" cy="465.2" r="2.45"/><circle cx="220.4" cy="479.6" r="2.45"/><circle cx="222.1" cy="447.2" r="2.45"/><circle cx="222.0" cy="463.1" r="2.45"/><circle cx="222.0" cy="465.0" r="2.45"/><circle cx="222.1" cy="466.3" r="2.45"/><circle cx="222.1" cy="468.7" r="2.45"/><circle cx="221.8" cy="471.6" r="2.45"/><circle cx="222.0" cy="472.8" r="2.45"/><circle cx="222.0" cy="474.4" r="2.45"/><circle cx="227.5" cy="462.6" r="2.45"/><circle cx="227.4" cy="464.2" r="2.45"/><circle cx="227.4" cy="467.1" r="2.45"/><circle cx="227.5" cy="468.4" r="2.45"/><circle cx="227.5" cy="469.7" r="2.45"/><circle cx="227.4" cy="471.2" r="2.45"/><circle cx="227.4" cy="472.5" r="2.45"/><circle cx="229.2" cy="461.7" r="2.45"/><circle cx="229.1" cy="466.6" r="2.45"/><circle cx="229.1" cy="468.4" r="2.45"/><circle cx="229.2" cy="469.7" r="2.45"/><circle cx="229.3" cy="473.4" r="2.45"/><circle cx="233.0" cy="458.1" r="2.45"/><circle cx="232.8" cy="460.2" r="2.45"/><circle cx="232.7" cy="463.4" r="2.45"/><circle cx="233.2" cy="465.8" r="2.45"/><circle cx="234.9" cy="439.9" r="2.45"/><circle cx="234.9" cy="446.1" r="2.45"/><circle cx="234.8" cy="451.6" r="2.45"/><circle cx="234.7" cy="458.1" r="2.45"/><circle cx="234.6" cy="462.5" r="2.45"/><circle cx="234.8" cy="463.7" r="2.45"/><circle cx="234.6" cy="480.6" r="2.45"/><circle cx="238.2" cy="428.4" r="2.45"/><circle cx="238.3" cy="447.9" r="2.45"/><circle cx="238.2" cy="449.9" r="2.45"/><circle cx="238.2" cy="454.6" r="2.45"/><circle cx="240.2" cy="435.8" r="2.45"/><circle cx="240.3" cy="442.5" r="2.45"/><circle cx="241.9" cy="423.4" r="2.45"/><circle cx="241.8" cy="431.1" r="2.45"/><circle cx="243.7" cy="414.6" r="2.45"/><circle cx="243.7" cy="416.2" r="2.45"/><circle cx="243.8" cy="418.0" r="2.45"/><circle cx="243.8" cy="420.6" r="2.45"/><circle cx="243.5" cy="424.4" r="2.45"/><circle cx="243.6" cy="426.2" r="2.45"/><circle cx="249.2" cy="444.1" r="2.45"/><circle cx="249.2" cy="446.1" r="2.45"/><circle cx="249.3" cy="447.9" r="2.45"/><circle cx="249.2" cy="449.6" r="2.45"/><circle cx="249.1" cy="451.1" r="2.45"/><circle cx="249.4" cy="453.4" r="2.45"/><circle cx="249.3" cy="463.6" r="2.45"/><circle cx="253.0" cy="448.9" r="2.45"/><circle cx="252.7" cy="453.7" r="2.45"/><circle cx="252.9" cy="457.0" r="2.45"/><circle cx="252.8" cy="459.3" r="2.45"/><circle cx="253.0" cy="462.2" r="2.45"/><circle cx="254.8" cy="457.6" r="2.45"/><circle cx="254.7" cy="459.6" r="2.45"/><circle cx="254.9" cy="459.6" r="2.45"/><circle cx="254.6" cy="461.4" r="2.45"/><circle cx="254.8" cy="462.8" r="2.45"/><circle cx="254.7" cy="464.6" r="2.45"/><circle cx="256.7" cy="449.5" r="2.45"/><circle cx="256.8" cy="468.3" r="2.45"/><circle cx="259.9" cy="453.4" r="2.45"/><circle cx="260.0" cy="459.6" r="2.45"/><circle cx="260.0" cy="464.3" r="2.45"/><circle cx="260.4" cy="464.4" r="2.45"/><circle cx="259.8" cy="476.0" r="2.45"/><circle cx="260.3" cy="474.8" r="2.45"/><circle cx="264.0" cy="470.7" r="2.45"/><circle cx="264.1" cy="473.7" r="2.45"/><circle cx="264.2" cy="475.1" r="2.45"/><circle cx="263.7" cy="478.8" r="2.45"/><circle cx="264.0" cy="479.2" r="2.45"/><circle cx="265.5" cy="457.3" r="2.45"/><circle cx="265.2" cy="467.3" r="2.45"/><circle cx="265.5" cy="469.3" r="2.45"/><circle cx="265.5" cy="475.7" r="2.45"/><circle cx="267.4" cy="463.1" r="2.45"/><circle cx="267.5" cy="464.6" r="2.45"/><circle cx="267.2" cy="465.8" r="2.45"/><circle cx="267.5" cy="467.5" r="2.45"/><circle cx="267.2" cy="469.3" r="2.45"/><circle cx="267.4" cy="470.7" r="2.45"/><circle cx="267.2" cy="472.8" r="2.45"/><circle cx="267.1" cy="473.6" r="2.45"/><circle cx="272.8" cy="457.6" r="2.45"/><circle cx="221.9" cy="464.3" r="2.45"/><circle cx="221.9" cy="467.7" r="2.45"/><circle cx="222.0" cy="469.9" r="2.45"/><circle cx="222.0" cy="473.8" r="2.45"/><circle cx="227.3" cy="463.5" r="2.45"/><circle cx="227.5" cy="465.7" r="2.45"/><circle cx="229.2" cy="467.4" r="2.45"/><circle cx="229.2" cy="471.5" r="2.45"/><circle cx="232.8" cy="459.1" r="2.45"/><circle cx="232.9" cy="461.8" r="2.45"/><circle cx="232.9" cy="464.5" r="2.45"/><circle cx="234.8" cy="460.3" r="2.45"/><circle cx="243.8" cy="415.4" r="2.45"/><circle cx="243.8" cy="417.3" r="2.45"/><circle cx="243.9" cy="419.4" r="2.45"/><circle cx="249.1" cy="445.3" r="2.45"/><circle cx="249.2" cy="447.3" r="2.45"/><circle cx="249.1" cy="448.7" r="2.45"/><circle cx="249.3" cy="452.5" r="2.45"/><circle cx="252.7" cy="455.5" r="2.45"/><circle cx="252.9" cy="458.3" r="2.45"/><circle cx="252.9" cy="461.1" r="2.45"/><circle cx="254.7" cy="458.5" r="2.45"/><circle cx="254.7" cy="460.2" r="2.45"/><circle cx="254.6" cy="463.9" r="2.45"/><circle cx="260.1" cy="461.7" r="2.45"/><circle cx="264.1" cy="472.2" r="2.45"/><circle cx="264.0" cy="477.1" r="2.45"/><circle cx="265.3" cy="468.6" r="2.45"/><circle cx="267.4" cy="466.7" r="2.45"/><circle cx="267.4" cy="468.2" r="2.45"/><circle cx="267.2" cy="471.7" r="2.45"/><circle cx="101.6" cy="492.0" r="2.45"/><circle cx="120.0" cy="495.6" r="2.45"/><circle cx="158.0" cy="483.0" r="2.45"/><circle cx="179.6" cy="495.6" r="2.45"/><circle cx="183.6" cy="499.6" r="2.45"/><circle cx="212.0" cy="488.0" r="2.45"/><circle cx="272.4" cy="387.4" r="2.45"/><circle cx="219.6" cy="422.4" r="2.45"/><circle cx="221.0" cy="446.0" r="2.45"/><circle cx="220.5" cy="462.0" r="2.45"/><circle cx="220.0" cy="480.0" r="2.45"/><circle cx="235.0" cy="481.0" r="2.45"/><circle cx="253.0" cy="442.0" r="2.45"/><circle cx="300.4" cy="435.0" r="2.45"/><circle cx="275.0" cy="488.0" r="2.45"/><circle cx="385.0" cy="434.0" r="2.45"/><circle cx="349.0" cy="446.0" r="2.45"/><circle cx="349.0" cy="452.0" r="2.45"/><circle cx="370.0" cy="450.0" r="2.45"/><circle cx="390.6" cy="457.0" r="2.45"/><circle cx="421.0" cy="450.0" r="2.45"/><circle cx="371.0" cy="491.0" r="2.45"/><circle cx="414.0" cy="496.0" r="2.45"/><circle cx="419.0" cy="500.0" r="2.45"/><circle cx="423.0" cy="494.0" r="2.45"/><circle cx="458.0" cy="323.0" r="2.45"/><circle cx="447.0" cy="449.0" r="2.45"/><circle cx="539.6" cy="482.6" r="2.45"/><circle cx="520.0" cy="486.0" r="2.45"/><circle cx="452.4" cy="498.0" r="2.45"/><circle cx="470.0" cy="488.0" r="2.45"/><circle cx="491.0" cy="489.0" r="2.45"/></g></g></g>
<g clip-path="url(#ct)" stroke-width="1.25" stroke-linecap="butt"><g stroke="#33ee33" fill="#33ee33"><path fill="none" d="M145.0 115.6V166.4M142.4 115.6h5.2M142.4 166.4h5.2M144.0 129.4V213.8M141.4 129.4h5.2M141.4 213.8h5.2M117.5 209.4V256.8M114.9 209.4h5.2M114.9 256.8h5.2M158.0 192.0V248.0M155.4 192.0h5.2M155.4 248.0h5.2M158.8 214.4V245.6M156.2 214.4h5.2M156.2 245.6h5.2M171.5 193.5V213.5M168.9 193.5h5.2M168.9 213.5h5.2M172.5 218.8V240.0M169.9 218.8h5.2M169.9 240.0h5.2M173.1 221.8V275.8M170.5 221.8h5.2M170.5 275.8h5.2M171.2 243.0V293.0M168.7 243.0h5.2M168.7 293.0h5.2M174.4 151.0V194.2M171.8 151.0h5.2M171.8 194.2h5.2M243.6 167.0V185.0M241.0 167.0h5.2M241.0 185.0h5.2M243.0 190.0V208.0M240.4 190.0h5.2M240.4 208.0h5.2M242.4 212.6V238.6M239.8 212.6h5.2M239.8 238.6h5.2M243.0 226.4V255.6M240.4 226.4h5.2M240.4 255.6h5.2M240.4 75.7V97.1M237.8 75.7h5.2M237.8 97.1h5.2M254.4 243.6V278.4M251.8 243.6h5.2M251.8 278.4h5.2M258.0 170.6V185.4M255.4 170.6h5.2M255.4 185.4h5.2M256.4 179.0V195.0M253.8 179.0h5.2M253.8 195.0h5.2M255.0 185.0V201.0M252.4 185.0h5.2M252.4 201.0h5.2M256.0 192.6V209.4M253.4 192.6h5.2M253.4 209.4h5.2M268.4 166.0V186.0M265.8 166.0h5.2M265.8 186.0h5.2M269.6 185.4V211.4M267.0 185.4h5.2M267.0 211.4h5.2M270.4 130.6V148.6M267.8 130.6h5.2M267.8 148.6h5.2M272.0 134.0V152.0M269.4 134.0h5.2M269.4 152.0h5.2M283.0 159.6V171.6M280.4 159.6h5.2M280.4 171.6h5.2M285.6 161.0V173.0M283.0 161.0h5.2M283.0 173.0h5.2M284.0 163.0V179.0M281.4 163.0h5.2M281.4 179.0h5.2M284.0 134.1V145.1M281.4 134.1h5.2M281.4 145.1h5.2M282.4 138.4V150.4M279.8 138.4h5.2M279.8 150.4h5.2M285.0 139.0V151.0M282.4 139.0h5.2M282.4 151.0h5.2M297.0 133.0V167.0M294.4 133.0h5.2M294.4 167.0h5.2M352.4 55.8V76.2M349.8 55.8h5.2M349.8 76.2h5.2M353.6 110.6V126.6M351.0 110.6h5.2M351.0 126.6h5.2M355.0 118.0V134.0M352.4 118.0h5.2M352.4 134.0h5.2M353.6 139.6V156.4M351.0 139.6h5.2M351.0 156.4h5.2M355.0 148.0V158.0M352.4 148.0h5.2M352.4 158.0h5.2M381.6 150.6V164.6M379.0 150.6h5.2M379.0 164.6h5.2M380.0 171.6V192.4M377.4 171.6h5.2M377.4 192.4h5.2M382.4 188.0V208.0M379.8 188.0h5.2M379.8 208.0h5.2M379.6 194.0V214.0M377.0 194.0h5.2M377.0 214.0h5.2M383.0 195.0V217.0M380.4 195.0h5.2M380.4 217.0h5.2M379.0 200.6V223.4M376.4 200.6h5.2M376.4 223.4h5.2M394.0 171.0V185.0M391.4 171.0h5.2M391.4 185.0h5.2M393.6 183.0V199.0M391.0 183.0h5.2M391.0 199.0h5.2M394.4 199.0V217.0M391.8 199.0h5.2M391.8 217.0h5.2M396.0 204.0V222.0M393.4 204.0h5.2M393.4 222.0h5.2M394.6 213.2V231.6M392.0 213.2h5.2M392.0 231.6h5.2M450.0 145.6V163.2M447.4 145.6h5.2M447.4 163.2h5.2M452.0 203.6V225.2M449.4 203.6h5.2M449.4 225.2h5.2M451.0 211.0V237.0M448.4 211.0h5.2M448.4 237.0h5.2M449.6 233.0V283.0M447.0 233.0h5.2M447.0 283.0h5.2M465.0 156.4V183.6M462.4 156.4h5.2M462.4 183.6h5.2M464.4 162.0V190.0M461.8 162.0h5.2M461.8 190.0h5.2M461.6 181.0V207.0M459.0 181.0h5.2M459.0 207.0h5.2M466.0 186.0V214.0M463.4 186.0h5.2M463.4 214.0h5.2M463.6 205.0V233.0M461.0 205.0h5.2M461.0 233.0h5.2M477.0 218.4V253.6M474.4 218.4h5.2M474.4 253.6h5.2M505.0 175.0V209.8M502.4 175.0h5.2M502.4 209.8h5.2M505.0 203.0V237.0M502.4 203.0h5.2M502.4 237.0h5.2M505.6 220.0V256.0M503.0 220.0h5.2M503.0 256.0h5.2M504.4 230.0V270.0M501.8 230.0h5.2M501.8 270.0h5.2M505.0 242.0V282.0M502.4 242.0h5.2M502.4 282.0h5.2M521.0 99.6V192.4M518.4 99.6h5.2M518.4 192.4h5.2M534.0 146.0V194.0M531.4 146.0h5.2M531.4 194.0h5.2M531.0 161.6V232.4M528.4 161.6h5.2M528.4 232.4h5.2M534.0 180.0V240.0M531.4 180.0h5.2M531.4 240.0h5.2M535.0 203.0V284.2M532.4 203.0h5.2M532.4 284.2h5.2M535.0 239.0V299.0M532.4 239.0h5.2M532.4 299.0h5.2M243.0 220.3V247.9M240.4 220.3h5.2M240.4 247.9h5.2M257.9 174.3V189.7M255.3 174.3h5.2M255.3 189.7h5.2M255.2 182.7V198.7M252.6 182.7h5.2M252.6 198.7h5.2M254.3 189.4V205.8M251.7 189.4h5.2M251.7 205.8h5.2M355.0 114.2V130.2M352.4 114.2h5.2M352.4 130.2h5.2M380.7 179.4V199.8M378.1 179.4h5.2M378.1 199.8h5.2M380.4 190.9V210.9M377.8 190.9h5.2M377.8 210.9h5.2M381.0 197.9V220.3M378.4 197.9h5.2M378.4 220.3h5.2M395.0 177.6V192.6M392.4 177.6h5.2M392.4 192.6h5.2M395.6 209.6V227.8M393.0 209.6h5.2M393.0 227.8h5.2M450.8 206.6V230.4M448.2 206.6h5.2M448.2 230.4h5.2M465.0 158.3V185.9M462.4 158.3h5.2M462.4 185.9h5.2M462.7 183.5V210.5M460.1 183.5h5.2M460.1 210.5h5.2M504.9 225.8V263.8M502.3 225.8h5.2M502.3 263.8h5.2M505.0 236.0V276.0M502.4 236.0h5.2M502.4 276.0h5.2"/><g stroke="none"><circle cx="145.0" cy="141.0" r="2.45"/><circle cx="144.0" cy="171.6" r="2.45"/><circle cx="117.5" cy="233.1" r="2.45"/><circle cx="158.0" cy="220.0" r="2.45"/><circle cx="158.8" cy="230.0" r="2.45"/><circle cx="171.5" cy="203.5" r="2.45"/><circle cx="172.5" cy="229.4" r="2.45"/><circle cx="173.1" cy="248.8" r="2.45"/><circle cx="171.2" cy="268.0" r="2.45"/><circle cx="174.4" cy="172.6" r="2.45"/><circle cx="243.6" cy="176.0" r="2.45"/><circle cx="243.0" cy="199.0" r="2.45"/><circle cx="242.4" cy="225.6" r="2.45"/><circle cx="243.0" cy="241.0" r="2.45"/><circle cx="240.4" cy="86.4" r="2.45"/><circle cx="254.4" cy="261.0" r="2.45"/><circle cx="258.0" cy="178.0" r="2.45"/><circle cx="256.4" cy="187.0" r="2.45"/><circle cx="255.0" cy="193.0" r="2.45"/><circle cx="256.0" cy="201.0" r="2.45"/><circle cx="268.4" cy="176.0" r="2.45"/><circle cx="269.6" cy="198.4" r="2.45"/><circle cx="270.4" cy="139.6" r="2.45"/><circle cx="272.0" cy="143.0" r="2.45"/><circle cx="283.0" cy="165.6" r="2.45"/><circle cx="285.6" cy="167.0" r="2.45"/><circle cx="284.0" cy="171.0" r="2.45"/><circle cx="284.0" cy="139.6" r="2.45"/><circle cx="282.4" cy="144.4" r="2.45"/><circle cx="285.0" cy="145.0" r="2.45"/><circle cx="297.0" cy="150.0" r="2.45"/><circle cx="352.4" cy="66.0" r="2.45"/><circle cx="353.6" cy="118.6" r="2.45"/><circle cx="355.0" cy="126.0" r="2.45"/><circle cx="353.6" cy="148.0" r="2.45"/><circle cx="355.0" cy="153.0" r="2.45"/><circle cx="381.6" cy="157.6" r="2.45"/><circle cx="380.0" cy="182.0" r="2.45"/><circle cx="382.4" cy="198.0" r="2.45"/><circle cx="379.6" cy="204.0" r="2.45"/><circle cx="383.0" cy="206.0" r="2.45"/><circle cx="379.0" cy="212.0" r="2.45"/><circle cx="394.0" cy="178.0" r="2.45"/><circle cx="393.6" cy="191.0" r="2.45"/><circle cx="394.4" cy="208.0" r="2.45"/><circle cx="396.0" cy="213.0" r="2.45"/><circle cx="394.6" cy="222.4" r="2.45"/><circle cx="450.0" cy="154.4" r="2.45"/><circle cx="452.0" cy="214.4" r="2.45"/><circle cx="451.0" cy="224.0" r="2.45"/><circle cx="449.6" cy="258.0" r="2.45"/><circle cx="465.0" cy="170.0" r="2.45"/><circle cx="464.4" cy="176.0" r="2.45"/><circle cx="461.6" cy="194.0" r="2.45"/><circle cx="466.0" cy="200.0" r="2.45"/><circle cx="463.6" cy="219.0" r="2.45"/><circle cx="477.0" cy="236.0" r="2.45"/><circle cx="505.0" cy="192.4" r="2.45"/><circle cx="505.0" cy="220.0" r="2.45"/><circle cx="505.6" cy="238.0" r="2.45"/><circle cx="504.4" cy="250.0" r="2.45"/><circle cx="505.0" cy="262.0" r="2.45"/><circle cx="521.0" cy="146.0" r="2.45"/><circle cx="534.0" cy="170.0" r="2.45"/><circle cx="531.0" cy="197.0" r="2.45"/><circle cx="534.0" cy="210.0" r="2.45"/><circle cx="535.0" cy="243.6" r="2.45"/><circle cx="535.0" cy="269.0" r="2.45"/><circle cx="243.0" cy="234.1" r="2.45"/><circle cx="257.9" cy="182.0" r="2.45"/><circle cx="255.2" cy="190.7" r="2.45"/><circle cx="254.3" cy="197.6" r="2.45"/><circle cx="355.0" cy="122.2" r="2.45"/><circle cx="380.7" cy="189.6" r="2.45"/><circle cx="380.4" cy="200.9" r="2.45"/><circle cx="381.0" cy="209.1" r="2.45"/><circle cx="395.0" cy="185.1" r="2.45"/><circle cx="395.6" cy="218.7" r="2.45"/><circle cx="450.8" cy="218.5" r="2.45"/><circle cx="465.0" cy="172.1" r="2.45"/><circle cx="462.7" cy="197.0" r="2.45"/><circle cx="504.9" cy="244.8" r="2.45"/><circle cx="505.0" cy="256.0" r="2.45"/></g></g><g stroke="#0a50ff" fill="#0a50ff"><path fill="none" d="M107.5 221.6V259.6M104.9 221.6h5.2M104.9 259.6h5.2M108.8 231.3V281.3M106.2 231.3h5.2M106.2 281.3h5.2M108.3 240.0V284.0M105.7 240.0h5.2M105.7 284.0h5.2M121.9 196.9V226.9M119.3 196.9h5.2M119.3 226.9h5.2M122.2 204.0V246.0M119.6 204.0h5.2M119.6 246.0h5.2M123.0 204.4V254.4M120.4 204.4h5.2M120.4 254.4h5.2M122.7 211.0V261.0M120.1 211.0h5.2M120.1 261.0h5.2M123.0 219.4V269.4M120.4 219.4h5.2M120.4 269.4h5.2M121.3 236.9V296.9M118.7 236.9h5.2M118.7 296.9h5.2M135.0 139.4V209.4M132.4 139.4h5.2M132.4 209.4h5.2M138.6 142.4V193.6M136.0 142.4h5.2M136.0 193.6h5.2M136.5 196.5V240.5M133.9 196.5h5.2M133.9 240.5h5.2M136.3 213.1V273.1M133.7 213.1h5.2M133.7 273.1h5.2M151.0 130.6V176.6M148.4 130.6h5.2M148.4 176.6h5.2M149.4 163.0V223.0M146.8 163.0h5.2M146.8 223.0h5.2M150.5 187.0V243.0M147.9 187.0h5.2M147.9 243.0h5.2M148.8 208.0V268.0M146.2 208.0h5.2M146.2 268.0h5.2M150.0 227.0V287.0M147.4 227.0h5.2M147.4 287.0h5.2M163.1 195.4V233.4M160.5 195.4h5.2M160.5 233.4h5.2M163.8 207.0V243.0M161.2 207.0h5.2M161.2 243.0h5.2M166.0 215.2V239.2M163.4 215.2h5.2M163.4 239.2h5.2M164.0 214.0V254.0M161.4 214.0h5.2M161.4 254.0h5.2M164.8 232.0V282.0M162.2 232.0h5.2M162.2 282.0h5.2M176.5 222.0V253.0M173.9 222.0h5.2M173.9 253.0h5.2M204.4 206.4V222.4M201.8 206.4h5.2M201.8 222.4h5.2M206.2 206.8V220.8M203.7 206.8h5.2M203.7 220.8h5.2M204.4 219.5V236.5M201.8 219.5h5.2M201.8 236.5h5.2M204.8 223.5V241.5M202.2 223.5h5.2M202.2 241.5h5.2M204.4 227.8V249.8M201.8 227.8h5.2M201.8 249.8h5.2M221.2 195.4V213.4M218.7 195.4h5.2M218.7 213.4h5.2M218.1 203.6V217.6M215.5 203.6h5.2M215.5 217.6h5.2M220.6 201.8V215.8M218.0 201.8h5.2M218.0 215.8h5.2M221.9 212.5V227.5M219.3 212.5h5.2M219.3 227.5h5.2M218.8 220.5V235.5M216.2 220.5h5.2M216.2 235.5h5.2M220.6 220.5V235.5M218.0 220.5h5.2M218.0 235.5h5.2M233.6 189.0V205.0M231.0 189.0h5.2M231.0 205.0h5.2M232.4 199.0V215.0M229.8 199.0h5.2M229.8 215.0h5.2M231.6 213.0V227.0M229.0 213.0h5.2M229.0 227.0h5.2M247.0 178.0V190.0M244.4 178.0h5.2M244.4 190.0h5.2M246.0 187.0V199.0M243.4 187.0h5.2M243.4 199.0h5.2M246.4 192.0V206.0M243.8 192.0h5.2M243.8 206.0h5.2M245.6 198.0V216.0M243.0 198.0h5.2M243.0 216.0h5.2M263.0 175.6V186.4M260.4 175.6h5.2M260.4 186.4h5.2M261.6 179.0V191.0M259.0 179.0h5.2M259.0 191.0h5.2M260.0 184.5V197.5M257.4 184.5h5.2M257.4 197.5h5.2M260.0 188.8V202.4M257.4 188.8h5.2M257.4 202.4h5.2M273.6 146.0V162.0M271.0 146.0h5.2M271.0 162.0h5.2M274.4 155.0V171.0M271.8 155.0h5.2M271.8 171.0h5.2M273.6 159.0V197.0M271.0 159.0h5.2M271.0 197.0h5.2M328.3 60.7V66.7M325.7 60.7h5.2M325.7 66.7h5.2M328.5 64.3V70.3M325.9 64.3h5.2M325.9 70.3h5.2M329.7 71.5V77.5M327.1 71.5h5.2M327.1 77.5h5.2M329.7 74.6V80.6M327.1 74.6h5.2M327.1 80.6h5.2M342.4 99.0V105.0M339.8 99.0h5.2M339.8 105.0h5.2M343.0 104.0V110.0M340.4 104.0h5.2M340.4 110.0h5.2M344.0 109.0V117.0M341.4 109.0h5.2M341.4 117.0h5.2M345.6 116.8V126.4M343.0 116.8h5.2M343.0 126.4h5.2M356.0 129.4V138.6M353.4 129.4h5.2M353.4 138.6h5.2M357.0 136.0V146.0M354.4 136.0h5.2M354.4 146.0h5.2M357.6 141.0V151.0M355.0 141.0h5.2M355.0 151.0h5.2M357.0 149.0V159.0M354.4 149.0h5.2M354.4 159.0h5.2M358.0 154.0V166.0M355.4 154.0h5.2M355.4 166.0h5.2M359.0 157.0V175.0M356.4 157.0h5.2M356.4 175.0h5.2M401.0 175.0V189.0M398.4 175.0h5.2M398.4 189.0h5.2M399.6 190.0V206.0M397.0 190.0h5.2M397.0 206.0h5.2M400.0 197.0V213.0M397.4 197.0h5.2M397.4 213.0h5.2M400.4 203.0V219.0M397.8 203.0h5.2M397.8 219.0h5.2M399.6 216.0V232.0M397.0 216.0h5.2M397.0 232.0h5.2M412.0 202.0V214.0M409.4 202.0h5.2M409.4 214.0h5.2M413.6 206.0V220.0M411.0 206.0h5.2M411.0 220.0h5.2M415.0 213.0V229.0M412.4 213.0h5.2M412.4 229.0h5.2M414.4 222.4V239.6M411.8 222.4h5.2M411.8 239.6h5.2M426.0 205.0V223.0M423.4 205.0h5.2M423.4 223.0h5.2M428.4 205.0V223.0M425.8 205.0h5.2M425.8 223.0h5.2M426.4 212.0V230.0M423.8 212.0h5.2M423.8 230.0h5.2M427.0 221.6V241.6M424.4 221.6h5.2M424.4 241.6h5.2M439.6 190.0V229.2M437.0 190.0h5.2M437.0 229.2h5.2M440.0 201.0V239.0M437.4 201.0h5.2M437.4 239.0h5.2M439.6 211.0V249.0M437.0 211.0h5.2M437.0 249.0h5.2M439.0 221.2V259.6M436.4 221.2h5.2M436.4 259.6h5.2M466.4 79.0V121.0M463.8 79.0h5.2M463.8 121.0h5.2M466.4 111.4V137.8M463.8 111.4h5.2M463.8 137.8h5.2M480.6 170.0V201.2M478.0 170.0h5.2M478.0 201.2h5.2M482.0 177.0V207.0M479.4 177.0h5.2M479.4 207.0h5.2M481.0 216.0V254.0M478.4 216.0h5.2M478.4 254.0h5.2M482.0 223.0V261.0M479.4 223.0h5.2M479.4 261.0h5.2M481.6 234.0V272.0M479.0 234.0h5.2M479.0 272.0h5.2M482.0 250.0V288.0M479.4 250.0h5.2M479.4 288.0h5.2M513.0 128.6V227.4M510.4 128.6h5.2M510.4 227.4h5.2M510.0 165.0V233.0M507.4 165.0h5.2M507.4 233.0h5.2M509.0 183.0V247.0M506.4 183.0h5.2M506.4 247.0h5.2M108.1 225.9V269.9M105.5 225.9h5.2M105.5 269.9h5.2M107.4 235.0V282.0M104.8 235.0h5.2M104.8 282.0h5.2M122.5 199.9V235.9M119.9 199.9h5.2M119.9 235.9h5.2M122.5 206.7V256.7M119.9 206.7h5.2M119.9 256.7h5.2M123.6 214.5V264.5M121.0 214.5h5.2M121.0 264.5h5.2M162.9 202.0V239.0M160.3 202.0h5.2M160.3 239.0h5.2M165.0 215.3V247.3M162.4 215.3h5.2M162.4 247.3h5.2M204.7 213.4V229.9M202.1 213.4h5.2M202.1 229.9h5.2M203.6 225.7V245.7M201.0 225.7h5.2M201.0 245.7h5.2M220.0 208.8V223.3M217.4 208.8h5.2M217.4 223.3h5.2M220.0 216.7V231.7M217.4 216.7h5.2M217.4 231.7h5.2M231.9 193.8V209.8M229.3 193.8h5.2M229.3 209.8h5.2M231.6 205.3V220.3M229.0 205.3h5.2M229.0 220.3h5.2M247.3 182.3V194.3M244.7 182.3h5.2M244.7 194.3h5.2M247.3 189.7V202.7M244.7 189.7h5.2M244.7 202.7h5.2M246.3 195.3V211.3M243.7 195.3h5.2M243.7 211.3h5.2M261.2 181.1V193.6M258.6 181.1h5.2M258.6 193.6h5.2M273.9 150.0V166.0M271.3 150.0h5.2M271.3 166.0h5.2M273.8 156.2V183.2M271.2 156.2h5.2M271.2 183.2h5.2M330.2 67.3V73.3M327.6 67.3h5.2M327.6 73.3h5.2M343.9 106.1V113.1M341.3 106.1h5.2M341.3 113.1h5.2M345.7 113.2V122.0M343.1 113.2h5.2M343.1 122.0h5.2M355.6 133.4V143.0M353.0 133.4h5.2M353.0 143.0h5.2M358.4 145.8V155.8M355.8 145.8h5.2M355.8 155.8h5.2M357.7 150.8V161.8M355.1 150.8h5.2M355.1 161.8h5.2M357.8 156.4V171.4M355.2 156.4h5.2M355.2 171.4h5.2M400.4 181.9V196.9M397.8 181.9h5.2M397.8 196.9h5.2M400.7 193.8V209.8M398.1 193.8h5.2M398.1 209.8h5.2M400.4 199.8V215.8M397.8 199.8h5.2M397.8 215.8h5.2M399.8 209.0V225.0M397.2 209.0h5.2M397.2 225.0h5.2M413.2 210.3V225.3M410.6 210.3h5.2M410.6 225.3h5.2M414.6 217.8V234.4M412.0 217.8h5.2M412.0 234.4h5.2M427.0 209.0V227.0M424.4 209.0h5.2M424.4 227.0h5.2M425.6 216.5V235.5M423.0 216.5h5.2M423.0 235.5h5.2M438.7 194.7V233.3M436.1 194.7h5.2M436.1 233.3h5.2M440.9 206.3V244.3M438.3 206.3h5.2M438.3 244.3h5.2M439.1 216.1V254.3M436.5 216.1h5.2M436.5 254.3h5.2M482.2 173.2V203.8M479.6 173.2h5.2M479.6 203.8h5.2M481.7 219.9V257.9M479.1 219.9h5.2M479.1 257.9h5.2M481.5 228.5V266.5M478.9 228.5h5.2M478.9 266.5h5.2M482.4 242.8V280.8M479.8 242.8h5.2M479.8 280.8h5.2"/><g stroke="none"><circle cx="107.5" cy="240.6" r="2.45"/><circle cx="108.8" cy="256.3" r="2.45"/><circle cx="108.3" cy="262.0" r="2.45"/><circle cx="121.9" cy="211.9" r="2.45"/><circle cx="122.2" cy="225.0" r="2.45"/><circle cx="123.0" cy="229.4" r="2.45"/><circle cx="122.7" cy="236.0" r="2.45"/><circle cx="123.0" cy="244.4" r="2.45"/><circle cx="121.3" cy="266.9" r="2.45"/><circle cx="135.0" cy="174.4" r="2.45"/><circle cx="138.6" cy="168.0" r="2.45"/><circle cx="136.5" cy="218.5" r="2.45"/><circle cx="136.3" cy="243.1" r="2.45"/><circle cx="151.0" cy="153.6" r="2.45"/><circle cx="149.4" cy="193.0" r="2.45"/><circle cx="150.5" cy="215.0" r="2.45"/><circle cx="148.8" cy="238.0" r="2.45"/><circle cx="150.0" cy="257.0" r="2.45"/><circle cx="163.1" cy="214.4" r="2.45"/><circle cx="163.8" cy="225.0" r="2.45"/><circle cx="166.0" cy="227.2" r="2.45"/><circle cx="164.0" cy="234.0" r="2.45"/><circle cx="164.8" cy="257.0" r="2.45"/><circle cx="176.5" cy="237.5" r="2.45"/><circle cx="204.4" cy="214.4" r="2.45"/><circle cx="206.2" cy="213.8" r="2.45"/><circle cx="204.4" cy="228.0" r="2.45"/><circle cx="204.8" cy="232.5" r="2.45"/><circle cx="204.4" cy="238.8" r="2.45"/><circle cx="221.2" cy="204.4" r="2.45"/><circle cx="218.1" cy="210.6" r="2.45"/><circle cx="220.6" cy="208.8" r="2.45"/><circle cx="221.9" cy="220.0" r="2.45"/><circle cx="218.8" cy="228.0" r="2.45"/><circle cx="220.6" cy="228.0" r="2.45"/><circle cx="233.6" cy="197.0" r="2.45"/><circle cx="232.4" cy="207.0" r="2.45"/><circle cx="231.6" cy="220.0" r="2.45"/><circle cx="247.0" cy="184.0" r="2.45"/><circle cx="246.0" cy="193.0" r="2.45"/><circle cx="246.4" cy="199.0" r="2.45"/><circle cx="245.6" cy="207.0" r="2.45"/><circle cx="263.0" cy="181.0" r="2.45"/><circle cx="261.6" cy="185.0" r="2.45"/><circle cx="260.0" cy="191.0" r="2.45"/><circle cx="260.0" cy="195.6" r="2.45"/><circle cx="273.6" cy="154.0" r="2.45"/><circle cx="274.4" cy="163.0" r="2.45"/><circle cx="273.6" cy="178.0" r="2.45"/><circle cx="328.3" cy="63.7" r="2.45"/><circle cx="328.5" cy="67.3" r="2.45"/><circle cx="329.7" cy="74.5" r="2.45"/><circle cx="329.7" cy="77.6" r="2.45"/><circle cx="342.4" cy="102.0" r="2.45"/><circle cx="343.0" cy="107.0" r="2.45"/><circle cx="344.0" cy="113.0" r="2.45"/><circle cx="345.6" cy="121.6" r="2.45"/><circle cx="356.0" cy="134.0" r="2.45"/><circle cx="357.0" cy="141.0" r="2.45"/><circle cx="357.6" cy="146.0" r="2.45"/><circle cx="357.0" cy="154.0" r="2.45"/><circle cx="358.0" cy="160.0" r="2.45"/><circle cx="359.0" cy="166.0" r="2.45"/><circle cx="401.0" cy="182.0" r="2.45"/><circle cx="399.6" cy="198.0" r="2.45"/><circle cx="400.0" cy="205.0" r="2.45"/><circle cx="400.4" cy="211.0" r="2.45"/><circle cx="399.6" cy="224.0" r="2.45"/><circle cx="412.0" cy="208.0" r="2.45"/><circle cx="413.6" cy="213.0" r="2.45"/><circle cx="415.0" cy="221.0" r="2.45"/><circle cx="414.4" cy="231.0" r="2.45"/><circle cx="426.0" cy="214.0" r="2.45"/><circle cx="428.4" cy="214.0" r="2.45"/><circle cx="426.4" cy="221.0" r="2.45"/><circle cx="427.0" cy="231.6" r="2.45"/><circle cx="439.6" cy="209.6" r="2.45"/><circle cx="440.0" cy="220.0" r="2.45"/><circle cx="439.6" cy="230.0" r="2.45"/><circle cx="439.0" cy="240.4" r="2.45"/><circle cx="466.4" cy="100.0" r="2.45"/><circle cx="466.4" cy="124.6" r="2.45"/><circle cx="480.6" cy="185.6" r="2.45"/><circle cx="482.0" cy="192.0" r="2.45"/><circle cx="481.0" cy="235.0" r="2.45"/><circle cx="482.0" cy="242.0" r="2.45"/><circle cx="481.6" cy="253.0" r="2.45"/><circle cx="482.0" cy="269.0" r="2.45"/><circle cx="513.0" cy="178.0" r="2.45"/><circle cx="510.0" cy="199.0" r="2.45"/><circle cx="509.0" cy="215.0" r="2.45"/><circle cx="108.1" cy="247.9" r="2.45"/><circle cx="107.4" cy="258.5" r="2.45"/><circle cx="122.5" cy="217.9" r="2.45"/><circle cx="122.5" cy="231.7" r="2.45"/><circle cx="123.6" cy="239.5" r="2.45"/><circle cx="162.9" cy="220.5" r="2.45"/><circle cx="165.0" cy="231.3" r="2.45"/><circle cx="204.7" cy="221.7" r="2.45"/><circle cx="203.6" cy="235.7" r="2.45"/><circle cx="220.0" cy="216.0" r="2.45"/><circle cx="220.0" cy="224.2" r="2.45"/><circle cx="231.9" cy="201.8" r="2.45"/><circle cx="231.6" cy="212.8" r="2.45"/><circle cx="247.3" cy="188.3" r="2.45"/><circle cx="247.3" cy="196.2" r="2.45"/><circle cx="246.3" cy="203.3" r="2.45"/><circle cx="261.2" cy="187.3" r="2.45"/><circle cx="273.9" cy="158.0" r="2.45"/><circle cx="273.8" cy="169.7" r="2.45"/><circle cx="330.2" cy="70.3" r="2.45"/><circle cx="343.9" cy="109.6" r="2.45"/><circle cx="345.7" cy="117.6" r="2.45"/><circle cx="355.6" cy="138.2" r="2.45"/><circle cx="358.4" cy="150.8" r="2.45"/><circle cx="357.7" cy="156.3" r="2.45"/><circle cx="357.8" cy="163.9" r="2.45"/><circle cx="400.4" cy="189.4" r="2.45"/><circle cx="400.7" cy="201.8" r="2.45"/><circle cx="400.4" cy="207.8" r="2.45"/><circle cx="399.8" cy="217.0" r="2.45"/><circle cx="413.2" cy="217.8" r="2.45"/><circle cx="414.6" cy="226.1" r="2.45"/><circle cx="427.0" cy="218.0" r="2.45"/><circle cx="425.6" cy="226.0" r="2.45"/><circle cx="438.7" cy="214.0" r="2.45"/><circle cx="440.9" cy="225.3" r="2.45"/><circle cx="439.1" cy="235.2" r="2.45"/><circle cx="482.2" cy="188.5" r="2.45"/><circle cx="481.7" cy="238.9" r="2.45"/><circle cx="481.5" cy="247.5" r="2.45"/><circle cx="482.4" cy="261.8" r="2.45"/></g></g><g stroke="#ff3c28" fill="#ff3c28"><path fill="none" d="M139.3 55.5V82.3M136.7 55.5h5.2M136.7 82.3h5.2M141.2 183.2V251.2M138.7 183.2h5.2M138.7 251.2h5.2M141.2 231.2V301.2M138.7 231.2h5.2M138.7 301.2h5.2M154.4 115.0V196.2M151.8 115.0h5.2M151.8 196.2h5.2M153.6 193.0V227.0M151.0 193.0h5.2M151.0 227.0h5.2M154.0 196.5V236.5M151.4 196.5h5.2M151.4 236.5h5.2M154.4 201.0V241.0M151.8 201.0h5.2M151.8 241.0h5.2M154.6 207.0V251.0M152.0 207.0h5.2M152.0 251.0h5.2M152.0 217.0V261.0M149.4 217.0h5.2M149.4 261.0h5.2M153.7 223.0V263.0M151.1 223.0h5.2M151.1 263.0h5.2M153.7 231.5V265.5M151.1 231.5h5.2M151.1 265.5h5.2M195.6 201.6V214.6M193.0 201.6h5.2M193.0 214.6h5.2M194.8 206.8V220.8M192.2 206.8h5.2M192.2 220.8h5.2M195.0 216.2V231.2M192.4 216.2h5.2M192.4 231.2h5.2M195.6 221.0V235.0M193.0 221.0h5.2M193.0 235.0h5.2M195.6 225.0V240.0M193.0 225.0h5.2M193.0 240.0h5.2M195.2 229.5V245.5M192.7 229.5h5.2M192.7 245.5h5.2M195.0 234.0V250.0M192.4 234.0h5.2M192.4 250.0h5.2M208.8 198.5V211.5M206.2 198.5h5.2M206.2 211.5h5.2M208.1 214.0V230.0M205.5 214.0h5.2M205.5 230.0h5.2M208.1 220.0V236.0M205.5 220.0h5.2M205.5 236.0h5.2M208.5 224.5V240.5M205.9 224.5h5.2M205.9 240.5h5.2M209.8 236.0V254.0M207.2 236.0h5.2M207.2 254.0h5.2M237.6 187.0V199.0M235.0 187.0h5.2M235.0 199.0h5.2M236.4 193.0V207.0M233.8 193.0h5.2M233.8 207.0h5.2M235.6 202.0V220.0M233.0 202.0h5.2M233.0 220.0h5.2M239.0 210.0V228.0M236.4 210.0h5.2M236.4 228.0h5.2M252.4 107.0V154.2M249.8 107.0h5.2M249.8 154.2h5.2M252.2 141.0V163.0M249.6 141.0h5.2M249.6 163.0h5.2M251.6 161.4V179.8M249.0 161.4h5.2M249.0 179.8h5.2M251.0 183.0V203.0M248.4 183.0h5.2M248.4 203.0h5.2M250.0 196.0V220.0M247.4 196.0h5.2M247.4 220.0h5.2M251.6 194.0V230.0M249.0 194.0h5.2M249.0 230.0h5.2M249.6 241.6V297.6M247.0 241.6h5.2M247.0 297.6h5.2M277.4 46.4V136.4M274.8 46.4h5.2M274.8 136.4h5.2M278.4 118.0V198.0M275.8 118.0h5.2M275.8 198.0h5.2M277.6 125.0V205.0M275.0 125.0h5.2M275.0 205.0h5.2M277.0 157.0V205.0M274.4 157.0h5.2M274.4 205.0h5.2M293.0 107.0V126.2M290.4 107.0h5.2M290.4 126.2h5.2M293.6 119.6V159.6M291.0 119.6h5.2M291.0 159.6h5.2M305.6 68.1V80.7M303.0 68.1h5.2M303.0 80.7h5.2M304.6 96.3V104.9M302.0 96.3h5.2M302.0 104.9h5.2M319.0 36.4V52.4M316.4 36.4h5.2M316.4 52.4h5.2M319.6 41.0V59.0M317.0 41.0h5.2M317.0 59.0h5.2M320.0 46.0V66.0M317.4 46.0h5.2M317.4 66.0h5.2M320.4 53.0V77.0M317.8 53.0h5.2M317.8 77.0h5.2M318.0 38.0V118.0M315.4 38.0h5.2M315.4 118.0h5.2M318.4 71.0V97.0M315.8 71.0h5.2M315.8 97.0h5.2M361.0 134.0V156.0M358.4 134.0h5.2M358.4 156.0h5.2M361.0 144.0V160.0M358.4 144.0h5.2M358.4 160.0h5.2M362.0 148.0V168.0M359.4 148.0h5.2M359.4 168.0h5.2M361.6 154.0V174.0M359.0 154.0h5.2M359.0 174.0h5.2M360.4 157.0V181.0M357.8 157.0h5.2M357.8 181.0h5.2M363.0 164.0V190.0M360.4 164.0h5.2M360.4 190.0h5.2M362.4 191.6V231.6M359.8 191.6h5.2M359.8 231.6h5.2M390.4 109.6V213.6M387.8 109.6h5.2M387.8 213.6h5.2M388.4 158.0V198.0M385.8 158.0h5.2M385.8 198.0h5.2M389.6 174.0V204.0M387.0 174.0h5.2M387.0 204.0h5.2M389.0 185.0V209.0M386.4 185.0h5.2M386.4 209.0h5.2M390.0 200.0V214.0M387.4 200.0h5.2M387.4 214.0h5.2M404.0 184.0V198.0M401.4 184.0h5.2M401.4 198.0h5.2M403.0 191.0V205.0M400.4 191.0h5.2M400.4 205.0h5.2M405.0 191.0V205.0M402.4 191.0h5.2M402.4 205.0h5.2M402.4 197.0V211.0M399.8 197.0h5.2M399.8 211.0h5.2M404.0 201.0V217.0M401.4 201.0h5.2M401.4 217.0h5.2M403.0 206.0V224.0M400.4 206.0h5.2M400.4 224.0h5.2M418.4 151.1V176.1M415.8 151.1h5.2M415.8 176.1h5.2M419.0 217.0V238.2M416.4 217.0h5.2M416.4 238.2h5.2M443.0 152.0V202.0M440.4 152.0h5.2M440.4 202.0h5.2M443.6 178.0V218.0M441.0 178.0h5.2M441.0 218.0h5.2M444.0 192.0V236.0M441.4 192.0h5.2M441.4 236.0h5.2M446.8 194.4V234.4M444.2 194.4h5.2M444.2 234.4h5.2M442.4 237.0V271.0M439.8 237.0h5.2M439.8 271.0h5.2M446.0 233.0V267.0M443.4 233.0h5.2M443.4 267.0h5.2M474.0 222.4V249.6M471.4 222.4h5.2M471.4 249.6h5.2M475.0 233.0V259.0M472.4 233.0h5.2M472.4 259.0h5.2M475.6 238.0V264.0M473.0 238.0h5.2M473.0 264.0h5.2M472.0 250.6V276.6M469.4 250.6h5.2M469.4 276.6h5.2M474.4 252.0V278.0M471.8 252.0h5.2M471.8 278.0h5.2M485.6 175.0V205.0M483.0 175.0h5.2M483.0 205.0h5.2M483.6 209.4V239.4M481.0 209.4h5.2M481.0 239.4h5.2M485.6 216.0V246.0M483.0 216.0h5.2M483.0 246.0h5.2M485.6 238.0V268.0M483.0 238.0h5.2M483.0 268.0h5.2M500.0 200.0V220.0M497.4 200.0h5.2M497.4 220.0h5.2M501.0 205.0V225.0M498.4 205.0h5.2M498.4 225.0h5.2M499.0 209.0V229.0M496.4 209.0h5.2M496.4 229.0h5.2M501.0 215.0V235.0M498.4 215.0h5.2M498.4 235.0h5.2M499.0 221.0V241.0M496.4 221.0h5.2M496.4 241.0h5.2M500.0 226.0V246.0M497.4 226.0h5.2M497.4 246.0h5.2M499.0 233.0V253.0M496.4 233.0h5.2M496.4 253.0h5.2M497.6 224.6V266.6M495.0 224.6h5.2M495.0 266.6h5.2M541.6 169.0V213.0M539.0 169.0h5.2M539.0 213.0h5.2M153.0 195.6V232.6M150.4 195.6h5.2M150.4 232.6h5.2M153.3 204.5V246.5M150.7 204.5h5.2M150.7 246.5h5.2M154.0 211.3V255.3M151.4 211.3h5.2M151.4 255.3h5.2M153.5 227.9V264.9M150.9 227.9h5.2M150.9 264.9h5.2M194.0 204.4V217.9M191.4 204.4h5.2M191.4 217.9h5.2M195.6 211.5V226.0M193.0 211.5h5.2M193.0 226.0h5.2M208.6 216.5V232.5M206.0 216.5h5.2M206.0 232.5h5.2M208.4 230.0V247.0M205.8 230.0h5.2M205.8 247.0h5.2M236.2 189.7V202.7M233.6 189.7h5.2M233.6 202.7h5.2M237.1 197.6V213.6M234.5 197.6h5.2M234.5 213.6h5.2M236.9 205.5V223.5M234.3 205.5h5.2M234.3 223.5h5.2M251.6 189.4V211.4M249.0 189.4h5.2M249.0 211.4h5.2M320.5 38.7V55.7M317.9 38.7h5.2M317.9 55.7h5.2M319.9 44.3V63.3M317.3 44.3h5.2M317.3 63.3h5.2M320.8 49.7V71.7M318.2 49.7h5.2M318.2 71.7h5.2M360.8 139.8V158.8M358.2 139.8h5.2M358.2 158.8h5.2M361.3 146.8V164.8M358.7 146.8h5.2M358.7 164.8h5.2M360.8 150.9V170.9M358.2 150.9h5.2M358.2 170.9h5.2M361.7 161.4V186.4M359.1 161.4h5.2M359.1 186.4h5.2M388.4 166.6V201.6M385.8 166.6h5.2M385.8 201.6h5.2M389.7 179.9V206.9M387.1 179.9h5.2M387.1 206.9h5.2M389.8 193.4V212.4M387.2 193.4h5.2M387.2 212.4h5.2M403.1 187.3V201.3M400.5 187.3h5.2M400.5 201.3h5.2M403.0 193.1V207.1M400.4 193.1h5.2M400.4 207.1h5.2M402.8 204.3V221.3M400.2 204.3h5.2M400.2 221.3h5.2M444.6 184.2V226.2M442.0 184.2h5.2M442.0 226.2h5.2M474.7 227.7V254.3M472.1 227.7h5.2M472.1 254.3h5.2M474.0 244.6V270.6M471.4 244.6h5.2M471.4 270.6h5.2M484.1 213.6V243.6M481.5 213.6h5.2M481.5 243.6h5.2M499.9 212.3V232.3M497.3 212.3h5.2M497.3 232.3h5.2M500.3 217.4V237.4M497.7 217.4h5.2M497.7 237.4h5.2M498.4 229.3V249.3M495.8 229.3h5.2M495.8 249.3h5.2"/><g stroke="none"><circle cx="139.3" cy="68.9" r="2.45"/><circle cx="141.2" cy="217.2" r="2.45"/><circle cx="141.2" cy="266.2" r="2.45"/><circle cx="154.4" cy="155.6" r="2.45"/><circle cx="153.6" cy="210.0" r="2.45"/><circle cx="154.0" cy="216.5" r="2.45"/><circle cx="154.4" cy="221.0" r="2.45"/><circle cx="154.6" cy="229.0" r="2.45"/><circle cx="152.0" cy="239.0" r="2.45"/><circle cx="153.7" cy="243.0" r="2.45"/><circle cx="153.7" cy="248.5" r="2.45"/><circle cx="195.6" cy="208.1" r="2.45"/><circle cx="194.8" cy="213.8" r="2.45"/><circle cx="195.0" cy="223.8" r="2.45"/><circle cx="195.6" cy="228.0" r="2.45"/><circle cx="195.6" cy="232.5" r="2.45"/><circle cx="195.2" cy="237.5" r="2.45"/><circle cx="195.0" cy="242.0" r="2.45"/><circle cx="208.8" cy="205.0" r="2.45"/><circle cx="208.1" cy="222.0" r="2.45"/><circle cx="208.1" cy="228.0" r="2.45"/><circle cx="208.5" cy="232.5" r="2.45"/><circle cx="209.8" cy="245.0" r="2.45"/><circle cx="237.6" cy="193.0" r="2.45"/><circle cx="236.4" cy="200.0" r="2.45"/><circle cx="235.6" cy="211.0" r="2.45"/><circle cx="239.0" cy="219.0" r="2.45"/><circle cx="252.4" cy="130.6" r="2.45"/><circle cx="252.2" cy="152.0" r="2.45"/><circle cx="251.6" cy="170.6" r="2.45"/><circle cx="251.0" cy="193.0" r="2.45"/><circle cx="250.0" cy="208.0" r="2.45"/><circle cx="251.6" cy="212.0" r="2.45"/><circle cx="249.6" cy="269.6" r="2.45"/><circle cx="277.4" cy="91.4" r="2.45"/><circle cx="278.4" cy="158.0" r="2.45"/><circle cx="277.6" cy="165.0" r="2.45"/><circle cx="277.0" cy="181.0" r="2.45"/><circle cx="293.0" cy="116.6" r="2.45"/><circle cx="293.6" cy="139.6" r="2.45"/><circle cx="305.6" cy="74.4" r="2.45"/><circle cx="304.6" cy="100.6" r="2.45"/><circle cx="319.0" cy="44.4" r="2.45"/><circle cx="319.6" cy="50.0" r="2.45"/><circle cx="320.0" cy="56.0" r="2.45"/><circle cx="320.4" cy="65.0" r="2.45"/><circle cx="318.0" cy="78.0" r="2.45"/><circle cx="318.4" cy="84.0" r="2.45"/><circle cx="361.0" cy="145.0" r="2.45"/><circle cx="361.0" cy="152.0" r="2.45"/><circle cx="362.0" cy="158.0" r="2.45"/><circle cx="361.6" cy="164.0" r="2.45"/><circle cx="360.4" cy="169.0" r="2.45"/><circle cx="363.0" cy="177.0" r="2.45"/><circle cx="362.4" cy="211.6" r="2.45"/><circle cx="390.4" cy="161.6" r="2.45"/><circle cx="388.4" cy="178.0" r="2.45"/><circle cx="389.6" cy="189.0" r="2.45"/><circle cx="389.0" cy="197.0" r="2.45"/><circle cx="390.0" cy="207.0" r="2.45"/><circle cx="404.0" cy="191.0" r="2.45"/><circle cx="403.0" cy="198.0" r="2.45"/><circle cx="405.0" cy="198.0" r="2.45"/><circle cx="402.4" cy="204.0" r="2.45"/><circle cx="404.0" cy="209.0" r="2.45"/><circle cx="403.0" cy="215.0" r="2.45"/><circle cx="418.4" cy="163.6" r="2.45"/><circle cx="419.0" cy="227.6" r="2.45"/><circle cx="443.0" cy="177.0" r="2.45"/><circle cx="443.6" cy="198.0" r="2.45"/><circle cx="444.0" cy="214.0" r="2.45"/><circle cx="446.8" cy="214.4" r="2.45"/><circle cx="442.4" cy="254.0" r="2.45"/><circle cx="446.0" cy="250.0" r="2.45"/><circle cx="474.0" cy="236.0" r="2.45"/><circle cx="475.0" cy="246.0" r="2.45"/><circle cx="475.6" cy="251.0" r="2.45"/><circle cx="472.0" cy="263.6" r="2.45"/><circle cx="474.4" cy="265.0" r="2.45"/><circle cx="485.6" cy="190.0" r="2.45"/><circle cx="483.6" cy="224.4" r="2.45"/><circle cx="485.6" cy="231.0" r="2.45"/><circle cx="485.6" cy="253.0" r="2.45"/><circle cx="500.0" cy="210.0" r="2.45"/><circle cx="501.0" cy="215.0" r="2.45"/><circle cx="499.0" cy="219.0" r="2.45"/><circle cx="501.0" cy="225.0" r="2.45"/><circle cx="499.0" cy="231.0" r="2.45"/><circle cx="500.0" cy="236.0" r="2.45"/><circle cx="499.0" cy="243.0" r="2.45"/><circle cx="497.6" cy="245.6" r="2.45"/><circle cx="541.6" cy="191.0" r="2.45"/><circle cx="153.0" cy="214.1" r="2.45"/><circle cx="153.3" cy="225.5" r="2.45"/><circle cx="154.0" cy="233.3" r="2.45"/><circle cx="153.5" cy="246.4" r="2.45"/><circle cx="194.0" cy="211.2" r="2.45"/><circle cx="195.6" cy="218.8" r="2.45"/><circle cx="208.6" cy="224.5" r="2.45"/><circle cx="208.4" cy="238.5" r="2.45"/><circle cx="236.2" cy="196.2" r="2.45"/><circle cx="237.1" cy="205.6" r="2.45"/><circle cx="236.9" cy="214.5" r="2.45"/><circle cx="251.6" cy="200.4" r="2.45"/><circle cx="320.5" cy="47.2" r="2.45"/><circle cx="319.9" cy="53.8" r="2.45"/><circle cx="320.8" cy="60.7" r="2.45"/><circle cx="360.8" cy="149.3" r="2.45"/><circle cx="361.3" cy="155.8" r="2.45"/><circle cx="360.8" cy="160.9" r="2.45"/><circle cx="361.7" cy="173.9" r="2.45"/><circle cx="388.4" cy="184.1" r="2.45"/><circle cx="389.7" cy="193.4" r="2.45"/><circle cx="389.8" cy="202.9" r="2.45"/><circle cx="403.1" cy="194.3" r="2.45"/><circle cx="403.0" cy="200.1" r="2.45"/><circle cx="402.8" cy="212.8" r="2.45"/><circle cx="444.6" cy="205.2" r="2.45"/><circle cx="474.7" cy="241.0" r="2.45"/><circle cx="474.0" cy="257.6" r="2.45"/><circle cx="484.1" cy="228.6" r="2.45"/><circle cx="499.9" cy="222.3" r="2.45"/><circle cx="500.3" cy="227.4" r="2.45"/><circle cx="498.4" cy="239.3" r="2.45"/></g></g></g>
<path d="M101.70 270.0v-5.2M101.70 32.75v5.2M129.39 270.0v-5.2M129.39 32.75v5.2M157.09 270.0v-5.2M157.09 32.75v5.2M184.78 270.0v-5.2M184.78 32.75v5.2M212.47 270.0v-10.3M212.47 32.75v10.3M240.16 270.0v-5.2M240.16 32.75v5.2M267.85 270.0v-5.2M267.85 32.75v5.2M295.55 270.0v-5.2M295.55 32.75v5.2M323.24 270.0v-5.2M323.24 32.75v5.2M350.93 270.0v-10.3M350.93 32.75v10.3M378.62 270.0v-5.2M378.62 32.75v5.2M406.31 270.0v-5.2M406.31 32.75v5.2M434.01 270.0v-5.2M434.01 32.75v5.2M461.70 270.0v-5.2M461.70 32.75v5.2M489.39 270.0v-10.3M489.39 32.75v10.3M517.08 270.0v-5.2M517.08 32.75v5.2M544.77 270.0v-5.2M544.77 32.75v5.2M92.8 36.57h5.2M550.4 36.57h-5.2M92.8 47.71h5.2M550.4 47.71h-5.2M92.8 58.86h5.2M550.4 58.86h-5.2M92.8 70.00h5.2M550.4 70.00h-5.2M92.8 81.15h10.3M550.4 81.15h-10.3M92.8 92.30h5.2M550.4 92.30h-5.2M92.8 103.44h5.2M550.4 103.44h-5.2M92.8 114.59h5.2M550.4 114.59h-5.2M92.8 125.73h5.2M550.4 125.73h-5.2M92.8 136.88h10.3M550.4 136.88h-10.3M92.8 148.02h5.2M550.4 148.02h-5.2M92.8 159.16h5.2M550.4 159.16h-5.2M92.8 170.31h5.2M550.4 170.31h-5.2M92.8 181.45h5.2M550.4 181.45h-5.2M92.8 192.60h10.3M550.4 192.60h-10.3M92.8 203.75h5.2M550.4 203.75h-5.2M92.8 214.89h5.2M550.4 214.89h-5.2M92.8 226.04h5.2M550.4 226.04h-5.2M92.8 237.18h5.2M550.4 237.18h-5.2M92.8 248.33h10.3M550.4 248.33h-10.3M92.8 259.47h5.2M550.4 259.47h-5.2M102.50 544.7v-5.2M102.50 307.0v5.2M120.67 544.7v-10.3M120.67 307.0v10.3M138.84 544.7v-5.2M138.84 307.0v5.2M157.01 544.7v-5.2M157.01 307.0v5.2M175.18 544.7v-5.2M175.18 307.0v5.2M193.35 544.7v-5.2M193.35 307.0v5.2M211.52 544.7v-10.3M211.52 307.0v10.3M229.69 544.7v-5.2M229.69 307.0v5.2M247.86 544.7v-5.2M247.86 307.0v5.2M266.03 544.7v-5.2M266.03 307.0v5.2M284.20 544.7v-5.2M284.20 307.0v5.2M302.37 544.7v-10.3M302.37 307.0v10.3M320.54 544.7v-5.2M320.54 307.0v5.2M338.71 544.7v-5.2M338.71 307.0v5.2M356.88 544.7v-5.2M356.88 307.0v5.2M375.05 544.7v-5.2M375.05 307.0v5.2M393.22 544.7v-10.3M393.22 307.0v10.3M411.39 544.7v-5.2M411.39 307.0v5.2M429.56 544.7v-5.2M429.56 307.0v5.2M447.73 544.7v-5.2M447.73 307.0v5.2M465.90 544.7v-5.2M465.90 307.0v5.2M484.07 544.7v-10.3M484.07 307.0v10.3M502.24 544.7v-5.2M502.24 307.0v5.2M520.41 544.7v-5.2M520.41 307.0v5.2M538.58 544.7v-5.2M538.58 307.0v5.2M92.8 310.90h5.2M550.4 310.90h-5.2M92.8 327.25h5.2M550.4 327.25h-5.2M92.8 343.60h10.3M550.4 343.60h-10.3M92.8 359.95h5.2M550.4 359.95h-5.2M92.8 376.30h5.2M550.4 376.30h-5.2M92.8 392.65h5.2M550.4 392.65h-5.2M92.8 409.00h10.3M550.4 409.00h-10.3M92.8 425.35h5.2M550.4 425.35h-5.2M92.8 441.70h5.2M550.4 441.70h-5.2M92.8 458.05h5.2M550.4 458.05h-5.2M92.8 474.40h10.3M550.4 474.40h-10.3M92.8 490.75h5.2M550.4 490.75h-5.2M92.8 507.10h5.2M550.4 507.10h-5.2M92.8 523.45h5.2M550.4 523.45h-5.2M92.8 539.80h10.3M550.4 539.80h-10.3" stroke="#000" stroke-width="1.45" fill="none"/>
<rect x="92.8" y="32.75" width="457.59999999999997" height="237.25" fill="none" stroke="#000" stroke-width="1.45"/>
<rect x="92.8" y="307.0" width="457.59999999999997" height="237.70000000000005" fill="none" stroke="#000" stroke-width="1.45"/>
<rect x="549.0" y="211.0" width="1.3" height="1.4" fill="#0a50ff"/>
<rect x="549.0" y="226.0" width="1.3" height="1.4" fill="#0a50ff"/>
<rect x="549.0" y="237.60000000000002" width="1.3" height="1.4" fill="#0a50ff"/>
<rect x="549.0" y="244.3" width="1.3" height="1.4" fill="#0a50ff"/>
<rect x="549.0" y="262.6" width="1.3" height="1.4" fill="#0a50ff"/>
<rect x="92.7" y="226.60000000000002" width="1.3" height="1.4" fill="#33ee33"/>
<rect x="92.7" y="265.2" width="1.3" height="1.4" fill="#33ee33"/>
<g style="font-family:'DejaVu Serif Condensed','DejaVu Serif',serif;font-stretch:condensed;font-size:15.7px;letter-spacing:0.45px;">
<text x="212.7" y="290.7" text-anchor="middle" stroke="#000" stroke-width="0.5">7510</text>
<text x="351.1" y="290.7" text-anchor="middle" stroke="#000" stroke-width="0.5">7520</text>
<text x="489.6" y="290.7" text-anchor="middle" stroke="#000" stroke-width="0.5">7530</text>
<text x="83.5" y="87.2" text-anchor="end" stroke="#000" stroke-width="0.5">18.5</text>
<text x="83.5" y="142.9" text-anchor="end" stroke="#000" stroke-width="0.5">19</text>
<text x="83.5" y="198.6" text-anchor="end" stroke="#000" stroke-width="0.5">19.5</text>
<text x="83.5" y="254.3" text-anchor="end" stroke="#000" stroke-width="0.5">20</text>
<text x="120.7" y="565.0" text-anchor="middle" stroke="#000" stroke-width="0.5">7450</text>
<text x="211.5" y="565.0" text-anchor="middle" stroke="#000" stroke-width="0.5">7500</text>
<text x="302.4" y="565.0" text-anchor="middle" stroke="#000" stroke-width="0.5">7550</text>
<text x="393.2" y="565.0" text-anchor="middle" stroke="#000" stroke-width="0.5">7600</text>
<text x="484.1" y="565.0" text-anchor="middle" stroke="#000" stroke-width="0.5">7650</text>
<text x="83.5" y="349.6" text-anchor="end" stroke="#000" stroke-width="0.5">16</text>
<text x="83.5" y="415.0" text-anchor="end" stroke="#000" stroke-width="0.5">18</text>
<text x="83.5" y="480.4" text-anchor="end" stroke="#000" stroke-width="0.5">20</text>
<text x="83.5" y="545.8" text-anchor="end" stroke="#000" stroke-width="0.5">22</text>
<text x="321.0" y="584.0" text-anchor="middle" stroke="#000" stroke-width="0.5">HJD&#8722;2450000</text>
<text transform="translate(39,151.3) rotate(-90)" text-anchor="middle" stroke="#000" stroke-width="0.5">Magnitude</text>
<text transform="translate(53.7,426) rotate(-90)" text-anchor="middle" stroke="#000" stroke-width="0.5">Magnitude</text>
</g>
</svg></body></html>
